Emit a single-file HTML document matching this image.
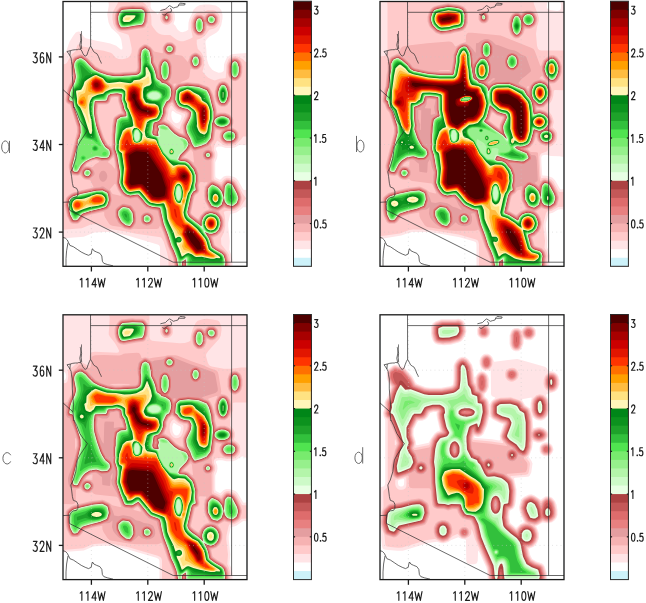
<!DOCTYPE html><html><head><meta charset="utf-8"><style>body{margin:0;background:#fff;width:646px;height:603px;overflow:hidden}svg{display:block;font-family:"Liberation Sans",sans-serif}.grid{stroke:#c8c8c8;stroke-width:0.6;stroke-dasharray:0.8 3.4}.ml polyline{fill:none;stroke:#2a2a2a;stroke-width:0.7}.frame{fill:none;stroke:#1a1a1a;stroke-width:1.3}.tick{stroke:#1a1a1a;stroke-width:1.3}.cbf{fill:none;stroke:#2a2a2a;stroke-width:1}.cbt{stroke:#1a1a1a;stroke-width:1.2}.st path{vector-effect:non-scaling-stroke}</style></head><body><svg width="646" height="603" viewBox="0 0 646 603"><defs><clipPath id="clipa"><rect x="63.0" y="1.5" width="184.0" height="264.8"/></clipPath><clipPath id="clipb"><rect x="380.0" y="1.5" width="184.0" height="264.8"/></clipPath><clipPath id="clipc"><rect x="63.0" y="314.8" width="184.0" height="264.8"/></clipPath><clipPath id="clipd"><rect x="380.0" y="314.8" width="184.0" height="264.8"/></clipPath></defs><rect width="646" height="603" fill="#fff"/><g clip-path="url(#clipa)"><rect x="63.0" y="1.5" width="184.0" height="264.8" fill="#cdf2fa"/>
<g transform="scale(0.25)">
<path fill="#ffffff" d="M987 1065l-734 0 0-1058 734 0z"/>
<path fill="#ffe4e6" d="M929 1065l-289 0 0-72-1-8-4-5-8-3-114-34-66-15-28 0-40 2-10 3-34 14-66 5-16 3 0-740 6-4 6-7 13-37 15-24 10-13 10-4 6 1 4 3 14 19 6 4 42 10 28 5 28 6 24 9 18 15 4 0 2-1 1-6-3-20-2-12-4-10-8-12-27-24-7-12-5-12-5-32 6-34 0-8-2-8 170 0-1 18 3 10 4 4 14 10 8 9 10-15 10-8 14-3 14 2 8 5 6 6 6 12 1 20-6 18 1 2 6 5 7 13 5 6 8 6 8 2 14-4 10-6 1-28 4-16 10-20 6-16 11-11 12-7 20-3 20 0 26 4 14 9 8 10 5 18 0 14-5 28-11 22-9 8-28 16-10 10-5 8 0 8 3 22 2 38 6 22 5 10 11 14 8 5 17 7 11-1 6-3 4-4 1-24 3-10 7-16 9-9 10-6 8-2 54-4 0 369-30-1-18 10-12 2-24 0-18-6-12 0-6 2-4 5 0 4 6 12 1 12-2 12-7 16 0 52 1 8 5 4 12 6 4-2 12-11 10-3 12 0 20 5 8 5 7 8 21 37 4 2 10-1 0 70-14 0-10 9-18 12-10 3-12 2-3 4-7 32 0 14 6 60-2 34 7 18 5 20 1 20zM713 491l6-5 4-7 3-10 0-6-3-3-18-7-12-9-4-1-3 6-1 12 2 12 3 8 5 7 6 4 6 1z"/>
<path fill="#ffcaca" d="M919 1065l-245 0 0-28-5-24-14-46-8-14-4-4-98-14-42-9-68-11-12-4-28-13-8-2-24 2-36 15-74 6 0-662 8-1 6-4 15-27 9-11 11-9 7-23 4-5 12 7 6 2 27 5 19 6 38 6 28 8 6 4 14 16 12 5 14 1 14-3 10-4 7-7 6-12 1-16-9-44-4-12-35-11-7-3-8-8-8-14-3-8-3-18 0-20 4-14 17-30 1-6 99 1 12 10 14 21 8 26 1 34 6 10 14 18 9 7 10 4 12 2 24 0 24 18 8 4 10 3 10 0 10-3 20-8 8-5-8-38 0-20 3-12 4-10 4-6 7-7 6-5 8-3 10-1 10 1 12-6 6-1 18 0 10 2 10 9 6 9 2 6 0 20-5 12-7 8-10 7-20 5-13 18-9 9-10 7-18 6 0 2 0 14 4 20 14 15 6 11 4 12 2 26-3 12-4 14 1 2 13 16 9 8 10 5 16 6 20-7 22-2 2-2 3-54 8-20 9-8 12-4 16 1 21 11 9 10 6 1 0 298-14 0-10 13-18 17-8 5-8 2-22 0-8-1-9-5-21-15-10 16-4 15 0 6 5 12 1 8-1 10-5 10-1 6 0 58 1 13 4 3 24 11 4-3 10-11 10-5 10 1 20 6 9 9 25 48 13 18-2 4-20 30-17 13-14 5-18-2-14 2-4 4 3 12 3 18 0 24-5 26-12 24 1 22 1 4 25 31 5 9 5 24 0 16-1 6zM669 99l-10-1-8-4-7-9-3-10 0-12 5-12 7-7 10-3 10 1 8 4 7 7 3 10 0 16-3 8-9 9zM719 515l7-20 14-30 1-8-2-2-22-7-10-4-11-11-9-11-2 0-4 3-7 12-1 16-5 24 17 15 14 14 10 7 8 3z"/>
<path fill="#f6b2b2" d="M507 123l-20 1-8-2-7-5-6-8-5-12-3-22 2-16 2-8 4-8 11-13 10-5 44-4 12 1 26 0 10 4 7 7 5 8 3 10-3 36-9 20-5 4-6 2-24 3zM669 93l-8 0-6-3-5-7-3-8 0-10 4-10 4-5 8-3 8 0 6 3 6 7 2 6 1 12-3 8-6 7zM803 143l-10 0-8-3-9-9-4-8-4-14 0-16 4-14 5-10 6-7 8-3 14 0 12 7 10-10 6-4 16-2 10 3 10 9 4 7 0 16-4 10-8 8-10 4-10 0-14-4-2 16-6 12-8 9zM913 1065l-215 0-7-32-10-26-9-20-21-62-10-20-2-1-4 9-8 3-72 0-20-1-16 5-18-4-18-8-34-5-9-4-5-6-15-24-3-8 0-12-4-1-46 10-28 9-17 20-9 7-8 2-14-1-6-2-5-4-12-24-9-40 0-10 4-20 3-6 7-7 14-10 34-10 46-11 5-2 2-2-13-26-16-2-8-2-8-7-8-10-12 3-18-2-6-3-5-7-5-20 0-12 33-132-1-22-27-84-1-2-8-4-5-4-3-6-1-6 5-34 7-20 11-22 4-16-7-38 1-18 8-18 6-7 20-8 6-1 6 1 22 14 32 33 17 10 33 11 24 4 22 0 14-2 46-2 7-3 4-14-2-46 4-20 3-8 4-5 12-10 6-3 10 1 16 10 14 18 32 7 3-2-2-12 1-10 7-12 5-5 6-3 12-1 8 2 11 9 5 8 0 14-6 16 1 2 25 3 6 3 20 23 10-25 5-6 7-4 8-3 8 2 8 4 7 7 5 10 1 14-1 10-5 10-9 9-8 3-10 0-12-5-3 1-4 30-3 8-8 6-25 10 5 2 24-3 12 2 32 3 36 13 6 4 4 5 9 16 6 18 5 26 6 24 2 12 2 1 12-2 18 1 14 5 9 7 7 8 3 10-1 14-6 14 14 8 5 4 7 8 2 8 1 12-2 6-4 8-9 9-12 5-24 0-8-3-6-4-7-7-4-8-2-6 1-12 4-14-16-4-4 0-3 10-1 14-3 16-10 16-3 6 3 8 1 10 7 12 2 8-2 10-6 10-2 6 0 74 2 2 11 4 26 14 13-16 7-5 8-1 20 6 7 6 10 16 12 26 5 18 0 10-8 22-4 5-14 9-8 4-6 0-30-8-21 14 1 4 12 16 5 12 2 10-1 18-6 16-5 8-13 13-19 9 6 26 2 4 35 21 9 9 4 6 8 26-1 16-1 6zM941 325l-10-2-9-6-8-12-4-14 0-28 5-14 4-8 4-5 8-4 8-2 12 3 10 9 5 9 4 16-1 24-4 16-12 13zM897 427l-12 0-11-6-10-14-6-18 1-24 6-20 10-15 8-4 6-2 12 2 11 7 8 14 6 20-1 20-6 20-9 14-7 4zM698 345l7-8 1-2-1-1-12 1 2 8zM445 585l2-8-1-40 2-12 0-20 6-32 5-7 12-8 16-7-14-46-1-14-1-2-4-1-8 0-13 3-7 18-3 4-5 3-8 2-26 0-4 1-3 20 0 14 7 38 6 22 12 34 6 13 10 16 8 7zM732 533l0-8-2-12 1-14 16-33 2-11-6-6-16-3-18-8-11-11-7-14-4-2-11 8-7 14-2 5 0 15-10 28 1 2 22 12 25 26 18 12 6 1zM776 649l-4-40-4-6-5-5-24 25-4 4 1 2 17 6 20 14 2 1zM460 673l-2-28-3-14-2-3-12 12-9 7 0 2 15 11 12 15zM372 667l9-10 14-8 2-2-2-2-7-4-5-1-16 3-18 10-6 8 0 2 2 1 10 1 12 3zM794 875l8-14 13-13 8-5 14-6-17-32-4-20 0-20 3-16 3-6 8-10 1-2-2-2-26-1-4 2-3 9 2 20-2 8-4 6-9 6-2 3-3 5-3 10-11 54 3 6 12 10 12 8zM485 781l-15-24-7-18-2-3-2-1-19 22 7 15 4 4 4 1 26 6 2 0z"/>
<path fill="#e49ea0" d="M511 119l-8 1-20 0-6-3-6-6-7-14-2-20 0-16 3-10 4-6 10-13 8-4 44-4 10 1 28 1 8 3 11 12 2 10-2 36-9 18-8 5-24 3zM671 90l-8 0-6-3-4-4-3-8 0-10 2-6 5-6 6-3 6 0 6 3 4 4 3 6 0 16-5 7zM805 140l-10 0-6-1-10-9-5-9-2-12 0-16 2-12 5-10 8-8 10-1 10 1 10 8 2 0 8-11 8-6 16 0 8 3 8 8 3 6 0 14-3 8-8 8-10 3-10 0-14-8-2 3-1 16-2 8-6 10zM687 219l-8 2-10-2-8-5-6-9-1-10 1-8 6-9 8-6 12 0 8 1 9 8 4 6 0 10-1 8-6 9zM909 1065l-208 0-6-32-10-26-11-22-12-40-18-46-13-54-4-3-24-4-18-7-14-14-15-20-7-6-10 0-18 4-20-7-6-4-9-9-12-18-8-24 3-42-10-59-4-13-2 0-13 18-7 5-26 2-18-6-8-1-16 4-20 12-8 10-2 6 16-1 10 2 11 9 4 6 2 6 0 6-4 6-15 12-12 1-10-3-8-8-6-13-8 7-6 1-18-2-6-5-5-12-2-12 0-8 33-128 0-22-28-92-2-3-8-3-4-4-3-6 0-6 4-32 7-18 12-24 2-10 1-10-6-32 0-18 6-16 7-8 22-9 10 2 18 12 32 34 20 11 30 10 30 5 22-1 10-1 48-3 8-4 4-14-1-48 4-24 6-8 11-8 6-3 6 0 17 11 6 8 7 28 1 20 15 31 2-17 5-14 11-12 8-2 10 1 6 3 7 8 4 8 3 12 0 28-3 18-9 16 13 12 7 12 4-1 11-11 5-3 34-4 46 4 36 13 8 8 10 22 15 58 1 18 4 2 12-3 20 0 16 7 8 8 5 10 0 14-3 8-7 10 2 2 11 3 9 5 7 8 3 8 0 12-1 6-4 7-7 7-9 5-8 0-18 0-10-5-10-10-3-10 0-14 8-14-2-2-11-1-16-5-2 4-5 40-7 10-12 15-6 4-18 8-30 9-6-1-12-10-2 1-7 10-22 22-3 6 3 2 9 1 10 3 13 10 22 26 8 22 1 28-3 18 2 22-3 6-10 7-6 9-14 64 1 6 3 4 24 19 6 2 2-1 8-16 16-16 8-3 18-3 3-2-12-8-11-18-5-10-2-18 0-20 2-16 4-6 15-15 6-2 8 1 20 10 10 8 2-1 12-18 6-5 8-1 16 4 6 4 4 5 20 38 5 16 0 8-5 20-6 8-16 11-8 2-22-4-10-5-22 14-6 2-8 0 2 0 12 9 12 15 5 16 0 18-4 16-6 10-13 12-20 8-2 4 8 27 3 5 11 8 24 14 9 8 4 6 6 24 0 16-1 6zM789 276l-12 0-7-3-8-10-4-12 0-12 5-14 6-6 10-5 8 0 8 5 6 6 5 10 0 16-1 8-6 9zM943 322l-8 0-10-6-8-11-3-12 0-30 2-10 9-14 6-4 6-1 11 1 9 7 5 7 4 16 0 24-3 14-4 6-5 6zM899 424l-14 0-10-6-9-15-4-18 0-20 6-20 9-12 12-5 10 0 10 7 9 14 4 18 0 20-5 18-8 13zM448 591l2-14 0-40 1-12 1-20 4-30 5-6 14-10 6-3 10-1 2-2-7-16-3-14-7-18-1-17-2-2-4-1-10 0-12 2-4 2-6 18-4 4-4 3-38 1-2 4-2 20 0 14 6 36 7 26 13 36 16 28 16 12 2 1zM737 537l-3-22 0-14 17-36 2-12-4-4-6-4-14-2-18-8-10-10-10-18-2-1-2 0-14 11-8 16-1 4 0 16-12 30 2 2 23 12 24 25 16 11 14 5 4 1zM835 641l-8 0-6-2-6-6-3-6-1-8 1-8 7-8 6-3 8-1 8 2 8 7 3 7 0 10-3 6-6 7zM415 727l-6 0-6-4-4-6-3-10 1-9 2-5 6-8 6-2 5 0 6 4 5 8 2 7 0 7-4 10-6 6zM311 892l-18 0-8-3-4-4-10-20-9-44 4-26 5-7 14-11 10-5 28-8 58-13 19-2 7-3 6 0 25 17 4 6 2 10 3 22-5 20-9 14-8 5-60 15-26 8-6 5-14 18zM523 916l-8 0-16-4-5-3-21-18-11-22-1-20 1-12 7-8 12-9 8-4 8-1 22 5 4 1 6 6 13 20 3 26-1 16-2 6-10 14zM597 901l-10 2-10-3-8-5-5-10-1-14 1-8 7-8 10-5 10-1 10 3 10 9 3 8 1 10-3 10-7 8z"/>
<path fill="#e88080" d="M507 117l-20 1-6-2-6-5-8-14-2-18 0-16 3-12 9-13 5-5 5-2 44-4 10 1 28 1 8 3 8 11 3 10-3 34-8 16-6 4-24 3zM669 87l-6 0-4-2-5-6-1-6 0-8 2-6 4-4 6-2 6 1 4 2 3 5 1 4-1 14-3 5zM803 137l-8 0-6-2-8-7-4-8-2-11 0-16 2-12 6-10 4-4 4-2 12 0 6 3 10 13 2 0 4-14 8-8 4-2 8-1 8 1 4 2 7 6 3 6 0 14-4 8-8 7-12 1-10-4-10-10-2 0-2 32-7 12zM683 217l-8 1-8-3-6-5-4-8 0-9 2-8 6-7 6-3 16 1 9 7 3 6 0 10-2 8-6 7zM907 1065l-203 0-6-32-11-28-10-20-12-40-18-46-8-34-3-18-3-6-6-3-22-3-18-7-13-13-16-20-9-8-28 4-20-6-13-12-10-14-5-10-4-14-1-10 4-36-5-24-7-42-8-24 1-22-1-40 2-12 1-20 4-28 3-6 15-10 6-2 12-1 2-3-1-4-6-10-3-8-1-10-7-20-1-16-3-4-14-1-16 2-6 5-4 16-6 5-6 2-32 0-3 1-2 4-2 22 0 14 6 36 7 24 13 38 7 14 10 16 15 12 5 8 3 12-3 10-9 12-7 4-24 2-22-7-20 5-19 10-11 12-11 22-9 12-6 2-14-2-4-1-4-3-4-8-2-12 0-10 11-40 14-62 8-26 0-22-7-26-17-50-5-18-2-4-8-3-4-3-2-4-1-6 5-32 7-18 11-22 3-10 1-12-6-34 0-16 6-16 6-6 20-8 8 1 18 12 14 16 20 19 18 10 32 11 30 4 22 0 10-1 50-3 6-3 4-4 3-12 0-20-2-12 0-18 5-22 4-7 12-9 4-2 6 1 15 9 5 8 7 28 0 20 11 20 7 18 5 21 2-1-2-8 1-34 6-18 9-9 8-2 10 2 8 9 4 8 3 12 0 28-4 16-10 16 17 15 6 16 2 1 14-15 6-5 34-5 46 5 34 12 8 8 10 22 7 34 7 24 2 21 4 1 14-4 18 0 16 6 8 8 4 10 0 14-5 8-13 10 1 2 21 3 9 5 7 8 2 8 0 12-4 8-7 8-9 4-12 1-12-1-9-4-6-6-4-6-1-6 0-10 4-10 11-12-21-2-10-2-10-5-2 0-1 3-3 30-2 16-18 23-26 12-26 7-8-2-8-9-2-2-2 1-9 14-24 24-3 8 2 3 14 1 8 2 12 9 21 25 5 10 4 14 1 28-3 16 2 22-4 6-8 5-7 11-14 62 0 6 3 6 14 13 20 13 2 0 2-2 8-18 11-12 7-5 12-3 14 0 16 5 10 8 8 11 4 14 1 16-7 22-16 16-22 7-2 3 9 32 3 5 12 9 24 14 12 12 6 24 0 14-1 8zM787 273l-10 0-6-3-7-9-4-12 1-10 4-12 6-6 10-4 6 0 8 5 6 7 2 8 0 16-1 6-8 10zM941 319l-8-1-7-5-7-10-3-12 1-28 2-10 8-12 6-4 6-1 8 2 9 7 3 6 5 16-1 22-3 14-9 11zM897 421l-11 0-9-5-8-13-4-18 0-20 5-18 8-12 11-4 10 0 8 6 8 12 4 18 0 18-4 18-8 13zM742 543l-5-28 0-12 1-6 16-32 2-10-1-4-10-8-14-2-19-8-9-10-12-25-2 0-7 9-11 8-9 18-1 4 1 10-1 6-4 12-11 22 11 2 18 10 24 25 18 12 20 7zM624 521l1-4-2-4-2 2 0 7 2 1zM837 637l-8 1-6-2-6-6-2-5-1-8 2-6 6-6 5-2 8-1 6 3 6 5 2 5 0 8-2 6-5 6zM355 713l-8 0-8-2-7-6-3-6-1-12 2-6 7-7 6-3 10 0 8 2 7 6 3 8 0 8-3 8-7 7zM871 839l-6 0-22-8-4-4-11-18-3-8-3-18 1-18 3-16 14-16 7-4 6 0 20 10 14 12 2-1 6-13 10-12 8-2 16 4 6 5 8 13 14 30 4 14 0 6-6 21-4 5-18 12-6 0-18-4-12-7-18 14zM309 889l-16 0-6-2-4-4-10-20-9-44 5-22 5-8 13-10 8-4 30-8 58-13 28-1 25 12 2 4 3 10 3 14 0 10-6 18-8 12-11 6-54 13-28 9-5 4-15 19zM521 913l-22-4-16-13-8-9-10-20-1-18 1-10 5-6 19-14 6 0 26 5 5 5 13 20 3 24-1 14-2 6-9 14-5 4zM591 899l-8-1-10-4-4-5-3-8 0-12 2-6 7-7 10-4 8 1 9 4 7 8 3 8-1 8-4 9-6 6z"/>
<path fill="#de6c6c" d="M501 115l-14 0-6-2-5-4-6-14-3-18 1-14 3-12 10-13 8-5 42-4 10 2 28 0 7 4 8 12 1 14-3 26-7 15-6 3-24 2zM671 83l-6 2-4-2-5-8-1-6 1-6 3-5 4-2 8 1 5 6 0 14zM853 98l-8 1-8-2-6-5-5-7-1-6 1-8 4-6 5-4 6-2 12 1 5 3 5 6 2 8-1 10-5 7zM805 133l-10 2-6-3-8-9-3-12-1-16 3-12 6-12 7-4 8 0 6 3 6 7 4 10-1 30-4 10zM685 214l-6 1-8-1-6-4-5-7-1-8 1-6 5-7 6-4 10-1 6 2 6 5 3 5 1 8-1 6-5 7zM905 1065l-167 0-1-14-2 0-1 2 0 12-27 0-7-34-10-26-11-22-12-40-17-46-14-58-9-4-22-3-16-6-12-12-16-20-10-9-12 0-18 4-18-6-13-12-10-14-5-10-4-14 4-44-5-24-7-44-7-18-1-8 1-18-1-40 2-10 0-22 5-28 3-5 14-9 6-2 12 0 3-4-1-8-8-12-3-16-6-18 0-18-3-4-8-2-10 0-18 3-6 5-5 16-3 4-6 2-36 0-3 2-1 4-2 38 6 36 7 24 14 40 7 14 10 16 14 11 5 7 3 12-3 10-8 10-7 4-22 1-16-5-6-1-22 7-19 10-11 10-5 8-11 22-4 4-4 2-14-2-6-4-3-8-3-18 14-50 11-54 4-10 5-16 0-24-30-96-2-3-8-2-4-3-2-8 5-30 6-18 12-24 3-10 1-10-7-36 0-14 5-14 6-8 19-7 8 1 17 12 12 14 21 20 20 11 30 10 30 5 24 0 12-2 48-2 8-4 5-6 3-18-2-44 5-22 4-6 11-8 4-1 4 1 13 8 4 6 7 28 1 20 11 22 5 16 4 20 3 5 6 2 3-1-3-16 0-32 5-14 6-8 5-3 4-1 6 1 4 2 8 11 4 14 0 26-3 14-5 11-10 9 20 15 3 5 5 22-2 18-7 16-4 4-7 4-10 18-3 8 1 12-4 14-9 18-10 12 19-1 14 6 7 5 22 24 15 10 8 4 28 9 0-3-7-16-3-16 0-12 17-36 3-10-1-6-3-4-10-7-14-2-12-4-6-4-10-11-7-16-1-6 2-24 3-14 3-5 14-12 32-5 46 5 36 14 9 15 4 12 7 32 7 24 1 22 2 4 2 1 18-7 16 0 16 6 8 7 4 9-1 14-7 9-10 6-10 3-16 0-12-3-14-9-2 4-2 36-3 14-5 9-12 14-24 11-28 8-6-3-8-11-4-2-11 18-23 24-6 12 4 4 14 0 8 3 12 8 21 25 5 10 4 14 0 26-3 16 3 20-4 6-8 4-8 14-14 62 0 6 4 8 14 12 24 17 2 1 1-2 6-18 5-7 12-12 14-4 14 0 16 5 9 8 6 10 5 14 0 14-2 10-5 12-15 14-14 5-10 2-3 1 0 2 8 20 4 16 3 6 12 8 24 13 12 13 6 22 0 12zM789 269l-8 2-7-2-6-6-4-12-1-10 4-12 5-6 7-3 6 0 6 2 6 6 3 7 0 20-4 8zM943 316l-8 0-7-5-6-10-3-10 0-26 2-10 7-12 5-3 6-1 8 2 7 6 4 8 3 12 0 22-3 12-7 9zM899 418l-6 1-6-1-8-4-7-11-5-18 0-18 5-18 8-12 9-4 10 1 7 5 6 10 5 18 0 18-4 16-7 12zM624 535l5-18-4-12 2-8-2-2-4 2-1 2-4 32 1 4 2 1zM923 569l-20-1-9-7-6-8-1-10 2-8 5-8 11-7 14-1 10 1 10 6 7 9 1 14-3 8-11 10zM839 633l-6 2-6-1-8-7-2-6 1-6 7-8 6-2 6 1 8 7 2 6-1 6zM357 709l-6 2-8-1-7-5-4-6-1-10 1-6 6-6 5-3 8-1 6 1 7 5 4 6 1 6-1 6-4 6zM873 836l-6 0-22-7-5-4-10-18-3-8-2-18 0-16 4-16 14-15 4-2 4 0 22 10 14 15 4 1 4-17 11-14 7-1 16 5 5 4 8 14 12 24 4 16 0 8-5 18-4 5-11 7-9 4-20-5-12-10-2 1-6 9zM303 887l-10 0-6-3-11-23-9-42 5-22 5-7 12-9 6-3 30-8 58-13 28-1 20 9 4 4 4 12 2 12 0 10-6 18-8 11-10 4-52 13-30 10-4 2-18 23-4 2zM523 909l-6 1-16-4-4-2-18-16-11-21-1-20 2-8 13-12 9-5 28 5 5 4 12 18 3 24-1 14-10 18zM595 895l-6 2-10-3-6-4-3-7-1-12 2-6 5-6 7-3 8-1 8 3 6 6 3 7 1 8-2 6-6 7z"/>
<path fill="#c45858" d="M509 111l-10 2-16-1-5-5-6-12-3-18 1-12 3-12 8-12 8-5 42-4 36 1 6 3 9 11 1 10-3 28-7 15-4 2-24 3zM669 82l-7-1-4-8 1-10 2-3 4-2 6 2 3 5 0 10-2 4zM851 96l-8 0-6-2-6-5-3-6-1-6 2-6 4-6 4-3 8-1 8 1 9 9 1 10-2 6-4 5zM803 132l-8 0-6-3-6-8-3-12-1-14 3-12 6-10 5-3 8 0 4 2 5 5 4 10 0 28-4 10zM683 212l-6 1-6-2-5-4-4-6-1-6 2-6 4-6 4-3 6-1 8 1 9 9 1 8-2 6-4 5zM901 1065l-160 0 0-17-2-3-7 4-1 16-22 0-6-34-10-26-11-22-13-41-17-45-8-34-5-25-2-3-30-5-16-6-12-11-16-20-12-12-30 5-16-5-12-10-11-16-4-8-5-16 4-32 0-12-5-24-7-42-7-22-1-14 2-8-2-10 0-26 2-14 0-20 6-30 16-12 6-2 13 0 3-4-1-8-8-14-3-16-7-18-1-10 2-10-2-3-16-3-10 0-14 2-8 6-4 16-4 4-6 2-36 0-3 2-1 2-2 42 8 46 12 37 12 29 12 19 14 12 5 7 2 12-4 10-5 6-6 3-20 2-16-4-8-1-22 6-19 10-11 10-6 8-12 22-4 4-16-1-5-3-2-8-2-16 13-49 9-39 1-16 6-10 4-14 0-26-8-29-17-49-5-20-2-3-11-3-2-4-1-4 5-30 6-16 13-26 4-18-7-38-1-12 3-10 7-11 16-7 8 0 18 12 12 14 21 20 21 12 30 10 30 4 26 0 10-2 50-2 10-6 4-5 2-19-2-44 5-22 5-6 12-7 4 1 13 10 4 8 4 22 1 22 9 16 8 20 5 24 4 4 11 6 5 6 16 5 16 12 5 9 3 14-3 18-4 12-5 7-8 5-13 24-1 4 1 14-4 12-8 16-9 9-15 5-2 2-5 34 1 6 5 4 7 0 2-2 0-8 4-12-4-12 2-6 13-3 12-2 18 9 24 26 14 10 8 4 16 5 13 7 10 16 0 8-8 16-25 26-7 14 0 2 3 3 20 2 8 3 8 6 8 8 13 18 8 22 1 26-3 16 2 20-2 4-9 4-8 14-14 62 0 9 6 11 36 28 6 3 9-27 11-12 8-5 12-3 10 1 16 6 9 9 5 8 4 16-1 12-6 18-15 15-14 4-16 0-1 1 8 16 10 32 14 10 25 14 9 10 7 24-1 12-1 8zM787 268l-8 0-6-3-4-6-3-10 0-8 4-12 5-5 6-2 4 0 6 3 5 6 2 6 0 18-3 6zM665 322l-8 1-8-6-3-4-5-16 1-34 6-14 5-5 6-3 6 1 6 6 5 9 3 12 0 24-3 12-4 10zM941 314l-6-1-6-5-6-9-2-10 0-24 3-10 6-10 9-4 6 1 7 7 6 14 1 6 0 18-3 12-7 10zM897 416l-10 0-7-5-6-10-5-18 1-16 4-16 8-12 9-4 6 1 7 5 6 10 5 18-1 16-4 16-7 11zM783 593l-6 0-3-2-12-18-5-17-13-27-3-16 1-10 17-36 2-10 0-8-6-6-8-5-14-2-18-7-9-10-8-18 1-26 3-16 11-12 6-3 12-1 18-4 44 5 35 13 6 8 8 18 7 34 7 24 1 26 2 4 20-9 18 0 8 2 10 5 5 6 2 6 0 10-3 8-10 7-12 4-14 1-12-3-6-3-10-10-2-1-2 5-3 42-2 12-4 8-9 12-6 5-22 9zM929 566l-22 0-6-2-6-5-5-8-1-8 1-6 6-8 11-7 12-1 8 1 12 7 5 10 0 12-5 8zM837 632l-4 1-6-1-7-7-1-6 1-4 7-7 6-1 4 1 7 7 1 6-1 4zM355 708l-10 0-6-3-5-6-1-6 1-8 9-9 8-1 6 2 5 4 4 6 0 6-2 6zM871 834l-18-4-8-4-13-21-2-6-3-18 0-14 3-16 15-15 6-2 22 11 18 20 2-1 2-5 2-16 10-13 6-2 14 4 4 4 7 11 14 28 4 18-5 20-8 8-8 5-6 2-20-4-14-14-7 13zM309 884l-12 1-7-2-3-4-9-18-9-40 5-22 3-6 12-10 8-3 30-8 56-12 28-2 21 11 4 12 3 20-5 16-7 12-10 5-54 13-31 10-3 3-14 19zM521 907l-4 1-16-4-14-11-7-8-10-20-1-16 1-8 13-12 8-4 27 4 16 22 3 22-1 12-2 6-8 12zM593 893l-6 1-8-3-5-4-2-6 0-14 5-6 8-3 6 0 7 3 6 6 2 6 0 6-2 6-5 5z"/>
<path fill="#ac4242" d="M509 109l-8 2-16-1-4-3-7-12-3-18 1-12 3-12 9-12 7-4 40-3 36 1 6 3 7 11 1 12-3 24-7 14-4 2-23 2zM669 79l-4 1-2-1-3-6 0-8 5-5 4 1 3 4 0 10zM851 94l-6 1-6-2-5-4-4-6-1-4 1-6 4-6 5-3 12 0 6 4 3 5 0 12-4 6zM803 129l-8 1-6-4-5-7-3-12 0-12 3-12 5-8 6-4 6 1 5 3 4 6 3 8-1 26-4 10zM683 210l-4 1-6-1-6-4-3-5-1-4 1-6 4-6 5-3 8-1 4 2 7 8 1 6-2 6-3 4zM899 1065l-156 0 0-21-2-4-11 7-1 18-18 0-6-34-11-28-10-22-13-40-17-46-15-62-30-4-18-7-11-11-27-31-4-1-28 5-14-4-6-4-7-7-10-14-4-8-5-16 4-32 0-12-5-24-7-42-8-22 0-14 2-8-2-14 2-56 5-28 3-4 14-9 18-1 3-2 1-2-2-12-7-12-3-8-1-10-7-18 0-10 2-10-2-3-16-3-12 0-14 2-6 3-4 5-4 14-4 5-41 1-3 1-2 5 0 16-2 8 0 19 8 45 12 38 12 28 12 20 15 12 4 6 2 12-5 12-4 4-6 2-18 1-22-5-8 2-16 5-20 10-12 11-7 8-13 23-4 1-10 0-5-4-4-16 0-6 17-66 4-22 1-14 7-12 4-14 0-28-8-28-17-48-5-22-4-4-10-2-2-6 5-28 6-18 12-24 5-20-8-40 0-10 3-10 7-10 16-7 6 1 16 11 12 14 22 21 22 12 30 10 30 4 26 0 10-2 50-2 14-8 2-4 2-14 0-16-2-18 0-16 3-14 3-8 4-5 10-5 8 3 8 7 3 8 4 20 1 22 11 20 6 16 5 25 2 3 14 8 4 6 18 6 15 10 4 8 3 16-3 16-4 12-5 6-8 4-12 24-2 6 1 14-4 12-7 14-8 9-19 7-5 36 0 6 2 3 4 2 14 1-1-12 4-12-4-14 5-4 20-2 18 9 7 9 19 18 18 12 16 5 10 4 7 7 6 12 0 4-1 4-9 16-24 24-7 16 6 5 20 2 14 8 7 7 14 18 9 22 0 26-3 16 2 20-3 3-7 3-8 14-15 64 0 9 4 9 3 4 37 29 8 4 2-3 1-12 5-14 8-9 8-7 12-4 10 0 16 6 9 8 5 8 4 16 0 12-7 18-13 13-12 4-8 1-14-3-3 1 12 20 11 34 14 10 24 13 10 11 6 24-2 18zM787 265l-6 2-6-3-5-7-3-10 1-6 3-10 4-4 6-3 4 0 6 4 4 5 2 6-1 16-4 6zM665 319l-8 1-6-4-3-5-5-14 1-34 6-14 5-4 4-2 6 2 5 4 4 8 3 12 0 24-3 12-4 10zM941 311l-6 0-4-4-5-8-3-10 0-24 3-8 5-10 8-4 6 2 6 6 6 18 0 18-3 12-6 8zM897 414l-8 0-6-3-7-10-5-18 1-16 4-16 7-10 8-4 8 2 7 8 4 10 3 12 0 14-4 16-6 10zM781 591l-6-2-9-14-7-20-13-24-3-18 1-12 17-34 2-10 0-8-6-6-8-6-16-3-16-6-9-9-8-18 1-26 3-14 5-7 10-8 12-1 18-4 42 4 36 14 4 4 7 16 15 54 2 10 0 26 2 8 8-7 10-4 8-3 12 0 10 3 8 4 5 5 2 6 0 10-4 8-11 7-10 3-14-1-12-3-9-8-5-10-2 0-4 10 0 22-4 32-5 10-13 14-22 9zM929 564l-6 1-16-1-10-6-5-7-1-6 1-6 5-8 10-7 10-1 10 1 11 7 4 8 0 10-4 8zM837 629l-8 1-6-5-1-8 5-6 8-1 6 5 1 8zM355 705l-4 2-6-1-6-4-3-5-1-8 2-4 8-7 6-1 6 2 4 3 3 5 0 4-1 6zM871 831l-4 1-20-7-13-20-2-6-3-18 0-14 4-16 14-14 4 0 4 1 16 8 6 6 11 13 5 13 4-19 1-12 9-14 2-2 4 0 14 4 10 14 11 22 6 18 0 6-5 18-6 5-12 7-20-3-5-3-8-10-3-9-8 21zM309 881l-10 2-8-2-11-20-9-40 5-22 3-5 12-10 6-2 30-8 56-13 28-1 20 11 3 10 3 20-5 16-7 11-8 4-54 13-31 10-5 4zM519 906l-18-5-14-11-6-7-9-18-1-18 2-6 18-14 10 0 16 4 15 20 3 22-1 12-11 18zM591 892l-4 0-8-3-5-8-1-10 2-4 4-4 6-3 6 0 6 2 5 5 2 6 0 6-2 6-5 4z"/>
<path fill="#e8ffe4" d="M503 109l-18 0-4-4-6-12-2-16 0-10 3-12 9-13 6-3 40-3 36 1 6 3 6 9 0 12-2 24-7 12-3 2-24 3zM667 78l-4-2-2-5 2-7 4-2 3 3 1 4-1 6zM851 92l-4 1-6-1-5-3-4-6-1-6 1-4 3-5 4-3 12 0 8 8 0 6-1 6-3 4zM803 127l-6 2-7-4-4-6-3-12 0-12 2-10 4-8 6-4 6 1 4 2 6 13 0 26-4 8zM683 208l-6 1-4-1-4-3-3-4-1-4 1-6 3-5 4-3 10 0 8 8-1 10-3 4zM899 1065l-154 0-1-24-1-4-15 10-1 18-14 0-7-36-11-28-10-20-12-39-18-47-14-63-4-2-28-3-16-6-11-10-16-20-13-13-6 0-26 4-14-4-11-9-11-16-8-22 3-32 0-12-12-68-7-22-1-10 2-10-2-16 3-52 5-30 15-11 20-2 3-3-1-13-8-15-3-16-7-18-1-8 2-12-1-4-18-4-12 1-16 2-9 7-4 14-3 5-6 1-36 1-3 1-2 4-2 26 0 20 8 46 11 36 14 32 12 19 14 10 3 5 2 12-4 10-3 4-6 2-18 1-14-3-10-1-22 7-20 10-12 10-8 9-10 19-4 4-10 0-5-2-3-6-2-16 17-66 5-22 0-14 7-10 5-20-1-28-24-72-7-24-2-3-10-2-2-5 4-28 7-18 12-24 4-20-7-40 0-8 1-8 7-12 14-6 8 0 16 11 10 12 22 22 22 11 32 11 28 5 30 0 10-2 48-3 10-4 7-7 2-16 1-18-2-30 4-22 4-5 10-6 14 9 4 8 4 22 1 20 10 20 6 16 6 26 3 4 11 6 7 8 16 4 16 12 4 8 2 14-2 16-5 12-3 4-8 4-2 2-12 24-1 6 0 14-4 12-7 14-6 7-18 6-3 3-5 36 1 8 3 3 4 2 14 2 3-1-2-14 4-12-4-10 0-4 11-4 12-1 16 8 9 11 18 18 17 11 18 5 10 5 5 5 6 14-1 6-8 14-25 26-7 16 0 2 6 4 22 3 6 2 8 6 20 25 8 22 0 24-3 16 3 18-2 3-8 4-9 15-15 66 1 8 7 13 48 37 2-2 0-16 5-14 4-6 11-10 12-4 8 0 16 5 9 7 6 10 4 14-1 12-7 18-11 11-16 5-8 0-12-4-6-3-1 1 16 26 11 34 14 10 26 15 8 9 6 22 0 10zM787 263l-6 2-5-2-4-6-3-10 0-6 4-10 4-4 4-1 4 0 5 3 3 4 2 6 0 14-3 6zM665 317l-6 2-7-4-3-6-4-14 0-30 6-14 4-4 4-2 6 2 4 4 4 8 2 12 0 20-2 14-4 8zM941 310l-6-1-4-4-4-6-2-10 1-28 5-12 8-4 6 2 4 4 6 18 0 18-2 10-5 8zM893 413l-8-2-5-6-4-10-3-14 0-12 5-18 7-10 6-2 7 2 6 6 4 10 3 14 0 12-5 18-7 10zM783 589l-6 0-9-14-7-20-13-24-3-18 1-12 16-32 3-20-8-8-9-6-15-3-16-6-8-9-8-18 2-24 2-14 5-6 9-8 32-4 44 5 32 13 7 12 5 12 15 62 0 30-6 18-1 24-4 34-16 20-22 10zM895 507l-12 0-8-2-6-2-5-4-5-6-2-6 1-6 4-6 11-7 12-3 14 1 15 7 3 4 2 6 0 6-2 6-8 7zM925 563l-18 0-6-3-6-7-2-6 0-8 4-6 8-6 8-2 12 0 10 5 4 5 2 8-1 8-7 9zM837 627l-6 2-6-4-2-6 4-6 6-2 6 4 2 6zM355 703l-4 2-6-1-5-3-3-4 0-10 8-8 10 1 4 3 3 4 0 8zM931 824l-8-1-14-4-8-10-2-4-3-16 3-40 3-8 9-9 14 4 4 3 19 36 5 16 0 4-6 17zM871 830l-6-1-18-6-14-24-2-28 2-18 10-11 6-4 18 8 9 7 11 14 7 22 0 6-8 24zM305 881l-10 0-3-2-11-20-8-38 4-22 4-5 10-8 6-2 30-9 58-12 26-1 18 9 4 12 2 18-5 16-6 10-7 3-56 14-30 10-4 3-16 21zM519 904l-16-3-15-12-5-6-9-18-1-8 1-14 11-11 6-3 4-1 20 4 4 3 11 16 3 24 0 10-10 16zM593 889l-6 1-6-2-4-3-2-4 0-12 4-5 6-3 4 0 6 2 5 4 3 6 0 4-2 6-4 4z"/>
<path fill="#cdfac8" d="M505 107l-14 1-6-1-4-4-4-10-3-16 0-10 4-12 8-12 7-3 38-3 34 1 7 3 6 10 0 10-3 24-6 11zM667 76l-2-1-2-4 0-4 2-2 2-1 3 5-1 4zM849 91l-8-1-4-2-3-5-1-8 2-4 4-4 6-1 6 1 6 6 1 6-2 6-3 4zM799 128l-6-2-4-5-5-16 0-10 4-12 3-6 6-3 4 1 4 4 5 12-1 24-4 8zM681 207l-8-1-4-3-2-4-1-4 3-6 6-5 8 1 5 4 2 4-1 6-2 4zM897 1065l-151 0 0-26-1-4-2-1-16 12-1 19-12 0-7-36-10-27-10-21-14-42-16-44-15-64-3-2-30-3-16-6-10-9-16-20-14-14-6 0-26 4-14-4-12-10-9-14-8-22 3-32 0-14-5-24-4-32-3-12-7-18 0-8 1-14-1-10 0-28 2-10 0-22 5-26 3-4 11-7 6-2 16-1 3-4-1-12-9-16-3-16-7-18 0-8 1-12 0-4-2-2-12-3-14 0-20 3-10 7-5 15-3 4-40 1-4 2-2 5-3 26 0 20 7 37 6 23 14 40 8 16 11 18 13 10 4 4 2 12-4 9-4 4-4 2-18 1-24-4-22 7-20 9-12 10-9 10-13 22-10 1-4-2-2-5-3-14 18-68 4-22 1-14 6-10 5-20-1-28-25-74-5-22-4-4-8-2-2-4 4-28 5-16 13-26 5-20-8-40 0-8 2-8 7-12 12-5 8 1 15 10 10 12 23 22 22 12 30 10 30 5 30 0 10-2 22 0 10-2 18 0 14-9 3-4 2-16 0-20-2-14 0-14 5-22 4-4 8-5 6 3 8 6 7 28 1 22 9 18 7 18 6 26 14 9 6 8 18 5 14 10 4 8 3 14-3 16-4 10-4 6-8 4-13 26-1 6 1 12-4 12-8 16-7 7-17 5-3 4-5 36 1 8 3 4 4 2 17 3 3-1 1-4-3-12 4-10-4-14 1-2 8-2 12-1 16 8 7 9 19 19 18 12 18 5 8 4 6 6 6 12-4 10-5 10-25 24-8 18 2 4 6 4 20 1 6 2 10 7 19 24 8 22 0 24-3 16 2 18-9 6-9 16-15 66 1 8 4 10 4 4 52 41-1-19 4-16 3-6 12-11 14-4 8 0 16 6 7 7 4 6 4 12 0 10-4 18-5 8-10 9-14 4-8 0-10-3-10-7-2 1 0 2 3 6 14 20 11 34 2 4 15 10 23 13 9 9 6 22 0 10zM783 264l-4-1-4-4-5-14 5-14 6-4 4 1 5 3 2 4 2 6-2 14-4 6zM661 318l-6-2-4-5-5-18 1-28 4-12 4-5 4-2 6 2 3 5 3 6 3 14 0 18-3 14-4 8zM943 307l-6 1-4-3-4-6-3-10 1-26 5-12 3-3 4-2 6 2 4 5 5 16 0 16-3 12-3 6zM895 412l-8-1-6-6-4-10-3-14 0-12 4-16 7-10 6-3 6 2 6 7 5 10 2 12 0 12-4 16-5 8zM785 587l-4 1-4-1-8-13-6-19-14-26-3-16 1-10 16-34 4-20-8-8-10-7-14-2-18-7-7-8-8-18 2-24 3-14 8-9 6-4 30-4 42 5 32 12 4 6 8 18 15 60 0 32-5 18-1 22-4 34-5 8-12 14-20 8zM897 505l-14 1-10-3-6-3-6-7-2-6 1-6 2-4 11-8 12-3 12 1 16 7 5 9-2 10-5 6zM927 561l-18 1-6-3-4-3-4-7-1-6 1-4 4-6 10-6 8-1 8 1 11 6 4 8-1 8-4 7zM833 628l-6-2-3-5 2-6 5-3 6 2 3 5-2 6zM351 704l-8-3-5-6 1-8 4-5 4-2 6 1 4 2 4 6-2 8-4 5zM933 821l-6 1-16-3-4-4-7-10-2-20 2-36 3-6 8-9 12 2 4 3 19 36 5 16 0 4-5 16zM873 827l-6 1-18-5-4-4-11-20-2-20 2-24 4-6 11-9 6 2 17 9 12 14 4 10 4 18-5 20-2 6zM305 880l-8 0-4-2-11-21-8-36 4-20 3-5 11-9 7-3 28-7 58-13 26-1 18 10 3 10 2 18-5 16-6 9-22 8-40 9-31 10-5 4-15 20zM519 902l-16-3-14-11-5-7-9-18-1-14 1-6 16-13 8 0 16 3 14 20 3 30-7 12zM595 887l-6 1-4 0-7-5-2-4 0-8 5-6 6-3 4 1 8 6 3 6-1 4-2 4z"/>
<path fill="#b4f5aa" d="M511 105l-12 2-12-1-4-3-5-10-3-17 0-9 4-12 8-11 6-3 38-2 34 1 6 2 5 9 1 8-3 24-5 11-4 2-22 3zM667 73l-2-2 0-3 2-1zM849 90l-4 0-4-1-6-7-1-7 5-6 10-1 6 5 1 4 0 6-3 4zM801 125l-6 0-5-4-4-16 0-10 2-10 5-8 4-1 4 1 2 2 5 12 0 22-3 8zM681 206l-7-1-6-6 0-4 1-4 6-5 8 1 5 6-1 8zM895 1065l-147 0-1-28-2-5-4 2-6 5-8 5-2 5-1 16-8 0-8-36-10-28-10-20-13-42-17-44-14-64-5-3-14-1-16-2-16-6-10-10-28-33-8 0-26 4-14-4-10-9-10-15-4-9-4-14 3-30 0-14-9-58-10-28 0-8 1-14-1-16 3-52 4-28 4-4 11-7 20-1 4-4-1-14-9-17-3-15-7-18 0-8 1-14-1-4-2-2-12-2-14 0-20 3-11 7-5 16-2 2-42 2-4 4-2 4-2 26 0 20 7 38 6 22 13 40 8 16 11 18 17 14 3 12-4 8-3 4-6 2-16 0-16-3-10 0-22 7-20 10-12 10-8 10-12 20-6 2-7-2-2-6-2-12 17-66 4-24 1-12 7-12 4-20 0-28-25-74-6-22-3-5-8-2-3-3 4-28 6-16 12-24 5-22-8-46 1-8 7-12 14-6 6 1 14 10 9 11 23 23 24 12 30 11 30 4 30 0 10-1 22-1 10-2 18 0 14-8 4-6 2-36-1-14 0-14 4-20 3-4 8-5 4 1 8 6 3 6 4 22 1 22 10 18 7 18 6 26 3 4 11 6 5 7 20 7 14 10 3 6 2 14-2 16-4 10-3 4-6 2-4 4-12 25-2 7 2 12-4 12-7 14-7 7-18 6-3 3-5 36 0 10 3 4 5 3 10 1 10 4 4-1 2-5-3-14 3-10-5-10 0-4 9-3 8-1 17 8 9 12 16 17 18 11 16 4 10 4 4 3 4 5 4 12-6 13-6 7-23 20-8 18 3 6 8 5 20 1 6 2 8 6 20 24 4 8 4 14 0 22-3 18 1 18-8 5-9 17-15 66 0 8 4 9 4 5 31 24 25 23 1-3-3-14 0-12 6-15 10-11 8-4 14-2 16 5 8 7 4 7 4 11 0 12-5 18-7 8-8 6-16 4-16-4-10-8-2 0 0 2 3 10 16 22 12 36 15 11 24 13 8 9 4 11 2 12-1 8zM785 261l-4 1-4-2-5-13 0-6 3-7 6-5 4 0 4 3 3 9 0 12zM663 315l-6 0-4-3-5-17 0-28 5-14 6-5 4 1 4 4 3 6 2 12 0 20-2 12-3 8zM943 305l-4 2-4-2-4-6-3-10 0-26 5-11 6-4 4 1 4 4 5 16 0 16-2 10-2 6zM897 409l-4 2-4-1-6-5-4-8-4-16 0-12 5-16 5-8 6-3 6 2 6 7 6 20 0 12-3 12-3 8zM787 585l-8 1-8-11-7-20-14-26-2-16 0-10 17-34 3-18-1-4-9-8-9-6-14-2-16-6-8-9-8-17 2-22 2-14 4-6 10-7 30-5 42 5 32 13 11 22 15 62 0 30-5 18-1 22-5 34-4 8-11 12-20 9zM628 395l8-4 4-6-1-6-6-6-10-3-12 0-12 5-5 6 1 7 7 5 11 3zM899 504l-6 1-10 0-14-5-5-5-3-6 0-4 2-6 4-5 6-3 12-4 12 1 14 6 5 7 0 10-5 7zM551 563l4-5 2-5 0-18-4-10-6-4-4 2-2 3-4 17 3 12 3 7 4 2zM927 560l-18 0-8-4-4-5-1-6 1-6 2-4 8-6 6-1 10 0 11 5 4 6 0 8-4 8zM835 625l-4 1-4-3-1-4 3-4 4-1 4 3 1 4zM353 701l-4 1-3-1-6-6 1-8 6-5 8 1 5 6-1 6zM933 820l-6 1-16-4-9-12-3-20 3-34 2-8 7-7 12 2 4 3 18 34 5 16 0 4-5 15zM869 827l-12-2-8-3-10-15-4-10-2-20 3-22 4-6 9-7 4 0 14 7 7 6 11 14 5 20 1 6-7 22-7 6zM717 799l4-10 2-18-4-21-2-3-4-2-3 4-3 7-2 17 2 16 2 6 4 5zM307 877l-8 2-6-3-8-15-3-10-7-32 4-18 4-5 10-8 6-3 86-20 26 0 16 8 4 10 2 16-4 16-6 10-8 4-54 13-32 10-4 3zM519 900l-6 0-10-3-13-10-5-6-8-16-1-6 0-14 3-4 12-9 8-1 16 4 13 18 2 22 0 8-2 6zM589 887l-8-3-3-7 1-8 8-5 4 0 5 3 4 8 0 4-3 5-4 2z"/>
<path fill="#96f08c" d="M503 105l-16 0-4-4-5-10-2-16 1-8 4-12 8-10 4-2 24-2 46 0 6 2 5 8 1 8-2 24-6 11zM849 88l-4 0-4-1-5-6 0-6 5-5 8 0 5 5 0 8zM801 123l-4 1-5-3-3-6-2-10 0-8 3-12 3-6 4-2 4 2 2 2 4 10 0 20-2 6zM681 204l-6 0-5-5 0-6 5-5 6 0 5 5 0 6zM891 1065l-139 0-3-6 0-24-2-4-2-1-21 15-2 16-1 3-2 0-9-35-11-28-10-22-13-40-17-45-8-33-5-28-2-4-5-2-14-1-14-2-15-5-12-10-27-33-8-2-28 5-10-3-6-3-7-6-11-16-4-10-3-12 4-30-1-16-9-56-10-28 0-8 1-14-1-16 1-22 2-10 0-20 4-26 3-4 9-6 6-2 16 0 3-2 2-4-2-16-8-16-3-16-7-16 0-8 2-14-3-6-18-3-14 0-16 3-12 7-5 15-3 3-40 2-4 3-3 6-2 24 0 22 7 38 6 24 13 40 7 14 12 19 14 11 3 4 2 10-3 7-4 4-6 1-16 0-14-3-10 0-22 8-20 10-12 9-9 10-13 21-6 1-4-2-3-16 16-66 5-26 0-10 7-10 5-20 0-28-7-24-19-52-6-24-4-5-8-2-1-3 4-26 5-16 13-24 4-20 0-8-7-40 2-10 6-9 10-5 6 0 15 10 10 12 23 23 24 11 30 11 28 5 34 0 8-2 22 0 10-2 18-1 14-7 5-6 3-40-2-12 0-14 4-19 4-5 6-3 4 1 7 6 7 28 1 20 10 18 7 18 3 20 3 8 4 4 10 5 6 8 18 5 14 10 3 6 3 14-2 14-4 10-2 4-11 6-11 24-3 8 1 14-3 12-7 14-6 6-18 6-4 4-6 36 1 10 5 6 14 3 6 5 3 6 5 21 16 30 24 25 4 2 20 3 16 9 18 1 8 3 13 10 15 21 7 21 0 20-3 18 1 16-8 6-9 16-15 68 0 8 4 10 5 6 44 34 12 14 6 14 12 16 4 7 9 31 3 5 16 11 24 14 6 6 3 6 3 18-2 14-2 4zM785 259l-4 1-2-1-6-12 3-12 5-4 6 2 4 8 0 10zM663 313l-4 1-4-3-6-16 0-28 4-12 6-5 4 1 2 2 4 8 2 10 0 22-3 12zM939 305l-4-2-4-7-2-7 0-12 0-10 2-7 4-8 4-2 4 1 4 5 4 11 0 10 0 8-3 12-4 6zM895 409l-6 0-6-6-4-8-3-14 0-12 4-14 5-8 6-3 5 1 6 6 3 8 3 12 0 12-4 14-3 7zM789 583l-8 2-4-4-6-10-5-16-13-24-2-6-2-20 17-34 3-12-1-12-9-9-10-6-14-2-16-7-8-8-6-16 1-22 2-14 5-6 8-6 30-5 45 7 29 12 10 22 13 48 2 12 0 30-5 18-1 22-5 32-4 8-10 12-22 10zM621 399l14-4 7-6 1-9-6-8-12-5-13 0-11 3-8 6-3 7 5 9 14 6zM895 503l-12 0-9-2-5-3-5-5-1-4 0-6 2-5 10-7 12-2 14 2 10 5 4 8-2 9-6 6zM671 519l-8 2-18-5-4-2-3-7 7-4 10 0 14 8 2 4zM551 565l4-4 4-8 0-18-5-12-3-3-4-1-5 2-3 4-3 18 2 12 3 7 4 4zM923 559l-14 0-6-3-4-5-2-6 1-4 3-5 6-5 6-2 10 0 8 4 4 4 2 8-2 6-6 6zM737 595l-2 0 1-10-4-16-11-12 0-2 8 0 12 5 4 5 4 8 0 4-2 6-6 9zM689 619l-8 0-4-4-2-6 2-10 4-4 4-2 4 0 4 4 4 8-1 8-3 4zM835 623l-4 1-2-1-1-4 1-2 4-1 2 1 1 4zM353 699l-6 1-5-5 0-6 5-5 6 0 5 5-1 6zM929 819l-18-4-6-8-2-4-2-22 2-30 3-8 7-6 8 2 4 2 18 34 5 16-1 6-4 13zM718 801l5-12 2-18-4-20-4-7-4-1-4 4-2 4-4 23 4 21 6 8zM871 825l-4 1-10-2-8-4-9-15-4-8-1-18 2-22 3-6 9-8 6 2 15 8 12 14 3 8 5 18-5 18-4 8zM301 877l-7-2-8-16-10-38 5-21 10-9 10-5 84-20 24 0 18 9 3 8 2 18-4 14-7 10-22 7-38 9-32 10-6 4-16 20zM519 898l-4 1-10-2-14-11-4-5-9-18-1-6 1-12 9-9 6-3 6 0 14 3 13 17 3 28-2 6zM849 932l-10 0-14-6-9-9-6-20 0-10 7-16 12-12 14-3 16 4 8 4 7 11 4 14 0 12-7 16-10 10zM591 885l-8-1-3-3-1-4 2-8 6-3 8 3 3 6-1 6z"/>
<path fill="#78eb6e" d="M505 103l-10 1-8-1-7-12-3-16 1-8 3-10 8-10 6-3 36-2 32 1 6 3 4 7 0 6-2 22-5 10-3 2-22 3-18 5zM849 85l-6 1-4-4-1-5 3-5 6-1 5 4 0 6zM799 122l-3-1-3-3-4-15 3-16 3-6 2-1 5 3 3 10 0 18-2 6zM681 201l-4 1-4-3-1-4 3-5 4-1 5 4 0 4zM891 1061l-136 1-2-1-2-4-1-24-1-3-4-1-4 2-8 7-9 5-5 11-13-41-15-33-13-41-18-46-7-32-5-28-2-4-5-3-16-1-14-2-14-5-11-9-29-34-8-2-28 5-10-3-6-3-5-5-11-16-4-8-4-14 4-30-1-16-9-56-9-26-1-10 2-14-2-16 4-30 0-22 4-24 2-4 10-7 4-1 18-1 2-1 2-4-1-16-2-6-7-12-3-16-7-18 2-22-4-6-20-3-12 1-16 2-13 8-6 14-3 4-38 2-5 2-3 6-2 26 0 24 7 38 8 34 10 28 14 26 7 10 14 12 2 8-2 8-4 4-8 1-12-1-14-3-10 0-24 8-16 8-15 11-10 10-11 20-4 2-4-2-3-14 16-64 6-26 0-10 6-12 5-20-1-28-6-24-20-54-6-24-3-4-8-4 0-2 2-22 4-14 15-28 4-20 0-8-7-40 2-10 6-8 10-4 4 1 14 9 8 10 25 24 25 12 30 11 28 5 62-2 12-3 18-1 6-1 10-7 4-6 4-40-2-24 4-20 3-4 5-3 6 3 4 4 6 26 1 20 11 20 6 16 6 28 4 5 10 6 6 8 20 6 12 8 4 7 2 12-2 14-4 10-2 2-10 7-11 21-3 10 1 18-11 24-6 6-18 6-4 4-6 36 1 10 5 6 16 5 4 3 4 8 4 19 17 31 24 26 5 3 20 3 16 7 16 1 8 2 13 10 15 20 4 8 4 14-1 10 1 10-4 18 1 14-7 8-9 16-16 70 2 8 4 10 5 6 42 32 13 16 5 12 16 22 10 32 4 6 14 10 25 14 6 6 3 6 3 16-1 10zM783 258l-2-1-3-2-3-10 4-10 4-2 5 4 1 8-1 8zM661 311l-3 0-3-4-4-14 0-24 4-12 4-5 3 1 3 4 4 16 0 18-2 10-2 6zM941 302l-4-1-2-2-4-12 0-22 4-9 4-4 3 1 3 4 4 14 0 14-2 8-2 5zM895 408l-6 0-6-6-3-9-3-12 1-12 3-12 4-7 6-4 4 0 6 7 6 18-1 12-3 14-3 6zM789 581l-8 1-6-8-7-19-15-30-2-18 17-36 2-12 0-12-9-9-10-6-20-5-12-5-6-7-7-16 1-22 3-14 5-6 8-5 28-5 40 6 30 12 4 4 6 12 9 30 9 32 0 30-5 22-2 22-5 32-4 8-10 11zM631 399l8-4 6-8-1-10-9-8-10-4-16 1-10 3-9 8-1 8 3 6 4 4 15 5 12 1zM897 501l-12 1-14-4-5-5-2-4 0-6 3-4 8-6 12-3 10 1 12 6 4 6-1 8-5 6zM667 516l-4 1-10-1-8-3-3-4 3-3 8-1 12 6 2 2zM549 567l6-4 4-6 1-6 1-14-2-6-4-8-4-4-4-1-4 1-4 4-3 8-2 12 5 18 4 5zM921 557l-12-1-8-6-2-5 1-4 8-8 5-2 8 0 9 4 4 4 1 6-3 6-4 4zM743 583l-2 0-4-6-4-16 4 0 4 2 6 10 0 5zM689 618l-4 0-4-1-3-4-1-4 1-8 3-5 4-2 6 2 5 9-2 8zM351 698l-5-1-3-4 2-6 4-2 5 2 2 4-2 4zM929 817l-16-3-8-11-2-22 2-30 3-6 5-5 8 1 4 4 16 30 5 16-1 6-4 12zM718 803l3-5 3-7 2-20-2-14-3-9-4-5-4-1-4 3-3 4-2 8-2 16 2 16 3 8 4 6 4 1zM871 823l-6 1-14-4-10-15-3-8-2-18 3-22 2-4 8-7 6 1 14 8 12 14 3 8 4 16-4 16-4 8zM301 875l-6-3-8-15-4-10-6-26 5-20 10-10 9-4 86-20 22 0 16 9 3 7 3 16-4 14-6 11-22 7-38 9-32 10-7 5-16 18zM517 896l-12-2-14-11-11-20-1-6 0-10 8-8 6-4 6 0 14 3 11 17 3 26-2 6zM845 931l-16-4-10-8-4-7-4-17 2-13 6-12 10-9 14-4 16 4 8 5 6 9 4 16-1 10-6 16-11 10zM589 883l-6-2-2-4 1-6 5-3 6 2 3 5-2 6z"/>
<path fill="#50e450" d="M509 101l-12 2-8-1-4-4-4-8-2-15 1-8 3-9 8-9 8-3 32-1 30 1 6 3 3 4 0 6-2 22-5 8-22 4-18 6zM847 82l-4-1-1-2 1-4 4 0 2 2 0 3zM799 116l-2 0-2-2-3-11 1-9 2-6 2-2 4 3 1 6 0 14zM679 197l-2 0 0-3 3 1zM889 1057l-8 1-124 0-2-1-1-4-1-20-2-4-4-2-6 2-10 9-12 5-3-4-14-40-9-20-13-42-18-44-5-18-7-42-3-6-6-3-18 0-14-3-12-4-10-8-30-36-8-1-28 5-7-2-7-3-6-5-12-18-7-20 4-32-1-22-8-48-3-10-7-16-1-10 2-14-1-21 4-25 3-36 2-10 11-8 22-2 4-6-2-20-9-16-3-16-6-16-1-8 2-16-3-6-18-4-16 0-16 3-13 7-8 14-3 3-36 3-5 2-4 6-3 28 1 26 16 78 7 22 10 20 1 4-1 2-12-5-20-18-40-11-1-4 2-12 0-12-2-22-18-54-9-21-6-24-2-4-6-5-1-4 1-18 4-14 16-26 5-22 0-8-8-40 2-8 5-7 8-4 4 1 12 8 8 10 24 24 18 6 40 17 22 5 68-2 14-3 20-2 13-7 4-4 6-46-2-20 2-16 3-6 2-2 4 0 4 2 3 6 4 20 1 18 12 22 7 18 3 20 3 8 5 6 8 5 6 8 20 6 10 7 4 6 2 12-1 12-3 8-3 4-9 6-9 18-4 16 1 16-4 12-6 12-6 7-20 6-5 7-5 32 0 12 8 8 14 4 4 2 4 8 5 20 17 32 24 25 4 3 20 4 18 6 16 1 8 2 12 9 16 22 7 20 0 20-4 16 1 14-16 26-16 68 1 10 4 10 5 6 43 34 12 14 7 14 12 15 4 7 9 30 3 6 16 12 24 13 6 6 3 7 2 10-1 10zM783 252l-2-1-2-6 2-6 2-1 2 2 1 5-1 5zM661 306l-2 0-2-3-3-12 0-22 5-11 2 0 2 3 3 14 0 16-3 12zM941 297l-2 0-2-2-3-10 0-18 5-10 2 1 2 3 3 12 0 12-3 10zM791 577l-8 1-5-5-7-20-13-24-2-6-2-16 16-34 2-14-1-12-10-10-10-7-17-3-14-6-7-8-5-14 0-22 3-12 4-6 8-5 28-5 38 7 29 11 4 4 5 9 12 32 9 31 0 28-1 8-5 16-1 20-3 22-5 14-11 14zM895 406l-6 0-5-5-3-8-2-12 0-10 2-10 4-8 6-5 4 1 5 6 5 16 0 10-2 13-3 7zM630 401l9-4 7-8 0-12-9-9-12-4-16 0-12 5-7 6-3 6 0 4 6 10 16 7zM899 499l-14 2-12-4-5-4-1-4 1-8 7-6 10-3 10 0 8 3 6 5 2 7-2 6zM552 567l6-6 3-6 0-20-6-14-4-3-4-1-6 2-4 4-2 8-1 12 2 14 5 8 4 3zM925 553l-8 1-8-1-6-6 1-6 3-4 6-3 8 0 6 3 4 4 1 4-3 5zM387 604l-12 1-7-6-1-4 1-6 7-7 4-1 6 1 7 5 2 6 0 4-3 4zM687 617l-6-1-3-7 2-10 5-4 4 1 3 3 3 8-3 8zM419 623l-8-2-2-4 1-6 7-4 6 1 3 3 1 4-3 6zM333 641l-4 0-4-2-2-4-1-4 3-6 4-2 4-1 4 1 4 2 3 6-3 6zM305 675l-2 1-2-1-2-8 2-6 2-2 2 1 2 5zM349 693l-1-2 1-1 2 1zM716 805l5-4 4-10 2-20-2-15-3-9-5-6-4 0-4 2-4 6-2 8-2 16 2 16 3 8 5 7zM929 814l-14-3-5-6-2-4-2-22 2-26 2-6 5-4 6 3 6 8 12 25 3 12-3 15zM871 821l-4 1-8-1-8-3-8-12-4-9-1-16 1-10 4-14 6-7 6 1 14 7 10 11 4 9 4 15-4 15-4 8zM303 871l-4 0-2-2-8-12-4-10-6-26 4-19 10-10 8-3 86-21 22 0 15 9 3 6 3 16-4 14-6 10-21 7-38 8-32 10-8 5zM513 893l-7-2-13-11-10-19-1-8 1-5 10-9 6-1 11 3 11 14 3 26-6 10zM849 929l-10 0-10-3-4-3-8-10-5-16 1-11 7-15 9-9 14-4 13 3 9 5 7 9 4 14-1 12-5 14-10 10zM589 880l-4-3 0-4 2-1 4 1 1 2-1 4z"/>
<path fill="#32c03c" d="M511 99l-14 2-6-1-4-3-4-7-2-13 0-8 4-10 8-8 8-3 44-1 12 2 6 3 2 7-2 20-2 4-38 14zM885 1053l-122 0-2-1-2-3-2-18-3-4-5-2-6 1-14 11-6 2-4-1-15-39-9-20-13-44-18-42-5-18-5-34-5-15-6-3-12 0-20-3-14-4-10-9-30-35-8-1-28 4-8-2-6-3-6-5-10-15-4-8-3-13 3-32 0-22-8-50-2-8-8-14-2-12 2-14 0-22 12-66 3-4 5-3 22-3 2-2 2-6-3-22-9-17-2-15-7-16 0-8 1-16-2-7-6-3-12-2-18 0-16 3-14 7-12 15-30 4-10 4-4 7-2 10-2 18 1 20 16 92 7 24-4-1-13-9-25-7-12-7-1-24-4-22-18-54-11-24-4-20-7-10-1-6 1-14 3-14 4-6 11-12 4-8 4-20 0-12-7-38 2-7 4-4 6-1 10 6 9 10 23 23 22 5 46 21 14 2 32-2 36 1 16-5 22-2 17-11 2-6 1-26 6-18-2-20 3-12 1-2 2 0 6 22 1 14 11 16 11 26 4 22 4 10 15 19 22 7 8 5 3 5 2 10-3 16-13 12-7 14-3 20 2 18-9 22-4 6-4 2-20 7-7 9-6 30 2 12 9 9 16 4 3 3 4 8 5 18 17 32 25 27 4 3 38 10 16 1 8 2 12 9 15 20 6 20 0 20-3 16 0 12-16 28-15 70 1 10 5 10 5 6 42 34 12 14 7 12 15 21 12 37 12 9 29 17 5 5 4 7 1 8-3 10zM793 571l-8 1-3-3-8-20-13-26-1-16 10-22 3-12 1-18-2-10-11-10-10-6-18-4-12-5-7-7-5-14 1-22 2-12 5-5 8-4 26-6 16 3 22 7 26 11 6 8 5 14 11 19 6 18 3 15 0 30-5 20-5 40-5 13-6 7-11 8zM895 404l-6 0-4-4-3-7-2-12 0-10 3-10 4-7 4-3 4 1 4 4 5 15-2 22-3 7zM629 403l10-3 10-9-1-14-9-10-12-5-18 0-10 4-10 7-3 6 0 6 3 8 4 4 16 6zM889 499l-12-2-6-4-2-4 0-4 4-6 8-4 10-1 8 2 8 5 2 6-3 6-7 4zM554 567l6-6 2-6 1-20-8-15-4-3-6-1-6 3-3 4-3 14 0 8 2 12 4 8 6 4zM919 549l-8-1-2-3 0-2 6-4 8 2 2 2 0 3zM385 601l-8 1-6-5 0-6 6-6 4-1 4 2 5 5 0 6zM689 616l-6 0-3-3-1-4 1-8 5-5 6 3 3 6-1 6zM335 637l-5 0-3-3 0-4 3-3 5 0 4 3 0 3zM719 805l4-6 3-8 2-20-2-16-3-8-4-5-6-2-5 3-4 6-2 8-2 18 2 16 4 8 5 7 4 0zM929 808l-4 0-6-1-4-4-2-4-2-26 2-18 2-4 4 1 4 6 11 21 3 11-2 12zM869 820l-8 0-8-3-8-10-4-10 0-22 6-15 4-4 10 2 8 4 8 9 5 10 3 12-4 15-4 7zM303 865l-2 1-4-3-10-15-7-27 4-18 10-10 9-3 34-7 50-13 22 0 14 9 3 6 2 14-3 13-6 10-22 7-36 8-30 9-8 4zM511 887l-4-2-10-8-9-18 0-8 7-7 12 2 9 11 3 22-4 7zM851 927l-10 1-14-5-8-9-5-15 0-12 6-14 9-9 12-4 10 1 12 5 7 9 4 12 0 12-5 15-8 9z"/>
<path fill="#1ea22a" d="M505 97l-10 2-4-1-4-5-4-8 0-10 1-8 3-6 8-8 8-3 42 0 8 2 6 3 2 4-1 6-3 9-4 5-30 16zM855 1049l-50-4-34-1-2-1-7-14-7-6-4-1-8 2-14 11-8 0-3-4-11-32-10-22-13-44-18-42-5-16-4-34-6-17-6-3-12 1-10-1-14-3-10-3-10-8-30-36-4-2-6 0-28 5-8-2-10-7-12-18-6-18 4-30 0-24-9-56-7-11-4-11 1-36 9-42 7-14 3-12 6-3 18-2 4-6 1-9-4-24-3-8-7-10-1-14-7-16-1-6 2-20-1-4-3-4-6-3-12-1-18 0-14 2-17 8-13 13-30 6-6 2-4 3-6 12-2 24 1 22 7 30 5 40 1 24-2 4-2 1-10 0-15-5-5-4-2-4-7-40-7-22-13-36-11-22-4-22-6-10-1-6 1-16 2-10 4-4 10-7 4-4 12-33 0-10-6-32 0-6 2-1 4 2 30 30 6 1 22 1 30 13 16 11 14 1 34-3 38 4 14-7 24-3 14-9 4-4 1-30 5-10 4-4 2 0 6 4 6 7 13 27 4 26 11 27 8 7 23 8 4 4 1 6-1 10-5 5-2-1-5-10-11-10-10-3-16 0-16 6-6 5-4 6-1 6 2 6 3 6 6 5 14 4 30 2 3 11 2 30-3 12-9 16-5 3-18 6-5 3-5 6-7 30 2 14 2 4 8 6 17 4 4 3 4 7 5 18 17 33 26 28 24 9 18 4 16 0 7 2 11 8 16 22 5 12 1 8 0 18-5 28-14 28-16 68 0 8 5 13 7 9 41 33 13 15 6 10 15 20 5 12 5 22 4 6 16 12 25 14 5 5 3 11-1 4-4 6-4 1-14 0zM795 561l-4 1-3-1-5-14-13-26-2-12 8-28 1-20 0-8-3-8-11-10-10-7-6-2-14-2-11-5-7-8-4-12 0-22 3-12 9-6 18-6 10-1 16 3 32 13 14 9 4 6 5 12 13 18 8 23 2 11 0 28-6 20-5 38-5 12-6 6zM895 402l-4 1-5-4-2-6-2-12 0-10 2-8 3-6 4-3 4 1 3 4 4 12-1 20-2 6zM897 496l-10 1-10-2-5-6 1-6 4-4 6-2 8-1 8 2 6 5 1 4-3 5zM551 569l7-4 4-6 2-8 0-16-9-16-6-4-4 0-6 3-4 5-3 14 0 8 2 12 4 8 6 4zM385 598l-6 1-4-2-1-2 1-4 4-3 5 1 3 4zM689 615l-6 0-4-6 2-8 4-4 5 2 3 6 0 6zM717 807l6-6 4-10 2-20-2-16-3-8-5-7-6-1-6 3-4 7-2 8-2 18 3 16 2 8 7 8zM869 817l-8 1-7-3-7-8-4-10 1-20 5-11 4-4 8 0 8 4 7 7 4 8 2 12-2 12-5 8zM305 860l-6 0-10-13-7-24 0-6 3-12 10-10 8-4 32-5 52-15 22 1 10 6 4 5 4 12 0 6-4 11-5 9-23 7-32 6-32 10-10 5zM925 798l-3-3-2-12 1-4 2 0 2 3 2 7 0 6zM507 871l-4-2-4-6-2-6 2-3 4 1 4 4 1 6zM853 925l-10 2-13-4-9-9-5-11-1-12 4-14 8-10 8-4 12-2 14 5 7 9 4 8 1 14-4 14-8 10z"/>
<path fill="#0c921e" d="M501 95l-6 1-4-2-5-7-1-6 2-15 4-6 6-5 6-2 42 1 6 1 4 3 1 3-1 6-4 6-6 6-24 14zM861 1043l-10 1-46-6-24 0-6-2-11-11-11-6-12 4-12 10-6 0-3-4-10-30-10-22-12-44-18-40-6-16-4-36-7-20-6-2-14 1-10-1-14-2-10-4-8-7-28-33-6-5-8-1-30 5-10-4-7-7-9-14-6-14 4-60-8-56-10-12-2-14 1-14 1-16 11-42 14-18 21-6 3-10 0-12-7-24-3-8-6-10-2-16-7-14 0-8 2-14-1-10-5-5-10-3-24 0-16 2-18 8-14 12-20 3-14 5-6 4-7 16-1 22 1 22 7 30 3 24 1 32-2 6-2 2-6 1-6-1-7-4-3-4-10-40-7-26-17-42-7-10-2-6-3-19-5-19 0-14 1-6 4-4 12-5 3-3 5-10 5-16 15-18 29-6 13-1 29 13 13 12 6 2 46-4 40 5 4-1 8-7 24-3 17-10 3-4 2-4-1-24 3-8 4-4 4 0 8 7 13 27 8 42 0 8-4 12-15 7-10 8-4 9-1 6 6 12 7 5 12 4 20 2 6 3 6 10 4 26-4 12-8 15-5 3-20 6-7 4-4 6-7 30 3 18 3 4 9 4 18 4 4 3 3 5 5 18 18 34 26 29 20 11 14 0 30 3 11 9 15 20 6 16 0 24-5 26-7 16-6 8-3 14-14 60 1 10 4 10 7 10 24 18 21 18 29 38 5 10 7 26 3 6 18 14 24 13 4 5 3 8-3 6-8 2zM821 547l-8 2-16-3-8-7-7-14-6-16 4-30 0-22-1-6-4-8-21-16-7-3-10-1-10-3-6-4-4-5-4-14 0-18 2-10 4-5 28-11 6 1 14 4 10 6 20 7 11 8 5 6 4 12 12 12 5 6 5 13 4 15 0 32-5 20-5 34-7 14zM895 399l-2 1-4-1-3-4-1-6 0-22 2-6 4-3 4 1 2 2 3 10-1 20zM897 493l-8 1-10-1-4-4 1-4 3-4 4-1 8-1 6 1 4 3 2 4-3 4zM553 569l8-6 3-6 1-22-1-4-9-13-6-4-6 0-7 5-4 8-1 14 2 14 3 8 5 5 6 2zM687 615l-4-1-3-5 1-7 4-4 4 1 4 8-2 5zM720 807l4-6 4-10 2-22-3-14-3-10-5-6-6-2-6 4-4 6-3 10-2 18 3 16 5 12 3 4 4 2 4 0zM865 815l-6 0-6-4-5-6-3-10 2-18 6-9 4-2 8 2 7 5 5 7 3 11-4 16-5 6zM305 856l-6-1-10-12-6-22 4-16 10-9 8-3 18-2 14-3 50-15 20 1 10 6 4 5 4 10 0 6-3 10-5 8-16 6-38 7-26 8-16 6zM845 925l-12-2-8-7-5-7-3-14 1-10 6-12 7-7 12-3 12 2 8 5 6 9 2 12 0 10-6 13-8 8zM720 963l3-4-2-5-6-2-4 3-2 4 2 4 4 2z"/>
<path fill="#008618" d="M517 91l-22 2-4-3-3-7-1-4 2-10 4-6 10-6 40 0 6 2 2 2-1 4-8 10-13 10zM857 1039l-16-1-36-6-22 0-6-2-11-9-13-6-12 5-12 10-4 0-2-3-10-30-10-21-12-45-18-38-6-16-4-38-5-16-3-6-4-1-20 2-28-5-6-3-5-5-33-38-6-2-34 5-8-3-8-8-10-16-4-12 3-32 1-28-8-56-10-10-3-14 3-30 13-40 13-13 22-6 4-3 1-4-2-22-12-32-6-10-2-16-7-14 0-8 1-14-1-12-6-6-8-3-26 0-16 2-20 9-6 6-6 3-20 5-16 6-5 4-6 10-3 10-1 20 2 22 7 30 3 40-2 16-3 3-6-1-4-2-4-6-19-64-15-38-11-16-8-50 1-6 2-2 14-3 4-3 7-12 5-17 12-11 20-10 20-5 28 13 12 14 6 3 48-5 42 6 5-2 4-6 3-3 25-3 19-12 3-8-1-26 2-3 4-3 4 1 3 3 13 28 6 39-2 7-4 6-6 4-11 4-4 4-4 20 0 8 6 12 5 5 12 4 19 3 11 8 3 6 5 22-3 10-9 16-28 9-10 9-8 32 3 18 5 7 12 4 18 3 4 3 7 21 18 34 25 30 12 10 8 5 16-3 28 2 11 8 15 20 6 16 0 24-7 30-5 12-5 8-6 20-12 54 2 12 4 10 7 10 24 18 18 16 31 38 5 10 7 28 3 5 18 14 24 13 6 8 0 4-2 1-18 1zM817 543l-14-4-8-4-5-8-6-14-1-8 1-26-1-24-8-14-21-16-7-3-10-1-8-2-6-3-4-5-5-16 1-18 2-7 2-3 28-12 6 1 12 4 10 7 20 8 5 4 9 9 4 13 14 10 6 7 5 11 3 14 0 34-5 18-5 32-8 13zM893 397l-4-2-2-8 0-18 2-6 2-1 4 1 2 8 0 20zM893 491l-11 0-3-4 4-4 12 0 4 4-2 3zM555 569l8-6 3-8 1-14-1-8-8-12-5-5-6-3-6 0-6 4-4 8-1 16 3 16 3 8 5 4 6 2zM689 613l-6 0-2-3 0-7 4-4 4 1 3 5 0 4zM720 809l4-6 5-12 2-22-3-14-3-10-6-7-6-2-6 4-5 7-3 10-2 18 3 16 5 13 6 5 6 1zM867 812l-6 1-6-3-5-7-3-8 2-14 6-8 4-2 6 1 6 5 4 6 2 8-3 14zM305 852l-4-1-10-9-6-21 4-15 10-9 8-3 16 0 14-3 22-7 12-5 16-4 20 1 8 5 5 6 3 8 0 6-2 8-6 9-15 5-37 7-22 6zM847 923l-8 0-10-5-7-9-3-12 0-10 5-12 9-8 10-2 10 1 8 4 6 9 2 10 0 10-4 12-8 9zM719 967l5-4 1-6-5-6-3-1-4 0-6 5 0 6 4 5z"/>
<path fill="#fff6ba" d="M519 87l-6 1-18 0-5-7 3-12 11-8 33 0 6 2-6 10zM857 1035l-14 0-36-8-22 1-6-2-12-9-14-5-8 3-14 10-4 1-11-31-8-16-2-8 1-2 10 1 6-2 4-7-1-6-3-5-6-3-6 1-8 6-2-2-7-23-18-36-7-18-4-36-8-24-4-2-22 3-28-5-10-7-27-33-7-7-4-1-34 5-10-3-6-6-10-15-4-13 5-60-8-58-11-8-3-8 2-32 15-42 14-11 23-5 5-4 0-4-4-25-14-35-6-10-1-14-7-14-1-8 2-14-1-14-8-7-6-3-32 0-16 4-18 8-8 8-22 4-18 8-6 4-7 14-3 14 0 16 2 20 7 30 2 26 1 12-2 10-2 3-2 0-4-2-2-4-19-59-12-30-6-12-7-7-3-5-2-6 0-16-4-28 1-4 2-1 14-2 4-2 8-15 5-16 11-9 18-11 12-6 6-1 27 13 11 14 6 4 8 1 42-5 42 6 9-4 5-8 24-3 22-13 2-8-1-26 3-3 4 1 13 26 5 36-3 6-5 5-12 3-12 6-3 16 1 24 8 16 4 4 12 3 22 1 12 7 3 5 5 20-4 12-8 14-28 8-11 8-9 36 3 18 4 6 3 2 30 6 4 2 3 4 6 18 17 33 28 34 14 13 4 2 18-5 26 1 10 7 15 21 6 14 0 24-9 32-3 8-6 8-6 22-12 54 2 12 3 10 8 11 24 18 18 16 32 39 5 10 9 32 8 7 34 21 3 4 1 2-2 2-14-1zM819 538l-4 0-14-6-7-9-7-18 1-10-3-40-2-6-6-9-22-17-8-3-10 0-8-3-8-6-4-10-1-6 1-18 2-6 2-3 26-11 4 0 10 3 14 10 20 10 10 10 2 9 3 4 15 9 6 7 5 10 4 14 0 32-7 26-4 24-3 6zM893 391l-2 0 0-2 0-21 2 0 1 3zM552 571l8-4 6-6 2-8 2-16-3-6-12-15-8-4-10 0-5 5-3 8 1 18 2 14 3 8 4 4 6 2zM687 613l-4-1-1-3 0-6 3-3 4 1 2 4 0 4zM722 811l8-20 2-22-2-14-5-12-6-7-6-1-6 3-5 7-3 10-3 20 3 18 6 12 6 6 8 1zM307 847l-6 0-8-6-6-20 4-14 8-8 8-3 18 0 12-2 20-7 14-6 16-5 20 2 8 6 4 5 3 8-1 6-2 6-6 8-20 6-34 5-24 8zM865 809l-4 1-6-4-4-5-1-6 2-12 5-6 4-2 4 1 6 5 3 10-2 12zM849 921l-8 1-10-4-6-7-5-12 0-10 5-12 8-8 8-3 8 1 10 4 6 8 3 8 0 12-4 10-7 9z"/>
<path fill="#ffe282" d="M515 80l-12 0-3-1 0-4 3-4 4-1 10-1 6 2-2 4zM573 531l-8-5-12-12-12-5-3-2-7-34-8-18-6-16-5-10-3-16-6-12 0-36-2-5-10-9-16-4-20 1-16 6-10 6-8 4-10 9-20 4-22 7-6 4-3 5-6 18-3 28 0 18 6 30 0 7-2-2-13-35-19-28-8-8-4-6-1-8 2-36 3-2 10-2 6-3 4-8 9-27 8-8 13-10 16-8 6 0 24 12 8 12 8 7 10 2 16 1 32-3 36 1 11-4 5-6 24-2 16-5 10-7 6-7 4 9 1 16-3 5-12 6-12 9-2 20 1 24 9 17 4 4 12 3 24 2 12 6 3 8 3 14-2 8-9 16-27 7-9 5-4 4-11 42zM819 533l-4 1-12-6-4-3-3-6-5-14 0-10-4-42-9-14-21-17-8-3-18-3-6-3-3-4-3-8-1-8 1-18 4-5 24-11 12 3 14 10 20 11 8 8 6 13 18 11 5 6 5 10 3 12 0 32-7 26-3 22-3 5zM853 1033l-32-5-14-4-24 1-16-11-14-6-22 5-15-34 8-6 4-6 2-6-2-6-3-6-6-4-14-2-6-16-20-36-7-18-4-36-9-24-6-2-20 4-28-5-10-7-28-34-8-7-4-1-36 5-8-3-8-10-7-12-4-10 6-56-8-56 0-8-11-7-2-5-1-8 2-26 3-8 12-31 12-10 14-3 8 2 0 10 5 34 4 8 7 5 10-1 12-5 4-5 5-12 3-2 10 7 36 8 26 53 12 14 14 21 14 15 6 2 18-7 24 1 10 6 14 18 7 16 0 24-10 36-8 12-8 36-6 16-4 26 2 12 4 10 7 11 14 9 28 23 32 39 5 10 7 28 3 6 7 6 22 14 6 6 0 2zM687 612l-2 0-2-3 0-5 2-3 2 0 2 2 1 4-1 4zM723 815l2-2 1-8 6-14 1-22-3-16-3-10-6-8-8-2-6 3-6 9-4 10-2 20 3 18 6 14 7 6zM311 843l-8 1-8-4-6-17 0-6 3-8 9-9 8-2 32 0 30-15 16-5 18 2 8 5 5 6 2 6-1 6-2 6-6 7-20 5-40 4zM865 806l-4 1-4-2-3-4-2-6 2-10 3-4 4-2 4 1 4 3 3 8-2 10zM849 919l-8 1-8-3-7-8-4-10 0-10 4-10 7-8 8-3 8 1 9 4 5 6 3 8 0 12-3 8-6 8z"/>
<path fill="#ffbc40" d="M341 436l-8-3-19-16-2-6 0-6 5-17 6-10 12-4 5-3 8-36 6-10 14-12 11-7 6-1 25 12 9 14 6 5 11 7 1 4-26 24-28 6-22 1-8 3-2 4-3 36-3 10zM571 524l-2 1-4-1-10-10-11-5-4-4-7-32-18-44-3-16-7-12 1-38-9-18 0-2 4-2 20-3 22-8 26 1 3 2-5 14 1 10-2 10 0 22 2 6 10 18 9 5 30 4 10 3 4 5 4 15-2 10-8 14-28 7-13 7-4 8-6 26zM817 529l-14-5-5-7-5-14-4-50-10-16-22-17-8-3-18-3-5-3-3-4-3-10 2-22 3-4 16-8 10-2 12 5 8 7 20 14 8 8 6 10 8 6 11 6 7 10 5 18 0 32-6 18-5 28-4 5zM857 1030l-4 1-10-1-24-5-12-3-22 1-6-3-22-15-22-6-7-14 5-18-2-10-6-12-14-10-5-12-13-17-12-20-6-15-5-36-7-20-4-5-6-1-20 4-26-4-10-7-28-33-10-10-4 0-34 6-6-2-7-6-9-14-5-12 6-56-8-56 1-9-2-3-10-4-3-10 2-26 2-8 13-31 10-8 4-2 8-1 4 0 2 2 4 16 4 26 3 6 7 5 10 1 16-5 8-9 4-3 20 7 20 2 4 1 16 30 8 19 12 14 14 22 16 21 6 0 10-7 6-2 24 0 10 5 11 13 5 8 4 10 1 26-9 34-8 12-7 22-3 17-4 7-4 4-2 30 3 14 5 11 6 10 15 9 25 21 28 32 11 17 10 34 7 7 22 15 1 4zM687 610l-2-1 0-2 0-3 2 0 1 3zM728 819l1-2-1-12 6-14-1-8 1-12-2-16-4-12-5-8-4-3-6-2-4 2-4 3-7 12-4 24 2 18 4 14 7 10 14 5zM313 840l-8 1-6-2-4-5-4-9 0-6 1-6 4-6 5-5 10-2 32 6 26-20 18-6 18 3 7 4 4 4 2 6-1 6-3 6-5 5-10 4-22 2-30-3-17 14zM865 804l-4 0-3-1-4-8 1-8 2-3 4-2 6 2 3 7-1 8zM849 917l-8 1-7-3-6-6-4-10 0-10 3-8 6-7 8-4 8 1 8 4 5 6 2 6 0 12-3 8-6 7z"/>
<path fill="#ffa000" d="M385 373l-6 0-22-6-3-2-1-4 1-22 6-14 9-10 14-8 18 7 8 5 7 12 10 12 2 4-17 21zM567 521l-4 0-20-17-7-31-11-24-8-22-2-14-8-14 1-38-2-10 0-4 25-10 14-1 9 1 3 2 6 9 3 9-2 12 0 24 12 22 11 5 38 7 4 4 4 14-1 8-9 15-30 7-8 3-3 3-5 10-6 24zM817 525l-12-4-5-6-3-10-3-16-2-36-3-6-8-11-22-17-10-5-16-2-6-3-3-4-2-10 1-18 2-3 16-9 10-2 10 4 9 8 9 6 26 27 18 11 6 8 5 18 0 32-6 16-5 28-2 2zM339 424l-6 1-10-4-6-4-2-6 0-6 4-9 6-5 8-5 4 0 2 2 5 13-1 14zM855 1028l-10 0-24-5-14-4-20 2-4-1-26-21-17-10-2-4-2-22-7-16-8-12-5-12-19-20-17-28-8-42-11-25-6-2-22 5-26-5-8-5-29-34-9-9-6-1-34 6-6-2-6-6-9-14-3-10 5-56-7-56 1-12-3-2-10-3-2-3-1-6 3-30 13-30 5-6 10-7 4 0 4 1 6 14 4 22 3 10 3 3 6 3 8 1 20-3 12-9 6 1 10 5 22 1 4 2 14 23 10 23 12 15 26 44 6 6 4-1 12-14 6-1 18-1 6 1 6 3 12 14 6 10 3 8-1 24-9 34-7 10-5 18-3 3-2-1-2-4 1-14-2-16-6-16-7-9-4-2-6 0-6 4-5 7-6 16-2 18 4 26 4 8 5 7 14 7 6 6 2 26 2 10 11 24 4 4 13 6 24 20 28 32 11 16 10 36 9 8 17 12 1 4zM399 815l-20 2-12-2-9-4-2-2 0-4 6-10 10-8 13-4 12 0 8 2 6 4 3 4 1 6-1 6-3 4-4 3zM863 802l-4-1-3-6 1-7 4-4 4 1 3 6-1 7zM733 812l-3-3 0-4 3-7 4-1 2 4-1 4-3 6zM309 837l-5 0-4-2-6-8-1-8 4-10 6-5 6-1 12 2 8 4 5 6-4 10-11 9zM849 915l-8 0-6-2-6-6-3-8 0-10 3-7 6-7 6-2 8 0 6 3 4 5 2 6 1 10-2 8-5 6z"/>
<path fill="#ff7000" d="M395 369l-10 2-4-1-16-9-4-6 0-14 3-16 7-8 12-7 16 6 8 4 15 25-2 6-9 14-4 2zM565 518l-4-1-12-10-4-4-7-30-11-25-7-21-3-16-8-12 2-48 4-4 16-7 18 3 13 10 1 4-1 10 0 26 13 24 12 5 20 5 16 2 4 4 4 12-2 8-8 13-30 7-11 4-6 12-5 20zM817 521l-12-4-4-6-4-22-3-38-11-17-14-12-10-6-10-4-16-2-6-5-3-10 2-18 15-10 6-2 4 0 10 5 8 7 7 4 21 24 14 10 10 5 6 7 5 18 0 30-6 18-5 24zM331 419l-6 0-4-2-4-6 2-8 4-4 4-1 7 1 3 4 1 4-1 8zM849 1025l-28-4-12-5-20 2-6-1-34-32-3-4-8-22-12-22 1-14-1-4-24-18-17-26-3-8-6-34-10-22-4-6-9-1-20 4-24-3-9-6-29-34-10-10-4-1-36 6-6-2-4-4-8-13-4-10 5-56-7-56 2-14-2-2-12-3-2-7 3-30 11-26 4-6 10-7 4-1 3 2 7 16 5 28 5 3 10 3 24-1 4-1 10-7 10 7 28 1 4 3 12 20 8 20 12 16 16 28 13 28 3 4 6 0 4-2 8-20 6-3 20 0 6 1 4 3 10 12 6 9 2 8 0 22-9 36-6 6-5 12-6-26-8-18-4-4-6-3-6 0-6 2-9 13-4 16-2 16 4 26 3 8 6 9 14 7 3 6 6 36 11 24 6 5 12 4 25 21 27 31 11 17 10 34 7 8 16 12 1 2zM397 813l-18 1-10-4-6-5 2-8 8-8 12-4 10 0 10 3 4 3 3 4 0 8-5 6zM315 833l-6 1-6-1-4-3-3-5-1-6 1-4 4-6 5-3 6-1 7 2 6 4 2 4-2 10zM847 913l-6 0-5-2-5-6-2-6 0-10 2-6 5-6 5-2 6 0 6 2 4 5 2 5 1 10-2 6-5 7z"/>
<path fill="#ff3400" d="M391 367l-8 0-12-8-3-4-3-12 0-10 2-8 6-6 10-6 14 5 8 4 13 23-2 6-8 12zM561 513l-8-6-5-6-6-28-13-27-9-35-8-10-1-4 1-28 3-16 4-4 12-6 15 4 14 8 0 38 13 24 4 4 8 2 22 7 16 2 2 3 3 10-1 7-5 9-3 3-14 4-24 4-4 3-8 14-5 22zM817 516l-8-1-3-2-2-4-5-22-3-36-4-8-7-11-22-16-12-6-16-1-4-2-3-4-2-8 2-16 13-9 8-3 10 4 8 8 8 4 10 15 10 10 14 9 10 4 5 6 5 16 1 32-10 36zM327 415l-4-1-2-5 2-4 4-1 4 2 1 3-1 4zM839 1020l-18-2-12-4-24 2-6-4-22-25-8-10-20-40 4-18-1-4-26-18-17-23-3-7-7-38-15-26-3-1-6 0-22 4-24-3-8-5-27-33-12-12-5-1-36 6-4-1-4-4-9-14-4-10 6-52-7-58 3-16-3-3-12-3-1-4 3-29 12-27 4-4 8-5 4 3 6 13 4 27 4 4 14 2 24 0 6-1 8-3 4 4 4 1 30 1 4 2 10 16 7 22 11 14 16 29 12 35 2 2 14 1 6-2 2-5 4-18 2-3 4-1 18 0 6 1 16 19 4 10 0 22-9 32-3 4-4 3-2-1-2-8-5-14-5-8-8-6-6-2-8 1-6 4-5 7-5 12-4 24 4 30 3 8 5 8 4 4 9 4 2 2 4 12 5 28 11 24 7 6 12 2 12 9 19 17 22 26 10 16 10 36 13 14 1 2zM397 809l-19 0-8-4-1-2-1-4 6-6 9-4 10-1 10 3 5 4 1 6-4 5zM313 830l-8-1-4-3-2-4 0-4 2-4 6-5 8 1 5 5 0 6-1 4zM845 911l-6-1-4-3-3-4-2-6 1-8 2-6 4-4 6-2 6 1 4 2 3 5 2 6-1 8-2 6-4 4z"/>
<path fill="#e21600" d="M393 363l-8 0-10-6-4-4-2-10-1-8 2-8 5-5 8-5 12 3 8 5 9 18-1 6-6 10zM559 484l-4-1-9-16-11-17-10-25-3-16-6-6-3-6 2-30 5-12 11-7 12 2 12 9 3 36 15 26 12 5 34 9 4 4 1 6-1 7-6 9-12 5-29 3zM815 508l-2 1-4-2-6-13-5-27 0-18-12-26-3-3-26-10-8-2-12-1-7-4-1-10 2-12 12-10 6-2 10 4 7 8 7 4 10 18 8 11 18 7 8 1 6 7 5 16 0 30-7 21zM685 813l-2 2-2-1-18-15-10 1-20 4-26-4-4-3-28-34-12-12-6-1-36 6-4-1-3-4-8-12-3-8 5-58-7-56 4-12 1-6-1-4-8-6 0-2 5-20 5-8 2-1 1 1 7 16 8 5 22 0 34 2 30 4 12 4 4 2 2 5 5 22 28 44 10 26 3 13 6 6 8 2 4 0 12-5 4-8 4-15 2-4 4-2 12-1 6 1 16 15 5 12-2 18-5 13-6 8-4-2-13-13-9-5-16-3-6 1-4 4-5 13-5 34zM707 872l-4-4-3-7-4-22 1-4 4 1 2 4 5 27zM849 907l-4 1-6-1-6-8-1-6 2-6 3-5 4-2 8 1 6 7 0 11zM825 1014l-4 0-12-3-24 3-4-3-22-26-8-10-19-36-1-4 6-20-10-16 0-2 10 3 12 0 3 1 33 28 28 36 14 46z"/>
<path fill="#cc0000" d="M393 358l-6 0-6-2-5-3-3-5-2-7 0-8 4-6 6-4 6-1 9 3 4 4 4 8 2 6-2 6-3 5zM565 465l-4 1-4-1-17-18-11-22-4-16-8-10-1-6 2-24 7-10 8-5 6 0 4 2 7 7 5 14 1 18 15 27 6 3 22 7 16 7 4 6 0 4-3 6-11 8-30 0zM775 408l-6 1-16-3-16-1-4-2-2-4 0-6 5-14 5-4 6-3 4 0 7 3 15 15 3 13zM815 497l-4 1-2-1-5-10-3-20-2-34 0-4 2-2 12-3 4 1 4 4 4 18 0 30-6 16zM639 801l-15 0-17-4-30-35-14-14-6 0-36 6-4-3-10-14-2-8 6-56-8-56 2-4 16-22 24-5 50 5 11 4 11 9 9 21 28 44 11 22 4 16 11 16 0 26-2 20-1 22-1 4-3 2-12-1zM743 730l-12-5-14-8-5-6 5-22 3-4 3-2 8-2 6 1 10 6 7 9 1 10-2 12-4 6zM849 903l-4 2-4-1-5-5-1-4 1-6 5-5 6 0 5 5 1 8zM793 1011l-6 1-4-2-21-25-8-10-19-35-1-5 5-16 2-12 5-4 3-1 4 2 26 22 24 28 9 13 8 34 0 6-3 2-8-1z"/>
<path fill="#a80000" d="M389 353l-4 0-6-2-3-4-2-6 1-8 4-5 4-1 6 0 5 2 4 4 2 6-1 6-2 4zM601 461l-38-5-8-4-12-9-11-20-4-16-7-6-2-4 1-24 2-4 7-6 6-3 4-1 6 6 7 14 1 16 17 30 3 2 26 7 15 11 0 4-2 4-7 7zM767 403l-28-1-4-1-1-4 0-4 6-14 5-4 4-1 8 4 14 15 0 8zM815 492l-4 0-3-3-5-24 2-30 3-6 5-2 4 1 2 3 4 16-1 30-3 10zM635 799l-24-3-4-2-42-48-8-1-36 6-4-4-8-12-1-6 5-56-7-56 3-4 20-15 16-6 46 5 5 2 12 14 15 26 32 50 14 38 5 22-3 38-2 4-2 1zM739 723l-6-1-8-4-4-3-3-6 0-8 3-8 4-4 8-3 6 1 8 5 5 9 0 8-3 8-4 4zM847 900l-6 0-3-3 0-6 3-3 6 0 3 3 0 6zM799 1007l-10 2-5-2-27-33-16-27-4-12 10-28 2-1 4 2 24 19 32 40 7 28 1 8-2 1z"/>
<path fill="#800000" d="M387 349l-6-2-4-8 2-5 6-3 6 1 4 7-2 7zM601 457l-35-6-19-11-11-19-6-18-7-7 0-19 2-5 10-7 4 0 2 2 8 14-1 12 1 4 18 30 4 3 26 7 12 10-2 5zM763 399l-24-1-2-3 6-14 6-3 6 2 11 13 1 4zM815 486l-2 1-2-3-4-19 0-14 2-12 4-7 2 0 1 3 3 12 0 28zM637 795l-12 0-16-4-39-46-5-3-8-1-32 6-4-1-4-5-4-6-2-6 6-52-7-58 2-4 21-12 12-5 44 4 5 3 57 88 18 58-1 24-3 12-8 4zM741 718l-4 1-6-2-6-4-2-4-1-6 3-6 8-6 4 0 6 3 4 3 2 4-1 10-3 4zM845 896l-3-1 1-3 3 1zM793 1005l-5 0-3-2-19-22-7-10-16-27-3-9 9-23 2 0 6 3 18 15 23 27 8 12 7 30-2 2z"/>
<path fill="#4e0000" d="M597 450l-28-5-18-11-10-16-4-17-8-10 0-10 2-5 6-2 4 5 2 4-1 14 21 35 6 4 26 8 4 3 0 2zM753 392l-4 1-2-2 0-2 2-3 4 3zM637 789l-10 0-14-3-38-44-6-5-14-1-28 5-4-2-2-3-4-7 5-50 0-12-6-40 1-6 2-2 18-11 10-3 38 4 6 4 54 83 18 55-2 22-3 10-3 2zM739 711l-6 0-4-4 0-4 4-4 6 0 4 4 0 4zM801 997l-8 2-4-1-24-29-18-32 2-9 4-6 4 1 15 12 27 34 6 22 0 4z"/>
</g></g>
<line x1="91.4" y1="1.5" x2="91.4" y2="266.3" class="grid"/>
<line x1="147.8" y1="1.5" x2="147.8" y2="266.3" class="grid"/>
<line x1="204.2" y1="1.5" x2="204.2" y2="266.3" class="grid"/>
<line x1="63.0" y1="56.9" x2="247.0" y2="56.9" class="grid"/>
<line x1="63.0" y1="144.5" x2="247.0" y2="144.5" class="grid"/>
<line x1="63.0" y1="232.1" x2="247.0" y2="232.1" class="grid"/>
<g class="ml"><polyline points="90.5,1.5 90.6,46.1"/><polyline points="90.6,12.3 247.0,12.3"/><polyline points="231.6,12.3 231.6,262.3"/><polyline points="231.6,1.5 231.6,12.3"/><polyline points="173.2,262.2 247.0,262.2"/><polyline points="69.5,210.2 173.2,262.2"/><polyline points="90.6,46.1 92.3,49.0 93.5,51.5 95.2,52.8 96.8,53.6 98.5,56.5 99.7,59.8 101.0,62.3 101.4,63.5"/><polyline points="90.6,46.1 89.4,48.2 88.1,51.5 86.9,55.2 85.2,56.1 84.0,55.2 82.7,53.2 81.9,51.1 80.7,49.4 78.6,49.2 77.3,49.7 75.3,49.7 72.8,50.0 70.3,50.7 67.0,51.5 68.5,53.5 69.9,55.7 70.3,50.7"/><polyline points="80.7,49.4 79.8,44.9 80.7,40.7 81.1,36.6 81.5,32.4 81.5,31.2"/><polyline points="81.7,49.0 81.2,44.5 81.6,40.0 80.6,35.0 80.2,34.0"/><polyline points="69.9,55.7 71.1,58.1 71.5,61.5 72.3,65.7 72.3,75.6 72.9,83.6 73.5,91.5 72.9,98.5 73.9,107.5 74.1,107.0 76.6,112.0 79.9,120.3 83.2,125.2 87.4,130.2 86.5,131.9 83.2,136.9 79.9,141.8 77.4,146.8 76.6,151.8 75.8,158.4 73.3,166.7 70.8,171.7 71.6,176.7 72.4,183.3 73.3,187.0 76.6,188.3 77.9,191.0 77.9,195.0 76.6,197.0 73.3,197.6 71.3,198.9 69.9,201.6 69.3,205.6 69.5,210.2"/><polyline points="63.0,89.6 72.9,98.5"/><polyline points="63.0,202.3 69.9,201.9"/><polyline points="63.0,237.4 65.3,238.1 67.3,240.0 68.6,242.7 69.9,245.4 73.3,246.7 77.2,249.3 81.2,252.0 85.2,254.0 88.5,255.3 91.2,254.0 91.8,250.7 92.5,248.7 93.8,250.7 96.5,252.0 99.8,253.3 101.8,256.0 102.4,261.3 103.8,263.3 107.7,264.6 113.0,265.8"/><polyline points="68.0,242.7 66.6,250.7 66.0,258.6 66.0,266.3"/><polyline points="160.4,10.5 162.9,9.9 165.4,9.3 167.9,6.8 169.7,5.6 171.6,6.8 173.4,8.0 175.3,7.4 177.8,6.8 179.0,4.3 180.2,3.1 182.7,3.4 185.2,3.7 184.6,5.0 182.1,5.0 179.6,5.0 178.4,5.6"/><polyline points="162.3,14.2 164.1,15.2 166.0,14.2 167.9,12.4 171.0,12.1 171.6,9.9 170.3,8.0"/></g>
<rect x="63.0" y="1.5" width="184.0" height="264.8" class="frame"/>
<line x1="58.8" y1="56.90" x2="63.0" y2="56.90" class="tick"/>
<line x1="58.8" y1="144.50" x2="63.0" y2="144.50" class="tick"/>
<line x1="58.8" y1="232.10" x2="63.0" y2="232.10" class="tick"/>
<line x1="91.40" y1="266.3" x2="91.40" y2="271.5" class="tick"/>
<line x1="147.80" y1="266.3" x2="147.80" y2="271.5" class="tick"/>
<line x1="204.20" y1="266.3" x2="204.20" y2="271.5" class="tick"/>
<g transform="translate(33.12 52.68) scale(0.8800 1.0150)" fill="none" stroke="#1e1e1e" stroke-width="1.15" stroke-linecap="round" stroke-linejoin="round" class="st"><path transform="translate(0.00 0)" d="M0.3 0.15H4.5L2.0 4.1Q4.8 4.1 4.8 7.0Q4.8 10 2.4 10Q0.7 10 0 8.7"/><path transform="translate(7.70 0)" d="M4.1 1.0Q3.5 0 2.4 0Q0.4 0 0.4 5.4Q0.4 10 2.45 10Q4.5 10 4.5 6.9Q4.5 4 2.45 4Q0.7 4 0.4 6.2"/><path transform="translate(15.40 0)" d="M0.1 10V0L4.6 10V0"/></g>
<g transform="translate(33.12 140.27) scale(0.8800 1.0150)" fill="none" stroke="#1e1e1e" stroke-width="1.15" stroke-linecap="round" stroke-linejoin="round" class="st"><path transform="translate(0.00 0)" d="M0.3 0.15H4.5L2.0 4.1Q4.8 4.1 4.8 7.0Q4.8 10 2.4 10Q0.7 10 0 8.7"/><path transform="translate(7.70 0)" d="M3.8 10V0L0 7.3H5"/><path transform="translate(15.40 0)" d="M0.1 10V0L4.6 10V0"/></g>
<g transform="translate(33.12 227.87) scale(0.8800 1.0150)" fill="none" stroke="#1e1e1e" stroke-width="1.15" stroke-linecap="round" stroke-linejoin="round" class="st"><path transform="translate(0.00 0)" d="M0.3 0.15H4.5L2.0 4.1Q4.8 4.1 4.8 7.0Q4.8 10 2.4 10Q0.7 10 0 8.7"/><path transform="translate(7.70 0)" d="M0.2 2.5Q0.5 0 2.4 0Q4.6 0 4.6 2.6Q4.6 4.6 0.1 10H4.8"/><path transform="translate(15.40 0)" d="M0.1 10V0L4.6 10V0"/></g>
<g transform="translate(79.77 278.27) scale(0.8700 0.8750)" fill="none" stroke="#1e1e1e" stroke-width="1.15" stroke-linecap="round" stroke-linejoin="round" class="st"><path transform="translate(0.00 0)" d="M0.5 1.7L2.4 0V10"/><path transform="translate(7.00 0)" d="M0.5 1.7L2.4 0V10"/><path transform="translate(14.00 0)" d="M3.8 10V0L0 7.3H5"/><path transform="translate(21.00 0)" d="M0 0L1.9 10L4.0 1.6L6.1 10L8.0 0"/></g>
<g transform="translate(136.17 278.27) scale(0.8700 0.8750)" fill="none" stroke="#1e1e1e" stroke-width="1.15" stroke-linecap="round" stroke-linejoin="round" class="st"><path transform="translate(0.00 0)" d="M0.5 1.7L2.4 0V10"/><path transform="translate(7.00 0)" d="M0.5 1.7L2.4 0V10"/><path transform="translate(14.00 0)" d="M0.2 2.5Q0.5 0 2.4 0Q4.6 0 4.6 2.6Q4.6 4.6 0.1 10H4.8"/><path transform="translate(21.00 0)" d="M0 0L1.9 10L4.0 1.6L6.1 10L8.0 0"/></g>
<g transform="translate(192.57 278.27) scale(0.8700 0.8750)" fill="none" stroke="#1e1e1e" stroke-width="1.15" stroke-linecap="round" stroke-linejoin="round" class="st"><path transform="translate(0.00 0)" d="M0.5 1.7L2.4 0V10"/><path transform="translate(7.00 0)" d="M0.5 1.7L2.4 0V10"/><path transform="translate(14.00 0)" d="M2.4 0Q0.1 0 0.1 5Q0.1 10 2.4 10Q4.7 10 4.7 5Q4.7 0 2.4 0Z"/><path transform="translate(21.00 0)" d="M0 0L1.9 10L4.0 1.6L6.1 10L8.0 0"/></g>
<g fill="none" stroke="#5a5a5a" stroke-width="0.9"><ellipse cx="5.30" cy="146.95" rx="3.65" ry="6.05"/><line x1="9.50" y1="140.90" x2="9.50" y2="153.00"/></g>
<rect x="293.5" y="1.20" width="17.9" height="265.10" fill="#4e0000"/>
<rect x="293.5" y="9.75" width="17.9" height="256.55" fill="#800000"/>
<rect x="293.5" y="18.30" width="17.9" height="248.00" fill="#a80000"/>
<rect x="293.5" y="26.85" width="17.9" height="239.45" fill="#cc0000"/>
<rect x="293.5" y="35.41" width="17.9" height="230.89" fill="#e21600"/>
<rect x="293.5" y="43.96" width="17.9" height="222.34" fill="#ff3400"/>
<rect x="293.5" y="52.51" width="17.9" height="213.79" fill="#ff7000"/>
<rect x="293.5" y="61.06" width="17.9" height="205.24" fill="#ffa000"/>
<rect x="293.5" y="69.61" width="17.9" height="196.69" fill="#ffbc40"/>
<rect x="293.5" y="78.16" width="17.9" height="188.14" fill="#ffe282"/>
<rect x="293.5" y="86.72" width="17.9" height="179.58" fill="#fff6ba"/>
<rect x="293.5" y="95.27" width="17.9" height="171.03" fill="#008618"/>
<rect x="293.5" y="103.82" width="17.9" height="162.48" fill="#0c921e"/>
<rect x="293.5" y="112.37" width="17.9" height="153.93" fill="#1ea22a"/>
<rect x="293.5" y="120.92" width="17.9" height="145.38" fill="#32c03c"/>
<rect x="293.5" y="129.47" width="17.9" height="136.83" fill="#50e450"/>
<rect x="293.5" y="138.03" width="17.9" height="128.27" fill="#78eb6e"/>
<rect x="293.5" y="146.58" width="17.9" height="119.72" fill="#96f08c"/>
<rect x="293.5" y="155.13" width="17.9" height="111.17" fill="#b4f5aa"/>
<rect x="293.5" y="163.68" width="17.9" height="102.62" fill="#cdfac8"/>
<rect x="293.5" y="172.23" width="17.9" height="94.07" fill="#e8ffe4"/>
<rect x="293.5" y="180.78" width="17.9" height="85.52" fill="#ac4242"/>
<rect x="293.5" y="189.34" width="17.9" height="76.96" fill="#c45858"/>
<rect x="293.5" y="197.89" width="17.9" height="68.41" fill="#de6c6c"/>
<rect x="293.5" y="206.44" width="17.9" height="59.86" fill="#e88080"/>
<rect x="293.5" y="214.99" width="17.9" height="51.31" fill="#e49ea0"/>
<rect x="293.5" y="223.54" width="17.9" height="42.76" fill="#f6b2b2"/>
<rect x="293.5" y="232.09" width="17.9" height="34.21" fill="#ffcaca"/>
<rect x="293.5" y="240.65" width="17.9" height="25.65" fill="#ffe4e6"/>
<rect x="293.5" y="249.20" width="17.9" height="17.10" fill="#ffffff"/>
<rect x="293.5" y="257.75" width="17.9" height="8.55" fill="#cdf2fa"/>
<rect x="293.5" y="1.2" width="17.9" height="265.1" class="cbf"/>
<line x1="293.5" y1="223.54" x2="295.1" y2="223.54" class="cbt"/>
<line x1="309.8" y1="223.54" x2="311.4" y2="223.54" class="cbt"/>
<g transform="translate(314.40 219.92) scale(0.7500 0.8050)" fill="none" stroke="#1e1e1e" stroke-width="1.15" stroke-linecap="round" stroke-linejoin="round" class="st"><path transform="translate(0.00 0)" d="M2.4 0Q0.1 0 0.1 5Q0.1 10 2.4 10Q4.7 10 4.7 5Q4.7 0 2.4 0Z"/><path transform="translate(7.20 0)" d="M0.7 9.2h0.6v0.6h-0.6z"/><path transform="translate(10.90 0)" d="M4.3 0.1H0.9L0.5 4.4Q1.3 3.6 2.5 3.6Q4.8 3.6 4.8 6.8Q4.8 10 2.4 10Q0.7 10 0 8.7"/></g>
<line x1="293.5" y1="180.78" x2="295.1" y2="180.78" class="cbt"/>
<line x1="309.8" y1="180.78" x2="311.4" y2="180.78" class="cbt"/>
<g transform="translate(314.10 177.16) scale(0.7500 0.8050)" fill="none" stroke="#1e1e1e" stroke-width="1.15" stroke-linecap="round" stroke-linejoin="round" class="st"><path transform="translate(0.00 0)" d="M0.5 1.7L2.4 0V10"/></g>
<line x1="293.5" y1="138.03" x2="295.1" y2="138.03" class="cbt"/>
<line x1="309.8" y1="138.03" x2="311.4" y2="138.03" class="cbt"/>
<g transform="translate(314.10 134.40) scale(0.7500 0.8050)" fill="none" stroke="#1e1e1e" stroke-width="1.15" stroke-linecap="round" stroke-linejoin="round" class="st"><path transform="translate(0.00 0)" d="M0.5 1.7L2.4 0V10"/><path transform="translate(7.20 0)" d="M0.7 9.2h0.6v0.6h-0.6z"/><path transform="translate(10.90 0)" d="M4.3 0.1H0.9L0.5 4.4Q1.3 3.6 2.5 3.6Q4.8 3.6 4.8 6.8Q4.8 10 2.4 10Q0.7 10 0 8.7"/></g>
<line x1="293.5" y1="95.27" x2="295.1" y2="95.27" class="cbt"/>
<line x1="309.8" y1="95.27" x2="311.4" y2="95.27" class="cbt"/>
<g transform="translate(314.40 91.64) scale(0.7500 0.8050)" fill="none" stroke="#1e1e1e" stroke-width="1.15" stroke-linecap="round" stroke-linejoin="round" class="st"><path transform="translate(0.00 0)" d="M0.2 2.5Q0.5 0 2.4 0Q4.6 0 4.6 2.6Q4.6 4.6 0.1 10H4.8"/></g>
<line x1="293.5" y1="52.51" x2="295.1" y2="52.51" class="cbt"/>
<line x1="309.8" y1="52.51" x2="311.4" y2="52.51" class="cbt"/>
<g transform="translate(314.40 48.88) scale(0.7500 0.8050)" fill="none" stroke="#1e1e1e" stroke-width="1.15" stroke-linecap="round" stroke-linejoin="round" class="st"><path transform="translate(0.00 0)" d="M0.2 2.5Q0.5 0 2.4 0Q4.6 0 4.6 2.6Q4.6 4.6 0.1 10H4.8"/><path transform="translate(7.20 0)" d="M0.7 9.2h0.6v0.6h-0.6z"/><path transform="translate(10.90 0)" d="M4.3 0.1H0.9L0.5 4.4Q1.3 3.6 2.5 3.6Q4.8 3.6 4.8 6.8Q4.8 10 2.4 10Q0.7 10 0 8.7"/></g>
<line x1="293.5" y1="9.75" x2="295.1" y2="9.75" class="cbt"/>
<line x1="309.8" y1="9.75" x2="311.4" y2="9.75" class="cbt"/>
<g transform="translate(314.47 6.13) scale(0.7500 0.8050)" fill="none" stroke="#1e1e1e" stroke-width="1.15" stroke-linecap="round" stroke-linejoin="round" class="st"><path transform="translate(0.00 0)" d="M0.3 0.15H4.5L2.0 4.1Q4.8 4.1 4.8 7.0Q4.8 10 2.4 10Q0.7 10 0 8.7"/></g>
<g clip-path="url(#clipb)"><rect x="380.0" y="1.5" width="184.0" height="264.8" fill="#cdf2fa"/>
<g transform="scale(0.25)">
<path fill="#ffffff" d="M2255 1065l-734 0 0-1058 734 0z"/>
<path fill="#ffe4e6" d="M2197 1065l-291 0 0-84-1-8-2-4-8-4-56-16-66-12-60-9-64 0-12 3-32 11-84 14 0-949 669 0-3 18 1 6 3 5 10 4 28 4 10-3 4-6 1-12-2-16 13 0 0 621-16-3-36-1-14-4-8-1-12 3-2 3-2 6 1 28 3 42 2 1 16 1 16 5 7 3 10 10 21 36 4 1 10-2 0 82-12-1-10 1-22 13-16 4-3 6-9 34 0 12 6 56-1 26 6 14 6 20z"/>
<path fill="#ffcaca" d="M2187 1065l-271 0 0-88-3-12-4-5-8-3-66-19-120-19-62-1-16 2-38 14-78 11 0-719 14-2 8-3 5-4 2-8 0-182-1-20 585 0 2 10 16 42 3 12 0 14-7 22-4 28 4 48 4 12 5 5 8 2 90 0 0 159-34-1-6 2-2 21-4 14-5 10-10 12-2 6 1 18 14 18 7 20 1 10-5 16 2 4 11 11 5 9 1 10-1 14-4 12-9 10-6 5-15 7-3 12-3 4-23 9-4 5-3 8 4 74 3 12 2 0 8-2 8 0 22 7 9 9 21 39 4 2 16-1 0 60-22 1-28 16-15 1-3 2-3 6-8 32-3 20 7 58-2 28 8 14 5 18-2 14 0 22-1 6z"/>
<path fill="#f6b2b2" d="M1771 139l-8 0-20-7-22-21-5-8-6-18 0-18 5-18 7-12 9-9 8-4 52-12 44 6 20 8 11 11 6 18 0 36-8 20-9 10-14 5-24 5-16 5zM2073 153l-10 1-8-3-12-12-5-12-4-16 0-18 3-16 5-12 7-10 12-6 10-1 14 5 10-7 10-4 16 0 8 2 6 4 5 5 5 8 3 8 1 14-4 14-8 10-12 7-8 2-17-1-5 16-5 8-11 11zM1941 93l-8 1-8-2-7-7-4-8 0-14 2-8 7-7 8-4 8 1 8 4 5 6 4 10 0 10-2 6-5 8zM2181 1065l-215 0-7-32-10-26-10-22-20-58-6-9-8 4-8 1-80 0-34-3-74-12-5-3-5-4-17-26-4-10-1-14-2-1-35 7-33 10-18 22-10 6-22 0-6-3-5-5-10-20-4-14-2-16 0-38 1-6 4-6 18-15 38-11 38-9 48-6 8 2 20 10 12 10 24 6 4-1-14-33-4-6-78-10-6-2-6-6-2 0-12 4-12-1-12-6-10-13-12 4-22-4-7-7-3-10-3-12 0-10 33-127 1-21-7-27-12-35-11-14-7-18-8-12-1-10 2-20 3-12 7-20 4-46 4-20 0-26 2-8 6-12 7-7 29-13 9-20 6-6 14-4 86-10 86-7 8 1 5 2 5 5 7 11 3 1 20-12 20-6 1-25 3-8 6-4 16 0 114 11 124 50 8 5 4 7 22 59 2 1 2-3 7-18 3-4 16-13 10-5 12-1 10 4 8 7 9 12 8 22-1 24-4 14-7 14-11 12-8 4-19 2 6 14 4 16-1 16-7 20-5 7-20 20-14 4-12-2-2 1-1 2 1 4 2 1 14 0 20 7 7 6 11 12 5 10 3 14-6 24 13 12 6 10 2 14-2 10-4 8-11 11-16 6-8 2-16-5-8-6-9-10-5-16-2 1-7 21-6 10-9 10-10 6 0 2 12 11 24 1 4 2 1 2 5 90 4 22 12-7 6-1 20 5 5 3 11 16 14 26 7 22-1 10-6 20-6 7-14 9-8 4-6 0-20-4-10-3-20 13 0 2 11 12 6 12 5 18 0 10-4 16-7 12-13 14-12 7-2 3 9 30 5 4 24 7 9 9 4 6 5 18-2 12 1 20-2 8zM1800 283l-1-2-2-1-43 1 2 2 7 1 32 0zM2180 319l-11-15-2 0-10 9 18 7 4 0zM2113 355l2-6 0-5-4 1-3 4 3 6zM1998 509l1-12 12-26-2-2-22-7-14-11-4-1-2 1-10 32 34 26 4 2 2 0zM1637 667l1-20-1-2-2-1-8 3-9 6-7 8 0 2 2 1zM2066 859l17-15 18-7 2-2-16-32-3-18-1-24-2-2-12 3-8 11-9 6-5 6-4 13-9 41 1 4 2 1 26 15z"/>
<path fill="#e49ea0" d="M1773 135l-10 1-18-7-19-18-6-8-6-18 0-18 4-16 6-12 8-8 7-3 10-4 42-8 44 6 18 7 10 10 5 18 0 34-7 18-10 10-14 5-19 3-17 5zM2073 150l-10 0-7-3-10-10-6-14-2-14 0-16 3-16 6-14 6-6 10-5 10 0 12 6 12-9 8-3 16 0 10 3 5 4 6 8 4 12 0 10-5 14-8 8-12 7-10 0-12-2-2 1-8 24-10 11zM1941 90l-8 0-6-1-5-4-4-6 0-10 0-10 5-7 6-4 8 0 6 3 4 4 5 8 0 8-1 8-4 7zM2177 1065l-208 0-6-32-10-26-11-22-12-40-18-46-11-38-2-6-2-2-6 0-8 2 5 14 0 14-4 12-7 5-16 5-12-1-15-5-11-10-24 22-10 5-6 0-20-6-22-15-13-14-7-10-5-16 2-24-1-3-6 7-6 3-20 3-78 22-6 5-14 18-8 6-20 0-8-5-13-24-4-22 0-40 3-10 5-6 15-11 34-10 48-10 38-4 6 1 20 10 5 4 12 28 5 16 16 3 20-4 28 5 11 6 11 8 15 4 17 8 5 0-13-18-10-21-6-7-4-2-5 0-23 5-14-4-10-7-10-11-9-13-6-12-5-16 0-28 2-10 0-7-8-21-4-21-4-9-8 14-2 36-2 4-29-4-1-4-1-28-5-3-13-11-9-3-14 1-14 7-8 6-10 15 0 2 2 0 12-1 10 1 9 6 6 8 1 8-1 8-6 8-9 8-12 1-10-3-8-8-6-13-8 7-8 1-18-3-4-3-3-5-4-18 0-10 33-128 0-22-18-60-13-18-7-18-7-10 0-8 4-30 7-22 3-30 5-36 1-28 7-16 6-6 20-9 6 0 6 2 18 11 24 22 10 13 10 5 54 12 46 4 40 0 4-2 2-8 1-10 5-26 1-24 10-24 7-9 12-8 10-4 6 0 10 3 10 6 13 14 9 14 2-2 1-36 9-1 11-9 11-5 8-2 8 0 6 2 12 7 14 14 11 2 43 17 22 4 12 6 14 10 17 7 3 3 18 50 1 7-23 20-14 10-13 16 0 2 6 6 21 11 12 15 2-2 7-20 4-6 9-9 14-6 12-2 16 4 9 5 10 10 4 10 4 16 0 16-6 18-6 8-19 18-12 3-17-3-1 2 0 10 2 5 18 0 18 6 7 5 11 12 7 22-7 26 13 10 7 10 1 14-2 12-7 9-10 8-16 4-14-4-8-4-10-11-3-10-1-16-4-2-2 2-9 30-6 12-11 11-15 7 0 2 13 9 10 14 14 1 4 3 2 5 2 12 4 78-2 6-10 6 1 2 13 11 2 0 12-18 7-5 7-1 18 5 6 6 9 14 13 26 5 18 0 10-7 20-4 4-14 10-6 3-6 0-20-4-10-5-27 16-1 2 13 12 4 6 10 24 0 10-4 16-6 12-15 15-12 6-2 5 8 28 2 5 4 3 26 8 9 8 4 6 4 16-2 12 0 22-1 6zM2217 330l-16 0-9-5-17-20-7-22 0-16 9-24 16-15 12-4 12 1 11 8 10 14 6 20 0 20-4 14-9 17-8 8zM1958 335l9-9 13-9 1-3-8-2-2 1-9 8-9 6-2 2 1 2 3 3zM1735 457l6-2 0-2-3-10-1-16 5-26-1-2-4-2-20-2-6 1-3 5-2 16-7 14 2 2 22 1 1 3-1 20 2 2zM1683 519l2-76 0-2-10-1-2 1 0 2 0 32 3 6 1 9 4 7-2 20 2 3zM2000 517l2-18 13-26 0-5-4-3-24-7-14-11-6-3-2 2-9 27-4 8 1 4 26 20 18 12zM2068 863l17-16 27-10-9-10-13-24-2-20 1-36 0-2-2-1-22 6-4 17-4 4-8 5-5 7-5 16-8 40-1 4 3 4 10 4 20 12z"/>
<path fill="#e88080" d="M1769 133l-8-1-16-7-19-18-5-8-4-16 0-16 4-16 7-12 9-8 12-4 44-8 42 6 13 4 5 3 8 9 5 18-1 32-4 13-3 5-9 8-12 4-20 3-16 5zM2071 147l-8 0-6-3-8-9-6-12-2-14 0-16 2-14 6-14 6-6 8-4 10 0 12 7 12-9 8-4 16 0 8 2 5 4 4 6 5 12 0 10-4 12-8 8-12 6-8 0-14-4-2 1-8 27-10 11zM1939 87l-6 0-6-2-4-3-2-5-1-12 2-6 3-5 6-3 6 0 5 2 3 4 4 8 0 8-1 6-5 6zM2175 1065l-203 0-6-32-11-28-10-20-12-40-18-46-12-49-20-8-28-14-13-13-16-20-9-8-28 4-20-6-13-12-10-14-5-10-4-14-1-10 4-36-6-24-7-44-7-22 1-22-1-40 4-50 2-10 3-5 18-13 2-2-3-16 0-40-1-4-2-2-26-3-9 1-7 18-4 5-18 12-12 5-3 4 0 36 4 28-1 16 12 35 6 12 10 16 15 13 5 8 3 14-4 10-9 11-8 4-22 1-24-7-20 3-21 14-9 12-9 20-9 12-6 2-14-2-4-1-4-3-4-8-2-12 0-10 33-128 0-22-18-60-3-6-11-14-6-18-6-8-2-8 5-30 7-22 3-28 5-38 1-28 6-14 6-6 20-8 8 1 18 12 23 21 11 14 10 5 56 12 46 4 42 0 4-2 3-9 6-36 1-24 10-26 6-7 12-8 12-3 10 2 7 6 11 18 4 12 3 38 1 3 2 1 16-21 6-6 9-5-4-16 0-18 5-16 6-7 6-4 6-2 6 1 6 3 7 7 5 10 1 8 0 20-2 8-3 5-11 13 7 16 3 10 0 28-7 20-16 18 12 11 4 2 2-1 10-7 16-6 38 0 12-1 16 5 48 21 4 4 12 19 2-1 2-14 6-18 9-10 7-5 16-5 6 0 18 6 12 12 5 10 4 14-1 16-6 18-19 20-7 4-12 2-8-2-8-5-2 0 1 21 1 4 2 3 18-1 18 5 6 4 10 11 4 8 4 14-4 14-5 12 1 2 12 7 8 9 3 10-2 14-4 8-11 10-16 4-12-3-7-3-9-10-4-12-1-16-3-3-6 0-3 3-9 32-6 11-12 11-20 8 0 2 3 2 13 6 6 6 9 18 0 6-3 4-18 13-8 4-44-5-16 0 16 22 9 26 1 26-3 16 2 18-3 8-10 7-7 11-13 60 2 3 12 5 24 15 4-1 18-18 22-7 10 1 14 4 10 7 6 7 7 12 5 14 1 8-1 6-4 12-6 11-14 13-14 8-1 4 8 32 3 5 6 4 24 7 6 5 6 7 4 16-2 12 0 20-1 8zM2053 282l-12-2-9-5-8-10-4-14 0-10 6-16 9-9 10-4 10 1 11 6 7 10 3 10 0 16-4 12-10 10zM2215 327l-16 0-11-10-11-14-7-22 1-14 8-22 6-7 10-7 10-4 10 0 11 8 10 14 5 18 0 18-4 16-9 16-8 8zM2004 523l1-22 13-28 0-6-5-4-10-2-16-6-18-15-4-1-2 2-5 18-5 16-4 6 0 4 46 35 6 3zM1623 713l-8 0-8-2-7-6-3-6-1-12 2-6 7-7 6-3 10 0 8 2 7 6 3 8 0 8-2 6-8 9zM2139 839l-6 0-22-8-4-4-12-20-2-6-3-20 0-16 4-18 15-16 8-3 6 1 18 10 14 12 2-1 5-13 11-12 8-2 16 4 6 5 8 13 14 30 4 14 0 6-6 22-4 4-18 12-6 0-18-4-12-7-18 14zM1577 889l-16 0-6-2-4-4-10-20-4-24-1-36 2-8 4-6 13-10 6-3 32-9 48-10 38-4 20 9 6 5 4 12 3 22-7 22-5 8-29 12-38 9-28 9-5 4-15 19zM1789 913l-22-4-16-13-7-7-11-22-1-18 1-10 5-6 19-14 6-1 26 6 5 5 13 20 3 22 0 16-4 8-8 12-5 5zM1859 899l-8-1-10-4-4-5-3-8 0-12 2-6 7-7 10-4 8 0 9 5 6 6 4 10 0 8-5 9-6 6z"/>
<path fill="#de6c6c" d="M1779 129l-14 1-16-5-13-12-11-12-5-16-1-16 4-16 6-11 8-7 12-5 44-9 42 7 16 6 7 9 5 16 0 30-7 18-7 6-12 5-20 3-16 5zM2073 143l-8 2-6-3-9-9-4-12-3-12 0-16 3-14 6-14 7-6 10-2 8 3 8 8 2-1 10-11 8-4 16-1 8 3 9 11 3 10-1 8-4 12-7 7-12 5-10-1-14-7-7 30-4 6zM1941 83l-4 2-6-1-4-2-3-5 0-16 3-5 4-2 4-1 5 2 4 4 2 6 0 10zM2173 1065l-167 0-1-14-2 0-1 2 0 12-27 0-7-34-10-26-11-22-12-40-17-46-12-50-3-2-18-5-28-14-12-12-16-20-10-9-12 0-18 4-18-6-13-12-10-14-5-10-4-14 4-44-5-24-8-44-6-18-1-8 1-18-1-40 2-10 0-22 4-26 3-6 19-12 1-4-3-16 0-42-1-4-2-2-27-4-14 1-6 19-4 5-18 12-13 5-3 4 0 40 4 26-2 16 13 36 7 14 10 16 14 11 5 7 3 14-3 8-9 11-6 3-22 1-18-6-6-1-20 3-22 15-10 12-14 28-4 4-4 2-14-2-6-4-3-8-3-18 34-130 0-24-19-60-3-6-10-12-7-20-6-8-1-6 5-30 7-22 4-44 4-20 0-28 6-14 5-6 19-7 8 1 15 10 20 18 15 18 10 5 58 13 46 4 46 0 4-4 6-32 2-14 1-22 10-26 5-7 12-8 10-3 10 4 6 5 10 17 3 12 3 40 4 12 2-2 7-16 11-13 6-6 12-5-6-18 1-24 4-10 5-5 8-4 6-1 5 2 6 6 7 14 0 22-2 10-5 6-11 10 9 18 2 10 1 26-3 12-4 10-11 11-9 5 0 2 21 17 4-1 12-9 14-4 50-2 14 4 48 21 5 4 9 18 8 7 2-3 1-20 4-14 5-7 10-9 16-5 6 0 18 6 10 10 7 17 1 8-1 14-6 18-17 17-6 4-8 3-6-1-6-3-10-8-4-2 0 12 3 22 3 6 18-2 16 4 8 5 12 13 5 14 0 6-4 14-7 12 15 8 9 10 2 6 0 8-4 12-10 10-12 5-6 0-12-4-8-6-5-7-3-10 1-16-8-4-7-1-3 5-9 32-7 12-11 10-14 5-12 3-3 2 6 4 19 8 5 4 8 18 0 4-3 5-18 12-6 3-52-6-18-4 0 2 20 23 6 9 8 22 0 22-3 18 3 18-1 6-3 4-8 4-7 12-14 64 3 4 12 4 28 17 3-1 5-7 12-12 20-7 12 1 12 4 10 6 7 7 6 12 5 16-1 8-3 12-5 10-6 6-9 9-14 6-2 2 0 3 8 34 4 6 6 5 26 9 6 5 3 5 5 14-3 12 1 18zM2055 278l-10 0-10-4-8-9-4-14 1-10 4-14 9-9 8-3 8 1 11 5 6 8 3 10 0 16-2 8-8 9zM2209 325l-10-2-12-11-7-11-6-18-1-6 1-10 7-21 16-14 10-3 10 2 8 7 9 13 4 14 1 6-1 16-9 24-11 12zM2008 527l0-26 13-28 0-8-4-4-28-8-22-18-4-1-3 5-9 32-6 10-1 4 4 4 47 34 10 6 2 0zM2005 637l-6-4-6-2-2 1-2 3 1 2 3 1zM1625 709l-6 2-8-1-7-5-4-6-1-10 1-6 6-6 5-3 8-1 6 1 7 5 4 6 1 6-1 6-4 6zM2141 836l-6 0-22-7-5-4-10-18-2-6-3-18 0-18 4-16 14-15 4-2 4 0 22 10 14 15 4 1 4-17 11-14 7-1 16 5 5 4 8 14 12 24 4 16 0 8-5 18-4 5-11 7-9 4-20-5-12-10-2 1-6 9zM1571 887l-10 0-6-3-11-23-5-24 0-34 2-8 4-5 12-9 6-3 30-8 48-11 38-3 20 9 4 4 4 12 2 20-7 22-4 6-27 11-40 10-29 9-3 2-18 23-4 2zM1791 909l-6 1-16-4-4-2-18-16-11-21-1-20 2-8 13-12 9-5 28 5 5 4 12 18 3 24-1 14-10 18zM1863 895l-6 2-10-3-6-4-3-7-1-12 2-6 5-6 7-3 8-1 8 3 6 6 3 7 1 8-2 6-6 7z"/>
<path fill="#c45858" d="M1771 127l-6 1-16-6-18-17-5-8-4-14 0-16 4-14 7-12 6-5 12-4 42-8 42 6 12 4 4 3 6 8 4 16-1 28-3 12-4 6-6 5-12 4-18 3-18 5zM2071 142l-6 0-6-3-7-8-4-12-3-12 1-14 3-16 5-10 4-4 5-3 8 0 7 5 9 14 5-14 9-9 6-2 8-1 6 1 6 2 8 9 3 10 0 8-4 10-7 7-8 4-6 1-10-3-12-10-2 3-1 14-4 18-5 8zM1939 82l-8 0-3-3-2-4 0-14 3-3 4-2 4 0 3 3 4 8 0 8zM1951 230l-10 1-4-4-6-8-4-12 0-16 3-10 7-10 8-3 6 0 6 5 5 8 3 8 0 20-2 8-4 6zM2169 1065l-160 0 0-16-2-4-7 4-1 16-22 0-6-34-10-26-11-22-13-41-17-45-13-54-20-5-28-14-12-11-16-20-12-12-30 5-18-6-12-11-9-14-4-8-5-16 4-32 0-12-5-24-7-42-7-20-1-8 2-16-2-10 0-30 2-10 0-20 5-28 3-5 18-11 2-3-4-19 0-44-2-6-8-2-20-2-16 0-3 2-5 18-4 6-18 11-14 5-2 4 0 42 4 26-2 12 0 5 12 35 8 15 11 17 13 11 4 5 3 12-2 8-8 10-5 3-22 2-22-7-24 3-22 15-10 13-16 30-4 2-12-1-4-2-3-2-2-8-2-16 33-128 0-26-18-60-4-8-9-10-7-22-6-6-2-6 5-28 7-22 3-30 6-42 0-22 5-12 4-5 18-8 8 2 14 9 20 18 14 17 12 7 56 12 14 0 32 4 49 0 3-1 2-4 8-45 1-24 10-26 5-6 12-7 8-2 6 1 4 2 5 6 8 14 4 12 3 42 9 48 3 6 4 1 1-1-8-22 1-20 6-16 10-14 8-7 6-2 12-1 10 10 7 14 3 12-1 24-6 18-9 10-6 3-10 2-10-1-1 2 1 2 18 6 14 11 6 8 14-12 16-6 48-2 14 4 18 9 30 11 5 5 9 18 18 20 5 18 3 26 2 8 4 2 12-3 10 0 16 6 12 11 5 12 2 10-6 16-9 12 20 8 7 8 3 8-1 8-2 8-9 10-16 5-16-5-8-8-3-10 0-10 4-10-1-2-22-5-2 3-11 38-4 8-7 8-8 5-12 4-14 2-10-1-3 2 5 4 32 13 4 3 9 18-1 4-4 5-16 11-4 1-52-6-48-16-4 1-3 6 0 2 3 3 20 2 6 2 10 7 20 24 9 26-1 10 2 14-3 16 2 20-2 4-9 4-8 14-14 62 1 6 17 7 30 18 2-1 6-10 12-11 18-6 10 0 14 4 8 5 7 8 6 12 5 18-8 22-14 16-18 8-1 4 9 38 4 6 8 6 24 7 9 9 4 14-3 12 1 20-1 8zM2053 276l-8 0-10-5-6-8-3-12 0-8 4-14 7-8 8-3 8 0 9 5 6 8 2 8 1 14-3 10-9 10zM2215 322l-6 1-8-1-10-9-9-12-7-22 1-12 7-20 16-13 8-3 8 2 8 6 8 12 6 18-1 16-4 14-7 14zM2165 419l-6 1-8-2-21-19-7-22 1-16 7-18 10-9 18-6 16 4 10 7 7 10 5 16-1 14-6 18-17 18zM2012 533l-3-20 1-10 14-30-1-10-4-4-14-3-16-6-22-19-5-2-3 5-10 37-8 12 1 4 57 42 10 5 2 1zM1623 708l-10 0-6-3-5-6-1-6 1-8 9-9 8-1 6 2 5 4 4 6 0 6-2 6zM2139 834l-18-4-8-4-13-21-2-6-3-18 0-14 3-16 15-15 6-2 22 11 18 20 2-1 2-5 2-16 10-13 6-2 14 4 4 4 7 11 14 28 4 18-5 20-8 8-8 5-6 2-20-4-14-14-7 13zM1577 884l-12 1-7-2-3-4-9-18-5-26 0-34 1-4 3-4 12-10 8-3 28-8 48-10 36-4 6 2 17 9 4 12 3 18-7 22-3 5-28 12-38 9-31 10-3 3-14 19zM1789 907l-4 1-16-4-14-11-7-8-10-20-1-16 1-8 13-12 8-4 4-1 23 5 16 22 3 22-1 12-2 6-8 12zM1861 893l-6 1-8-3-5-4-2-6 0-14 5-6 8-3 8 0 6 3 5 6 2 6 0 6-2 6-5 6z"/>
<path fill="#ac4242" d="M1773 125l-8 1-16-6-17-17-4-6-5-14 0-14 5-16 6-10 5-5 12-4 42-8 30 3 18 5 8 4 6 7 4 16 0 28-7 16-5 5-14 5-18 2-16 6zM2119 102l-8 0-8-2-9-9-3-6 0-12 2-6 6-7 8-4 12-1 8 3 7 9 2 8 0 8-4 10-5 5zM1937 80l-6-1-4-6 1-10 5-5 6 2 3 7 0 8zM2071 139l-4 2-4-2-9-8-4-10-3-16 1-12 4-18 6-10 9-4 8 3 4 5 5 12 3 14 0 12-4 18-5 8zM1951 227l-6 1-8-4-5-7-3-10 0-16 3-10 6-8 9-4 4 2 5 4 4 6 3 8-1 24-4 8zM2167 1065l-156 0 0-20-2-5-11 7-1 18-18 0-6-34-11-28-10-20-13-41-17-47-13-54-2-1-8 0-12-4-28-14-11-11-27-31-4-1-28 5-12-3-6-3-7-7-12-16-9-22 4-46-5-24-7-42-7-20-1-8 2-16-2-10 0-28 2-10 0-22 4-26 4-6 20-12-4-22 0-46-2-5-10-3-20-2-18 0-3 4-5 18-4 5-16 10-15 5-3 4 0 44 4 26-3 12 1 5 12 35 8 16 12 18 13 10 4 6 2 10-2 8-7 9-6 3-20 1-22-7-24 3-18 11-6 5-10 13-16 30-4 1-10-1-5-4-4-16 0-6 33-128 0-27-18-59-4-8-10-12-5-14-1-8-6-4-2-6 5-28 7-22 2-28 7-46 0-20 5-12 4-4 16-7 8 2 14 10 19 17 13 16 12 7 58 13 14 0 32 4 50 0 4-2 2-4 8-46 0-22 10-26 5-6 11-7 8-2 6 1 7 6 8 14 4 12 3 42 8 48 4 8 12 6 6 8 18 5 14 10 4 5 4 10 5-8 7-7 12-6 10-3 44-1 14 4 48 21 4 4 8 16 11 12 8 12 5 14 2 26 3 12 3 1 16-5 8 1 16 6 11 11 5 12 1 8-6 16-11 12-8 4-12 4-22-6-13 44-4 8-6 6-7 5-14 5-12 1-10-2-8 3 2 4 6 4 36 15 8 17 0 4-2 2-20 13-52-6-50-16-4 1-4 10 6 5 20 2 6 2 8 6 7 7 14 18 8 24-1 10 2 14-3 16 2 20-3 3-7 3-8 14-15 64 0 6 2 2 16 6 34 20 7-12 11-11 18-7 10 0 14 5 8 6 5 5 6 12 5 18-8 22-14 15-18 7-2 4 10 40 4 6 8 7 26 8 8 9 3 12-3 12 2 18-2 10zM2053 274l-8 0-9-5-6-8-3-12 3-14 2-6 7-7 8-3 6 1 8 5 5 8 3 8 0 12-3 8-6 8zM1933 321l-8 1-14-5-7-10-5-18 0-18 7-18 13-15 6-4 6-1 10 3 7 7 6 12 3 14 0 18-5 18-4 6-7 7zM2215 319l-4 2-8-1-11-9-9-12-6-20 0-10 7-20 5-5 10-8 8-3 8 2 7 6 8 12 5 16 0 16-4 12-7 14zM2165 417l-6 1-8-2-15-15-6-8-5-16 0-14 7-18 9-9 18-6 16 4 8 6 7 9 5 16 0 14-6 16-17 18zM2019 543l-5-14-3-24 15-32 0-4-2-8-3-3-16-4-16-6-28-24-4 10-9 33-2 6-7 10 0 4 54 40zM2189 569l-6 1-14-6-7-7-3-10 1-10 5-8 6-4 12-4 8 1 10 4 7 7 3 8 0 8-5 10-7 7zM1623 705l-4 2-6-1-6-4-3-5-1-8 2-4 8-7 6-1 6 2 4 3 3 5 0 8-4 6zM2139 832l-4 0-20-7-13-20-2-6-3-18 0-14 4-16 14-14 4 0 4 1 16 8 6 6 11 13 5 13 4-19 1-12 9-14 2-2 4-1 14 5 9 12 12 24 6 18 0 6-5 18-6 5-12 8-20-4-5-3-8-10-3-9-8 21zM1577 881l-12 2-6-2-11-20-5-26 0-34 4-7 12-10 6-2 30-8 46-10 36-4 6 2 16 9 3 10 3 18-6 20-4 6-26 11-38 9-32 10zM1789 905l-10-1-12-4-17-15-10-20-1-18 2-6 18-14 4-1 22 5 15 20 3 22-1 12-6 12zM1861 891l-6 1-6-2-4-3-3-6-1-10 2-4 4-5 6-2 6 0 6 2 5 5 2 6 0 6-2 6-5 4z"/>
<path fill="#e8ffe4" d="M1783 123l-16 1-14-4-6-4-16-17-6-16-1-12 5-16 5-10 5-5 12-4 42-8 28 3 16 3 10 4 6 7 5 16-1 26-5 16-5 5-12 4-20 4-18 5zM2115 101l-6-1-7-3-6-6-3-8 0-10 2-6 6-7 8-3 10 0 8 3 6 9 2 8-1 8-4 8-7 5zM1937 78l-6-1-2-4 0-10 4-3 4 1 4 6 0 6zM2071 138l-6 1-9-8-4-10-3-16 0-10 5-20 5-9 8-3 6 2 5 6 5 12 2 14 0 10-3 16-4 8zM1951 226l-6 1-8-5-4-7-2-10 0-14 3-10 5-7 8-3 4 1 5 5 4 8 1 6-1 22-2 6zM2167 1065l-154 0-1-22-1-6-15 10-1 18-14 0-7-36-11-28-10-20-12-38-18-48-12-54-4-3-8 0-12-4-28-14-38-42-6 0-26 4-16-5-11-10-9-14-8-22 3-32 0-14-5-24-7-42-6-18-2-10 2-14-1-10 0-28 1-10 1-22 4-26 4-5 10-7 8-3 2-3-5-24 0-44-1-6-10-3-22-2-20 1-2 2-5 18-4 6-17 10-14 5-3 3 0 46 3 26-2 16 13 38 7 14 12 19 14 10 3 5 3 12-3 6-7 8-6 2-18 1-16-6-6-1-25 4-19 12-6 5-10 13-14 27-4 2-8-1-5-2-3-8-2-14 7-24 27-108-1-26-17-54-6-12-8-10-5-14-2-10-6-4-1-4 4-28 7-20 5-46 5-30-1-18 8-16 14-7 8 1 14 9 20 18 14 17 12 7 58 12 46 4 52 0 4-3 1-4 8-46 1-22 10-26 4-5 10-6 6-2 6 0 4 2 4 5 8 14 4 12 3 42 8 46 3 8 14 8 6 8 18 5 14 11 3 4 3 12 2 2 7-14 7-7 8-4 14-4 46 0 56 23 4 4 10 18 9 10 8 12 5 16 3 26 3 13 20-5 6 0 16 6 11 10 4 8 2 10-2 10-4 8-13 12-14 6-6 0-18-6-2 0-12 44-5 10-5 5-6 4-14 5-12 1-12-1-7 2-2 2 3 4 9 6 34 14 8 16-1 4-2 2-16 10-18 0-36-4-52-18-4 4-4 10 0 2 6 4 22 3 6 2 8 6 19 23 9 24-1 10 2 12-4 18 3 18-2 3-8 4-9 15-15 66 1 6 19 8 34 21 2-1 5-12 11-11 16-6 10-1 14 4 8 5 5 5 6 12 5 18-8 22-12 13-20 8-2 3 11 42 3 6 8 8 28 9 6 7 3 12-2 12 1 16zM2055 271l-8 2-9-4-6-8-3-12 0-6 4-12 6-7 8-3 6 1 8 5 4 6 2 8 0 12-2 8zM1935 319l-10 1-10-3-4-3-5-7-6-18 1-16 6-18 13-16 5-3 6-1 8 2 7 6 6 12 4 14-1 18-5 18-9 11zM2211 319l-6 0-4-1-9-9-7-10-7-22 2-10 6-18 13-11 8-3 4 0 6 3 9 11 4 8 4 14-1 12-4 14-7 14-7 7zM2167 415l-8 2-10-5-16-17-6-18 0-14 7-18 9-8 16-6 16 5 7 5 6 8 5 16 0 12-6 18-14 15zM2027 553l-11-22-3-20 1-10 13-28 1-4-3-10-4-3-16-4-14-5-30-26-2 0-13 48-9 14-1 4 35 26 42 29 10 11 2 2zM2191 567l-8 1-10-3-6-5-4-5-2-8 0-8 4-7 6-5 14-4 6 1 10 4 7 9 1 10-3 10-7 7zM1619 705l-4 0-6-3-4-7 0-6 1-4 5-5 4-1 10 2 4 4 2 4 0 4-3 6-5 5zM2199 824l-8-1-14-3-9-11-1-4-1-10-3-6 4-40 3-8 9-9 14 3 4 4 19 36 5 16-1 6-5 16zM2139 830l-6 0-18-7-14-24-2-26 2-20 10-11 6-4 18 8 9 7 11 14 7 22 0 6-7 24zM1573 881l-10 0-4-2-10-20-4-26 0-30 0-4 3-4 11-9 6-2 30-9 48-10 34-3 20 9 4 10 2 16-8 26-26 11-40 10-30 10-4 3-16 21zM1789 903l-8 0-13-4-16-14-10-20-1-8 0-14 12-11 6-3 4-1 20 3 4 4 11 16 3 22 0 10-3 8zM1861 890l-6 0-6-2-4-3-2-4 0-12 4-5 6-3 6 0 6 3 6 9 0 4-2 6-4 5z"/>
<path fill="#cdfac8" d="M1769 123l-8-1-11-5-15-14-5-8-4-14 0-12 5-16 6-10 4-3 12-4 40-7 30 3 16 4 10 5 5 10 2 14 0 22-4 14-3 4-4 3-12 4-18 3-16 5zM2117 99l-6 0-8-3-7-7-2-6 0-10 2-6 6-6 7-3 10 0 6 3 5 6 3 8 0 6-3 10-5 5zM1935 77l-4-2-1-4 0-6 3-4 4 2 3 6-2 6zM2069 137l-6-1-7-7-4-10-2-14 0-10 4-18 5-9 8-4 7 3 4 6 4 10 2 16 0 8-4 18-4 6zM1949 225l-6 0-5-4-4-6-2-10 0-14 3-10 5-6 7-3 4 2 4 4 5 13-1 22-3 6zM2165 1065l-151 0 0-26-1-4-2-1-15 11-2 4 0 16-12 0-7-36-10-26-11-22-13-42-16-44-14-56-2-2-10 0-10-3-28-14-10-9-28-33-6-1-28 4-12-3-6-3-6-6-11-16-8-22 3-32 0-14-5-24-7-42-7-20 0-8 1-14-1-10 0-28 2-10 0-22 4-26 7-7 8-5 8-2 1-2-4-24-1-48 0-4-2-2-10-2-22-2-20 0-4 4-4 18-4 5-16 10-16 5-2 4 0 48 3 24-2 12 0 6 13 36 8 16 12 18 13 10 3 4 2 10-1 6-7 9-6 2-18 1-20-7-10 0-18 4-18 11-7 6-9 12-15 28-9 1-6-2-3-7-1-14 7-24 26-108-1-26-17-56-5-10-10-12-5-14 0-8-6-4-2-4 4-26 7-22 5-46 5-30-1-18 5-11 4-5 12-5 8 1 14 9 20 17 12 16 14 8 58 12 46 4 52 0 4-2 2-4 8-46 1-24 10-26 4-4 9-6 6-2 6 1 7 5 8 14 4 12 3 42 8 46 2 7 2 3 12 6 6 8 18 6 15 10 3 6 4 16 2 0 7-16 7-8 6-3 16-4 46-1 54 23 4 3 10 18 10 10 9 14 4 14 5 40 4 1 18-6 6 0 16 6 10 10 3 5 3 12-3 12-3 5-12 12-16 6-6-1-16-6-2 0-2 2-3 18-8 26-4 8-5 6-8 5-12 4-12 1-12-2-11 4-1 2 4 4 10 7 34 14 7 15-1 4-2 2-16 10-16-1-36-5-52-18-2 1-3 3-5 12 2 4 6 4 20 1 6 2 10 7 18 22 9 24-1 10 1 12-3 18 2 18-1 2-8 4-9 16-14 62-1 6 1 4 2 2 18 7 34 22 4-3 5-12 9-10 6-3 14-4 6 0 8 2 12 6 6 6 6 11 5 18-4 14-4 8-13 13-20 7-1 4 11 43 4 7 8 7 26 8 7 7 3 12-2 12 1 18-2 10zM2051 271l-8-1-6-4-4-7-3-10 0-6 4-12 6-6 7-3 6 1 6 4 4 6 3 10 0 10-3 8-6 7zM1929 319l-14-3-7-7-6-16 0-16 2-12 5-11 12-14 6-3 4-1 4 1 6 3 5 5 4 8 4 14 0 16-2 14-5 11-9 9zM2213 317l-10 0-10-9-7-9-6-22 0-8 8-20 13-11 6-2 9 3 9 11 3 5 4 16 0 12-4 14-7 13zM2163 415l-4 1-7-3-17-16-3-6-4-16 0-12 7-17 8-8 16-6 14 4 10 7 5 8 4 16 0 12-6 16-15 16zM1954 383l1-6-2-5-2 7 2 6zM2030 559l-1-6-12-24-3-18 1-8 14-30 0-4-3-10-4-4-15-3-16-6-32-28-2 3-7 32-5 16-10 14-1 4 37 28 41 28 15 16 2 1zM2185 567l-12-3-6-5-4-6-1-10 2-8 5-6 8-3 10-2 10 3 6 4 4 6 1 8-2 10-5 6-6 4zM1621 703l-4 1-4-1-6-6 0-10 6-6 4-1 6 1 4 3 2 5-1 8zM2201 821l-6 2-16-4-4-3-7-11-2-20 2-36 3-7 8-8 12 2 4 3 20 36 4 16 0 4-5 16zM2141 827l-6 2-18-6-15-24-2-20 2-24 4-6 11-9 6 1 16 9 13 15 4 8 4 20-4 20-3 6zM1575 879l-8 1-6-1-10-20-5-26 0-30 3-7 11-9 7-3 28-8 48-10 34-3 20 10 3 10 2 16-7 20-2 4-26 11-38 9-32 10zM1789 901l-6 1-14-4-15-13-11-20-1-8 1-14 16-13 8 0 16 3 14 18 3 22 0 10-2 6zM1863 887l-6 2-4-1-4-2-3-3-2-4 0-8 5-7 6-2 4 1 5 2 4 4 2 6-1 4-2 5z"/>
<path fill="#b4f5aa" d="M1781 121l-16 1-12-4-6-5-14-15-6-15 0-12 4-16 6-10 5-4 11-4 40-7 28 3 16 4 10 4 4 6 4 14 0 26-6 16-5 4-11 4-20 3-16 5zM2119 97l-6 2-8-3-6-6-3-5-1-10 2-6 4-5 6-4 10-1 6 2 4 4 5 8 1 6-4 10-4 5zM1935 75l-3-2-1-4 1-4 3-2 3 6 0 4zM2069 136l-6-2-6-7-4-10-2-14 2-18 4-10 4-7 6-2 6 2 4 6 4 11 2 14 0 8-5 18-4 6zM1949 224l-6-1-5-4-4-10-1-6 0-12 4-10 4-5 6-2 4 2 4 5 3 6 1 6 0 14-1 6-4 6zM2163 1065l-147 0-1-28-2-5-4 2-15 11-2 20-8 0-8-36-10-28-10-20-14-42-16-44-13-56-4-3-10 0-10-3-28-14-10-10-28-33-8 0-26 4-10-3-6-2-6-6-12-17-4-9-4-14 3-30 0-14-5-24-5-34-9-28 0-8 1-14-1-10 0-28 2-10 0-20 4-26 4-6 10-6 8-3 3-3-5-26 0-46-2-6-12-3-22-2-20 0-4 3-4 16-4 8-17 10-15 5-3 3-1 48 4 26-3 12 1 6 13 36 7 16 12 18 16 14 3 10-2 6-6 8-5 2-18 0-20-6-10 0-18 3-18 11-8 8-10 12-14 27-8 1-5-2-3-6-2-12 34-132-1-28-17-56-5-10-11-14-4-12 0-10-6-3-1-3 3-26 7-22 5-46 5-30-1-18 8-15 13-5 7 1 14 9 18 16 14 17 14 8 58 12 46 5 52-1 4-2 3-5 8-46 1-22 10-26 2-4 10-7 6-2 6 1 4 2 3 4 7 13 4 11 3 42 7 46 3 8 3 3 12 7 4 6 20 7 15 11 5 18-1 12 3 12 2 1 1-21 5-14 4-6 8-7 18-5 42-1 10 3 48 20 4 4 9 16 9 10 10 14 4 14 3 26 3 16 2 1 18-7 6 0 17 6 11 10 5 16-5 16-12 12-16 6-6-1-16-6-4 0-4 19-8 26-4 10-6 6-6 4-14 4-10 1-12-2-14 5 1 4 13 10 35 14 7 14-2 4-16 10-14 0-34-4-20-6-38-15-5 3-6 14 3 6 8 5 20 1 6 2 8 6 20 24 8 22-1 10 1 12-3 18 1 18-8 5-9 15-15 68 0 6 4 3 17 7 35 23 2-1 2-2 6-14 8-8 6-4 14-4 8 0 14 6 8 6 7 12 5 18-8 21-12 13-22 7-1 3 12 46 3 5 10 10 26 8 6 7 3 10-2 12 1 16-3 12zM2053 269l-6 1-8-4-4-5-4-12 4-16 6-7 6-3 6 2 6 4 6 12 0 10-2 8-4 6zM1935 317l-10 1-12-5-6-8-4-16 0-16 5-16 13-15 4-3 6-2 6 2 7 6 6 12 3 14 0 16-4 16-6 8zM2213 316l-4 1-6-1-9-9-7-10-6-20 0-8 7-18 3-4 10-7 6-3 8 3 10 11 6 20 0 12-4 12-7 14zM2165 413l-6 1-6-2-14-13-6-8-4-16 0-12 6-16 10-9 14-4 14 3 8 6 6 8 4 16 0 10-5 16-15 16zM2031 563l1-4-1-5-13-25-3-20 2-8 13-28-2-14-5-5-18-4-14-5-14-12-18-18-3 4-7 32-6 18-9 14-1 4 6 6 30 22 43 30 15 17 2 2zM1819 563l4-5 2-6 0-17-4-10-2-2-4-2-4 2-2 3-4 17 3 12 3 7 4 2zM2189 565l-8 0-10-4-5-6-3-8 0-8 4-6 6-4 12-4 9 2 7 4 5 6 1 6-1 8-3 6-6 5zM1621 702l-4 0-4-1-6-6 1-8 7-6 8 2 5 6-1 6zM2197 821l-18-3-10-13-2-22 2-34 3-6 7-8 12 2 4 4 18 34 5 16 0 4-5 16-10 8zM2137 827l-20-5-11-17-3-8-2-22 2-20 4-6 10-8 15 6 9 6 11 14 5 16 2 12-6 21-4 5zM1985 799l4-10 3-18-5-21-2-3-4-2-3 4-3 7-2 17 2 16 2 6 4 6 2 0zM1575 878l-8 1-6-2-9-18-5-26 0-30 3-6 11-9 6-2 30-9 46-10 34-2 18 8 4 10 2 14-8 24-22 10-42 11-32 10-4 3zM1785 901l-14-3-14-12-4-5-9-18-1-14 1-6 11-9 6-3 8 0 14 3 13 19 3 22 0 8-8 14zM1859 887l-10-2-4-6 1-10 5-4 4-2 4 1 5 3 5 8-3 8z"/>
<path fill="#96f08c" d="M1785 119l-18 2-12-3-6-4-14-15-7-16 0-12 4-16 5-8 4-4 12-5 40-7 28 3 24 7 5 6 4 14 0 26-5 14-4 4-12 5-20 3-16 5zM2115 97l-8-2-4-2-5-6-2-6 1-8 2-5 5-5 7-3 8 1 5 2 5 7 2 7-2 8-3 6zM1935 73l-2-4 2-3 1 3zM2069 134l-4 0-7-7-3-10-3-14 1-8 4-17 4-8 6-3 6 3 4 7 5 24 0 6-5 17-3 5zM1949 222l-4 0-6-4-4-9-1-6 1-12 2-8 4-5 6-3 3 2 4 4 3 7 1 5-1 17-3 7zM2161 1065l-143 0-2-6 0-24-1-3-2-2-19 13-2 4-1 16-1 2-4 0-8-36-11-28-10-21-13-41-17-45-8-33-3-18-3-6-4-2-10 0-10-3-28-15-38-42-8 0-26 4-14-4-10-9-10-15-4-10-3-12 4-30-1-16-9-56-10-28 0-8 1-14-1-12 0-26 2-10 0-20 5-26 2-4 9-6 11-4 2-4-5-26 0-48-3-5-12-3-22-3-22 1-3 4-5 18-4 6-16 9-16 5-2 4-1 50 4 24-3 12 1 8 12 34 8 16 11 18 15 12 3 4 1 8-1 5-6 8-4 1-18 1-20-6-10 0-18 3-18 11-8 7-11 14-13 25-2 1-6 1-5-3-3-17 7-23 26-108 0-28-13-40-7-22-14-18-4-12 0-10-7-6 4-26 6-22 5-46 5-30 0-18 4-10 4-4 12-5 6 2 12 7 20 17 14 18 13 7 59 13 46 4 52-1 5-2 3-6 8-46 1-22 10-26 3-4 9-6 5-2 6 1 6 5 7 14 4 10 3 42 10 54 4 5 10 5 6 8 19 6 15 12 5 18-1 13 6 16 2-4 1-25 5-14 8-8 20-7 42-1 6 1 52 23 3 2 10 18 9 9 9 13 4 14 5 40 1 4 3 0 18-7 6 0 16 5 10 10 6 16-6 16-10 10-16 6-6 0-18-7-3 1-4 20-8 26-5 10-4 5-6 4-12 4-12 1-12-2-12 3-4 3 1 4 15 11 32 13 3 2 5 12 0 2-16 11-14 0-36-5-47-16-3-2-2-4 4-18-4-3-8-2-16 1-1 14-2 6-5 6-8 0-6-4-2-6 3-22-6-8-3-6-26-16-2 0-2 4-1 6 1 10 16 31 24 25 4 2 22 3 14 9 18 1 8 3 10 7 12 14 9 17 4 14-1 8 1 12-3 18 1 16-8 6-9 17-15 67-1 4 2 4 4 3 16 5 36 24 2 0 2-2 6-14 8-9 6-4 12-4 8 0 14 5 8 5 5 7 8 22-6 20-4 6-9 8-10 5-13 3-1 4 12 46 3 6 9 9 26 8 5 3 2 4 3 10-3 12 2 16-3 10zM2053 268l-6 1-7-4-5-6-2-10 3-16 5-5 6-3 4 0 6 4 4 5 2 7 1 10-3 8zM1937 315l-10 2-12-4-7-8-4-16 0-16 5-15 12-15 8-4 8 1 6 6 6 11 3 12 0 16-3 14-4 8zM2211 315l-8-1-14-15-7-22 0-8 7-18 12-10 6-2 8 2 8 10 7 20 0 12-4 12-7 13zM2161 413l-8-2-16-15-5-13-2-10 0-10 7-16 8-8 14-4 14 3 9 7 4 8 4 16 0 10-7 16-14 15zM2030 567l3-4 0-6-14-29-3-19 1-6 14-30-2-14-6-6-18-4-14-6-23-20-9-12-4 8-7 32-4 14-3 6-9 12-1 4 1 2 37 28 42 29 15 21zM1819 565l4-4 4-8 0-18-5-12-3-2-4-1-4 1-4 5-3 17 2 12 3 7 4 4zM2193 563l-8 2-6-1-6-3-6-6-3-8 0-6 3-6 4-4 16-5 10 3 6 6 3 8-2 10-5 7zM1619 701l-6-1-4-5 0-6 6-6 8 2 3 4-1 7zM2199 819l-6 1-12-3-4-3-6-9-3-22 3-34 4-8 6-4 10 2 2 2 18 32 6 18-5 18-3 4zM2139 825l-6 0-15-4-13-22-3-20 3-24 4-6 8-6 8 2 14 8 12 14 3 8 4 18-5 19-4 7zM1986 801l5-11 2-19-4-20-4-7-4-1-4 4-2 4-4 23 2 15 3 8 5 6zM1573 877l-10-1-10-19-5-22 0-12 0-20 4-6 9-7 6-3 30-8 46-10 34-3 18 9 2 8 2 14-6 20-2 4-25 10-37 9-32 10-4 3-16 21zM1785 900l-12-3-16-12-12-22 0-18 14-12 8-1 14 3 14 18 3 22-1 8-8 14zM1861 885l-9 0-5-5 0-9 6-6 4 0 4 1 6 7 0 6z"/>
<path fill="#78eb6e" d="M1779 119l-14 1-10-4-6-4-14-15-6-16 0-10 4-15 6-10 4-3 10-3 40-8 28 3 17 4 8 4 4 6 3 14 0 24-6 15-4 3-10 3-20 4-16 5zM2115 95l-10-3-5-5-2-6 0-6 2-6 5-5 6-2 8 1 4 2 4 5 2 7-1 8-3 5zM2069 132l-4 0-6-7-4-10-2-12 1-6 5-20 4-6 4-2 4 2 4 6 6 24-4 19-3 7zM1949 220l-4 0-4-2-4-9-1-6 0-10 3-10 3-4 5-2 6 6 3 10-1 18-2 5zM2157 1063l-136 0-2-2-1-4 0-24-3-4-2 0-21 14-2 4-1 12-2 1-8-33-10-26-10-20-13-42-18-46-13-56-4-3-12 0-9-3-28-14-9-9-28-33-8-2-28 5-10-3-6-3-5-5-11-16-4-8-4-14 4-30-1-16-9-56-9-26-1-10 2-14-2-12 1-24 2-10 0-22 3-20 1-6 3-3 10-7 8-2 3-4-5-28 0-48-3-6-13-3-22-3-22 1-4 5-4 15-4 8-16 9-16 5-3 3-1 50 4 26-3 14 2 10 10 30 8 16 13 20 16 14 1 8-1 5-6 7-4 1-16 0-20-6-10 0-20 4-18 11-8 8-10 12-14 26-6 1-4-3-2-16 33-130-1-28-7-24-12-36-14-20-5-14 1-8-7-8 3-24 6-20 5-47 5-31 0-16 7-14 8-4 6-1 14 7 23 20 11 15 14 8 58 12 48 5 52 0 6-4 3-4 8-48 1-22 10-26 3-4 11-6 8 0 4 3 8 15 4 12 3 40 7 48 3 8 3 4 11 6 5 6 20 7 12 9 4 6 3 12 0 14 6 22 1 10-10 45-4 11-10 14-1 6 7 6 45 34 4 4-1 1-4 0-36-15-10-3-3 1 1 6-3 4-3 2-6 0-3-2-2-4 0-4 3-4-14-4-16 1-12 4-5 7 1 8 3 8 7 9 16 15 8 19 16 29 23 24 5 3 20 2 16 8 16 1 8 2 13 10 15 20 8 22-1 8 1 12-4 18 1 14 0 2-7 6-9 16-15 68 0 6 4 5 18 7 38 24 3-2 5-14 3-4 8-8 11-4 10-2 9 2 11 6 6 5 6 12 4 13-6 19-4 6-9 9-13 5-10 1-2 4 13 48 3 6 10 10 26 8 6 6 3 10-3 12 1 16-3 8zM2049 267l-6-2-4-3-3-5-2-10 4-14 4-4 5-2 4 0 6 4 4 8 1 6 0 8-3 7-5 5zM1933 315l-10 0-10-5-4-7-4-16 0-14 6-16 12-14 8-3 8 4 6 8 4 9 2 14 0 12-5 16-7 9zM2211 313l-4 1-4-2-12-12-4-8-4-15 1-8 6-18 11-8 6-3 8 3 7 8 3 6 4 14 0 12-4 12-7 12zM2165 411l-6 1-4-1-15-14-5-7-4-15 1-12 6-16 7-6 14-5 13 3 8 6 5 7 4 15 0 10-6 16zM2093 640l-14 0-36-4-42-15-6-4 1-4 3-3 22-1 13-4 5-4 3-8-3-8-6-12 2-12-1-6-4-10-9-16-3-18 1-8 13-28 0-6-2-10-3-4-4-3-20-5-12-5-25-23-8-16 1-30 2-8 5-12 5-5 5-3 15-4 44-1 10 4 46 20 12 19 9 10 9 13 4 13 5 42 1 3 4 1 14-6 10-2 17 6 7 7 4 6 3 11-3 10-4 7-9 9-17 6-22-8-4 1-4 21-8 26-4 9-6 6-19 7-9 1-10-2-6 0-10 3-4 4 2 6 14 10 32 13 4 3 4 10-1 2zM1867 401l10-4 4-4-4-2-15 0-11 4-4 4 4 2zM1817 567l6-4 4-6 1-20-1-6-4-8-4-4-4-1-6 3-3 4-4 18 5 18 4 5zM2189 563l-6 1-10-4-6-7-2-7 1-7 4-6 15-6 8 2 6 3 4 5 2 6-1 8-3 5-6 5zM1951 562l-4 1-4-1-4-5 0-10 2-3 4-3 6 1 5 7 0 6zM1967 585l-10 1-6-3-4-4 1-4 9-9 20-7 14 0 4 1 3 3 1 4-1 4-5 5-12 6zM1957 618l-4 0-4-1-4-6 1-14 1-4 4-4 6 1 3 3 4 12-2 8zM1619 699l-4 0-4-4 0-6 4-4 5 0 4 4 0 6zM2199 818l-6 0-12-3-7-8-2-4-2-20 2-32 3-7 6-5 8 1 4 3 18 34 4 14 0 4-5 14zM1986 803l3-4 3-8 2-20-5-23-4-5-4-1-4 3-3 4-2 8-2 16 2 16 3 9 4 5 4 1zM2139 824l-6 0-14-4-10-15-3-8-2-20 2-20 3-5 8-7 8 2 13 8 11 12 4 10 3 16-4 18-3 6zM1573 875l-8 0-4-4-7-14-4-22 0-32 2-4 9-8 36-11 48-10 32-2 16 8 3 7 2 14-8 22-23 10-38 9-34 11-4 4zM1785 898l-13-3-13-11-12-21-1-8 1-10 12-10 8-1 14 3 12 17 3 27-3 7zM1861 883l-6 1-5-3-2-8 3-5 6-1 7 4 1 6z"/>
<path fill="#50e450" d="M1783 117l-16 2-12-4-6-4-13-14-5-14-1-12 4-14 5-9 4-4 10-3 40-8 28 3 16 4 8 4 4 6 3 13 0 24-6 14-3 3-10 3-20 4-16 5zM2119 91l-4 2-6-1-4-3-4-6 0-10 4-6 4-2 10 0 7 8 1 6-2 6zM2067 129l-4-2-4-7-4-17 0-6 6-18 4-6 2-1 2 1 4 6 6 18 0 6-4 17-4 7zM1947 218l-3-1-3-4-3-14 3-14 3-4 3-1 3 3 3 6 1 10-2 12-2 4zM2157 1060l-134 0-2-2-1-3 0-24-5-4-4 1-11 9-13 7-2-3-14-40-11-22-12-40-18-46-5-18-6-34-3-6-5-3-10 1-8-2-30-15-9-9-29-34-8-1-28 5-12-4-9-8-11-16-7-20 4-32-1-22-8-50-10-24-1-10 2-14-1-18 6-68 4-10 8-5 10-4 2-5-5-28 0-48-1-4-2-3-14-4-22-2-22 0-5 5-5 19-3 5-17 10-16 4-3 4 0 50 3 26-2 14 3 18 9 26 15 26 5 8 16 14 1 6-1 4-6 6-4 1-14 0-18-6-14 0-18 3-20 13-8 7-11 14-11 22-4 2-4-2-1-14 32-130-2-30-12-38-7-22-14-18-4-12 0-10-5-10 2-22 6-20 4-46 6-32 0-14 3-9 4-5 8-4 4 0 14 6 22 18 12 16 14 8 60 13 46 4 52 0 6-3 4-6 9-48 0-22 10-26 7-6 8-3 6 0 3 3 8 14 4 12 2 40 8 48 2 8 5 6 10 6 6 5 22 9 9 8 3 6 3 12 0 12 6 22 2 12-8 36-5 15-12 17-1 6 3 5 23 17 8 8-5 1-16-5-32-6-20 1-10 3-6 4-3 6 1 9 3 7 7 10 17 16 23 46 24 25 6 4 18 2 18 7 16 1 8 2 12 9 14 19 8 23-1 8 2 12-4 16 1 14-16 26-16 68 0 6 4 6 18 6 40 26 4-4 7-16 8-8 8-4 9-3 8 1 11 4 10 8 5 10 4 14 0 6-6 14-12 13-13 5-11 1-1 5 15 54 12 11 26 8 6 7 2 8-3 14-1 14-1 4zM2051 264l-4 0-6-3-4-12 3-14 3-4 4-2 4 1 4 3 5 10 0 8-2 6zM1935 313l-10 1-10-4-4-5-5-16 0-16 5-14 12-13 8-4 6 3 6 6 4 8 3 14 0 14-4 14-4 6zM2209 312l-4-1-4-3-10-10-6-15-1-8 1-8 6-15 10-8 6-2 6 2 9 9 5 12 1 8 0 10-4 12-7 11zM2165 410l-4 1-6-1-14-13-5-8-4-14 1-12 6-15 8-7 12-4 12 3 8 5 5 8 4 14 0 10-5 14-4 6zM2047 587l-4-2-7-12-1-22-12-24-2-16 0-6 7-16 6-16-3-16-8-6-18-4-13-6-24-22-8-16 0-30 5-16 8-9 14-5 48-1 10 3 44 20 31 42 6 24 3 34 4 2 20-8 10 0 10 4 6 4 6 8 3 8 0 6-3 10-6 8-8 6-14 4-9-2-13-6-4 0-2 2-2 17-8 28-5 11-6 6-8 4-11 3-8 1-10-3-8 1-10 3zM1871 401l9-4 3-4-2-2-4-1-16 0-13 5-3 4 1 2 5 1 14 0zM1927 527l-4 1-5-3-1-4 4-5 6 0 3 3 1 4zM1820 567l5-4 4-8 0-20-6-13-4-4-4-1-6 3-4 4-2 7-1 12 2 14 5 8 4 3zM2191 561l-6 2-6-2-5-2-5-5-3-11 2-6 4-4 15-4 8 2 7 6 2 8-2 8-5 5zM1949 561l-6-1-3-5 1-8 2-3 4-2 5 3 3 6-1 6zM1971 583l-6 1-10 0-5-3-1-2 0-4 8-7 14-6 10-2 8 0 4 0 4 3 1 6-5 6-10 5zM1955 617l-6-1-3-7 2-14 5-4 4 1 3 3 3 12-3 8zM2093 637l-12 1-38-5-40-14-2-2 0-2 5-2 17-1 12-4 6-5 6-10 2 0 18 13 33 13 3 10-3 4zM1619 696l-4 0-2-3 1-4 3-2 4 2 1 2zM1985 805l4-4 4-9 3-19-3-17-3-9-5-6-4 0-4 2-4 6-2 8-2 16 4 24 6 8zM2199 815l-6 1-10-2-4-3-5-8-2-20 2-30 2-6 5-5 6 0 4 3 17 32 4 12 0 6-3 12zM2139 821l-4 1-8-1-8-4-8-12-4-8-2-20 4-20 2-4 6-5 6 1 14 8 10 10 4 8 4 18-2 8-5 14zM1571 873l-6-1-6-10-4-13-3-14-1-30 2-4 8-7 10-5 76-17 30-2 14 8 3 7 1 14-5 14-3 5-21 9-39 10-32 10-6 4zM1783 895l-10-2-12-10-4-6-8-16 0-14 12-10 6 0 12 2 12 16 2 26-6 12zM1859 881l-4 0-4-2 0-6 2-3 4-1 5 4 1 4z"/>
<path fill="#32c03c" d="M1771 117l-6 0-12-5-14-13-3-6-4-12 0-10 3-14 6-10 12-5 40-7 28 3 16 3 8 5 5 13 1 22-2 11-5 9-9 4-22 4-16 5zM2117 88l-4 0-4-1-4-6 0-8 6-4 6 0 5 6 0 8zM2067 124l-4-3-4-6-3-12 2-8 7-14 2-2 2 2 7 14 2 8-3 12-4 6zM1947 211l-2-1-2-4-1-7 1-7 2-4 2 0 2 3 1 8-1 8zM2139 1057l-112-1-2-2-1-3 0-20-2-4-5-2-6 1-14 11-8 2-2-1-15-39-9-20-13-42-18-44-5-18-5-34-3-7-6-3-12 0-9-2-28-14-9-8-30-35-8-1-28 4-12-3-8-7-11-16-5-12-1-8 3-32 0-24-8-50-8-16-4-16 2-14-1-16 5-28 1-22 3-20 4-8 14-7 4-7-5-30-1-50-2-6-14-4-24-2-24 0-4 5-4 16-4 8-8 3-8 6-16 4-4 4 0 52 3 26-3 16 3 22 8 22 6 12 13 21 16 15 0 6-4 4-4 1-10 0-20-6-14 0-20 4-20 12-7 7-12 14-9 17-2 3-2 0-1-8 20-82 1-13 8-19 3-14-5-32-11-38-8-22-14-20-4-10 0-12-4-10 2-20 5-20 3-30 7-56 4-11 6-7 8-3 14 5 22 18 12 16 14 8 60 12 46 4 54 0 6-4 4-6 8-48 1-22 9-24 4-5 10-5 4 0 4 3 8 15 3 10 3 40 7 48 3 10 7 8 13 8 21 8 10 10 6 16 1 14 7 30-2 16-9 33-3 7-10 14-2 6 1 6 15 12 2 2 0 2-37-4-18 1-8 2-6 3-5 6-2 6 1 7 4 9 6 8 18 16 24 48 24 25 4 3 14 2 24 8 16 1 8 2 12 9 14 20 7 20-1 8 1 12-3 16 0 12-15 26-2 8-14 64 0 6 3 4 21 8 39 26 4-2 6-16 4-6 7-6 11-4 8-1 12 3 10 6 4 7 7 19-1 8-6 13-11 11-13 5-10 0-2 1-1 4 16 56 13 13 26 8 3 3 3 6 0 6-6 27-4 2zM2051 259l-6 0-4-10 2-10 4-5 4 1 2 2 3 8-1 8zM2211 308l-4 1-4-2-10-8-4-9-3-13 0-8 6-16 4-4 11-5 6 2 7 7 6 18 0 12-3 10-6 10zM1929 313l-10-2-6-5-5-15-1-14 2-9 5-11 11-10 6-2 8 4 5 8 4 14 1 12-2 10-5 12-6 6zM2163 409l-8-1-14-13-4-7-4-15 1-10 6-14 7-7 12-3 12 3 8 5 4 7 4 15-1 10-5 13-12 13zM2049 582l-4 0-2-2-5-7-2-26-10-24-1-16 10-34-3-16-7-7-21-5-11-5-24-21-4-6-3-10 0-30 3-13 3-5 5-5 12-5 8-2 42 0 10 3 43 21 30 40 4 12 5 44 2 5 4 1 10-5 10-4 8 0 10 4 6 3 6 7 4 9 0 6-4 11-8 9-6 3-14 4-22-9-4 1-2 5-2 18-8 26-4 9-6 6-16 6-10 1-16-2zM1867 403l14-6 2-2 0-4-6-2-16 0-14 6-3 4 1 2 4 2zM1822 567l6-6 2-6 0-22-7-12-5-4-5 0-7 4-3 4-2 12 0 8 2 12 4 8 6 4zM1927 526l-4 1-4-2-1-2 1-4 6-2 4 2 1 4zM2187 561l-6 0-8-4-4-6-1-6 1-6 3-4 13-5 6 1 6 3 4 4 1 5-1 8-2 4-6 4zM1949 560l-6-1-2-4 1-8 5-3 4 1 3 6-2 6zM1967 583l-8 0-6-1-3-3 0-4 7-6 14-6 14-3 6 1 4 2 2 6-4 5-12 6zM1957 616l-4 1-3-2-3-6 1-12 2-4 3-1 5 3 4 10-1 6zM2091 633l-10 1-36-4-20-7-8-4-2-2 20-7 12-9 4-1 16 10 30 13 1 6zM1987 805l5-6 3-8 2-18-3-18-3-8-4-5-6-2-5 3-4 6-2 8-2 18 2 16 5 11 6 5zM2197 813l-6 1-8-2-4-5-3-6-1-18 3-30 2-4 3-3 4 1 4 5 16 31 2 10-2 11-3 5zM2137 819l-10 0-6-3-6-7-6-12-2-18 1-8 5-14 6-5 14 5 6 4 8 9 4 9 2 14-2 9-5 11zM1571 868l-4-1-6-10-8-36 1-16 2-4 7-6 8-3 34-7 28-8 14-3 28 0 8 3 5 4 2 6 1 12-3 10-4 6-17 8-40 10-34 10-7 6zM1783 890l-8-1-12-10-10-18-1-6 1-6 8-8 6 0 10 2 10 13 3 23-3 6z"/>
<path fill="#1ea22a" d="M1777 115l-10 1-10-3-6-4-13-14-4-12-1-12 4-14 5-8 11-5 40-8 28 3 16 4 6 3 4 7 2 10 0 24-5 12-3 2-8 3-20 4-16 5zM2069 118l-2 1-4-3-5-11 2-8 3-5 4-2 6 5 3 8-3 10zM2143 1053l-10 2-99-6-3-3-1-11-2-6-5-6-4-1-8 2-14 11-8 0-3-4-11-32-10-22-4-18-9-26-18-42-5-16-4-34-4-9-6-3-18 0-32-15-8-7-28-34-4-3-8-1-26 5-6-1-12-6-13-18-7-18 4-32 0-20-5-40-3-20-9-12-3-16 2-14 0-18 6-26 6-38 3-6 11-8 4-10-1-6-5-26 0-52-2-4-2-2-16-4-22-2-24 1-5 3-5 20-4 6-6 3-8 5-20 6-2 8 0 48 3 28-2 12 0 32 6 16 13 19 6 15 13 14-3 2-4 0-18-5-36 2-20 11-18 13 0-9 8-38-2-18 4-9 9-11 2-12-9-36-18-57-3-5-11-13-4-9-1-6 0-10-4-12 7-36 4-48 6-38 4-8 6-8 10-3 8 2 22 17 14 18 14 7 60 13 46 4 54 0 8-6 3-6 9-48 0-22 3-10 9-17 10-5 4 0 3 2 8 14 3 10 2 40 7 50 3 9 4 7 4 4 31 12 9 8 9 18 9 44-3 16-9 34-15 24-2 10 2 6-1 2-4 1-30 0-14 5-5 4-3 6 0 8 1 6 3 6 8 10 16 14 24 47 26 28 24 9 18 4 16 0 6 2 12 8 15 20 6 18-1 10 2 14-5 28-14 24-4 18-12 54 0 6 3 5 22 8 28 18 10 8 4 1 4-4 7-18 7-7 6-4 12-3 8 1 12 6 6 7 7 20-1 8-5 12-7 8-6 4-10 3-12 0-2 2-1 3 14 54 3 6 12 12 26 8 5 6 1 8-4 15-6 9zM2209 306l-6-2-9-7-6-14-1-8 1-8 5-13 4-4 10-4 6 2 6 6 4 9 2 10 0 10-3 10-7 9zM1931 311l-8 0-7-4-5-10-2-10 0-14 4-12 6-7 10-6 6 2 7 7 5 20-1 12-4 14-5 5zM2163 407l-4 1-4-2-13-13-5-10-2-10 1-10 5-13 6-6 12-4 12 3 6 4 5 8 3 14-1 10-4 12zM2049 579l-6-2-3-6 0-26-10-26 0-12 7-34-3-16-5-6-4-3-20-4-12-6-23-21-6-14-1-30 4-14 7-8 13-5 48-2 10 4 42 21 30 38 6 24 2 32 2 7 4 2 18-9 6-2 6 1 10 3 6 4 5 6 3 8 0 6-3 10-7 8-6 4-14 3-24-10-4 2-2 5-1 16-7 26-5 12-6 6-17 6-8 1-18-4zM1869 403l13-6 3-4-1-2-7-3-16 1-12 4-4 3-2 3 2 3 4 2zM1819 569l7-4 4-6 2-8 0-16-8-14-5-4-4-1-6 2-6 5-2 6-1 14 2 14 4 8 6 4zM1927 525l-6 0-2-4 4-3 4 1 2 2zM2187 559l-6 0-6-3-4-5-2-6 1-6 3-3 12-4 6 0 5 3 4 4 1 4-3 10-4 4zM1949 559l-4 0-3-4 1-8 4-3 4 2 2 5 0 4zM1971 581l-14 1-4-1-2-4 6-7 14-6 14-3 6 1 4 2 1 5-3 4-10 5zM1957 615l-6 0-3-6 1-12 4-4 4 2 4 10 0 6zM2079 625l-32-2-12-4-3-2 11-8 6-2 14 9 15 7 2 2zM1987 807l4-4 3-6 4-22-3-20-3-8-5-7-6-1-6 3-4 7-2 8-2 18 3 18 4 10 5 5 4 0zM2135 817l-8 0-6-4-6-7-4-9-2-16 1-6 7-14 4-3 8 2 8 3 8 8 4 9 1 15-3 11-4 7zM2195 811l-6 0-5-2-3-4-3-6 0-18 3-9 6-10 14 14 4 11 1 8-2 8-5 6zM1571 856l-2-1-2-3-3-11-7-15-2-7 1-14 9-9 14-4 28 0 22-11 20-5 24 2 7 3 4 4 3 10-1 8-3 7-6 5-16 6-34 5-24 7-20 10zM1781 881l-5 0-7-6-4-5-6-14 1-5 3-2 4-1 6 1 7 8 3 20z"/>
<path fill="#0c921e" d="M1779 113l-12 1-10-3-8-7-10-11-4-12 0-10 3-12 5-9 10-5 40-7 28 3 21 6 3 6 2 10 0 24-4 11-10 5-20 3-16 5zM2069 114l-4 0-2-2-2-7 1-6 5-4 4 2 2 6-1 6zM2135 1051l-42-2-38-7-12-4-15-15-7-4-12 4-12 10-6 0-3-4-10-30-10-22-3-12 0-8-4-6-5-18-18-40-5-14-5-38-5-12-6-2-20 0-32-15-7-7-27-32-6-5-8-1-28 5-10-3-8-7-10-15-6-16 5-54-7-54-3-8-9-10-2-14 1-14 1-16 10-38 2-6 14-22 4-20-1-10-5-26 0-52-3-6-7-3-14-3-22-2-24 1-5 5-4 18-3 6-8 3-8 7-16 3-4 2-2 9 0 48 4 28-3 12-3 26-6 12 0 4 4 9 12 6 9 9 3 8 0 8-4 5-10 2-14 0-14-7-12 3-2 1-1-2 0-10-9-11-3-9 5-9 4-3 14-6 0-4-14-32-23-74-13-15-4-7-2-8 1-8-3-12 5-38 3-34 6-40 4-14 8-10 10-4 6 1 20 16 15 19 15 7 60 13 46 4 54-1 4-1 5-4 4-8 8-48 1-20 2-10 5-8 2-6 3-4 8-4 4 0 2 2 7 12 3 10 2 38 4 20 1 16 3 18 4 13 6 8 29 9 9 8 11 20 9 42-2 16-10 36-14 18-7 16-3 2-6 2-22 2-12 5-5 5-3 6 0 8 1 6 4 8 7 8 18 15 24 47 26 29 20 11 14 0 30 3 11 9 15 20 5 16 0 10 1 14-5 26-7 16-6 8-5 20-12 54 0 6 3 6 4 3 18 5 44 29 4-1 8-23 6-6 6-4 10-3 10 1 12 6 5 7 5 11 2 9-3 10-4 8-11 10-12 4-12-1-2 1-1 4 17 62 14 14 24 6 4 3 2 5 1 6-5 12-8 8zM2211 301l-6 1-9-5-3-5-4-15 0-8 5-14 5-4 8-3 6 3 5 4 5 16 0 12-2 8-4 6zM1931 310l-6 0-8-4-4-8-2-11 0-14 4-12 4-5 10-5 6 2 6 6 4 20 0 10-4 12-4 5zM2163 405l-4 1-3-1-12-12-4-6-3-12 0-12 5-12 7-6 10-3 10 2 7 5 4 6 3 12 0 10-4 12zM2051 577l-4 0-3-2-3-8 0-10 3-10-8-24-2-12 5-38-3-16-5-6-5-4-21-5-11-5-22-20-7-14 0-30 3-12 7-9 12-5 48-1 10 4 40 20 22 26 9 13 5 22 3 36 3 9 4 0 14-10 14-3 10 3 6 4 5 5 3 8 0 8-4 9-8 8-10 4-6 0-6-1-18-11-4 0-3 9-1 18-7 24-5 12-6 7-12 5-12 1-18-5zM1871 403l12-6 2-3-1-3-7-3-16 0-13 5-3 2-3 4 3 4 4 1 16 1zM1821 569l8-6 3-6 1-22-1-4-9-12-6-4-4 0-8 4-3 4-2 6-1 16 3 14 5 8 6 3zM1927 524l-4 1-3-2 0-2 5-2 3 2zM2189 557l-8 0-8-5-2-9 4-6 12-4 6 2 4 4 2 6-2 6-3 4zM1949 558l-4 0-2-3 0-6 4-4 3 2 2 4 0 4zM1969 581l-12 1-4-2-1-3 5-6 14-6 16-3 6 1 2 2 0 4-4 4-8 4zM1955 615l-4-1-3-5 2-12 3-3 5 3 3 10-2 5zM1986 809l5-4 4-6 2-8 2-14-4-22-2-8-6-8-6-2-6 4-4 6-3 10-2 18 4 22 3 6 6 6zM2137 813l-8 1-6-2-6-6-4-9 0-20 4-9 6-5 8 1 6 2 7 7 3 8 1 12-1 6-4 10zM2197 807l-4 2-6-1-4-4-2-5 0-16 4-8 4-3 4 1 4 4 5 8 0 14zM1581 837l-6 1-4-1-7-6-5-8-1-6 0-10 9-9 10-3 10 1 8 2 14 7 4-3 7-11 7-6 8-3 14-3 22 3 6 3 5 6 1 8-2 6-4 5-8 5-12 3-12 1-30-4-6 3-7 7-7 6zM1986 963l3-4-2-6-6-1-4 3-1 2 2 4 5 3z"/>
<path fill="#008618" d="M1781 111l-14 1-8-2-6-4-12-13-4-12 0-10 3-12 4-8 9-4 40-7 28 3 16 3 4 3 4 8 1 8-1 22-4 10-8 4-20 3-16 5zM2069 109l-4 0-2-4 1-4 3-2 4 4zM2137 1048l-42-3-34-6-14-7-24-16-4 0-6 2-16 12-4 0-2-3-10-30-9-18-3-14 2-4 2 0 8 4 6 0 4-4 0-6-6-5-6 0-10 2-5-3-6-20-17-36-6-17-4-37-6-14-8-1-18 2-32-15-8-7-27-33-7-5-38 4-8-3-8-8-10-16-4-12 5-54-7-56-3-8-9-8-3-12 2-30 13-39 4-6 16-14 1-3-3-30-6-32-1-56-5-5-18-4-24-2-26 0-4 5-5 18-3 7-8 3-7 6-7 2-10 1-4 2-1 9 0 50 3 29-8 36-2 3-4 1-8-3-10-14-9-16-23-72-14-16-4-12-1-22 9-86 6-32 10-12 10-5 4 1 20 16 14 18 16 7 60 12 46 4 56 0 9-7 4-8 8-48 1-20 2-10 9-16 7-4 5 2 7 12 2 8 3 38 3 20 1 16 3 18 4 16 2 4 5 4 27 7 9 7 6 14 6 8 9 40-8 40-5 14-19 26-4 3-14 5-18 3-10 6-7 11-1 8 1 6 4 8 8 8 20 16 24 46 27 32 18 13 16-3 28 2 11 8 14 18 7 18-1 10 1 14-7 30-5 12-6 8-4 14-13 60 0 6 2 6 3 3 22 7 28 18 12 10 8 4 2-1 2-13 4-12 10-10 10-4 8 0 10 3 8 7 5 10 3 10-2 10-5 10-7 7-6 3-8 2-14-2-2 0-1 4 0 8 17 58 14 14 25 8 3 2 3 4 0 6-3 8-10 9zM2209 299l-6 0-6-4-6-18 0-8 4-12 4-4 8-2 6 2 4 4 4 10 1 6-1 10-2 8-4 5zM1931 308l-6 0-7-3-4-8-2-10 1-14 3-10 5-6 8-3 6 2 4 4 5 19-1 10-4 12-4 5zM2163 403l-6 0-12-11-4-7-2-10 0-10 4-12 6-6 10-4 10 3 6 4 4 7 2 10 0 10-4 12zM2051 576l-4-1-2-2-3-6 1-10 5-8-10-34 2-42-3-18-10-10-22-5-10-4-22-20-6-13 0-30 2-10 6-9 12-5 48-1 8 3 30 15 12 7 6 6 21 26 5 12 4 36 1 20 4 16-4 14-1 24-9 30-6 10-11 5-16 2-18-7-6 6zM1866 405l17-7 2-3 0-4-6-3-18 0-14 5-5 4 0 4 5 3zM2163 510l-8 1-14-6-7-6-7-10 5-10 6-6 5-4 10-4 8 0 12 5 6 7 3 8 0 6-4 8-7 7zM1823 569l6-4 3-6 2-8 0-16-2-6-8-10-5-3-6-1-10 4-3 4-2 16 2 16 4 10 5 4 6 2zM1925 524l-3-1 0-2 4 0zM2187 555l-6 0-6-4-2-8 4-5 10-3 6 3 3 3 1 4-2 6zM1947 558l-2-1-1-4 0-4 3-3 2 1 2 4-1 4zM1615 578l-8 0-6-4-2-5 4-6 8-3 6 3 3 4 0 4-2 4zM1967 581l-10 0-4-2-1-2 6-6 13-6 14-2 6 0 3 2 0 4-4 4-8 4zM1653 599l-12 1-5-3-6-8 0-4 1-4 6-4 8-1 4 0 6 3 5 6 1 6-2 5zM1957 613l-6 0-2-4 1-10 3-4 4 2 3 8 0 4zM1988 811l4-4 4-6 3-10 2-14-5-22-3-10-6-7-6-2-6 4-5 7-3 10-2 18 4 24 3 6 3 4 4 3 4 0zM2133 812l-6-1-6-4-6-12 0-16 4-7 6-5 6 0 6 3 6 7 2 6 0 12-1 6-5 8zM2193 805l-6-1-3-7 1-14 3-4 3-1 6 5 2 6-1 10-2 4zM1653 815l-18-2-9-4-4-6 0-6 2-4 9-7 18-4 14 2 10 5 3 4 1 4-2 8-10 7zM1583 831l-6 1-6-1-5-4-5-6 0-12 2-4 6-4 8-3 10 2 6 3 6 6 1 6-2 6-7 7z"/>
<path fill="#fff6ba" d="M1783 109l-16 1-6-1-6-3-12-13-5-12 0-10 3-10 4-8 8-4 40-8 28 3 18 5 3 6 2 8 0 22-3 10-8 4-20 3-16 6zM2135 1045l-40-2-30-7-8-3-34-20-8 1-8 4-8 7-4 1-11-29-9-20-2-8 2-3 8 2 6-2 3-5 0-6-3-5-4-3-16 0-2-2-5-16-17-36-7-18-3-36-7-16-3-2-26 3-30-14-9-7-27-33-8-7-36 5-10-3-6-6-10-15-4-13 5-56-7-56-3-8-9-6-3-12 3-30 13-38 13-12 12-4 1-2-6-20-10-46-1-60-4-4-20-5-24-2-28 1-5 6-6 22-7 3-8 8-6 2-12 0-4 3-1 8 0 52 3 28-8 32-4 3-6-2-10-11-8-12-23-74-15-16-4-12 1-46 8-62 6-30 11-11 6-4 4 1 18 14 14 17 18 7 60 13 46 4 56 0 4-2 6-6 4-9 9-48 0-20 2-8 9-16 6-4 4 3 6 9 3 8 2 38 4 20 2 34 6 20 3 4 4 3 24 4 6 3 5 4 5 14 7 10 10 38-9 40-5 14-21 25-18 5-16 2-25 20-3 6 3 16 5 8 16 5 20 13 25 48 27 33 14 13 4 2 18-5 25 1 11 7 14 19 6 16-1 10 2 14-9 32-3 8-6 8-7 22-12 54 1 6 3 8 2 2 24 8 28 18 12 11 14 9 2 0-3-14 1-8 4-12 6-7 8-4 10-2 10 3 8 6 6 12 2 8-2 10-5 10-7 6-10 4-6 0-16-4-1 2 3 14 17 60 15 14 24 7 5 5 0 6-3 7-12 9zM2207 297l-6-1-4-3-4-12-1-6 1-6 4-12 4-3 6-1 6 2 3 4 3 8 1 8 0 8-3 8-4 4zM1931 306l-6 0-6-3-4-10-1-6 0-14 4-10 3-4 8-2 6 2 2 2 5 18 0 8-4 12-3 4zM2161 402l-4-1-12-12-4-10-1-6 1-10 4-10 6-5 8-3 8 2 6 4 4 6 3 12-1 10-4 10zM2051 574l-4-1-3-6 1-9 2-3 4-2 1-2-11-36 1-44-3-16-6-7-6-5-20-4-10-4-23-20-5-12-1-28 2-10 5-8 12-6 46-1 15 5 37 21 26 31 4 10 5 36 1 38-1 34-9 30-6 10-12 6-16 1-18-11-4 9zM1868 405l16-8 2-4-1-3-8-3-16 0-15 6-3 2-2 4 2 4 6 2zM2159 509l-8-1-10-5-6-6-3-8 2-8 4-6 7-5 10-3 10 1 8 4 5 7 2 8-2 8-4 6-7 5zM1820 571l8-4 5-4 3-8 1-16-2-8-10-12-6-4-6-1-12 4-3 3-1 6 1 18 3 14 4 8 6 4zM2189 552l-4 0-6-1-3-4 1-5 8-4 7 3 2 6zM1949 555l-2 1-2-2 0-4 2-2 3 3zM1971 579l-12 1-4-1-1-2 5-6 12-5 12-2 6 0 4 1 0 4-4 4zM1611 572l-2 1-4-2-1-2 1-2 2-1 4 0 1 3zM1649 595l-6 0-3-2-2-4 1-4 8-3 7 3 2 6-3 3zM1955 613l-2 0-3-4 1-10 2-3 3 3 3 8-1 4zM1986 817l7-4 5-8 4-12 1-14-9-34-6-8-7-2-6 3-5 7-3 10-3 20 4 28 2 6 7 7 4 2zM2135 808l-6 1-4-2-4-4-4-8 0-10 2-6 4-5 4-3 8 2 4 4 3 6 0 14-3 7zM2193 800l-2 1-2-1-1-5 0-8 3-3 2 1 2 4 0 6zM1651 811l-14-3-6-3-4-6 2-5 7-5 15-3 12 2 10 6 1 5-4 6-7 4zM1585 825l-8 2-10-5-3-7 1-6 2-3 10-4 8 2 5 3 3 5 0 5-2 4z"/>
<path fill="#ffe282" d="M1783 107l-16 2-6-2-6-4-10-10-4-10-1-12 3-10 4-7 6-3 40-8 28 3 14 4 4 2 3 9 0 22-1 7-3 5-7 3-20 3-12 4zM2139 1041l-6 2-36-3-30-6-8-3-36-21-8 0-16 5-3-4-15-36 0-3 8-4 4-5 1-4-1-6-6-8-14-4-3-4-18-46-6-18-1-18-5-18-9-16-6-2-26 3-29-13-7-6-28-34-8-7-4-1-34 6-8-3-6-5-10-15-5-13 6-58-7-54-2-8-11-8-2-10 3-30 13-36 13-11 14-4 3-1 0-2-6-10-4-12-10-46-1-62-6-4-20-5-24-2-28 0-4 2-3 5-4 18-3 5-6 3-4 5-4 3-18 1-4 3-1 62 4 28-9 27-2 3-4-1-10-9-9-12-23-74-14-14-5-12 2-46 10-60 7-25 4-5 6-5 6-1 12 7 20 17 18 6 56 12 50 5 56 0 4-2 6-5 5-8 10-52 0-20 2-8 9-14 2-2 4 1 6 7 3 10 2 36 4 20 2 34 6 22 3 4 6 3 22 3 8 4 3 4 5 14 6 6 4 12 7 26-2 16-10 36-21 26-8 3-12 3-12 0-4 2-26 20-4 6-2 7-2 2-8-5-10-10-6-3-20 3-2 8 5 34 3 7 4 4 6 2 8-1 13-6 7-15 4-3 10 7 26 7 12 8 14 25 10 21 12 14 14 21 14 15 6 2 18-7 24 1 10 6 10 12 5 8 5 14-1 10 2 10-2 12-9 30-6 8-6 13-4 5-2-2-1-8-5-10-3-16-5-12-4-6-4-2-8 1-8 9-4 14-2 16 3 20-1 12 1 6 5 10 6 5 8 1 12-3 0 27 6 14 6 3 18 5 20 12 12 8 28 25 3 7 20 70 17 17 21 5 6 4 1 4-2 6zM2207 295l-4 0-4-3-5-15 1-8 3-10 3-3 4-1 8 3 3 5 2 8 0 10-2 8-3 4zM1931 304l-6 0-4-2-3-5-2-8 0-14 2-8 3-5 6-3 6 1 3 3 4 16 0 8-3 9-2 5zM2163 398l-4 1-10-8-4-6-3-10 0-10 4-10 5-5 8-3 8 2 6 4 3 6 2 8 0 10-3 8-4 6zM2093 569l-12 2-8-3-11-9-10-14-8-30 0-44-2-14-3-6-6-6-6-4-20-4-10-4-16-14-8-10-3-10 0-28 4-10 7-6 12-3 40-1 6 2 44 24 20 22 7 10 4 10 4 34 0 70-7 26-4 11-4 5zM1870 405l15-8 2-4-2-3-6-3-18 0-16 6-4 6 2 4 6 3zM2159 507l-8-1-10-5-4-5-2-7 2-8 4-6 6-4 8-3 7 1 9 4 5 6 2 6-1 8-4 6-6 5zM2051 571l-2 0-2-6 1-6 3-1 2 1 1 4-1 5zM1967 579l-10 0-2-2 4-5 13-5 13-3 6 1 2 2-2 3-4 3zM1955 612l-2-1-1-2 1-9 2 1 2 6zM2133 806l-4 0-4-2-3-3-2-6 0-6 2-6 3-4 4-1 4 0 4 3 3 8-1 10-2 4zM1655 801l-6 1-7-3 0-2 7-2 10 2 1 2zM1581 816l-4 1-3-2 0-2 5-1 2 1zM2115 921l-7 0-13-5-5-7-4-12 1-10 6-12 8-6 10-3 10 2 7 5 7 12 3 8-2 8-5 10-6 6z"/>
<path fill="#ffbc40" d="M1783 105l-16 2-4-1-6-4-11-11-4-10 0-10 2-8 5-8 6-3 38-7 28 3 16 5 3 8 0 18 0 8-3 6-6 3-20 3-12 4zM1631 527l-9-4-9-12-6-14-18-60-2-4-13-12-4-10 3-26 0-22 6-18 8-39 4-11 5-10 3-3 4 0 30 14 78 18 48 4 58-1 10-7 5-7 10-54 1-24 2-5 8-9 4 0 4 4 3 6 2 38 4 22 2 32 7 24 3 4 7 3 20 3 9 4 4 6 3 11 7 7 3 10 7 30-8 36-5 13-19 23-17 5-18 2-28 21-8 10-6-1-10-8-6-3-12 0-8-1-9-11-3-6-13-54 0-58-2-6-7-4-20-5-24-2-30 0-4 3-3 4-7 20-10 12-6 3-16 0-4 3-1 64 3 28-5 18zM2211 292l-6 1-4-2-5-12 0-8 3-9 2-3 4-2 6 2 5 10 0 14-2 6zM1931 301l-4 2-4-2-3-4-2-8 1-20 4-6 4-2 4 1 3 3 4 14-1 12-3 8zM2161 396l-6-2-6-6-4-7-1-8 1-10 3-8 5-4 6-2 6 1 6 4 4 7 1 8 0 8-3 8-6 7zM2093 567l-12 2-8-3-7-7-12-16-8-28 0-44-2-14-3-6-12-11-22-5-8-3-15-13-9-10-3-10 0-26 3-10 6-6 12-3 40-1 6 2 43 24 18 20 9 12 5 20 2 22 0 70-10 34-5 7zM1871 405l15-8 1-4-2-4-8-3-18 1-14 6-3 2-2 4 3 5 6 2 16 1zM2159 505l-6 0-10-5-4-5-2-6 1-6 4-6 5-4 8-3 6 1 8 3 5 5 2 6 0 6-4 6-5 5zM2137 1040l-6 1-36-3-28-7-6-2-36-21-8-3-14-2-4-5-9-19 1-4 5-14-2-10-5-8-13-10-9-20-10-42 2-26-1-4-3-4-18-16-6-4-6 0-26 3-28-13-7-6-27-32-10-10-4 0-34 6-6-2-7-6-9-14-5-12 6-58-6-54-3-10-10-6-3-10 2-26 2-8 13-31 10-8 4-2 8-1 4 0 2 2 8 42 3 6 7 5 10 1 16-5 8-9 4-3 20 7 14 2 10 4 14 24 10 22 12 14 14 22 16 21 6 0 10-7 6-2 24 0 10 5 11 13 4 6 5 14-1 10 2 14-10 36-11 15-4 0-6-7-5-22-4-8-5-6-6-3-6 2-6 6-4 7-5 26 2 24-4 12 1 14 3 14 3 4 14 2 11 16 9 10 8 4 18 4 18 11 14 10 25 23 5 8 20 70 16 16 23 6 4 4 0 4-2 4zM1969 577l-8 1-4-1 3-4 9-4 14-3 8 1-1 2-6 4zM2133 803l-7 0-4-8 1-8 2-4 4-2 6 2 3 8-1 8zM2115 919l-8 0-10-5-6-9-3-10 1-8 5-10 7-6 10-3 8 1 8 5 6 11 3 8-2 8-5 9-6 6z"/>
<path fill="#ffa000" d="M1783 103l-16 2-4-1-14-13-4-8-1-10 2-8 4-8 5-2 38-8 28 3 15 5 2 6 0 20-1 6-2 5-24 5-12 4zM1629 523l-6-2-10-14-22-72-3-4-11-10-4-10 3-20 0-30 8-12 9-40 6-11 4-4 4 0 106 22 46 4 52 0 7-1 9-6 6-8 11-56 1-24 2-4 6-5 4-1 2 1 3 7 2 36 4 22 2 32 7 26 4 4 8 4 20 2 8 4 4 6 2 10 8 10 6 22 3 12-3 16-8 30-8 12-14 15-14 4-16 0-4 2-38 30-4-1-12-8-12-1-6-2-8-7-6-8-12-52-1-62-2-6-9-5-20-4-24-2-32 0-5 3-6 8-4 14-9 15-6 2-16 0-4 3-1 8 0 58 3 28-5 16zM2209 290l-4 0-3-1-3-10 1-12 2-6 3-1 5 1 3 8 0 14-1 4zM1929 300l-4 0-2-2-3-9 1-18 2-5 4-2 4 0 2 3 3 12-2 12-2 6zM2161 393l-4-1-6-5-3-6-2-8 0-8 3-8 4-4 6-2 6 1 4 3 3 6 2 8 0 8-3 7-6 7zM2093 565l-12 2-6-2-8-8-11-14-8-28 0-44-3-16-2-5-12-11-30-8-16-14-8-9-3-9 0-26 3-9 5-5 11-3 44 0 44 25 18 20 8 11 5 19 2 22 0 70-9 32-4 6zM1866 407l9-3 10-6 3-5-2-4-7-3-18 0-14 5-7 6 0 4 5 5 6 1zM2157 503l-6-1-8-5-3-4-1-6 2-6 4-4 6-3 6-2 6 2 6 3 4 4 2 6-2 5-4 5-6 5zM1951 818l-4 0-20-4-24 4-6 0-28-15-31-36-9-9-6-1-36 5-8-5-10-14-3-8-2-6 6-56-6-54-3-12-10-5-2-3-1-10 3-24 1-6 13-29 12-9 8-1 3 3 5 12 6 30 3 4 5 3 10 2 20-3 12-9 6 1 10 5 20 2 6 2 4 4 10 18 10 23 12 15 26 44 6 6 4-1 12-14 6-1 20-1 10 4 14 18 6 14-1 10 2 12-11 39-8 9-2 1-4-1-4-6-1-12-4-10-5-9-4-4-6-2-4 0-5 3-7 9-3 9-4 24 2 20zM2131 802l-4-1-3-6 1-7 4-4 4 1 3 6-1 7zM2137 1037l-6 1-36-3-30-7-60-35-6-12 0-20-3-14-16-20-5-12-8-44 1-6 3-6 4 0 8 1 20 11 23 6 31 20 24 22 6 10 20 69 17 17 21 6 4 2 1 2-1 4zM2115 917l-6 0-10-4-5-6-4-10 1-8 4-10 6-6 8-3 8 1 8 5 6 9 2 8-1 6-5 10-6 6z"/>
<path fill="#ff7000" d="M1783 101l-18 1-5-3-10-10-3-6-1-10 2-8 3-6 4-2 38-7 28 3 13 4 2 6 0 18-1 6-2 3-22 5-14 4zM1835 519l-4 1-12-8-14-3-10-7-5-7-13-54-1-60-1-6-12-7-20-4-26-2-28 0-6 1-11 10-6 20-5 9-4 1-18 1-4 2-2 7 0 62 4 28-6 15-2 1-4 0-8-10-3-8-22-68-13-13-4-9 5-18-1-30 2-4 7-6 6-24 6-18 3-5 4-2 34-1 70 15 46 4 52 0 10-1 10-6 6-8 11-58 1-22 4-6 6-2 2 4 0 14 6 42 3 34 7 27 4 5 8 3 22 3 7 4 3 6 2 10 7 6 2 4 7 28 0 6-2 14-8 30-18 23-6 3-10 2-16 1-4 2zM2207 288l-4-3-2-10 2-10 2-2 2 0 3 4 1 8 0 8-2 4zM1929 296l-2 1-2-1-2-7 0-16 4-6 2 0 2 2 2 10 0 8zM2163 389l-4 2-5-4-4-6-2-6 1-10 2-6 3-4 5-2 4 1 5 3 4 10-2 14zM2093 563l-12 1-6-2-6-6-11-15-7-26-1-44-3-16-2-6-14-13-29-7-15-12-8-10-3-8 0-26 3-8 4-4 10-3 40 0 4 1 42 23 18 20 8 11 4 18 3 22 0 70-9 30-4 7zM1868 407l17-8 3-6-2-4-7-4-18 0-14 5-7 7 0 6 7 4zM2157 501l-12-5-3-5-1-4 2-5 4-4 10-4 10 4 4 4 1 5-1 4-4 5-4 3zM1911 815l-12 1-28-14-32-37-10-10-4-1-28 5-10 1-7-5-11-18-3-8 6-50 0-12-8-62-1-2-11-4-1-10 2-24 2-6 12-26 12-9 4-1 4 4 6 14 5 26 3 4 12 4 22-1 6-1 10-7 10 7 26 1 6 3 12 20 8 20 12 16 16 28 13 28 3 4 6 0 4-2 8-20 3-2 5-1 24 2 4 3 13 18 4 12-1 8 2 13-9 33-3 6-6 5-4-1-2-4-3-16-7-15-4-4-6-2-10 1-4 3-5 7-4 10-4 26 2 20-9 14-6 4-20 1zM2135 1035l-18 0-22-2-30-7-34-20-20-19-5-8-2-14-6-20-17-30-2-30 2-14 6-2 38 10 30 19 25 23 5 8 20 70 18 18 21 6 3 2-3 4zM2113 915l-8-1-6-4-4-7-3-8 2-8 3-7 6-5 8-3 6 1 6 4 6 8 2 8-1 6-5 9-6 5z"/>
<path fill="#ff3400" d="M1783 99l-18 1-13-11-3-6-1-10 1-6 4-7 40-8 28 3 11 4 1 4 0 16 0 6-2 3-20 4-14 5zM1833 518l-4-1-12-6-8-2-14-9-4-7-12-52-1-62-1-6-14-7-20-4-24-2-30 0-6 1-14 10-10 27-4 2-18 0-5 3-2 8 0 64 3 28-4 10-2 1-2-1-8-12-13-42-9-26-3-4-12-10-3-8 1-6 5-12-1-28 1-2 8-3 2-3 6-24 8-20 2-2 22-4 10-1 30 5 40 9 44 4 52 0 14-2 10-6 6-9 6-32 6-28 2-20 2-2 2 0 8 54 3 34 7 28 3 4 9 5 8 2 16 1 6 4 4 14 7 8 3 6 6 30-2 14-8 29-18 23-4 2-10 2-14 1-6 1zM2207 279l-2-1 0-3 0-3 2 0zM1927 287l0-10 2 1 0 3 0 5zM2161 388l-4-1-3-2-2-4-2-6 2-14 3-4 4-2 4 1 4 3 3 8-2 14zM2091 561l-10 1-4-1-7-6-11-16-6-24-1-44-3-16-3-8-13-12-30-8-15-12-7-8-3-8 0-26 3-8 4-3 8-2 40 0 4 1 42 23 24 29 4 18 3 22 0 70-9 30-4 6zM1870 407l15-8 4-6-2-4-8-4-18 0-14 5-5 3-3 4 1 6 7 5 16 0zM2157 499l-10-4-3-4-1-4 2-4 4-4 8-3 6 2 4 2 3 7-1 4-3 4zM1911 813l-12 1-26-13-43-48-5-1-28 5-10 1-6-5-10-16-3-8 6-58-7-58 0-10-2-3-10-3-1-8 3-26 12-26 10-8 4 0 6 10 2 5 4 27 4 3 14 2 24 1 6-1 8-4 6 5 32 2 4 2 10 16 8 22 10 14 16 28 12 36 2 2 14 1 6-1 3-4 4-20 1-2 4-1 23 1 11 12 4 7 4 11-1 8 2 12-9 32-2 4-4 3-2 0-1-9-6-16-3-6-6-6-10-3-10 2-5 5-7 12-5 30 1 20-7 12-7 5zM2113 913l-6-1-6-3-5-8-2-6 1-6 3-8 7-5 6-2 6 1 5 4 7 14-1 6-4 8-5 4zM2135 1031l-16 1-23-1-27-6-28-16-11-8-18-24-12-34-13-28-1-22 1-16 2-1 6-1 28 6 30 19 24 22 6 9 19 68 19 21 18 6-1 3z"/>
<path fill="#e21600" d="M1781 97l-16 1-12-11-2-6-1-10 2-6 3-3 38-8 28 3 9 4 1 8-1 12-2 4-30 10zM1833 515l-4 1-10-6-10-3-12-8-4-6-13-54 0-64-3-5-12-6-22-4-22-2-34 0-9 3-13 8-14 20-16 0-4 1-4 4-2 7-1 20-3 18-4 11-4-1-16-20-14-10-4-6 0-4 2-6 6-10 2-11 4-9 9-6 3-4 3-22 7-21 16-9 10-2 70 13 46 4 48 1 12-1 14-7 7-8 2-6 5-30 4-16 4-6 2 1 4 11 2 14 3 34 8 30 3 5 10 4 8 2 14 1 6 3 4 15 8 8 2 5 5 25 0 14-9 32-7 10-11 12-12 4-16 1-4 1zM2159 385l-3-2-3-4-1-12 3-7 6-2 3 1 3 4 1 12-3 7zM2091 559l-10 1-4-1-6-6-10-14-6-24-1-44-2-16-3-8-16-15-30-7-14-12-7-8-2-6 0-26 2-6 3-3 8-2 40 0 4 1 40 22 18 20 7 10 3 16 3 22 0 70-8 28-4 6zM1865 409l10-3 10-6 4-5-1-6-9-4-18-1-16 6-7 7 1 6 6 5zM2161 496l-6 1-8-5-1-5 3-6 4-2 6 0 8 4 1 6zM1909 811l-10 1-26-13-42-48-6-1-36 6-6-3-10-16-2-8 5-58-7-60 2-12-2-3-6-3-2-4 8-22 8-10 6 7 6 11 4 3 56 1 6 2 22 3 18 7 4 6 4 22 14 20 15 26 12 36 5 5 17 7 1 2-9 24-5 32 1 18-6 12-5 4zM2009 720l-22-13 4-20 4-2 4 1 8 9 4 14-1 8zM2113 911l-6-1-5-3-4-6-1-6 3-12 5-5 6-1 4 0 6 4 6 12-1 6-3 6-5 4zM2103 1027l-10 1-26-7-27-18-11-12-12-18-23-60-1-20 1-6 3-3 10-1 14 2 31 18 24 24 9 21 14 51 14 22 0 2-2 2z"/>
<path fill="#cc0000" d="M1779 95l-14 0-9-8-3-8 0-10 2-4 4-2 34-7 28 3 6 4-1 14-3 6-24 9zM1831 514l-4 0-16-8-12-9-4-6-12-51 0-63-2-7-18-8-20-4-24-3-34 1-28 11-20 4-8-1-4-3-2-4-3-18 3-14 10-14 4-3 6-1 66 12 44 4 50 1 14-2 16-6 5-7 4-10 7-38 2-4 2-2 2 2 4 16 3 34 8 32 3 4 12 6 22 2 4 2 2 4 1 10 9 10 2 4 3 16 1 22-9 32-5 8-12 11-10 5-20 2zM2161 382l-4-1-2-6 0-10 4-5 4 1 2 6 0 10zM2089 557l-8 1-4-2-12-14-2-5-6-22 0-44-3-16-3-8-16-16-30-8-20-18-2-6 0-26 1-4 3-3 46-2 4 1 39 22 23 28 4 16 2 22 0 70-7 28-3 4zM1869 409l10-5 8-5 3-6-3-5-8-4-20 0-14 6-7 7-1 4 2 4 8 5 16 0zM1611 426l-8 0-12-4-7-5-3-6 1-6 5-6 14-11 8-3 2 1 2 4 3 17-1 12zM2161 493l-4 2-6-3-3-3 1-4 6-4 8 2 2 4zM1907 809l-9 0-24-12-41-48-8-1-36 6-4-3-10-14-2-8 6-58-8-60 2-6 10-17 30-7 48 5 8 3 18 13 10 23 27 42 9 20 6 18 12 16 2 28-3 22 1 14-5 14-3 3zM2115 908l-4 1-6-3-4-4-2-5 0-6 2-6 4-4 4-2 6 0 4 3 6 11-4 10zM2097 1024l-8-1-24-7-18-15-13-14-10-18-14-34-9-30 1-10 3-4 6-1 6 1 32 16 24 25 8 15 10 34 4 18 7 16-1 6z"/>
<path fill="#a80000" d="M1785 91l-16 2-6-3-7-9 0-10 1-4 36-8 26 3 4 2 0 9-2 5-3 3-19 9zM1831 511l-4 1-13-7-14-10-3-6-11-50-1-64-2-7-18-9-36-6-42 0-24 7-6 0-18-7-5-6 0-12 5-15 4-2 10 1 34 6 62 6 32 2 30-1 20-6 7-5 7-14 5-32 3-4 3 8 3 34 8 34 4 5 14 6 20 2 4 1 3 14 9 10 1 4 4 36-8 30-9 12-14 11-18 1-6 2zM2161 377l-2 0-1-2 1-10 2 0 1 2zM2093 553l-10 2-4-1-11-13-3-6-5-22-1-42-5-24-19-19-28-7-18-15-2-3-2-6 0-22 2-6 8-2 38 0 4 1 38 22 22 26 3 15 2 22 1 68-7 26zM1867 411l14-7 7-5 2-6-3-6-8-4-20 1-16 6-6 7-1 8 5 5 10 3 12-1zM1601 420l-6 1-4-1-6-7 0-8 6-5 8-1 7 4 1 4 0 6-2 4zM2159 491l-6-1-2-3 2-2 4-1 4 1 1 4zM1903 807l-8-2-20-11-42-48-8-1-36 6-4-4-8-12-1-6 5-58-7-60 3-6 18-13 18-6 50 6 15 17 12 22 34 52 18 42 7 24-2 36-3 12-3 3zM2115 905l-4 1-4-2-5-7 1-10 6-5 7 1 6 8-1 8zM2093 1019l-20-4-8-3-21-23-6-8-22-46-7-32 2-5 6 0 30 13 23 26 7 12 11 34 7 32 0 3z"/>
<path fill="#800000" d="M1779 89l-12 0-5-4-3-6 0-7 2-3 32-7 23 3 3 2-1 8-4 4-17 8zM1831 507l-6 1-8-5-14-10-4-8-10-46 0-66-1-4-3-4-20-9-32-6-48-1-24 6-16-7-3-3-2-8 3-12 2-2 6 0 34 5 60 6 24 1 10 2 30-1 18-4 12-6 5-7 7-21 2 1 11 48 3 6 18 9 18 1 4 2 2 12 10 12 4 36-8 28-7 10-15 12-22 2zM2087 551l-6 0-2-1-9-11-3-8-4-18 0-44-6-24-20-20-28-6-17-14-3-4 0-4 0-22 2-4 44 0 38 21 21 25 3 15 2 23 0 66-6 26-2 3zM1867 419l5-8 13-9 5-5 1-4-1-4-7-5-20-2-12 3-11 6-11 12 0 10 4 6zM1597 416l-6-1-3-4 1-5 4-3 6 2 2 3-1 5zM1907 803l-8 0-22-11-42-49-10-2-34 6-4-3-6-9-2-6 6-58-8-58 1-4 2-2 21-12 12-5 12 1 34 4 4 4 22 36 32 46 6 12 18 47 4 11 0 6-1 8-1 16-2 14-3 2-7 2zM2113 902l-5-1-3-6 1-6 5-4 4 2 4 6-2 6zM2087 1014l-13-3-7-3-24-30-21-41-5-26 1-6 5 0 23 10 25 31 10 27 6 20 2 16 0 4z"/>
<path fill="#4e0000" d="M1779 83l-10 0-2-2-2-4 2-2 4-2 20-4 12 0 5 2 1 2-12 7zM1827 501l-6-2-12-9-4-7-10-46-1-66-1-6-3-4-21-10-32-8-52 1-20 4-4 0-13-7-1-4 2-6 4-1 90 11 66 1 30-8 5-3 5-6 2 0 2 4 6 22 4 7 18 9 18 2 2 2 3 10 9 10 2 14 2 20-9 28-3 5-14 11-18 1-6 2-36 28zM2085 544l-4-2-6-7-6-22-1-46-5-24-22-23-4-2-26-5-14-12-2-4-1-8 1-8 2-4 30-1 8 2 34 19 20 24 5 36 0 62-5 19-2 5zM1871 425l4-4 2-10 11-10 4-6-1-6-6-5-6-2-20 0-12 4-12 7-8 2-4 4-1 6 0 10 3 6 4 4 6 1 24 0zM1907 797l-8-1-18-9-38-45-6-5-14-1-28 5-4-2-4-6-1-6 4-52 0-10-6-42 0-8 3-4 20-12 8-2 8 0 32 4 6 7 50 77 14 31 14 39-2 26-3 10-5 2zM2081 1003l-4 2-6-3-22-27-20-40-4-16 2-4 4 1 12 5 22 28 14 37 2 11z"/>
</g></g>
<line x1="408.4" y1="1.5" x2="408.4" y2="266.3" class="grid"/>
<line x1="464.8" y1="1.5" x2="464.8" y2="266.3" class="grid"/>
<line x1="521.2" y1="1.5" x2="521.2" y2="266.3" class="grid"/>
<line x1="380.0" y1="56.9" x2="564.0" y2="56.9" class="grid"/>
<line x1="380.0" y1="144.5" x2="564.0" y2="144.5" class="grid"/>
<line x1="380.0" y1="232.1" x2="564.0" y2="232.1" class="grid"/>
<g class="ml"><polyline points="407.5,1.5 407.6,46.1"/><polyline points="407.6,12.3 564.0,12.3"/><polyline points="548.6,12.3 548.6,262.3"/><polyline points="548.6,1.5 548.6,12.3"/><polyline points="490.2,262.2 564.0,262.2"/><polyline points="386.5,210.2 490.2,262.2"/><polyline points="407.6,46.1 409.3,49.0 410.5,51.5 412.2,52.8 413.8,53.6 415.5,56.5 416.7,59.8 418.0,62.3 418.4,63.5"/><polyline points="407.6,46.1 406.4,48.2 405.1,51.5 403.9,55.2 402.2,56.1 401.0,55.2 399.7,53.2 398.9,51.1 397.7,49.4 395.6,49.2 394.3,49.7 392.3,49.7 389.8,50.0 387.3,50.7 384.0,51.5 385.5,53.5 386.9,55.7 387.3,50.7"/><polyline points="397.7,49.4 396.8,44.9 397.7,40.7 398.1,36.6 398.5,32.4 398.5,31.2"/><polyline points="398.7,49.0 398.2,44.5 398.6,40.0 397.6,35.0 397.2,34.0"/><polyline points="386.9,55.7 388.1,58.1 388.5,61.5 389.3,65.7 389.3,75.6 389.9,83.6 390.5,91.5 389.9,98.5 390.9,107.5 391.1,107.0 393.6,112.0 396.9,120.3 400.2,125.2 404.4,130.2 403.5,131.9 400.2,136.9 396.9,141.8 394.4,146.8 393.6,151.8 392.8,158.4 390.3,166.7 387.8,171.7 388.6,176.7 389.4,183.3 390.3,187.0 393.6,188.3 394.9,191.0 394.9,195.0 393.6,197.0 390.3,197.6 388.3,198.9 386.9,201.6 386.3,205.6 386.5,210.2"/><polyline points="380.0,89.6 389.9,98.5"/><polyline points="380.0,202.3 386.9,201.9"/><polyline points="380.0,237.4 382.3,238.1 384.3,240.0 385.6,242.7 386.9,245.4 390.3,246.7 394.2,249.3 398.2,252.0 402.2,254.0 405.5,255.3 408.2,254.0 408.8,250.7 409.5,248.7 410.8,250.7 413.5,252.0 416.8,253.3 418.8,256.0 419.4,261.3 420.8,263.3 424.7,264.6 430.0,265.8"/><polyline points="385.0,242.7 383.6,250.7 383.0,258.6 383.0,266.3"/><polyline points="477.4,10.5 479.9,9.9 482.4,9.3 484.9,6.8 486.7,5.6 488.6,6.8 490.4,8.0 492.3,7.4 494.8,6.8 496.0,4.3 497.2,3.1 499.7,3.4 502.2,3.7 501.6,5.0 499.1,5.0 496.6,5.0 495.4,5.6"/><polyline points="479.3,14.2 481.1,15.2 483.0,14.2 484.9,12.4 488.0,12.1 488.6,9.9 487.3,8.0"/></g>
<rect x="380.0" y="1.5" width="184.0" height="264.8" class="frame"/>
<line x1="408.40" y1="266.3" x2="408.40" y2="271.5" class="tick"/>
<line x1="464.80" y1="266.3" x2="464.80" y2="271.5" class="tick"/>
<line x1="521.20" y1="266.3" x2="521.20" y2="271.5" class="tick"/>
<g transform="translate(396.77 278.27) scale(0.8700 0.8750)" fill="none" stroke="#1e1e1e" stroke-width="1.15" stroke-linecap="round" stroke-linejoin="round" class="st"><path transform="translate(0.00 0)" d="M0.5 1.7L2.4 0V10"/><path transform="translate(7.00 0)" d="M0.5 1.7L2.4 0V10"/><path transform="translate(14.00 0)" d="M3.8 10V0L0 7.3H5"/><path transform="translate(21.00 0)" d="M0 0L1.9 10L4.0 1.6L6.1 10L8.0 0"/></g>
<g transform="translate(453.17 278.27) scale(0.8700 0.8750)" fill="none" stroke="#1e1e1e" stroke-width="1.15" stroke-linecap="round" stroke-linejoin="round" class="st"><path transform="translate(0.00 0)" d="M0.5 1.7L2.4 0V10"/><path transform="translate(7.00 0)" d="M0.5 1.7L2.4 0V10"/><path transform="translate(14.00 0)" d="M0.2 2.5Q0.5 0 2.4 0Q4.6 0 4.6 2.6Q4.6 4.6 0.1 10H4.8"/><path transform="translate(21.00 0)" d="M0 0L1.9 10L4.0 1.6L6.1 10L8.0 0"/></g>
<g transform="translate(509.57 278.27) scale(0.8700 0.8750)" fill="none" stroke="#1e1e1e" stroke-width="1.15" stroke-linecap="round" stroke-linejoin="round" class="st"><path transform="translate(0.00 0)" d="M0.5 1.7L2.4 0V10"/><path transform="translate(7.00 0)" d="M0.5 1.7L2.4 0V10"/><path transform="translate(14.00 0)" d="M2.4 0Q0.1 0 0.1 5Q0.1 10 2.4 10Q4.7 10 4.7 5Q4.7 0 2.4 0Z"/><path transform="translate(21.00 0)" d="M0 0L1.9 10L4.0 1.6L6.1 10L8.0 0"/></g>
<g fill="none" stroke="#5a5a5a" stroke-width="0.9"><ellipse cx="360.45" cy="146.10" rx="3.55" ry="5.90"/><line x1="356.50" y1="135.90" x2="356.50" y2="152.00"/></g>
<rect x="610.5" y="1.20" width="17.9" height="265.10" fill="#4e0000"/>
<rect x="610.5" y="9.75" width="17.9" height="256.55" fill="#800000"/>
<rect x="610.5" y="18.30" width="17.9" height="248.00" fill="#a80000"/>
<rect x="610.5" y="26.85" width="17.9" height="239.45" fill="#cc0000"/>
<rect x="610.5" y="35.41" width="17.9" height="230.89" fill="#e21600"/>
<rect x="610.5" y="43.96" width="17.9" height="222.34" fill="#ff3400"/>
<rect x="610.5" y="52.51" width="17.9" height="213.79" fill="#ff7000"/>
<rect x="610.5" y="61.06" width="17.9" height="205.24" fill="#ffa000"/>
<rect x="610.5" y="69.61" width="17.9" height="196.69" fill="#ffbc40"/>
<rect x="610.5" y="78.16" width="17.9" height="188.14" fill="#ffe282"/>
<rect x="610.5" y="86.72" width="17.9" height="179.58" fill="#fff6ba"/>
<rect x="610.5" y="95.27" width="17.9" height="171.03" fill="#008618"/>
<rect x="610.5" y="103.82" width="17.9" height="162.48" fill="#0c921e"/>
<rect x="610.5" y="112.37" width="17.9" height="153.93" fill="#1ea22a"/>
<rect x="610.5" y="120.92" width="17.9" height="145.38" fill="#32c03c"/>
<rect x="610.5" y="129.47" width="17.9" height="136.83" fill="#50e450"/>
<rect x="610.5" y="138.03" width="17.9" height="128.27" fill="#78eb6e"/>
<rect x="610.5" y="146.58" width="17.9" height="119.72" fill="#96f08c"/>
<rect x="610.5" y="155.13" width="17.9" height="111.17" fill="#b4f5aa"/>
<rect x="610.5" y="163.68" width="17.9" height="102.62" fill="#cdfac8"/>
<rect x="610.5" y="172.23" width="17.9" height="94.07" fill="#e8ffe4"/>
<rect x="610.5" y="180.78" width="17.9" height="85.52" fill="#ac4242"/>
<rect x="610.5" y="189.34" width="17.9" height="76.96" fill="#c45858"/>
<rect x="610.5" y="197.89" width="17.9" height="68.41" fill="#de6c6c"/>
<rect x="610.5" y="206.44" width="17.9" height="59.86" fill="#e88080"/>
<rect x="610.5" y="214.99" width="17.9" height="51.31" fill="#e49ea0"/>
<rect x="610.5" y="223.54" width="17.9" height="42.76" fill="#f6b2b2"/>
<rect x="610.5" y="232.09" width="17.9" height="34.21" fill="#ffcaca"/>
<rect x="610.5" y="240.65" width="17.9" height="25.65" fill="#ffe4e6"/>
<rect x="610.5" y="249.20" width="17.9" height="17.10" fill="#ffffff"/>
<rect x="610.5" y="257.75" width="17.9" height="8.55" fill="#cdf2fa"/>
<rect x="610.5" y="1.2" width="17.9" height="265.1" class="cbf"/>
<line x1="610.5" y1="223.54" x2="612.1" y2="223.54" class="cbt"/>
<line x1="626.8" y1="223.54" x2="628.4" y2="223.54" class="cbt"/>
<g transform="translate(631.40 219.92) scale(0.7500 0.8050)" fill="none" stroke="#1e1e1e" stroke-width="1.15" stroke-linecap="round" stroke-linejoin="round" class="st"><path transform="translate(0.00 0)" d="M2.4 0Q0.1 0 0.1 5Q0.1 10 2.4 10Q4.7 10 4.7 5Q4.7 0 2.4 0Z"/><path transform="translate(7.20 0)" d="M0.7 9.2h0.6v0.6h-0.6z"/><path transform="translate(10.90 0)" d="M4.3 0.1H0.9L0.5 4.4Q1.3 3.6 2.5 3.6Q4.8 3.6 4.8 6.8Q4.8 10 2.4 10Q0.7 10 0 8.7"/></g>
<line x1="610.5" y1="180.78" x2="612.1" y2="180.78" class="cbt"/>
<line x1="626.8" y1="180.78" x2="628.4" y2="180.78" class="cbt"/>
<g transform="translate(631.10 177.16) scale(0.7500 0.8050)" fill="none" stroke="#1e1e1e" stroke-width="1.15" stroke-linecap="round" stroke-linejoin="round" class="st"><path transform="translate(0.00 0)" d="M0.5 1.7L2.4 0V10"/></g>
<line x1="610.5" y1="138.03" x2="612.1" y2="138.03" class="cbt"/>
<line x1="626.8" y1="138.03" x2="628.4" y2="138.03" class="cbt"/>
<g transform="translate(631.10 134.40) scale(0.7500 0.8050)" fill="none" stroke="#1e1e1e" stroke-width="1.15" stroke-linecap="round" stroke-linejoin="round" class="st"><path transform="translate(0.00 0)" d="M0.5 1.7L2.4 0V10"/><path transform="translate(7.20 0)" d="M0.7 9.2h0.6v0.6h-0.6z"/><path transform="translate(10.90 0)" d="M4.3 0.1H0.9L0.5 4.4Q1.3 3.6 2.5 3.6Q4.8 3.6 4.8 6.8Q4.8 10 2.4 10Q0.7 10 0 8.7"/></g>
<line x1="610.5" y1="95.27" x2="612.1" y2="95.27" class="cbt"/>
<line x1="626.8" y1="95.27" x2="628.4" y2="95.27" class="cbt"/>
<g transform="translate(631.40 91.64) scale(0.7500 0.8050)" fill="none" stroke="#1e1e1e" stroke-width="1.15" stroke-linecap="round" stroke-linejoin="round" class="st"><path transform="translate(0.00 0)" d="M0.2 2.5Q0.5 0 2.4 0Q4.6 0 4.6 2.6Q4.6 4.6 0.1 10H4.8"/></g>
<line x1="610.5" y1="52.51" x2="612.1" y2="52.51" class="cbt"/>
<line x1="626.8" y1="52.51" x2="628.4" y2="52.51" class="cbt"/>
<g transform="translate(631.40 48.88) scale(0.7500 0.8050)" fill="none" stroke="#1e1e1e" stroke-width="1.15" stroke-linecap="round" stroke-linejoin="round" class="st"><path transform="translate(0.00 0)" d="M0.2 2.5Q0.5 0 2.4 0Q4.6 0 4.6 2.6Q4.6 4.6 0.1 10H4.8"/><path transform="translate(7.20 0)" d="M0.7 9.2h0.6v0.6h-0.6z"/><path transform="translate(10.90 0)" d="M4.3 0.1H0.9L0.5 4.4Q1.3 3.6 2.5 3.6Q4.8 3.6 4.8 6.8Q4.8 10 2.4 10Q0.7 10 0 8.7"/></g>
<line x1="610.5" y1="9.75" x2="612.1" y2="9.75" class="cbt"/>
<line x1="626.8" y1="9.75" x2="628.4" y2="9.75" class="cbt"/>
<g transform="translate(631.48 6.13) scale(0.7500 0.8050)" fill="none" stroke="#1e1e1e" stroke-width="1.15" stroke-linecap="round" stroke-linejoin="round" class="st"><path transform="translate(0.00 0)" d="M0.3 0.15H4.5L2.0 4.1Q4.8 4.1 4.8 7.0Q4.8 10 2.4 10Q0.7 10 0 8.7"/></g>
<g clip-path="url(#clipc)"><rect x="63.0" y="314.8" width="184.0" height="264.8" fill="#cdf2fa"/>
<g transform="scale(0.25)">
<path fill="#ffffff" d="M987 2318l-734 0 0-1058 734 0z"/>
<path fill="#ffe4e6" d="M929 2318l-291 0 0-72-1-6-4-5-8-4-112-33-66-14-28-1-40 2-8 2-36 15-66 5-16 4 0-690 6-1 2-2 3-6 1-8-2-8-2-5-4-3-4 0 0-228 734 0 0 572-18-7-8 4-16 11-12 5-28 0-16-4-14 0-8 2-2 1-2 4 6 14 1 12-2 12-7 16 0 52 1 8 5 4 12 6 4-1 12-11 10-4 12 0 18 5 8 4 8 8 22 37 4 1 10-2 0 76-14-1-28 19-8 3-12 2-3 4-7 32 0 14 6 60-3 38 6 14 5 20 1 20zM707 1742l6-2 6-8 4-11 1-11-3-4-14-7-10-7-2 0-3 4-3 10 1 18 3 8 4 6 4 3z"/>
<path fill="#ffcaca" d="M919 2318l-271 0 0-76-2-8-5-6-10-5-116-34-66-14-30-2-42 3-10 2-34 15-80 7 0-667 10-1 4-3 3-5 3-18-2-24 4-5 14-8 20-17 8-4 10 1 20 11 6 0 3-6 3-32 3-8 5-5 12-2 88 4 6-1 2-2 1-6-7-14-11-18-19-24-4-8 0-8 4-58-2-12 161 0 0 26 1 28-1 34 2 8 3 4 6 3 16 2 94 8 20-1 16-5 6-4 3-23 7-24 12-25 8-8 20-6 16-2 23 3 21 4 4 3 4 5 7 20 0 10-3 22-6 13-44 49-8 12-1 6 1 6 6 22 4 8 4 5 8 3 48 9 28 0 42-5 22 0 0 140-46 0-8 1-2 3 0 28-10 32 0 30 13 14 5 12 0 16-3 12 1 3 15 11 7 10 2 12-1 16-4 8-5 6-8 7-8 4-8 1-20 0-18-4-20 0-6 2-4 3-3 5-1 6 1 6 4 10 1 8-1 10-5 10-1 6 0 62 2 10 27 13 4-2 10-12 8-4 10-1 18 6 6 3 7 7 21 39 4 2 16 0 0 53-20 1-10 10-18 11-8 2-14 0-3 8-8 36-1 14 7 62-3 38 7 16 5 20 0 18-1 8zM669 1352l-10 0-8-5-7-9-3-10 0-12 5-12 7-6 10-4 10 1 8 4 7 7 3 10 0 16-3 8-9 9zM713 1752l10-6 7-12 4-16 0-14-3-4-18-8-16-14-4 0-7 6-6 12-2 16 2 16 5 12 8 9 10 4z"/>
<path fill="#f6b2b2" d="M499 1379l-6 0-10-2-8-4-7-7-7-16-3-14 0-20 4-14 10-14 7-7 6-3 44-5 14 2 26 0 10 4 11 13 3 6 1 6-3 36-9 20-5 5-6 2-24 3zM669 1347l-8-1-6-3-5-7-3-8 0-10 4-10 4-5 8-3 8 0 6 3 6 7 2 6 1 12-3 8-6 7zM805 1396l-10 1-8-2-10-9-5-8-3-14-1-18 4-14 5-10 6-7 8-4 14 1 12 7 12-12 6-3 16-1 8 2 10 9 4 8 0 16-3 10-9 9-10 4-10 0-12-5-2 1-2 15-5 12-7 8zM913 2318l-215 0-7-32-10-26-10-22-20-58-6-9-8 4-8 2-82 0-32-3-72-12-6-3-6-5-17-26-4-10-1-14-2-1-35 7-33 10-18 22-10 6-22 0-6-2-5-6-10-20-4-14-2-16 0-38 1-6 4-6 18-15 10-4 66-16 48-6 8 2 20 10 12 10 30 7 6 0-4-14-8-20-6-7-84-9-8-3-6-6-2 0-12 4-12-1-12-6-10-12-15 4-2 2-1 42-1 6-3 5-4 2-6 2-36-1 0-406 12 0 4-2 16-32 4-18-7-34 0-18 2-8 6-12 7-7 9-7 9-11 6-3 8 1 22 13 8 0 3-4 2-6 1-28 3-6 3-4 10-3 34-1 62 2 8-2 10-5 6-1 46-3 8 1 4 3 3 5 4 12 3 0 12-3 16 5 14-3 46-6 14-4 30 0 10 2 58 23 44 15 26 12 22 7 6 3 4 5 3 10 10 60 1 8-2 8 2 2 16 3 10 6 9 13 5 18 1 20-3 12-4 14-9 12-7 5-6 2-14-1-10-6-11-18-4-14 0-24 5-16 7-18-5 0-30 10-3 2 10 12 8 16 6 18 4 16 0 24 7 23 2 1 12-3 18 0 12 4 13 9 6 8 4 10-1 14-6 14 14 8 6 5 5 7 4 10 0 10-3 8-4 7-8 8-12 6-26-1-8-3-6-5-5-6-5-8-1-6 0-12 6-12-1-2-16-4-4 0-6 38-11 22 2 20 6 12 2 8-2 10-6 10-2 6 1 74 1 2 37 18 13-16 7-5 8-1 20 6 7 6 9 14 13 28 6 18-1 10-6 20-6 7-14 10-8 3-6 0-20-4-10-3-26 15 11 14 6 14 2 10-1 18-7 18-9 10-8 7-18 7-2 2 5 24 3 4 16 12 26 15 12 13 4 8 5 20-1 16-1 6zM943 1578l-10 0-10-6-9-12-4-14 0-30 4-14 4-8 5-5 8-4 6-2 12 2 10 7 6 8 5 18 0 24-4 16-4 6-7 8zM484 1542l11-2 20-1 8-3-50-1-34 1 3 2 14 4zM732 1786l-2-32 17-36 3-12 0-6-3-4-14-2-16-6-6-4-12-13-10-6-2 0-11 7-7 14-2 6 0 14-10 28 22 13 26 27 20 12zM302 1798l5-14 0-18-2-10-4-6-1 8 0 28 1 14zM772 1900l-4-38-2-6-3-3-24 23-3 4 0 2 17 5 14 12zM369 1920l1-20-1-2-2-1-8 3-9 6-7 8 0 2 2 1zM795 2128l9-16 11-12 8-5 14-5-17-30-4-20 0-24 3-16 7-12-1-2-24-1-4 1-2 4 3 20-1 8-4 8-12 6-2 4-14 62-1 6 4 6 17 14 8 5zM564 2044l-8-12-5-4-7 2-11 8 3 2 23 6 4 0z"/>
<path fill="#e49ea0" d="M501 1374l-8 1-12-2-4-2-6-7-7-14-2-14 0-20 4-14 10-14 5-4 6-3 44-4 10 2 30 0 8 4 10 13 1 14-2 30-9 19-8 4-24 3zM671 1343l-8 0-6-2-4-5-3-8 0-10 2-6 5-6 6-3 6 0 6 3 4 4 3 6 0 16-5 7zM805 1393l-10 1-6-2-10-9-5-9-2-12 0-16 2-12 5-10 8-7 10-2 10 2 10 7 2 0 8-11 8-5 16-1 8 3 8 8 3 6 0 14-3 8-8 8-10 4-10-1-14-8-2 3-1 16-2 8-6 10zM909 2318l-208 0-6-32-10-26-11-22-12-40-18-46-12-42-5-24-32-13-12-12-24-32-6-5-4-1-14 8-8 3-28-3-9-7-4-6-19-47-20-35-2-16 4-8 2-21-8 13-2 36-2 4-29-4-1-4-1-28-5-3-13-11-9-3-14 1-14 8-8 6-10 14 0 2 2 1 12-2 10 1 9 6 6 8 1 8-1 8-6 8-9 8-12 2-10-4-8-8-6-12-8 6-6 1-24-1-8-6-3-10-2-12 0-12 4-14 13-33 16-56 6-25 0-20-10-35-8-21-9-20-5-14-2-2-6-1-5-7-2-6-1-10 3-20 22-50 3-10 1-12-6-32 0-18 6-16 7-8 20-9 10 0 21 13 32 34 21 12 28 10 30 5 22 0 10-2 48-3 8-4 2-4 2-16 0-12-2-12-1-20 4-20 3-6 6-5 12-9 6-1 6 1 18 11 4 1 10-4 32-4 16-12 14-1 8 1 14 8 58 23 26 8 64 23 8 6 3 10 9 50 0 8-2 4-8 6-48 15-5 3 5 4 22 11 11 19 10 34 1 24 7 28 3 1 14-4 18 0 18 7 8 8 5 10 0 14-3 8-7 10 19 8 8 8 5 10 0 16-7 11-6 6-6 3-16 2-16-2-6-3-7-7-6-12 0-16 8-14-2-2-27-5-2 3-5 40-6 10-13 16-4 3-20 8-30 9-8-2-10-9-2 1-7 10-22 22-3 6 3 2 11 2 10 4 27 26 6 14 7 28 0 10-2 18 3 20 0 8-4 8-11 5-3 3-15 67 0 7 4 6 11 10 19 12 3-2 8-18 9-9 8-6 12-3 14-2 10 3 6 4 13 13 6 12 2 10 0 16-3 12-5 10-12 12-9 5-14 3-2 4 6 28 2 4 18 13 26 15 12 12 3 6 4 20 0 16-1 6zM943 1575l-8 0-10-6-8-11-3-12 0-30 2-10 8-14 7-4 6-1 11 1 9 7 5 7 4 16 0 24-3 14-3 6-6 6zM899 1677l-12 0-11-5-9-14-5-18 0-22 5-18 9-14 11-5 12 1 10 6 8 12 5 18 0 20-4 18-9 15zM699 1602l4-6 0-2-8-1-2 3 1 6 3 2zM415 1772l2-76 2-9 6-1 30 1 1 3-1 20 2 2 22-4 10 0 4-2-6-22-10-14-2-20-4-4-6-1-10 3-12 1-2 2-4 15-6 6-4 2-18 0-12-4-6 0-3 28 3 27 16 39 6 10zM737 1790l-3-22 0-14 17-36 3-12-1-8-2-4-3-2-13-1-18-7-16-16-12-9-2 0-14 11-8 16-1 4 0 16-12 30 2 2 23 12 24 25 16 11 14 5 4 1zM835 1894l-8 0-6-2-6-6-3-6-1-8 1-8 7-8 6-3 8-1 8 2 8 8 3 6 0 10-3 6-6 7zM873 2095l-8 0-12-2-10-5-7-6-10-18-4-10-2-18 0-18 3-18 16-17 6-4 6 0 6 2 18 9 10 8 2-1 12-17 7-6 7-1 18 6 6 5 8 12 15 30 4 16 0 6-6 22-5 7-20 12-6 0-18-4-12-5zM525 2168l-8 1-22-6-22-15-13-14-7-10-5-16 2-24-1-2-6 6-6 4-20 2-78 22-6 5-14 18-8 6-16 1-8-2-4-4-5-8-7-14-3-12-2-18 0-34 1-8 6-7 12-9 10-5 28-7 48-11 40-4 22 10 7 5 12 28 5 16 16 3 20-4 28 5 11 6 11 9 15 3 18 8 21 3 12 6 5 5 6 14 1 14-4 12-7 6-11 5-14 1-19-6-11-10-21 20z"/>
<path fill="#e88080" d="M497 1372l-14-2-5-2-5-6-6-14-3-14 1-18 4-13 10-14 8-5 44-4 10 1 28 1 4 1 5 3 9 12 1 16-3 26-8 17-6 3-24 3zM669 1340l-6 0-4-2-5-6-1-6 0-8 2-6 4-4 6-2 6 1 4 2 3 5 1 4-1 14-3 5zM803 1390l-8 1-6-2-8-8-4-8-2-11 0-16 2-12 6-10 4-4 4-2 12 0 6 3 10 13 2 0 4-14 8-8 4-2 8 0 8 0 4 2 7 6 3 6 0 14-4 8-8 7-12 2-10-4-10-10-2 0-2 31-7 12zM685 1471l-10 1-8-3-6-5-5-8 0-8 2-8 4-6 7-5 8-1 10 1 9 7 4 6 0 10-2 8-5 6zM907 2318l-203 0-6-32-11-28-10-20-12-40-18-48-8-32-5-28-3-6-10-6-20-7-6-4-11-11-23-29-8-7-4 0-16 9-6 2-26-3-5-2-5-6-25-62-8-24 0-12 4-24 0-12-3-12-7-22 1-22-1-40 2-12 0-20 4-28 4-6 13-9 8-3 12-1 2-3-7-28-7-10-4-12-1-10-3-4-10-2-12 3-12 0-3 3-4 12-5 4-6 1-32 0-4 2-1 3-2 30 2 24 11 42 14 40 6 12 10 16 15 12 5 8 3 14-4 10-9 11-8 4-22 2-24-8-20 3-21 14-9 12-9 20-9 13-6 2-16-2-7-5-4-10-2-18 34-130 0-22-7-26-17-50-5-18-3-4-7-2-4-3-2-5-1-6 5-32 7-18 11-22 3-10 1-12-6-34 0-16 6-16 6-6 20-8 8 1 18 12 14 16 20 19 18 10 32 11 30 5 22-1 10-1 50-3 6-3 4-3 3-13 0-20-2-12 0-18 4-22 5-7 12-9 4-2 6 1 16 10 5 7 6 26 1 22 9 16 8 20 5 22 1-2-1-8 1-32 5-18 10-9 8-2 10 2 9 9 4 8 2 10 0 30-4 18-9 14 16 15 6 16 2 1 14-15 6-5 38-5 42 4 34 14 8 7 10 22 6 26 1 22 7 32 4 1 16-5 18 0 16 6 8 8 4 10 0 14-5 8-13 10 1 2 21 3 9 5 7 8 2 8 0 12-4 8-7 8-7 4-8 1-18-1-8-3-7-7-4-6-1-6-1-8 4-10 12-14-21-2-20-6-3 6-5 42-18 23-26 12-26 7-8-1-8-10-2-1-2 0-9 14-24 24-3 8 2 3 14 1 10 4 25 24 7 16 7 28-2 26 3 22 0 6-4 6-10 4-3 4-16 68 1 10 4 6 12 11 22 15 3-2 4-14 5-8 11-12 9-4 14-2 12 2 9 4 11 12 6 10 2 10 0 16-4 14-5 8-11 11-12 5-12 2-2 2 0 2 8 34 20 15 26 15 12 12 6 24 0 14-1 8zM789 1527l-10 1-8-4-7-8-4-12 0-12 4-12 7-7 8-3 8 0 7 4 6 6 4 8 0 22-5 8zM941 1572l-8-1-7-5-7-10-3-12 1-28 2-10 8-12 6-3 6-1 8 1 9 7 3 6 5 16-1 22-3 14-9 11zM897 1674l-10 0-10-5-8-13-4-18 0-20 5-18 8-12 11-4 10 1 8 5 8 12 4 18 0 18-4 18-8 13zM742 1796l-5-28 0-12 1-6 16-32 2-12 0-8-5-8-16-2-18-7-14-15-8-5-4-10-2 0-7 9-11 8-9 18-1 4 1 10-1 6-4 12-11 22 11 3 18 9 24 25 18 13 20 6zM624 1774l1-4-2-4-2 2 0 8 2 0zM837 1890l-8 1-6-2-6-6-2-5-1-8 2-6 6-6 5-2 8 0 6 2 6 6 2 4 0 8-2 6-5 6zM355 1966l-8 1-8-3-7-6-3-6-1-12 2-6 7-7 6-3 10 0 8 2 7 6 3 8 0 8-2 6-8 9zM871 2092l-6 0-22-7-4-5-11-18-3-8-3-18 1-18 3-16 14-16 7-4 6 1 20 9 14 12 2 0 6-14 10-12 8-2 16 5 6 5 8 12 14 30 4 14 0 6-6 22-4 5-18 11-6 0-18-4-12-7-18 14zM309 2142l-16 1-6-2-4-5-10-20-4-24-1-36 2-8 4-6 13-10 6-3 32-9 48-10 38-4 20 9 6 5 4 12 3 22-7 22-5 8-29 12-38 9-28 9-5 4-15 19zM521 2166l-22-4-16-13-7-7-11-22-1-18 1-10 5-6 19-14 6 0 26 5 5 5 13 20 3 22 0 16-4 8-8 12-5 5zM591 2153l-8-1-10-5-4-5-3-8 0-12 2-6 7-7 10-4 8 1 9 4 6 6 4 10 0 8-5 9-6 6z"/>
<path fill="#de6c6c" d="M505 1368l-10 2-14-3-5-5-6-14-3-14 1-18 3-12 9-12 5-4 4-2 42-3 10 1 28 0 6 3 8 11 2 12-3 30-7 15-6 3-24 3zM671 1337l-6 1-4-1-5-9-1-6 1-6 3-4 4-3 8 1 5 6 0 14zM853 1351l-8 1-7-2-7-5-5-7-1-6 1-8 4-6 5-4 6-2 12 1 5 3 5 6 2 8-1 10-5 7zM805 1387l-10 1-6-3-8-9-3-12-1-16 3-12 6-12 7-4 8 0 6 3 6 7 4 10-1 30-4 10zM679 1468l-6 0-7-4-5-6-2-6 1-8 2-6 5-5 6-3 10 0 4 2 7 6 3 6-1 10-3 7-6 5zM905 2318l-167 0-1-14-2 0-1 2 0 12-27 0-7-34-10-26-11-22-12-40-17-46-8-32-5-28-3-8-5-3-26-10-6-4-11-11-23-28-10-10-4 0-16 10-6 2-26-2-8-8-16-38-15-46-1-10 4-26 0-12-3-12-7-24 1-20-1-40 2-10 0-22 5-28 3-4 14-10 6-2 12 0 3-4-8-32-7-10-3-12-2-10-3-4-12-3-12 3-14 1-4 3-4 12-4 4-38 0-4 2-2 4-2 38 2 20 11 40 14 40 7 14 10 16 14 11 5 7 3 14-3 8-9 11-6 3-22 2-18-7-6-1-20 3-22 15-10 12-14 28-4 4-4 2-14-2-6-4-3-8-3-18 34-130 0-24-8-27-17-49-5-20-2-2-8-2-4-3-2-9 5-30 6-18 12-24 3-10 1-10-7-36 0-14 5-14 6-8 19-7 8 1 17 12 12 14 21 20 20 11 30 10 30 5 24 0 12-2 48-2 8-4 5-6 3-18-2-44 5-22 4-6 11-8 4-1 4 1 13 8 5 6 6 28 1 20 11 22 6 16 3 20 3 5 6 3 3-2-3-16 0-32 4-14 7-8 5-3 4-1 6 1 4 2 8 11 4 14 0 26-2 14-6 11-10 9 19 14 4 6 5 22-2 18-7 16-4 4-7 4-10 18-3 8 1 12-4 14-9 18-10 12 19-1 14 6 7 5 22 24 15 10 8 5 28 8 0-3-7-16-3-16 0-12 17-36 3-12 0-10-4-8-4-3-14-1-14-5-6-4-12-13-8-5-2-11 2-10 0-12 3-14 11-13 8-5 34-3 42 4 32 12 6 4 10 19 7 30 1 24 5 18 1 14 2 4 20-7 18-1 16 6 8 7 4 9-1 14-7 9-10 6-10 3-16 0-12-3-12-7-4 10-5 42-5 9-12 14-24 11-28 8-6-3-8-11-4-2-11 18-23 24-6 12 4 4 14 0 10 4 24 23 3 5 4 10 7 28-2 26 4 26-4 6-10 4-3 4-17 70 0 6 2 6 4 6 12 11 26 18 3-1 4-16 4-10 11-11 6-4 12-3 12 1 11 5 12 12 5 12 2 10-1 14-5 14-8 9-8 7-10 4-14 1-2 3 10 40 22 16 25 14 11 12 6 22 0 12zM783 1524l-8-1-5-5-5-8-2-10 0-8 5-12 5-4 8-4 6 1 7 5 5 6 2 8 0 14-2 6-8 9zM943 1569l-8 0-7-5-6-10-3-10 0-26 2-10 7-12 5-2 6-2 8 2 7 6 4 8 3 12 0 22-3 12-7 9zM899 1671l-6 1-6 0-8-5-7-11-5-18 0-18 5-18 8-12 9-4 10 2 7 4 6 10 5 18 0 18-4 16-7 12zM624 1788l5-18-4-12 2-8-2-2-4 2-1 2-4 32 1 4 2 1zM923 1822l-20-1-9-7-6-8-1-10 2-8 5-8 11-7 14-1 10 1 10 6 7 9 1 14-3 8-11 10zM839 1887l-6 1-6 0-8-8-2-6 1-6 7-8 6-2 6 1 8 7 2 6-1 6zM357 1963l-6 1-8-1-7-5-4-6-1-10 2-6 5-6 5-3 8-1 6 2 7 4 4 6 1 6-1 6-4 6zM873 2089l-6 1-22-7-5-5-10-18-3-8-2-18 0-16 4-16 14-15 4-2 4 0 22 11 14 14 4 2 4-18 11-14 7-1 16 5 5 4 8 14 12 24 4 16 0 8-5 18-4 5-11 7-9 4-20-4-12-10-2 0-6 9zM303 2140l-10 0-6-3-11-23-5-24 0-34 2-8 4-5 12-9 6-3 30-8 48-11 38-3 20 9 4 4 4 12 2 20-7 22-4 6-27 11-40 10-29 9-3 3-18 22-4 3zM523 2163l-6 1-16-4-4-3-18-16-11-21-1-20 2-8 13-12 9-5 28 5 5 4 12 18 3 24-1 14-10 18zM595 2148l-6 2-10-3-6-4-3-7-1-12 2-6 5-6 7-3 8-1 8 4 6 5 3 7 1 8-2 6-6 7z"/>
<path fill="#c45858" d="M499 1367l-6 0-12-3-4-6-5-12-3-12 1-16 3-12 10-13 6-4 42-4 36 2 4 1 4 3 7 9 1 14-3 24-7 15-4 2-24 3zM669 1335l-7-1-4-8 1-10 2-3 4-2 6 2 3 5 0 10-2 4zM851 1349l-8 0-6-2-5-5-4-6-1-6 2-6 4-5 4-3 8-1 8 1 9 8 1 10-2 6-4 6zM803 1385l-8 0-6-3-6-8-3-12-1-14 3-12 6-10 5-3 8 0 4 2 5 5 4 10 0 28-4 10zM683 1465l-6 1-6-2-5-4-4-6-1-6 2-6 4-5 4-3 6-1 8 1 9 8 1 8-2 6-4 6zM901 2318l-160 0 0-16-2-4-7 4-1 16-22 0-6-34-10-26-11-22-13-41-17-45-8-34-5-28-3-8-5-3-32-13-12-12-22-28-11-12-3 0-18 11-6 2-24-2-4-2-5-5-14-36-16-48-1-8 4-26 0-12-2-14-8-22 2-20-2-10 0-30 2-10 0-20 5-28 3-5 14-9 6-1 13-1 3-4 0-6-8-28-7-10-4-12-1-12-4-4-12-4-14 4-16 0-3 2-4 12-3 5-6 1-36 0-4 4 0 16-2 10 0 18 2 19 10 39 14 40 7 14 11 18 14 11 4 5 3 12-2 8-9 12-6 2-20 1-22-7-24 3-22 15-10 13-16 30-4 2-12-1-4-1-2-3-3-8-2-16 33-128 0-26-8-29-17-49-5-20-2-3-11-3-2-4-1-4 5-30 6-16 13-26 4-18-7-38-1-12 2-8 8-13 16-7 8 0 18 12 12 14 20 20 22 12 30 10 30 4 26 0 10-1 22-1 10-1 18-1 10-6 4-5 2-19-2-44 5-22 5-5 12-8 4 2 13 9 4 8 4 22 1 22 9 16 8 20 5 24 4 4 11 6 5 7 16 5 16 11 5 9 3 14-3 18-4 12-5 8-9 4-12 24-1 4 1 14-4 12-8 16-9 9-15 5-2 2-5 34 1 6 5 4 7 0 2-2 0-8 4-12-4-14 2-4 13-3 12-1 18 9 24 25 14 10 8 5 16 4 13 7 10 16 0 8-8 16-25 26-7 14 1 4 4 2 16 1 8 2 24 23 5 10 8 32-1 28 3 24-3 5-10 3-4 6-16 70 0 9 6 11 38 30 6 3 2-3 3-18 3-8 8-10 8-6 12-3 10 0 11 5 11 11 5 9 3 12-1 14-6 14-9 10-8 5-8 3-16-1-3 1 8 24 3 20 3 4 21 16 26 15 9 9 7 24-1 12-1 8zM787 1521l-8 0-6-3-4-6-3-10 0-8 4-12 5-5 6-2 4 0 6 4 5 5 2 6 0 18-4 6zM665 1575l-8 1-8-6-3-4-5-16 1-34 6-14 5-5 6-2 6 1 6 5 5 9 3 12 0 24-3 12-4 10zM941 1567l-6-1-6-5-6-9-2-10 0-24 3-10 6-10 9-3 6 1 7 6 6 14 1 6 0 18-3 12-7 10zM897 1669l-10 0-7-5-6-10-5-18 1-16 4-16 8-12 9-3 8 1 6 6 5 8 5 18-1 16-4 16-7 11zM783 1846l-6 1-3-3-12-18-4-16-14-28-3-16 1-10 17-36 3-18-1-6-4-8-4-3-14-1-18-7-8-7-6-8-7-4-2-4 1-26 3-16 11-12 6-3 34-4 40 4 35 13 4 4 8 16 6 24 3 10 0 20 5 20 1 18 2 4 12-7 10-4 18 0 8 2 10 6 5 5 2 6 0 10-4 8-9 7-12 5-14 0-12-3-16-12-4 17-5 40-6 10-13 15-22 9zM929 1819l-22 0-6-2-6-5-5-8-1-8 1-6 6-8 11-7 12 0 8 0 12 8 5 9 0 12-5 8zM837 1885l-4 1-6-1-7-7 0-6 0-4 7-6 6-1 4 1 7 6 0 6 0 4zM355 1961l-10 0-6-3-5-6-1-6 1-8 9-8 8-1 6 1 5 4 4 6 0 6-1 4-4 6zM871 2087l-18-4-8-3-13-22-2-6-3-18 0-14 3-16 15-15 6-1 22 11 18 19 2-1 2-5 2-16 10-13 6-1 14 4 4 3 7 11 14 28 4 18-5 20-8 8-8 5-6 2-20-4-14-13-7 12zM309 2137l-12 1-7-2-3-4-9-18-5-26 0-34 1-4 3-4 12-9 8-4 28-8 48-10 36-4 6 2 17 9 4 12 3 18-6 20-4 7-28 12-38 9-31 10-3 3-15 19zM521 2161l-4 0-16-4-14-11-7-8-10-20-1-16 1-8 13-11 8-5 27 4 16 22 3 22-1 12-2 6-8 12zM593 2146l-6 1-8-3-5-4-2-6 0-14 5-5 8-4 6 0 7 3 6 6 2 6 0 6-2 6-5 6z"/>
<path fill="#ac4242" d="M501 1364l-8 1-10-2-4-5-5-12-3-12 1-16 3-12 9-12 7-3 40-3 36 1 7 3 6 10 1 12-3 24-7 14-4 2-23 2zM667 1333l-5-3-2-6 1-6 4-4 4 0 3 6 0 8zM851 1347l-6 1-6-2-5-4-4-6 0-4 0-6 4-6 5-3 12 0 6 4 3 5 0 12-5 6zM803 1382l-8 1-6-4-5-7-3-12 0-12 3-12 5-8 6-3 6 0 5 3 4 6 3 8-1 26-5 10zM683 1463l-6 1-4-1-6-4-3-5 0-4 0-6 4-6 5-3 8 0 4 1 7 8 1 6-2 6-4 4zM899 2318l-156 0 0-21-2-4-11 7-1 18-18 0-6-34-11-28-10-22-13-40-17-46-8-32-5-28-4-9-4-4-28-10-6-4-9-9-35-42-4 0-18 11-6 2-22-1-4-2-4-4-15-36-17-48 0-8 4-25 0-15-2-12-7-18-1-6 2-18-2-10 0-28 2-10 0-22 5-28 4-4 13-8 19-2 3-4-1-8-7-28-8-12-4-12 0-10-3-4-15-6-16 4-16 1-4 3-3 12-3 3-41 1-3 2-2 4 0 16-2 10 0 18 2 20 10 38 14 40 8 16 11 18 13 10 5 6 2 10-3 8-6 9-6 3-20 1-22-7-24 3-18 11-6 5-10 13-16 30-4 0-10 0-4-2-3-8-2-16 33-128 0-28-8-28-17-48-5-22-4-4-9-2-2-6 4-28 6-18 12-24 5-20-8-40 0-10 2-8 8-12 16-6 6 1 16 10 12 14 22 21 20 11 32 11 24 4 22 0 70-4 14-8 2-4 2-18-2-46 3-14 3-8 4-4 10-6 8 4 8 6 3 8 4 20 1 22 11 20 6 16 5 25 2 3 14 8 4 6 18 6 14 10 5 8 3 16-3 16-4 12-5 6-8 4-12 24-2 6 1 14-4 12-7 14-8 9-16 5-4 4-4 34 0 6 2 3 4 3 14 0-1-12 4-12-4-14 5-3 20-3 16 8 28 28 18 12 16 5 10 5 7 6 6 12 0 4-1 4-9 16-24 24-7 16 6 6 18 1 8 3 22 21 5 9 9 32-2 28 3 24-3 3-8 2-5 7-17 72 0 9 4 9 3 4 49 37 1-3-1-14 3-12 6-10 11-10 14-3 8 0 10 5 11 10 6 16 1 12-3 12-6 10-9 9-12 5-10 0-14-5-1 1 8 18 5 14 3 18 3 6 22 16 24 13 10 11 6 22-1 12-1 8zM787 1518l-6 2-6-3-5-7-3-10 1-6 3-10 4-4 6-3 4 1 6 3 4 5 2 6-1 16-4 6zM665 1572l-8 1-6-4-3-5-5-14 1-34 6-14 5-4 4-1 6 1 4 4 5 8 3 12 0 24-3 12-5 10zM941 1564l-6 0-4-4-5-8-3-10 0-24 3-8 5-10 8-3 6 1 6 6 6 18 0 18-3 12-6 8zM897 1667l-8 1-6-4-7-10-5-18 1-16 4-16 7-10 8-3 8 2 7 7 4 10 3 12 0 14-4 16-6 10zM781 1845l-4-1-2-2-10-16-6-18-13-24-3-18 1-12 17-34 4-18-2-6-8-13-16-1-18-7-7-7-5-8-8-4-2-4 5-38 5-7 10-8 34-4 42 5 32 12 7 10 6 16 7 26 0 20 6 20 1 28-10 74-5 8-12 14-22 10zM901 1760l-6 2-12 0-16-5-9-9-2-6-1-6 3-6 9-8 16-5 14 0 16 7 4 4 3 6 0 12-7 9zM929 1817l-6 1-16-1-10-6-5-7-1-8 2-6 4-6 10-6 10-1 10 1 11 6 4 8 0 10-4 8zM837 1882l-8 1-6-5-1-8 5-6 8-1 6 5 1 8zM355 1958l-4 2-6-1-6-4-3-5-1-8 2-4 8-7 6 0 6 2 4 3 3 4 0 4-1 6zM871 2084l-6 0-18-6-13-20-2-6-3-18 0-14 4-16 14-14 4 0 4 2 16 8 6 5 11 13 5 13 4-18 1-13 9-14 2-2 4 0 14 4 10 14 11 22 6 18 0 6-6 18-5 5-12 7-20-3-5-3-7-10-4-9-8 21zM309 2134l-10 2-8-2-11-20-5-26 0-34 4-7 12-9 6-2 30-9 48-10 34-3 6 2 16 8 3 10 3 18-7 20-3 6-26 11-38 9-32 10zM519 2159l-18-5-14-11-6-7-9-18-1-18 2-6 18-14 10 1 16 3 15 20 3 22-1 12-9 16zM591 2145l-4 0-8-3-5-8-1-10 2-4 4-4 6-3 6 0 6 3 4 4 3 6 0 6-3 6-4 4z"/>
<path fill="#e8ffe4" d="M507 1362l-12 2-10-2-4-4-6-12-2-12 0-14 3-12 9-12 6-4 40-3 34 1 6 2 7 10 1 10-3 26-6 12-3 2-24 3zM667 1331l-4-2-2-5 2-6 4-2 3 2 1 4-1 6zM851 1345l-4 1-6-1-4-3-5-6-1-6 1-4 3-4 4-3 12 0 7 7 1 6-1 6-3 4zM803 1380l-6 2-6-4-5-6-3-12 0-12 3-10 3-8 6-4 6 1 4 3 6 12 0 24-3 8zM683 1461l-6 1-4-1-4-3-3-4-1-4 1-6 3-4 4-3 10 0 7 7 1 6-1 4-3 4zM897 2318l-152 0 0-22-2-6-15 10-1 18-14 0-7-36-11-28-10-20-12-39-18-47-8-32-5-28-3-10-5-4-29-10-5-4-9-9-36-43-4 0-20 12-4 1-22-1-4-2-4-4-14-36-16-46 0-8 3-24 0-16-2-12-8-24 2-18-1-10 0-28 2-10 0-22 4-26 3-4 13-8 20-2 3-4 0-10-8-30-7-10-4-12-1-12-4-4-15-5-16 4-16 0-5 3-3 12-4 4-40 1-3 1-2 4-3 26 0 20 2 20 11 40 14 40 7 14 12 19 14 11 3 4 2 10-1 6-8 10-4 2-20 1-22-7-26 4-18 11-6 6-10 13-14 27-4 2-10-1-3-2-2-6-2-16 7-24 26-108-1-28-24-72-6-24-3-3-10-2-2-5 5-28 6-18 12-24 5-20-8-40 0-8 1-8 7-12 14-6 8 1 16 11 10 12 22 21 21 11 31 11 26 4 20 1 72-4 11-6 6-6 3-20 0-18-2-12 0-14 5-22 3-4 10-6 14 8 3 8 5 22 1 20 10 20 6 16 6 26 3 4 12 7 5 7 17 5 16 11 3 8 3 14-3 16-4 12-3 4-8 4-2 2-12 25-1 5 0 14-4 12-7 14-6 7-18 6-3 3-5 36 1 6 2 4 3 3 18 2 2-3-3-12 4-12-3-10 0-4 10-3 12-1 16 8 8 10 19 18 17 11 26 9 7 6 6 14-1 6-8 14-25 26-7 16 3 4 5 3 16 1 10 3 21 21 6 14 7 28-1 26 3 22-2 3-10 3-5 8-17 74 1 8 7 13 14 12 16 10 26 23-4-18 0-10 6-16 9-10 9-4 8-2 6 0 12 6 9 8 7 16 0 12-3 12-6 10-9 8-14 5-14-4-12-7 0 2 11 22 5 16 3 18 3 6 22 16 26 15 8 9 6 24-2 18zM787 1516l-6 2-4-2-5-6-3-10 1-6 3-9 4-4 4-2 4 1 4 2 4 4 2 6-1 14-3 6zM665 1570l-6 2-6-4-3-4-5-14 1-32 5-14 4-4 4-2 6 2 4 4 3 8 3 10 0 22-2 12-3 8zM941 1563l-6-1-4-4-3-6-3-10 1-28 6-12 7-4 6 2 4 4 6 18 0 18-3 10-5 8zM893 1666l-8-2-5-6-4-10-3-14 0-12 5-18 7-9 6-3 7 2 6 6 4 10 3 14 0 12-5 18-7 10zM783 1842l-6 0-9-14-7-20-13-24-3-18 1-12 17-34 3-18-1-5-8-15-18-2-16-5-8-8-6-9-6-3-2-3 2-24 2-14 6-7 8-6 34-4 42 4 32 13 8 14 3 10 7 26 1 20 6 26 0 20-2 10-1 18-7 48-15 20-22 10zM895 1760l-12 0-8-1-6-3-5-4-5-6-1-6 1-6 3-6 11-7 12-3 14 1 15 7 3 4 2 6 0 6-2 6-8 7zM923 1816l-18-1-6-5-5-6-1-8 2-6 4-5 8-5 6-2 12 1 10 5 5 6 1 8-2 8-8 8zM837 1880l-6 2-6-4-2-6 4-6 6-2 6 4 2 6zM355 1956l-4 2-4 0-6-4-3-4 0-10 7-7 6-1 4 2 4 2 3 4 1 4-1 4zM931 2077l-8-1-14-4-8-10-2-4-3-16 3-40 4-8 8-8 14 3 4 3 19 36 4 16 0 4-5 17-6 6zM871 2083l-16-3-8-4-14-24-2-20 2-24 4-6 8-8 4-2 20 9 8 7 10 12 7 22 0 6-8 24zM301 2134l-6 0-4-3-9-17-2-10-3-16 0-30 1-6 3-4 10-8 6-3 30-8 48-11 34-3 20 10 3 9 3 18-6 20-4 5-24 10-38 10-32 9-4 3-18 23zM519 2157l-16-3-14-12-6-6-9-18-1-8 1-14 11-10 6-4 4 0 20 3 4 3 11 16 3 22 0 10-8 14zM593 2142l-6 1-6-2-5-7 0-12 3-4 6-3 4-1 6 3 4 3 3 6 1 4-2 6-4 4z"/>
<path fill="#cdfac8" d="M497 1362l-10-1-5-3-6-12-2-12 0-14 3-10 10-14 6-3 38-2 34 1 6 2 6 9 1 11-3 22-6 13-4 2-22 2-26 6zM667 1328l-2 0-2-4 1-4 3-2 2 4 0 4zM847 1344l-8-2-6-8 1-8 3-4 4-2 10 1 4 3 2 4 0 6-2 6zM799 1380l-4 0-6-6-5-16 1-10 3-12 3-6 6-2 4 1 4 3 5 12-1 24-4 8zM679 1460l-8-2-4-8 2-8 6-4 8 1 4 3 2 4 0 4-2 6zM897 2318l-150 0-1-26-1-4-2-1-16 12-2 19-10 0-8-36-10-26-10-22-14-42-16-44-9-34-5-28-4-9-6-4-26-10-6-3-10-10-36-44-4 0-20 13-4 1-22-1-6-5-15-36-16-46 0-8 3-24 0-18-2-10-7-24 1-18-1-10 0-28 2-10 1-22 4-26 3-4 11-7 4-1 18-1 3-5-1-10-8-30-8-12-3-12-1-10-3-4-8-4-9-2-16 3-18 1-4 4-3 10-3 4-40 1-4 2-3 5-2 26 0 22 2 20 10 38 14 40 8 16 12 18 16 14 3 10-2 6-6 8-6 3-18 0-20-6-10 0-18 3-18 11-7 7-10 12-15 28-10 1-4-3-2-6-2-13 7-23 26-110 0-28-25-74-5-22-3-4-10-2-2-4 4-28 7-18 12-24 4-20-7-40-1-8 2-8 7-11 12-5 8 0 14 10 11 12 22 22 23 12 30 10 26 5 32 0 60-4 4-1 9-6 5-6 3-16 0-18-2-30 3-14 2-8 4-4 8-4 6 2 7 6 3 7 4 21 1 20 10 20 7 18 6 26 4 4 10 5 6 8 18 6 14 10 4 7 2 14-2 16-4 10-4 6-9 4-12 26-1 6 1 12-4 12-8 16-7 7-17 5-3 4-5 34 1 10 3 4 4 2 17 3 3-1 1-4-3-12 4-12-4-12 2-2 9-2 10-1 16 9 6 8 20 20 18 11 18 5 8 4 6 6 5 12-1 6-8 14-24 24-8 18 2 4 7 4 17 1 8 2 22 21 5 10 8 32-2 26 3 22-2 2-8 3-6 9-16 70-1 6 1 6 4 10 4 4 42 33 14 15 13 24 6 18 3 20 4 6 22 16 24 13 8 8 3 5 4 18-1 10zM783 1516l-4 0-4-4-4-14 3-12 3-3 4-2 4 0 4 3 3 4 2 6-1 10-1 4-5 6zM661 1570l-4 0-6-6-5-18 1-28 4-12 4-4 4-2 4 1 5 5 3 7 3 13 0 18-3 14-4 8zM941 1561l-4 0-4-3-5-8-2-10 1-24 5-12 7-4 6 2 4 4 5 18-1 16-2 10-4 7zM895 1665l-8-1-6-6-4-10-3-14 0-12 4-16 7-9 6-3 6 1 6 7 5 10 2 12 0 12-4 16-5 8zM783 1841l-4 0-2-2-8-13-6-18-14-26-2-16 0-10 17-34 4-20-2-6-6-12-3-3-18-2-14-5-10-8-4-8-8-6 1-24 3-14 8-9 6-3 32-3 40 3 32 13 6 9 6 15 6 25 2 22 5 22 0 22-1 10-1 18-7 46-4 8-12 14-20 8zM897 1759l-14 0-10-2-6-4-5-5-2-6 0-6 2-6 11-7 12-4 12 1 14 6 4 4 3 6-2 10-5 7zM925 1815l-18-1-6-3-4-5-2-6 0-7 4-6 6-5 6-2 12 0 10 4 4 4 3 8-2 8-5 7zM833 1880l-6-2-2-4 2-6 4-2 6 2 2 4-2 6zM351 1956l-8-2-4-6 0-8 4-4 4-2 4 0 6 2 4 6 0 4-2 4-4 4zM931 2075l-6 0-14-3-4-4-6-10-3-20 3-36 2-6 8-8 12 2 4 3 19 35 5 16 0 4-5 16zM871 2081l-6 0-16-5-3-4-11-20-3-20 3-24 4-6 10-9 18 8 8 7 10 12 5 16 2 12-6 20-3 5zM305 2132l-8 1-4-2-10-19-5-26 0-30 3-6 12-9 6-3 29-8 47-10 34-3 19 9 3 9 3 15-5 16-4 9-26 12-38 8-32 11-4 3-16 21zM519 2155l-6 0-10-3-14-11-5-7-9-18-1-14 2-6 15-12 8 0 16 3 14 19 2 30-6 12zM847 2181l-8 0-6-2-6-2-6-5-7-10-4-16 3-16 5-10 9-8 14-5 12 3 9 6 8 10 4 14 0 12-6 14-10 10zM593 2141l-4 0-6-1-6-6-1-6 1-6 8-6 4 0 6 2 6 8-1 8-3 4z"/>
<path fill="#b4f5aa" d="M505 1360l-10 1-10-2-8-15-2-12 0-12 4-12 8-10 6-3 38-3 34 1 6 3 5 8 0 10-2 22-7 12-24 4zM849 1342l-4 1-4-2-6-7 0-6 5-6 9 0 6 5 0 9-2 4zM799 1379l-4-1-5-6-4-16 0-8 3-10 4-7 4-2 6 3 4 8 1 6-1 22-4 8zM681 1458l-6 0-4-2-2-4 0-6 2-4 4-2 7 0 6 6-2 8zM895 2318l-146 0-2-28-2-5-4 2-15 11-3 20-6 0-9-36-10-28-10-20-13-42-17-44-8-34-5-28-5-10-5-4-28-10-6-4-46-53-4 0-24 13-20 0-4-1-4-5-14-34-16-46 0-8 3-24 1-18-3-12-7-22 1-18-1-12 1-24 2-12 0-20 5-28 14-10 20-2 4-4-1-12-8-30-7-12-4-12-1-10-3-5-8-4-10-2-16 3-18 1-5 3-5 14-42 3-4 2-2 5-3 26 0 22 3 20 10 38 14 40 7 16 12 18 14 12 3 4 2 8-2 6-6 7-4 2-18 0-20-6-10 1-18 3-18 10-8 8-11 13-13 26-8 1-4-1-1-2-4-14 1-4 6-22 27-108-1-30-25-74-5-22-4-6-8-1-2-3 4-28 6-16 12-24 5-22-8-46 1-8 7-12 13-5 6 1 14 10 8 10 24 23 22 12 32 10 24 5 34 0 60-4 4-1 11-7 4-6 3-16 1-20-2-28 4-20 3-4 8-4 6 2 6 5 3 7 4 20 1 22 10 18 7 18 6 26 3 4 10 6 6 8 20 6 13 10 3 6 3 14-3 16-4 10-3 4-5 2-4 3-12 26-2 7 2 12-4 12-7 14-7 8-18 6-3 2-6 36 1 10 3 4 5 3 10 1 10 5 4-2 2-5-3-14 3-10-4-10 0-4 8-3 8 0 16 7 8 11 18 19 18 11 20 5 8 4 4 4 6 12-4 11-6 9-25 22-8 18 3 6 8 5 18 1 8 3 20 19 3 4 3 8 8 30-2 28 2 18 0 2-10 5-5 9-17 74 0 8 4 9 4 5 14 12 30 22 14 16 12 22 6 18 3 20 4 6 23 17 24 14 8 7 2 6 4 18zM783 1515l-6-3-5-14 3-10 3-4 3-1 4 0 4 3 3 8-1 12-4 6zM661 1569l-4-1-4-4-5-18 1-28 4-12 6-4 4 1 4 5 3 6 2 12 0 18-2 12-5 10zM941 1559l-4 0-4-4-4-8-1-7 1-24 4-10 6-4 4 1 4 4 5 17 0 14-3 12-4 6zM897 1663l-4 1-4-1-6-4-4-9-4-16 0-12 5-16 5-7 6-4 6 2 6 7 6 20 0 12-3 12-3 8zM785 1838l-6 0-8-12-6-18-14-26-3-18 1-8 16-34 4-20-1-6-6-12-4-4-5-1-12-1-16-5-8-7-6-10-6-3-1-3 3-34 4-6 10-7 32-3 16 1 24 3 31 12 5 8 6 14 7 26 2 22 5 24-2 46-4 34-3 14-5 8-10 12-20 8zM628 1648l8-4 4-6 0-6-7-6-10-3-12 0-12 5-5 6 1 7 6 5 12 3zM899 1757l-6 1-10 0-14-5-5-5-3-6 0-4 2-6 10-8 12-4 12 1 14 7 5 6 0 10-5 7zM551 1816l4-5 2-5 0-18-4-10-6-4-4 2-2 3-4 17 3 12 3 7 4 2zM927 1812l-16 1-8-3-4-4-3-6 0-6 3-4 6-6 8-3 10 1 10 4 4 6 1 8-5 8zM833 1879l-4-1-2-4 0-4 4-2 4 1 2 3 0 4zM351 1955l-6-2-5-5 1-7 6-5 8 1 4 5 0 4-2 4zM931 2073l-6 0-13-3-10-12-2-22 2-34 5-8 6-5 10 3 3 2 19 36 4 14-4 18-4 5zM873 2079l-6 1-18-6-13-22-3-20 3-24 5-6 8-7 4 1 18 10 12 13 3 7 5 18-1 6-6 20zM717 2052l4-10 2-18-4-21-2-3-4-1-3 3-3 7-2 17 2 16 2 6 4 6zM305 2131l-10-1-11-20-4-24 0-30 3-6 10-8 6-2 30-9 46-10 34-2 13 5 5 4 5 22-4 16-4 8-25 11-38 9-32 10-5 4-15 20zM519 2153l-6 0-10-3-12-10-5-6-9-17 0-19 14-12 8-1 15 3 13 18 3 22 0 8-3 6zM851 2178l-12 2-14-6-9-10-5-16 0-8 2-8 5-10 11-10 12-3 12 2 7 5 7 8 6 14 0 12-6 14-8 10zM593 2139l-8 0-6-5-1-10 3-4 4-2 4 0 4 1 6 7 0 6-2 4z"/>
<path fill="#96f08c" d="M509 1358l-14 2-8-1-3-3-5-10-3-14 0-12 4-12 9-10 6-2 36-2 32 1 6 2 5 7 0 8-2 24-5 10zM847 1341l-6-2-4-5 0-6 4-4 8 0 5 4-1 8zM799 1376l-4-1-4-5-3-14 0-8 3-10 2-4 4-2 3 0 3 4 3 10 0 20-3 6zM679 1457l-6-2-2-5 1-6 5-3 6 2 3 5-2 6zM891 2316l-138 0-3-4-1-24-2-4-2 0-19 12-3 4-2 14-2 0-15-48-15-33-12-41-18-45-8-33-5-28-4-10-7-5-28-10-6-4-46-53-4-1-24 14-20 0-7-5-14-34-16-46 0-6 4-26 0-18-2-10-8-24 1-18-1-12 1-24 2-10 1-22 4-26 4-4 9-6 20-2 3-2 2-4-1-12-8-30-7-12-4-12-1-12-4-4-8-4-10-2-16 3-18 1-6 4-4 10-2 3-40 2-5 3-3 6-3 24 0 24 3 20 6 26 19 56 17 30 18 16 2 8-2 5-6 7-4 1-16 1-20-6-10 0-20 3-18 12-8 7-10 12-14 26-6 1-4-3-3-12 1-4 33-130 0-28-8-26-19-52-6-24-2-3-9-3-1-2 3-24 7-18 12-24 4-20 1-6-8-42 1-8 6-10 12-5 5 1 15 10 8 10 22 22 26 13 30 10 24 4 36 0 58-4 6-2 10-6 5-7 2-16 1-22-1-26 4-20 9-6 4 1 6 5 3 6 4 20 2 22 9 17 7 19 7 28 13 10 5 7 21 7 11 8 4 6 3 14-2 14-3 8-4 6-6 3-4 3-9 20-4 12 1 16-10 24-6 6-18 6-4 4-6 36 1 10 5 6 14 4 6 4 3 6 5 21 16 30 24 25 4 3 20 2 16 9 18 1 6 2 5 3 19 20 5 12 6 26-2 18 1 28-8 5-6 11-17 74 1 10 3 8 5 6 14 12 30 22 12 14 13 22 6 18 3 20 3 6 23 17 26 15 6 6 3 6 3 18-2 11zM783 1512l-4-1-2-3-3-10 3-10 4-3 6 2 3 9-1 10zM661 1566l-4-1-3-3-4-16 0-26 4-12 5-4 4 1 2 3 5 18 0 18-2 12-3 6zM941 1557l-4-1-4-4-3-12 0-22 5-12 4-2 4 1 3 3 4 16 0 14-2 10-3 6zM895 1662l-6 0-6-6-4-8-3-14 0-12 4-14 5-7 6-4 5 1 6 6 3 8 3 12 0 12-4 14-3 7zM785 1836l-4 1-2-1-8-14-5-16-13-24-3-18 1-8 15-32 4-20-1-8-6-12-4-5-4-1-16-1-14-5-8-7-6-11-6-4 3-34 5-6 8-6 22-2 24 0 27 4 29 12 8 14 3 8 7 26 2 20 5 22 0 22-2 10 0 16-5 36-4 14-13 16-21 9zM621 1652l14-3 7-7 2-4-1-6-6-7-12-5-12 0-12 4-8 6-2 4 0 4 5 8 13 6zM895 1757l-12 0-9-3-5-3-5-5-1-4 0-6 2-5 10-6 10-3 11 0 13 6 6 8 0 5-2 5-6 6zM667 1773l-14-1-8-3-4-4-1-5 7-3 10 1 8 4 4 4 1 4zM551 1818l4-4 4-8 0-18-5-12-3-3-4-1-5 2-3 4-3 18 2 12 3 7 4 4zM927 1810l-14 1-8-2-6-7-1-6 1-4 6-6 8-3 10 0 8 4 4 5 1 8-4 6zM739 1845l-2 0 0-7-5-16-7-10 0-2 7 0 9 5 7 11 1 4-2 4zM689 1873l-8-1-4-4-2-6 2-10 4-4 4-2 4 1 4 3 4 8-1 8-3 4zM833 1876l-4-2 2-4 4 2zM351 1953l-4-1-4-4-1-6 5-4 6 0 4 4-1 6zM931 2071l-6 0-12-2-7-9-2-4-2-22 2-30 3-7 6-5 8 1 4 3 18 34 4 14 0 5-4 13zM718 2054l5-12 2-18-4-20-4-6-4-1-4 3-2 4-4 23 4 21 6 8zM869 2078l-12-2-8-4-12-22-2-20 3-20 3-5 8-7 4 0 13 6 7 6 10 12 4 14 2 12-5 18-4 6zM305 2129l-6 0-4-1-9-18-4-24 0-28 1-4 2-3 9-7 5-2 30-9 48-10 32-2 16 8 3 7 2 16-5 18-4 4-24 10-36 8-34 11zM517 2151l-12-2-14-11-4-6-8-16-1-8 1-10 12-10 8-1 14 3 12 16 3 28-3 8zM845 2179l-6 0-8-3-10-8-6-10-3-14 3-13 6-10 10-8 12-3 12 4 8 7 6 10 3 11-1 10-6 14-8 8zM593 2137l-6 0-6-3-1-6 1-4 4-4 6 0 6 6 0 6z"/>
<path fill="#78eb6e" d="M503 1358l-10 1-6-2-4-5-4-9-2-11 1-12 3-10 8-10 6-3 36-1 32 2 5 2 3 6 1 6-3 22-4 9-46 13zM849 1336l-4 2-4-3-1-3 1-4 4-2 5 2 1 4zM799 1372l-3 0-3-4-3-12 3-15 4-6 4 3 3 8-1 18zM681 1452l-4 1-2-1-1-4 1-2 4-2 3 2 1 2zM889 2313l-134 0-3-5-1-22-2-2-4-2-4 2-8 7-8 4-6 8-4-7-14-42-10-21-13-43-17-42-5-18-8-44-5-10-6-5-29-11-6-4-40-48-7-6-6 0-22 13-20 1-6-5-14-35-16-46 4-30 0-18-2-10-6-15-2-11 2-16-2-12 2-22 6-50 2-8 3-4 9-6 20-2 4-6-1-16-8-30-7-10-2-5-3-19-5-5-8-4-10-2-17 3-19 1-5 3-7 12-22 1-14 2-4 1-4 4-3 6-4 22 0 24 2 22 6 26 12 36 8 22 17 30 16 14 2 4 0 6-4 6-6 3-14 0-18-6-14 0-18 3-24 16-14 16-12 24-4 2-3-2-3-10 1-4 32-130 0-30-6-22-12-34-9-21-6-25-2-3-7-3-2-4 3-20 6-16 13-26 4-20 0-8-8-40 1-6 6-10 8-4 6 1 14 9 8 10 22 21 26 12 32 11 24 4 36 1 32-2 26-3 6-1 8-5 5-4 2-4 4-16 2-26-2-20 3-18 3-6 5-2 4 1 4 3 6 26 3 18 9 19 8 21 6 26 4 5 9 7 5 7 21 7 11 8 4 6 2 12-2 14-3 8-3 4-6 3-3 3-6 12-7 20 1 18-11 24-6 6-18 6-4 4-7 34 2 12 2 4 5 4 14 3 4 3 4 8 4 19 17 31 24 26 5 3 22 4 14 6 16 1 8 2 24 24 10 37-2 15 1 26-1 4-6 4-7 10-18 78 2 8 4 10 5 6 14 12 28 20 13 14 13 24 6 18 3 18 4 8 23 16 25 14 6 6 3 8 3 16-3 10zM783 1509l-2-1-2-2-2-8 2-7 4-3 4 4 1 6-1 6zM661 1562l-2 0-2-2-4-10-1-6 1-22 4-12 2-2 2 0 4 6 3 14-1 16-2 12zM941 1553l-2 0-3-3-4-10 1-20 2-8 4-4 2 0 2 2 5 14-1 16-2 8zM895 1661l-6 0-6-6-3-9-3-12 1-12 3-12 4-7 6-4 5 1 5 6 6 18-1 12-3 14-3 6zM791 1832l-8 2-6-6-4-8-5-16-13-26-2-18 15-36 4-22-2-8-7-12-4-4-4-1-14-1-16-5-6-6-6-10-6-6 1-19 2-14 3-4 8-6 24-2 24 0 22 4 26 10 6 4 4 8 9 26 11 54-2 46-5 34-4 14-13 15zM631 1652l9-4 5-8-1-10-9-8-11-4-15 1-12 5-6 6-2 8 3 6 4 4 15 6 12 0zM897 1755l-12 0-14-4-5-5-2-4 1-6 2-4 8-6 12-3 10 1 12 6 4 6-1 8-5 6zM663 1767l-10 0-7-3-1-2 2-2 7 0 8 4zM549 1820l6-3 4-7 1-6 1-14-2-6-4-8-4-4-4-1-4 1-4 4-3 8-2 12 5 18 4 5zM923 1809l-12 0-6-3-4-8 2-6 6-5 6-1 8 0 7 4 3 5 0 5-4 6zM743 1833l-2 0-3-5-1-10 4 2 4 6 0 4zM689 1871l-4 1-4-2-3-4-1-4 1-8 3-4 4-3 6 3 5 8-2 8zM351 1949l-4 0-2-3 1-4 3-2 4 2 1 2zM718 2056l3-4 3-8 2-20-2-14-3-9-4-5-4-1-4 3-3 4-2 8-2 16 2 16 3 8 4 6 4 1zM929 2069l-14-3-8-10-3-22 3-30 2-6 6-3 6 1 7 10 13 26 3 12-3 16-4 4zM869 2076l-12-2-6-2-9-14-4-8-2-16 1-12 4-14 8-7 6 1 14 7 11 11 4 8 4 18-5 18-4 7zM303 2126l-6-1-6-10-4-13-2-14 0-32 8-8 8-4 28-8 48-11 20-2 12 1 10 4 4 3 3 7 2 14-3 13-4 7-22 10-40 8-32 10-6 4zM517 2147l-4 1-7-2-13-10-4-6-8-16 0-14 12-10 6 0 12 2 12 16 2 26-2 6zM849 2176l-10 1-12-5-9-10-4-16 2-14 5-9 10-9 10-2 10 1 8 6 7 9 4 12 0 12-5 11-8 9zM591 2134l-4 1-3-3-1-6 2-2 4-1 5 3 0 4z"/>
<path fill="#50e450" d="M507 1356l-12 2-6-1-4-4-4-9-3-12 1-12 4-10 8-9 8-2 40-1 22 4 4 2 2 4 0 4-2 20-2 6-3 2-37 13zM797 1360l-2-6 2-6 2 6zM889 2309l-4 1-32 0-92-1-4-3-1-14-2-6-3-4-4-2-6 2-10 9-12 5-3-4-14-40-9-19-13-43-18-44-5-18-7-42-5-10-8-7-28-10-6-3-7-8-33-40-8-8-6 0-18 12-6 2-16 0-7-4-14-34-15-44-1-6 4-26 0-20-2-10-5-11-3-13 2-16-1-12 1-14 5-37 6-27 3-4 7-4 18-2 4-3 2-5-1-16-9-32-8-12-3-10-1-12-4-5-8-4-12-4-18 4-18 1-5 2-9 10-22 2-16 5-7 5-6 16-2 16 0 22 2 20 6 26 12 38 12 30 14 22 15 14 2 6-2 4-6 3-10 0-20-6-14 0-20 4-24 15-15 18-9 16-2 2-2-1 0-6 31-127-1-36-16-50-12-24-6-28-7-6-1-4 2-14 7-18 11-24 5-20 0-12-7-38 2-8 4-5 8-2 10 6 26 27 8 6 60 22 24 3 36 1 32-1 26-3 6-2 12-7 5-7 8-46-2-16 3-16 4-5 4 2 2 4 6 29 3 10 9 17 8 21 7 28 11 12 6 9 21 7 9 6 4 6 1 10-3 18-2 3-10 7-5 10-6 24 1 18-4 12-6 12-6 7-20 7-5 6-6 32 1 10 3 6 5 4 14 4 4 2 4 8 5 20 17 32 24 26 4 2 20 4 18 7 16 0 8 3 23 22 10 36-2 16 1 24-2 4-6 6-6 10-18 76 1 10 4 10 7 8 14 12 28 19 12 15 13 22 5 16 4 22 4 6 24 18 24 13 6 6 3 7 2 10-1 8zM941 1543l-2 1-2-6 0-16 2-4 2 1 2 7 0 10zM661 1549l-2 1-2-6 0-18 2-6 2 0 2 8 0 14zM895 1659l-6 0-5-5-3-8-2-12 0-10 2-10 4-8 6-5 4 1 5 6 5 16 0 10-2 13-3 7zM789 1828l-6 0-4-5-6-19-14-28-2-16 11-26 4-18 1-14-3-10-5-10-6-5-20-3-15-6-5-4-5-10-5-6 2-30 2-4 9-6 25-2 22 0 19 4 27 12 4 3 4 6 14 35 9 44-2 46-5 34-6 14-12 12zM630 1654l9-3 6-5 2-4-1-12-9-9-12-5-14 1-12 4-8 7-3 6 0 4 5 10 16 7zM899 1752l-14 2-12-3-5-5-1-4 1-8 7-6 10-3 10 0 8 3 6 5 2 7-2 6zM552 1820l6-6 3-6 0-20-6-14-4-3-4-1-6 2-4 4-2 8-1 12 2 14 5 8 4 3zM921 1805l-8 0-5-3-2-4 1-4 8-4 6 0 4 2 3 2 1 4-3 4zM687 1871l-6-2-3-7 2-10 5-3 4 0 3 3 3 8-3 8zM716 2058l5-4 4-10 2-20-2-14-3-10-5-5-4-1-4 2-4 6-2 8-2 16 2 16 3 8 5 8zM931 2063l-6 1-8-2-6-8-3-28 3-21 4-5 4 1 6 9 11 22 3 10 1 6-3 8zM871 2073l-6 1-13-4-9-13-3-7-2-16 1-10 5-14 7-5 10 3 8 4 10 10 4 8 3 16-2 8-4 12zM301 2121l-4-4-4-9-5-24 1-24 2-4 6-5 34-11 46-12 20-1 10 0 8 3 5 4 3 7 3 11-4 14-5 6-20 9-40 5-32 10-6 4-14 18zM515 2143l-4 0-4-1-11-10-9-16-2-6 0-6 2-4 6-5 6-1 10 3 9 11 3 24-2 6zM849 2175l-10 1-12-6-8-10-4-14 2-12 5-10 9-8 10-3 10 2 7 5 7 9 4 11-1 10-3 11-8 9z"/>
<path fill="#32c03c" d="M499 1356l-7 0-5-3-5-9-2-12 0-10 3-7 10-12 6-2 40 0 10 2 10 5 2 4-2 16-3 6-9 6-24 12zM855 2306l-88-4-3-2-3-10-5-8-7-4-6 1-14 11-6 2-4-1-15-39-9-20-13-44-18-42-5-18-5-34-6-18-9-7-30-11-6-4-40-48-8-8-4 0-4 1-14 9-8 4-16 1-6-5-14-33-15-43 0-6 3-26 1-22-1-8-6-9-4-15 2-16-1-12 1-12 8-38 7-22 2-4 5-3 18-2 4-5 2-8-2-20-8-30-10-16-3-20-5-5-8-4-12-3-18 4-20 0-16 11-18 1-18 8-8 8-9 16-3 10 0 28 3 22 10 40 15 42 15 28 6 8 10 10 0 2-7 1-12-4-8-1-14 0-18 3-20 10-14 11-3 0 0-6 6-28 14-56 1-32-1-12-15-48-12-15-7-15-2-8 0-18-6-10 2-8 5-16 13-26 5-22 0-12-7-36 1-6 2-3 4 0 6 4 30 30 24 4 42 16 26 3 66 2 32-5 16-10 4-7 8-34 4-11 2-3 2 0 6 7 11 17 9 25 7 27 9 14 4 10 6 5 18 6 6 3 3 4 1 8-2 14-10 7-2-3-2-10-3-4-7-7-12-4-16 1-10 3-10 7-4 6-1 6 4 8 3 4 8 4 8 2 14 1 14-2 8-3 1 2-2 32 2 14-3 11-10 19-8 4-14 4-7 6-3 6-5 26 2 14 9 9 16 4 3 3 4 8 5 18 17 32 25 28 4 2 38 10 22 2 8 6 16 18 9 36-1 14-1 24-13 20-17 76 0 8 5 12 6 9 20 16 23 15 12 14 13 23 5 15 4 22 3 6 24 18 26 15 6 7 3 12-2 8-3 5-4 1-16-1zM895 1657l-6 0-4-4-3-7-2-12 0-10 3-10 4-7 4-3 4 1 4 4 5 15-2 22-3 7zM791 1820l-4 0-2-2-6-16-13-24-2-14 10-40 2-18-2-10-6-14-7-6-6-2-14-1-11-3-7-4-4-5-8-15 0-18 2-11 8-6 26-3 18 0 23 6 27 16 12 20 7 16 11 44-3 46-4 32-8 14-7 7-6 4zM889 1752l-12-2-6-4-2-4 0-4 4-6 8-4 10-1 8 2 8 5 2 6-3 6-7 4zM554 1820l6-6 2-6 1-20-8-15-4-3-6-1-6 3-3 4-3 14 0 8 2 12 4 8 6 4zM689 1869l-6 0-3-3-1-4 1-8 5-5 6 3 3 6-1 6zM719 2058l4-6 3-8 2-20-2-16-3-8-4-5-6-2-5 3-4 6-2 8-2 18 2 16 4 8 5 7 4 1zM869 2071l-10-1-6-2-8-11-3-7-2-16 1-8 6-12 4-4 8 1 10 4 8 8 4 7 3 14-1 8-6 14zM927 2056l-6 0-4-6-2-22 2-8 2-3 2 1 6 11 5 15-1 8zM305 2106l-4 1-2-3-4-20 0-20 2-4 4-4 40-11 20-9 16-4 26-1 8 2 7 5 4 10 0 8-2 10-7 6-20 7-16 2-26 0-16 4-16 6zM511 2134l-10-6-4-6-5-12 0-4 3-4 4 0 6 1 7 9 2 18-1 3zM849 2173l-8 1-10-3-8-7-4-10-2-12 3-12 9-10 8-4 8 0 10 4 7 8 4 10 1 10-3 10-7 10z"/>
<path fill="#1ea22a" d="M501 1354l-8 1-4-2-5-9-3-10 3-16 3-5 6-6 4-3 4 0 36 0 8 1 7 5 3 4-1 10-2 4-5 6-24 16zM855 2302l-80-8-6-3-11-13-7-3-8 2-14 12-8 0-3-5-11-32-10-22-13-44-18-42-5-16-4-34-6-18-10-8-36-14-7-8-33-40-10-10-8 1-22 12-14 2-6-3-6-18-8-14-15-44-1-6 4-26 1-28-8-12-3-14 2-16 0-18 10-44 12-19 20-6 3-5 2-8 0-10-12-46-8-12-2-8-1-16-4-4-8-5-12-4-6-1-16 4-22 1-16 7-20 3-19 11-17 18-9 26-3 21-9-17-13-9-6-6-5-9-3-10 8-50 3-10 6-10 4-18 6-16-1-24 4 1 12 10 34 1 28 11 18 5 58 4 32 0 30-5 16-9 5-8 11-38 4-3 2 1 8 7 4 7 10 26 7 28 7 14 4 20-1 2-19 5-14 7-4 4-3 6-1 8 6 10 10 6 8 2 25 0 5 2 3 10 2 30-3 12-9 16-5 4-18 5-5 3-5 6-7 30 2 14 2 4 8 6 17 4 4 3 4 7 5 18 17 33 26 28 24 10 40 5 22 22 10 36-3 36-12 22-18 76 0 8 5 13 7 9 19 16 24 16 12 14 13 22 4 14 4 22 3 6 20 16 31 18 5 6 3 10-1 5-4 5-4 1-14 0zM895 1655l-4 1-5-4-2-6-2-12 0-10 2-8 3-6 4-2 4 1 3 3 4 12-1 20-2 6zM819 1807l-8 1-18-1-12-17-8-16-3-12 8-44 0-12-2-10-6-14-5-6-8-3-14-1-8-2-8-3-6-6-7-17-1-22 2-5 4-3 6-1 28-3 14 1 11 3 11 6 22 15 15 21 9 24 7 24 1 24-2 28-5 30-9 15zM651 1625l-4-4-2-4 2 0 4 1 2 4 0 2zM897 1749l-10 1-10-2-5-6 1-6 4-4 6-2 8 0 8 1 6 5 1 4-3 5zM551 1822l7-4 4-6 2-8 0-16-9-16-6-4-4 0-6 3-4 5-3 14 0 8 2 12 4 8 6 4zM341 1857l-3-1 0-6 14-54 3-26 19 50 12 26-3 2-28 3zM689 1868l-6 0-4-6 2-8 4-4 5 2 3 6 0 6zM717 2060l6-6 4-10 2-20-2-16-3-8-5-6-6-2-6 4-4 6-2 8-2 18 3 16 2 8 7 8zM871 2067l-8 1-8-2-8-10-3-6-1-14 1-8 5-10 4-3 8 0 8 4 6 5 3 6 3 10 0 10-5 12zM313 2081l-4 1-1-2-1-10 2-3 30-10 14-12 16-8 12-2 16-1 8 2 9 4 5 10 0 8-3 8-5 4-10 5-16 3-16 0-28-6zM849 2171l-10 1-8-3-7-7-4-10 0-12 3-10 8-9 8-3 8 1 7 3 7 8 3 8 1 8-2 10-6 10z"/>
<path fill="#0c921e" d="M503 1352l-11 0-3-3-4-8-2-7 0-6 2-8 4-6 8-6 4-1 36 0 8 3 3 4 0 6-2 6-6 8-18 14zM861 2297l-10 1-72-10-21-14-5-2-12 4-12 10-6 0-3-4-10-30-10-22-12-44-18-40-6-16-4-36-6-20-11-7-37-15-46-54-5-4-10 1-20 12-14 1-5-2-5-16-9-16-15-42 0-6 4-26 2-30-9-10-3-14 2-32 11-42 14-18 21-5 3-11 0-14-14-50-3-6-5-6-3-8 0-16-3-4-7-5-20-6-18 3-22 1-20 5-16 1-30 24-12 5-3 14-7 11-6 1-10-4-5-4-5-6-2-6 0-6 4-11 9-11-3-20 2-10 8-12 4-22 12-16 12-5 22-5 30 11 20 6 68 4 24 0 26-6 18-10 5-9 11-32 4-2 4 1 3 3 11 30 12 38 1 18-2 6-1 2-16 7-10 7-5 8 0 8 4 10 7 5 12 4 20 2 6 3 6 10 4 26-4 12-8 15-5 3-20 6-7 4-4 6-7 30 3 18 3 4 9 4 18 4 4 3 3 5 5 18 18 34 26 29 20 12 14-1 28 3 5 3 17 18 10 35-3 35-11 20-1 6-18 76 1 10 4 10 8 11 20 17 22 12 12 14 13 22 5 14 4 24 4 6 14 12 36 22 4 4 3 8-3 6-8 2zM895 1652l-2 2-4-2-3-4-1-6 0-22 2-6 4-3 4 1 2 2 3 10-1 20zM821 1801l-8 1-14-3-8-5-4-6-8-16-3-10 6-48-1-8-3-12-6-14-5-5-10-4-20-2-8-3-6-5-7-15-1-24 4-5 6-1 28-3 12 1 9 2 11 6 22 17 16 20 10 23 8 22 0 22-2 30-4 26-2 5zM897 1746l-8 2-10-2-4-4 1-4 3-4 4-1 8-1 6 1 4 3 2 4-3 4zM553 1822l8-6 3-6 1-22-1-4-9-13-6-3-6 0-7 4-4 8-1 14 2 14 3 8 5 6 6 1zM687 1868l-4 0-3-6 1-7 4-4 4 1 4 8-2 6zM720 2060l4-6 4-10 2-22-2-14-4-10-5-6-6-1-6 3-4 6-3 10-2 18 3 16 5 12 3 4 4 2 4 0zM867 2065l-8-1-4-2-7-8-2-6 0-10 1-8 4-7 4-3 8 0 8 4 4 5 3 7 1 10-2 6-4 9zM391 2074l-20 0-10-3-10-7-1-4 1-4 4-6 5-4 15-6 22-1 10 2 4 4 4 6 1 5-1 6-3 4-5 3zM849 2168l-8 1-8-2-6-5-5-10 0-12 3-8 6-7 8-4 6 0 7 3 7 7 3 7 0 10-1 8-6 8zM720 2216l3-4-2-5-6-2-4 3-2 4 2 4 4 2z"/>
<path fill="#008618" d="M501 1350l-8 0-4-6-3-8 1-13 4-6 10-7 32 0 7 2 2 4-2 8-4 8-10 10-7 5zM857 2292l-16 0-58-11-30-13-12 5-12 11-4 0-2-4-10-30-10-21-12-45-18-38-6-16-4-38-7-20-10-6-39-15-50-58-6-2-7 1-15 10-6 2-12 2-3-2-5-16-9-14-15-42 0-8 7-56-10-8-3-8-1-6 2-30 14-42 13-13 22-5 4-4 1-4-2-20-7-20-9-34-3-6-6-8-2-6 0-18-6-5-8-5-14-5-6 0-16 4-22 0-40 3-3 2-6 10-17 12-6 1-16-4-3-3-3-8-4-18 1-6 1-4 7-8 3-22 8-10 11-8 17-8 6-1 26 10 20 6 34 1 36 5 24-1 24-5 22-13 7-12 9-25 2-2 4 1 16 43 6 25-6 22-18 14-5 6-3 8 1 8 4 8 5 5 12 5 19 2 11 9 3 5 5 22-3 10-9 17-28 9-10 8-8 32 3 18 5 7 12 4 18 3 4 3 7 21 18 34 25 30 12 10 8 6 16-3 28 2 21 21 9 32-2 22-2 16-9 18-8 28-12 54 2 12 4 10 9 12 19 16 21 11 12 14 10 15 4 8 4 12 4 24 3 6 15 13 36 22 6 7 0 4-2 2-18 0zM893 1651l-4-2-2-9 0-18 2-5 2-2 4 2 2 7 0 20zM817 1796l-14-4-8-4-5-8-7-16 0-6 2-48-4-15-7-17-4-4-7-3-8-2-16-1-8-3-6-4-3-5-3-10 0-8-2-14 3-4 33-4 10 0 8 2 9 6 7 8 20 16 14 14 12 24 6 18 1 24-2 12-1 18-4 24-12 13zM335 1679l-4 1-8-1-4-3-4-6-1-4 2-6 3-5 4-3 10-1 4 2 2 3 2 12-2 7zM893 1745l-11-1-3-4 4-4 12 0 4 4-2 3zM555 1822l8-6 3-8 1-14-1-8-8-12-5-5-6-3-6 1-6 3-4 8-1 16 3 16 3 8 5 5 6 1zM689 1867l-6 0-2-4 0-7 4-4 4 1 3 5 0 4zM720 2062l4-6 5-12 2-22-3-14-3-10-6-7-6-2-6 4-5 7-3 10-2 18 3 16 5 13 6 6 6 1zM869 2060l-6 2-6-1-8-11-1-8 2-10 3-5 4-3 6 0 6 2 3 4 3 6 1 12-3 8zM395 2070l-12 2-14-3-6-3-4-4 0-6 6-7 12-5 16-1 10 3 8 6 1 8-5 6zM847 2166l-8 1-6-3-4-4-4-8-1-10 3-8 6-7 6-3 6 0 6 3 6 6 3 7 0 10-2 6-5 7zM719 2220l6-6 0-6-6-5-6 0-6 5 0 6 4 5 4 2z"/>
<path fill="#fff6ba" d="M507 1346l-10 1-4-3-5-12 2-8 2-4 10-6 27 0 6 2 0 4-3 8-9 12-4 4zM857 2288l-14 0-44-9-26-7-18-7-4 0-6 2-14 11-4 1-11-31-8-16-2-8 1-1 10 1 6-2 5-6 0-8-4-6-7-3-6 2-8 5-2-2-7-22-18-36-7-18-4-36-7-22-7-4-38-14-6-3-45-55-5-4-6-1-8 1-14 10-6 2-10 1-4-2-4-13-6-8-4-7-14-41-1-6 4-36 5-22-2-4-10-6-3-12 3-30 14-39 14-12 22-4 4-3 2-4-4-26-8-20-11-38-7-10-2-6 0-18-2-4-14-9-14-4-6 0-16 4-65 1-3 2-6 12-14 10-4 0-10-4-4-3-2-5-4-20 8-6 1-22 1-5 19-19 13-8 4-1 26 10 20 6 34 1 34 6 26-1 22-4 26-14 7-11 9-23 2-1 15 38 4 22-7 20-19 24-7 16 0 4 6 12 5 4 11 3 22 1 12 7 3 5 5 20-4 12-8 14-28 8-11 8-9 36 3 18 4 6 3 3 30 5 4 2 3 4 6 18 17 33 28 35 14 13 6 2 16-5 24 2 4 2 17 16 7 22 2 16-4 30-9 20-18 74-2 10 2 12 5 11 10 12 18 15 22 11 10 13 14 22 4 12 5 26 3 5 15 13 35 22 3 4 1 2-2 2-14-1zM821 1790l-6 1-14-6-4-3-3-6-7-18 0-50-4-14-8-18-4-4-6-3-8-2-18-1-8-3-4-3-6-12 1-10-2-12 3-4 32-3 8 0 8 2 8 7 4 7 22 17 13 12 14 26 6 20 0 20-5 46-4 8zM893 1644l-2 0 0-2 0-20 2 0 1 2zM327 1674l-5-2-3-6 3-6 5-2 6 3 2 5-2 6zM552 1824l8-4 6-6 2-8 2-16-3-6-12-15-8-4-10 0-5 5-3 8 1 18 2 14 3 8 4 4 6 3zM687 1867l-4-2-1-3 0-6 3-3 4 1 2 4 0 4zM722 2064l8-20 2-22-2-14-5-12-6-7-6-1-6 3-5 7-3 10-3 20 3 18 6 12 6 6 8 2zM867 2059l-6 1-4-2-4-4-2-6-1-6 3-8 2-3 4-3 6 1 3 1 5 10 0 10-3 6zM395 2067l-10 1-12-3-6-3-2-4 1-2 5-4 10-4 12 0 7 2 7 5 0 5-4 4zM847 2163l-6 0-4-1-6-5-3-7 0-8 1-6 5-6 7-3 4 1 5 2 3 4 3 6-1 14-4 6z"/>
<path fill="#ffe282" d="M509 1338l-6 1-4-1-2-6 2-6 8-4 12 1 3 1 0 4-5 7-4 3zM573 1785l-8-5-12-13-12-4-3-3-7-34-9-20-11-38-6-8-2-6-1-8 1-10-2-5-12-10-18-4-8 0-14 4-66 0-6 3-8 12-8 3-4 0-7-5-2-10 4-12-1-24 3-6 7-8 8-7 14-8 44 14 34 1 34 9 24-2 28-5 26-9 6-5 6-10 2-2 2 0 7 16 3 18-6 18-13 22-9 18 0 6 8 15 4 4 12 3 24 2 12 6 3 8 3 14-2 9-9 15-27 7-9 5-4 4-11 42zM821 1786l-6 1-12-5-4-3-3-5-6-18-1-48-5-16-7-18-4-4-6-3-10-2-16 0-12-5-4-5-2-7 1-20 1-2 28-5 10 0 6 2 7 5 5 9 32 25 4 4 14 26 5 18 0 20-4 44-3 7zM853 2286l-32-5-20-5-26-8-22-10-8 0-10 6-4 0-11-28 1-3 8-5 4-7 1-7-1-8-4-7-4-3-8-3-8 0-4-2-24-43-9-22-4-36-8-22-51-20-46-55-6-5-15 0-19 12-8 0-4-2-4-12-6-6-4-8-14-40-1-6 4-36 6-24-3-4-10-5-3-11 2-28 3-8 12-31 12-10 14-3 8 2 0 10 5 34 4 8 7 5 10 0 12-6 4-5 5-12 3-2 10 8 36 7 26 53 12 15 14 20 14 15 8 4 18-3 20 1 20 15 6 13 4 20-4 30-9 20-10 44-6 16-4 26 2 12 5 12 9 12 19 15 22 11 10 12 14 22 4 12 5 26 3 6 16 14 22 14 6 6 0 2zM687 1865l-2 0-2-3 0-5 2-3 2 0 2 2 1 4-1 4zM723 2068l2-2 1-8 6-14 1-22-3-16-3-10-6-7-8-3-6 3-6 9-4 10-2 20 3 18 6 14 7 6zM863 2058l-6-2-3-4-2-6 3-10 6-4 6 2 3 4 2 6-3 10zM843 2155l-5-3-3-6 2-6 4-4 5 2 3 6-1 6z"/>
<path fill="#ffbc40" d="M571 1777l-2 1-4-1-10-10-11-5-4-4-6-30-11-25-9-35-9-14 0-22-12-17-4-2-18 1-24 5-56 0-12-1-6 2-10 4-2-2-4-32 2-6 5-8 14-10 7-3 42 13 35 2 33 13 36-8 18-1 30-4 6 2 1 6 0 10-17 44-1 6 1 4 8 15 4 4 14 4 24 2 10 5 4 8 2 12-2 8-8 14-28 7-13 7-4 8-6 26zM823 1782l-8 2-10-4-4-3-3-5-5-16-2-50-13-34-5-6-4-3-28 0-11-5-4-6-1-6 2-14 3-4 23-5 10 0 6 2 5 5 5 8 32 25 4 5 14 24 5 16 0 22-4 44-3 6zM857 2283l-4 1-10-1-24-4-16-6-26-11-18-12-18-8-1-4 2-18-2-12-3-8-3-6-5-4-16-7-4-3-14-17-12-20-8-18-5-37-9-22-51-20-45-54-6-5-6-2-12 1-18 12-6-1-4-2-3-9-7-7-4-7-14-40-1-6 4-36 6-26-3-4-10-4-3-10 2-26 2-8 13-31 10-8 4-2 8-1 4 0 2 2 4 16 4 26 3 6 7 5 10 1 16-5 8-9 4-2 20 6 20 2 4 2 16 29 8 19 12 14 14 23 16 20 10 5 18-2 16 1 16 8 8 9 3 6 2 10-2 22-3 16-15 46-3 16-4 8-4 4-2 30 3 14 8 16 7 9 18 14 20 9 7 6 19 28 4 12 6 30 18 17 22 15 1 4zM687 1863l-2 0 0-3 0-3 2 0 1 3zM728 2072l1-2-1-12 6-14-1-8 1-12-2-16-4-12-5-8-4-3-6-1-4 1-4 3-7 12-4 24 2 18 4 14 7 10 14 6zM863 2057l-6-3-3-8 2-8 5-3 6 2 3 7-2 8z"/>
<path fill="#ffa000" d="M451 1617l-60 0-10-2-10-5-4-4-4-14 1-8 4-6 7-5 8-5 6 0 36 10 36 4 22 12 4 4 0 4-6 6zM567 1775l-4-1-20-17-7-31-11-24-10-36-6-8-2-6 1-20-9-30 3-4 5-3 22-8 40 3 5 2 1 4 0 8-6 20-4 20 2 6 8 16 4 4 6 2 40 8 4 4 4 14-1 8-9 15-30 7-8 3-3 3-5 10-6 24zM821 1780l-6 0-10-3-5-7-4-14-2-16 0-34-15-38-8-10-28 3-6-1-6-4-2-4-2-6 3-10 3-5 7-3 13-2 10 0 6 2 4 4 4 8 34 26 14 22 7 18 0 22-5 46-2 5zM855 2281l-10 0-24-4-18-8-26-14-21-21-10-30-7-14-8-7-16-9-14-13-17-25-6-14-6-36-10-22-45-16-6-4-45-54-7-6-6-1-12 1-16 10-4 1-4-1-5-10-9-8-12-30-5-18 4-38 3-12 4-10 0-6-3-4-11-3-2-3-1-6 3-30 13-30 5-6 10-6 4-1 4 1 6 14 4 22 3 10 3 3 6 3 8 1 20-3 12-9 6 1 10 5 22 2 4 1 14 24 10 22 11 14 27 45 6 7 4 2 4 1 18-2 12 0 16 6 11 7 2 10-3 32-13 48-3 3-2-1-2-4 1-14-2-16-6-16-7-9-4-2-6 0-6 4-5 7-6 16-2 18 4 26 4 8 5 7 14 7 6 6 2 26 2 10 11 24 13 12 14 8 17 8 5 4 21 30 3 10 5 28 2 4 17 17 19 13 1 4zM863 2055l-4-2-3-7 2-6 3-3 4 1 3 6-1 6zM733 2065l-3-3 0-4 3-6 4-2 2 4-1 4-3 6z"/>
<path fill="#ff7000" d="M449 1614l-56 0-8-1-4-3-8-10-4-10 0-6 3-4 9-6 8-2 34 9 14 1 22 3 8 5 9 8 1 4-2 3zM565 1771l-4-1-12-10-4-4-7-30-11-24-9-36-9-14 1-18-2-30 5-5 16-8 6 1 28 7 4 3 0 6-3 14-1 24 12 24 12 5 20 5 16 2 4 4 4 12-2 8-8 13-30 7-11 4-6 12-5 20zM823 1776l-6 1-10-2-4-5-7-30 0-34-13-36-8-19-2-2-6 4-16 5-8 0-6-1-6-5-1-6 3-9 4-4 16-5 9 0 5 2 5 6 3 10 6 0 28 22 14 22 6 16 1 20-3 32-2 15zM849 2278l-30-4-21-12-19-14-15-22-21-43-8-6-16-10-15-11-16-22-6-12-6-36-12-24-51-19-44-53-8-8-6-1-14 0-6 3-10 7-4 2-3-3-4-8-9-7-12-31-5-16 5-38 2-12 5-10 0-8-3-4-12-3-2-7 3-30 11-26 4-6 10-7 4 0 3 1 7 16 5 28 5 4 10 2 24-1 4-1 6-5 4-1 10 6 30 2 4 5 8 13 10 24 12 16 16 28 14 30 6 3 36-1 20 4 6 4 0 6-3 30-7 30-4 10-7-30-4-10-5-7-8-4-8 0-6 4-5 7-4 12-4 24 4 26 3 8 6 9 14 7 3 6 6 36 11 24 4 5 11 7 31 16 5 4 16 22 4 8 3 8 6 32 18 19 16 11 1 2z"/>
<path fill="#ff3400" d="M451 1611l-64-1-6-8-6-16 4-4 10-6 34 9 14 1 20 3 7 5 5 7-3 3zM561 1766l-8-6-5-6-6-28-13-26-9-36-9-12 1-32 2-14 4-4 11-6 4 0 10 3 18 9-1 38 14 26 7 3 26 8 16 2 2 3 3 10-1 7-5 9-3 3-14 4-24 4-4 3-8 14-5 22zM751 1655l-10 0-5-3-2-6 2-6 4-4 9-4 10-1 6 2 4 5-2 8-5 4zM821 1773l-4 0-8-1-2-2-3-4-5-26-1-36-15-50 4 1 20 15 14 20 5 12 2 6 0 22-3 26zM837 2272l-18-2-32-20-4-4-10-19-14-21-12-27-16-13-26-17-17-25-9-40-13-24-47-16-6-3-43-53-9-8-6-1-16 1-16 9-2-1-5-8-9-6-12-30-5-16 5-38 2-12 5-10 1-12-4-4-11-2-2-6 3-27 12-27 4-4 8-4 4 2 6 14 4 26 4 5 14 2 22 0 8 0 8-4 6 5 32 1 4 1 10 17 7 21 11 14 16 29 13 37 7 2 52 0 9 2 0 18-7 37-2 1-1-6-8-20-9-9-8-2-8 1-6 4-5 8-5 12-4 26 4 28 3 8 5 8 4 4 9 4 2 2 4 12 5 28 11 24 3 4 8 5 36 18 6 5 16 22 4 8 8 40 23 24 1 2z"/>
<path fill="#e21600" d="M401 1596l-4 0 0-2zM559 1737l-4-1-9-16-11-16-9-26-4-16-6-6-3-6 2-30 5-12 11-7 12 2 12 9 3 36 15 26 12 5 34 9 4 4 1 6-1 7-6 9-12 5-29 3zM815 1765l-4-1-2-2-8-22 0-34-4-26 2-5 6 2 14 14 6 15 1 24-3 18-2 8zM683 2066l-4-1-12-9-14-2-38-14-44-54-9-8-5-1-16 0-16 6-17-11-11-28-5-16 7-48 7-12 4-16-1-6-7-8-1-4 1-12 5-10 2-1 2 3 4 18 8 6 64 5 30 2 6 0 4 3 8 24 13 20 14 28 11 36 4 5 13 5 3 3-6 21-4 34 1 36zM707 2125l-4-4-3-7-4-22 1-4 4 1 2 4 5 27zM813 2257l-10-2-16-9-12-22-14-21-11-25-13-16-1-4 1-1 18 4 24 11 6 5 16 22 4 7 6 28 0 10 3 10z"/>
<path fill="#cc0000" d="M565 1718l-4 1-4-1-17-18-11-22-4-16-8-10-1-6 2-24 7-10 8-4 6-1 4 2 7 7 5 14 1 18 15 27 6 4 22 6 16 7 4 6 0 4-3 6-11 9-30-1zM815 1752l-2 0-4-2-5-12-1-18 1-26 1-4 4-1 8 3 4 8 2 8 0 24-4 16zM661 2053l-8-1-36-14-43-52-11-10-22-1-16 2-12-4-3-3-14-36-1-10 4-34 3-12 8-8 13-16 6-2 16 1 62 5 6 1 3 3 22 34 15 30 12 35 11 17 4 32-5 30-4 7zM803 2247l-10 0-4-3-12-22-15-22-9-22-6-10 1-4 7 0 26 12 18 24 5 12 5 24-2 7z"/>
<path fill="#a80000" d="M601 1714l-38-4-8-5-12-9-11-20-4-16-7-6-2-4 1-24 2-4 7-6 6-3 4 0 6 5 7 14 1 16 17 30 3 2 26 8 15 10 0 4-2 4-7 7zM815 1745l-4 0-3-5-2-20 2-22 3-4 2 0 5 4 3 12-1 22-3 10zM661 2049l-4 1-4-1-36-14-52-62-6-1-34 1-12-3-3-6-12-36 4-38 3-12 20-11 18-1 62 6 16 14 7 12 15 32 23 54 7 22 1 6-6 22zM795 2244l-4-1-2-3-10-20-14-20-12-32 5 0 22 10 19 26 3 10 4 22-3 5z"/>
<path fill="#800000" d="M601 1710l-35-6-19-11-11-19-6-18-7-7 0-19 2-5 10-6 4 0 2 1 8 14-1 12 1 4 18 30 4 3 26 7 12 10-2 5zM815 1736l-2 2-2-6 0-26 2-4 2 1 2 6 0 21zM657 2046l-14-4-24-9-52-63-6-1-40 0-6-2-14-39 4-37 4-11 16-7 16 0 62 7 14 10 6 12 46 106-4 18-6 18zM799 2239l-4 1-3-2-11-20-12-18-8-18-1-6 1-2 8 2 8 4 18 24 4 10 2 14 0 8z"/>
<path fill="#4e0000" d="M597 1703l-28-5-18-11-10-16-4-17-8-10 0-10 2-5 6-2 4 5 2 4-1 14 21 35 6 4 26 8 4 3 0 2zM653 2037l-8-1-22-8-49-60-5-4-6-1-38 0-6-2-12-33 4-36 4-8 8-3 8-1 48 4 22 3 10 7 5 10 45 104 1 4-3 11zM791 2220l-18-25-2-7 2-1 6 5 10 14 3 8z"/>
</g></g>
<line x1="91.4" y1="314.8" x2="91.4" y2="579.6" class="grid"/>
<line x1="147.8" y1="314.8" x2="147.8" y2="579.6" class="grid"/>
<line x1="204.2" y1="314.8" x2="204.2" y2="579.6" class="grid"/>
<line x1="63.0" y1="370.2" x2="247.0" y2="370.2" class="grid"/>
<line x1="63.0" y1="457.8" x2="247.0" y2="457.8" class="grid"/>
<line x1="63.0" y1="545.4" x2="247.0" y2="545.4" class="grid"/>
<g class="ml"><polyline points="90.5,314.8 90.6,359.4"/><polyline points="90.6,325.6 247.0,325.6"/><polyline points="231.6,325.6 231.6,575.6"/><polyline points="231.6,314.8 231.6,325.6"/><polyline points="173.2,575.5 247.0,575.5"/><polyline points="69.5,523.5 173.2,575.5"/><polyline points="90.6,359.4 92.3,362.3 93.5,364.8 95.2,366.1 96.8,366.9 98.5,369.8 99.7,373.1 101.0,375.6 101.4,376.8"/><polyline points="90.6,359.4 89.4,361.5 88.1,364.8 86.9,368.5 85.2,369.4 84.0,368.5 82.7,366.5 81.9,364.4 80.7,362.7 78.6,362.5 77.3,363.0 75.3,363.0 72.8,363.3 70.3,364.0 67.0,364.8 68.5,366.8 69.9,369.0 70.3,364.0"/><polyline points="80.7,362.7 79.8,358.2 80.7,354.0 81.1,349.9 81.5,345.7 81.5,344.5"/><polyline points="81.7,362.3 81.2,357.8 81.6,353.3 80.6,348.3 80.2,347.3"/><polyline points="69.9,369.0 71.1,371.4 71.5,374.8 72.3,379.0 72.3,388.9 72.9,396.9 73.5,404.8 72.9,411.8 73.9,420.8 74.1,420.3 76.6,425.3 79.9,433.6 83.2,438.5 87.4,443.5 86.5,445.2 83.2,450.2 79.9,455.1 77.4,460.1 76.6,465.1 75.8,471.7 73.3,480.0 70.8,485.0 71.6,490.0 72.4,496.6 73.3,500.3 76.6,501.6 77.9,504.3 77.9,508.3 76.6,510.3 73.3,510.9 71.3,512.2 69.9,514.9 69.3,518.9 69.5,523.5"/><polyline points="63.0,402.9 72.9,411.8"/><polyline points="63.0,515.6 69.9,515.2"/><polyline points="63.0,550.7 65.3,551.4 67.3,553.3 68.6,556.0 69.9,558.7 73.3,560.0 77.2,562.6 81.2,565.3 85.2,567.3 88.5,568.6 91.2,567.3 91.8,564.0 92.5,562.0 93.8,564.0 96.5,565.3 99.8,566.6 101.8,569.3 102.4,574.6 103.8,576.6 107.7,577.9 113.0,579.1"/><polyline points="68.0,556.0 66.6,564.0 66.0,571.9 66.0,579.6"/><polyline points="160.4,323.8 162.9,323.2 165.4,322.6 167.9,320.1 169.7,318.9 171.6,320.1 173.4,321.3 175.3,320.7 177.8,320.1 179.0,317.6 180.2,316.4 182.7,316.7 185.2,317.0 184.6,318.3 182.1,318.3 179.6,318.3 178.4,318.9"/><polyline points="162.3,327.5 164.1,328.5 166.0,327.5 167.9,325.7 171.0,325.4 171.6,323.2 170.3,321.3"/></g>
<rect x="63.0" y="314.8" width="184.0" height="264.8" class="frame"/>
<line x1="58.8" y1="370.20" x2="63.0" y2="370.20" class="tick"/>
<line x1="58.8" y1="457.80" x2="63.0" y2="457.80" class="tick"/>
<line x1="58.8" y1="545.40" x2="63.0" y2="545.40" class="tick"/>
<line x1="91.40" y1="579.6" x2="91.40" y2="584.8" class="tick"/>
<line x1="147.80" y1="579.6" x2="147.80" y2="584.8" class="tick"/>
<line x1="204.20" y1="579.6" x2="204.20" y2="584.8" class="tick"/>
<g transform="translate(33.12 365.98) scale(0.8800 1.0150)" fill="none" stroke="#1e1e1e" stroke-width="1.15" stroke-linecap="round" stroke-linejoin="round" class="st"><path transform="translate(0.00 0)" d="M0.3 0.15H4.5L2.0 4.1Q4.8 4.1 4.8 7.0Q4.8 10 2.4 10Q0.7 10 0 8.7"/><path transform="translate(7.70 0)" d="M4.1 1.0Q3.5 0 2.4 0Q0.4 0 0.4 5.4Q0.4 10 2.45 10Q4.5 10 4.5 6.9Q4.5 4 2.45 4Q0.7 4 0.4 6.2"/><path transform="translate(15.40 0)" d="M0.1 10V0L4.6 10V0"/></g>
<g transform="translate(33.12 453.57) scale(0.8800 1.0150)" fill="none" stroke="#1e1e1e" stroke-width="1.15" stroke-linecap="round" stroke-linejoin="round" class="st"><path transform="translate(0.00 0)" d="M0.3 0.15H4.5L2.0 4.1Q4.8 4.1 4.8 7.0Q4.8 10 2.4 10Q0.7 10 0 8.7"/><path transform="translate(7.70 0)" d="M3.8 10V0L0 7.3H5"/><path transform="translate(15.40 0)" d="M0.1 10V0L4.6 10V0"/></g>
<g transform="translate(33.12 541.18) scale(0.8800 1.0150)" fill="none" stroke="#1e1e1e" stroke-width="1.15" stroke-linecap="round" stroke-linejoin="round" class="st"><path transform="translate(0.00 0)" d="M0.3 0.15H4.5L2.0 4.1Q4.8 4.1 4.8 7.0Q4.8 10 2.4 10Q0.7 10 0 8.7"/><path transform="translate(7.70 0)" d="M0.2 2.5Q0.5 0 2.4 0Q4.6 0 4.6 2.6Q4.6 4.6 0.1 10H4.8"/><path transform="translate(15.40 0)" d="M0.1 10V0L4.6 10V0"/></g>
<g transform="translate(79.77 591.58) scale(0.8700 0.8750)" fill="none" stroke="#1e1e1e" stroke-width="1.15" stroke-linecap="round" stroke-linejoin="round" class="st"><path transform="translate(0.00 0)" d="M0.5 1.7L2.4 0V10"/><path transform="translate(7.00 0)" d="M0.5 1.7L2.4 0V10"/><path transform="translate(14.00 0)" d="M3.8 10V0L0 7.3H5"/><path transform="translate(21.00 0)" d="M0 0L1.9 10L4.0 1.6L6.1 10L8.0 0"/></g>
<g transform="translate(136.17 591.58) scale(0.8700 0.8750)" fill="none" stroke="#1e1e1e" stroke-width="1.15" stroke-linecap="round" stroke-linejoin="round" class="st"><path transform="translate(0.00 0)" d="M0.5 1.7L2.4 0V10"/><path transform="translate(7.00 0)" d="M0.5 1.7L2.4 0V10"/><path transform="translate(14.00 0)" d="M0.2 2.5Q0.5 0 2.4 0Q4.6 0 4.6 2.6Q4.6 4.6 0.1 10H4.8"/><path transform="translate(21.00 0)" d="M0 0L1.9 10L4.0 1.6L6.1 10L8.0 0"/></g>
<g transform="translate(192.57 591.58) scale(0.8700 0.8750)" fill="none" stroke="#1e1e1e" stroke-width="1.15" stroke-linecap="round" stroke-linejoin="round" class="st"><path transform="translate(0.00 0)" d="M0.5 1.7L2.4 0V10"/><path transform="translate(7.00 0)" d="M0.5 1.7L2.4 0V10"/><path transform="translate(14.00 0)" d="M2.4 0Q0.1 0 0.1 5Q0.1 10 2.4 10Q4.7 10 4.7 5Q4.7 0 2.4 0Z"/><path transform="translate(21.00 0)" d="M0 0L1.9 10L4.0 1.6L6.1 10L8.0 0"/></g>
<g fill="none" stroke="#5a5a5a" stroke-width="0.9"><path d="M10.70 455.20A4.25 5.70 0 1 0 10.70 461.40"/></g>
<rect x="293.5" y="314.50" width="17.9" height="265.10" fill="#4e0000"/>
<rect x="293.5" y="323.05" width="17.9" height="256.55" fill="#800000"/>
<rect x="293.5" y="331.60" width="17.9" height="248.00" fill="#a80000"/>
<rect x="293.5" y="340.15" width="17.9" height="239.45" fill="#cc0000"/>
<rect x="293.5" y="348.71" width="17.9" height="230.89" fill="#e21600"/>
<rect x="293.5" y="357.26" width="17.9" height="222.34" fill="#ff3400"/>
<rect x="293.5" y="365.81" width="17.9" height="213.79" fill="#ff7000"/>
<rect x="293.5" y="374.36" width="17.9" height="205.24" fill="#ffa000"/>
<rect x="293.5" y="382.91" width="17.9" height="196.69" fill="#ffbc40"/>
<rect x="293.5" y="391.46" width="17.9" height="188.14" fill="#ffe282"/>
<rect x="293.5" y="400.02" width="17.9" height="179.58" fill="#fff6ba"/>
<rect x="293.5" y="408.57" width="17.9" height="171.03" fill="#008618"/>
<rect x="293.5" y="417.12" width="17.9" height="162.48" fill="#0c921e"/>
<rect x="293.5" y="425.67" width="17.9" height="153.93" fill="#1ea22a"/>
<rect x="293.5" y="434.22" width="17.9" height="145.38" fill="#32c03c"/>
<rect x="293.5" y="442.77" width="17.9" height="136.83" fill="#50e450"/>
<rect x="293.5" y="451.33" width="17.9" height="128.27" fill="#78eb6e"/>
<rect x="293.5" y="459.88" width="17.9" height="119.72" fill="#96f08c"/>
<rect x="293.5" y="468.43" width="17.9" height="111.17" fill="#b4f5aa"/>
<rect x="293.5" y="476.98" width="17.9" height="102.62" fill="#cdfac8"/>
<rect x="293.5" y="485.53" width="17.9" height="94.07" fill="#e8ffe4"/>
<rect x="293.5" y="494.08" width="17.9" height="85.52" fill="#ac4242"/>
<rect x="293.5" y="502.64" width="17.9" height="76.96" fill="#c45858"/>
<rect x="293.5" y="511.19" width="17.9" height="68.41" fill="#de6c6c"/>
<rect x="293.5" y="519.74" width="17.9" height="59.86" fill="#e88080"/>
<rect x="293.5" y="528.29" width="17.9" height="51.31" fill="#e49ea0"/>
<rect x="293.5" y="536.84" width="17.9" height="42.76" fill="#f6b2b2"/>
<rect x="293.5" y="545.39" width="17.9" height="34.21" fill="#ffcaca"/>
<rect x="293.5" y="553.95" width="17.9" height="25.65" fill="#ffe4e6"/>
<rect x="293.5" y="562.50" width="17.9" height="17.10" fill="#ffffff"/>
<rect x="293.5" y="571.05" width="17.9" height="8.55" fill="#cdf2fa"/>
<rect x="293.5" y="314.5" width="17.9" height="265.1" class="cbf"/>
<line x1="293.5" y1="536.84" x2="295.1" y2="536.84" class="cbt"/>
<line x1="309.8" y1="536.84" x2="311.4" y2="536.84" class="cbt"/>
<g transform="translate(314.40 533.22) scale(0.7500 0.8050)" fill="none" stroke="#1e1e1e" stroke-width="1.15" stroke-linecap="round" stroke-linejoin="round" class="st"><path transform="translate(0.00 0)" d="M2.4 0Q0.1 0 0.1 5Q0.1 10 2.4 10Q4.7 10 4.7 5Q4.7 0 2.4 0Z"/><path transform="translate(7.20 0)" d="M0.7 9.2h0.6v0.6h-0.6z"/><path transform="translate(10.90 0)" d="M4.3 0.1H0.9L0.5 4.4Q1.3 3.6 2.5 3.6Q4.8 3.6 4.8 6.8Q4.8 10 2.4 10Q0.7 10 0 8.7"/></g>
<line x1="293.5" y1="494.08" x2="295.1" y2="494.08" class="cbt"/>
<line x1="309.8" y1="494.08" x2="311.4" y2="494.08" class="cbt"/>
<g transform="translate(314.10 490.46) scale(0.7500 0.8050)" fill="none" stroke="#1e1e1e" stroke-width="1.15" stroke-linecap="round" stroke-linejoin="round" class="st"><path transform="translate(0.00 0)" d="M0.5 1.7L2.4 0V10"/></g>
<line x1="293.5" y1="451.33" x2="295.1" y2="451.33" class="cbt"/>
<line x1="309.8" y1="451.33" x2="311.4" y2="451.33" class="cbt"/>
<g transform="translate(314.10 447.70) scale(0.7500 0.8050)" fill="none" stroke="#1e1e1e" stroke-width="1.15" stroke-linecap="round" stroke-linejoin="round" class="st"><path transform="translate(0.00 0)" d="M0.5 1.7L2.4 0V10"/><path transform="translate(7.20 0)" d="M0.7 9.2h0.6v0.6h-0.6z"/><path transform="translate(10.90 0)" d="M4.3 0.1H0.9L0.5 4.4Q1.3 3.6 2.5 3.6Q4.8 3.6 4.8 6.8Q4.8 10 2.4 10Q0.7 10 0 8.7"/></g>
<line x1="293.5" y1="408.57" x2="295.1" y2="408.57" class="cbt"/>
<line x1="309.8" y1="408.57" x2="311.4" y2="408.57" class="cbt"/>
<g transform="translate(314.40 404.94) scale(0.7500 0.8050)" fill="none" stroke="#1e1e1e" stroke-width="1.15" stroke-linecap="round" stroke-linejoin="round" class="st"><path transform="translate(0.00 0)" d="M0.2 2.5Q0.5 0 2.4 0Q4.6 0 4.6 2.6Q4.6 4.6 0.1 10H4.8"/></g>
<line x1="293.5" y1="365.81" x2="295.1" y2="365.81" class="cbt"/>
<line x1="309.8" y1="365.81" x2="311.4" y2="365.81" class="cbt"/>
<g transform="translate(314.40 362.18) scale(0.7500 0.8050)" fill="none" stroke="#1e1e1e" stroke-width="1.15" stroke-linecap="round" stroke-linejoin="round" class="st"><path transform="translate(0.00 0)" d="M0.2 2.5Q0.5 0 2.4 0Q4.6 0 4.6 2.6Q4.6 4.6 0.1 10H4.8"/><path transform="translate(7.20 0)" d="M0.7 9.2h0.6v0.6h-0.6z"/><path transform="translate(10.90 0)" d="M4.3 0.1H0.9L0.5 4.4Q1.3 3.6 2.5 3.6Q4.8 3.6 4.8 6.8Q4.8 10 2.4 10Q0.7 10 0 8.7"/></g>
<line x1="293.5" y1="323.05" x2="295.1" y2="323.05" class="cbt"/>
<line x1="309.8" y1="323.05" x2="311.4" y2="323.05" class="cbt"/>
<g transform="translate(314.47 319.43) scale(0.7500 0.8050)" fill="none" stroke="#1e1e1e" stroke-width="1.15" stroke-linecap="round" stroke-linejoin="round" class="st"><path transform="translate(0.00 0)" d="M0.3 0.15H4.5L2.0 4.1Q4.8 4.1 4.8 7.0Q4.8 10 2.4 10Q0.7 10 0 8.7"/></g>
<g clip-path="url(#clipd)"><rect x="380.0" y="314.8" width="184.0" height="264.8" fill="#cdf2fa"/>
<g transform="scale(0.25)">
<path fill="#ffffff" d="M2255 2318l-734 0 0-1058 734 0z"/>
<path fill="#ffe4e6" d="M1777 1381l-22-2-8-2-8-4-7-9-6-16-2-14 0-24 2-8 4-8 5-4 8-5 22-8 56 0 12-2 10 2 8 5 5 4 4 8 3 12 3 18-4 16-10 18-7 7-10 5-32 9zM1943 1355l-12 0-8-2-9-7-5-8-1-16 2-10 7-9 8-5 14-1 8 2 9 7 5 10 1 12-2 10-7 11zM2073 1405l-12 0-8-3-7-6-6-12-2-10 0-32 6-18 7-8 8-4 14 0 12 6 2 0 12-12 6-4 14-1 10 4 9 7 5 8 1 14-2 10-10 12-9 5-14 0-12-4-2 1-1 16-4 12-7 13zM2185 2318l-234 0-3-36-3-12-28-63-4-5-1 6-1 34-3 10-5 3-8 2-16 0-8-3-4-4-2-8-1-82-3-2-16-3-12-6-28 11-12 8-16 5-10 0-20-6-34 5-102 31-22 0-46-4-8-2-4-3-3-10-3-28 0-28-4-16 0-162 12-4 4-2 3-6 1-8 0-250-7-16-2-12 6-22 0-20 4-10 7-10 13-40 0-4-15-30 0-28 5-10 17-14 8-4 8 0 26 7 8 5 31 34 13 25 6 5 34 13 18 2 44 0 38-7 7-4 2-4 2-20 0-52 4-12 8-12 11-9 12-4 12 2 6 3 7 6 14 20 5 18 3 26 3 9 13-19 7-5 6-2 12 2 9 7 6 8 5 16-1 30-8 18-9 10-1 4 1 7 11 9 4 8 3 11 2 1 7-12 13-10 2-4-12-5-3-3-2-6-1-94-20 1-8-1-11-10-5-14-1-16 4-12 6-8 7-5 6-2 10 0 10 5 8 8 6 16 2 3 2 0 80-10 10-1 12 3 98 28 8 5 6 13 14 0 8 2 8 5 7 6 4 8 4 14 0 18-6 16-6 8-7 5-20 6-14 5-2 2 9 16 6 20 0 26-8 22-11 13-8 4-8 2-14-2-8-4-8-7-2-1-1 1 3 42 4 0 14-4 8-1 8 2 10 4 9 7 6 10 2 8-1 8-8 13-8 7-6 3-16 2-6 0-14-5-2 0-1 2-4 28-13 32 11 16 4 10-5 36-6 12-4 4-6 1-48 4-4 1-1 2 5 20 5 24 0 18-2 26-3 16-3 10-5 7-12 7-2 4-2 22 4 24 22 19 4-1 12-12 16-9 0-4-13-29-5-18-1-10 6-22 6-12 9-7 16-8 12-2 12 4 26 18 2-1 10-8 6-4 8-1 10 1 10 5 11 13 6 14 4 22 0 20-4 12-7 9-10 8-16 4-8 0-14-3-25 14-1 2 5 10 6 18 0 16-2 8-5 12-5 8-9 9-16 7-3 4 5 23 8 15 17 10 21 7 6 4 5 7 10 30 0 18-1 6zM2121 1632l1-20 5-20-2-2-32 6-5 2 1 4 12 19 18 12zM1673 1780l42-9 9-17 14-20 9-7 12-5 0-4-10-42-3-16 1-10-2-2-12 0-12 4-11 18-7 7-14 6-16 1-4 5-14 28-1 19 1 6 8 24 2 14 2 1zM2000 1760l-1-20 14-42-2-2-14-5-24-12-6-4-8-9-2 3-9 35-14 32-9 8-10 4-6 0-10-3-2 1-1 2 1 2 4 2 66 5 30 5zM2193 1825l-12 0-8-2-11-9-3-8-1-14 2-8 7-9 10-5 12-1 10 4 9 7 4 10 2 10-4 10-9 11zM1608 1946l5-2 3-6 1-18-2-4-12 2-10 4-1 2 0 10 2 8 7 4z"/>
<path fill="#ffcaca" d="M1777 1377l-6 0-22-4-8-4-6-7-4-14-3-14 0-24 6-14 9-7 24-8 54 0 12-2 10 3 6 3 4 5 4 10 5 24-3 14-11 18-7 7-10 4-30 8zM1943 1350l-10 1-8-1-8-7-4-7-1-14 1-8 7-8 7-4 12-1 8 3 6 6 4 8 1 12-2 8-6 8zM2073 1400l-10 1-8-2-6-7-6-12-1-8 0-30 3-10 4-8 8-7 12-2 8 3 10 8 9-12 9-7 6-2 8 1 10 4 7 6 3 6 1 14-3 8-8 9-8 4-14-1-14-7-2 1-1 24-3 8-6 13zM1953 1478l-12 1-7-3-7-8-5-12 0-14 3-10 8-9 8-3 10 0 7 2 7 8 5 10 0 16-2 8-7 10zM2181 2318l-226 0-3-36-3-14-49-112-9-29-4-9-2-1 0 15-2 6-8 9-12 6-10 0-6-1-7-6-7-8-4-2-18 8-18 19-18 6-6 0-8-2-20-11-4 0-34 5-94 29-16 1-31-3-14-2-5-3-2-7-3-34-17-45 0-15 2-6 3-26 8-22-1-60 2-6 10-8 3-4 2-6 1-10 0-250-1-6-11-12-3-14 6-22 0-14 1-8 4-8 6-8 14-44-16-32-1-26 5-9 17-15 5-2 6 0 32 10 8 7 24 29 13 24 3 4 36 14 20 3 46 0 38-7 9-4 3-6 3-20 0-50 1-8 4-8 8-11 6-5 10-4 8 0 12 5 6 6 12 17 5 18 4 42 3 10 2 4 2 1 2-1 2-22 4-10 6-7 6-4 6-2 8 2 5 3 8 10 3 12 1 28-3 10-4 10-4 5-7 5-1 4 2 11 11 9 5 10 3 14 2 22 0 12-12 46-13 30-6 7-10 4-6 0-14-3-4 10 0 6 2 3 72 7 40 6 7 0 0-4-7-12-3-12 16-46-1-4-20-7-25-13-7-8-4-14 1-28 5-14 5-6 13-8 16-5 30-1 12-1 38 13 7 6 10 16 15 9 7 9 4 14 4 28 1 34 2 1 20-7 10 0 14 5 10 9 5 10-1 8-4 9-8 8-12 5-10 1-10-2-14-6-2 1-3 12 0 16-2 8-9 22-10 12 2 4 11 14 2 8-4 28-3 10-4 3-6 2-60 5-1 2 11 14 4 14 5 24 0 18-5 44-6 11-14 9-3 8-1 20 4 26 22 20 4 3 4 0 15-17 19-8 1-2-15-30-7-26 1-8 6-22 4-6 5-6 19-9 6-1 6 0 15 6 13 9 8 8 2 0 16-14 6-2 10 1 8 3 12 13 4 12 5 24 0 18-5 12-9 10-7 5-8 2-8 0-18-4-18 12-14 5-1 2 8 12 5 16 1 14-1 8-5 14-7 9-8 8-18 7-2 2 5 26 9 18 18 11 24 9 8 8 9 28 0 18-1 6zM2053 1526l-8 1-8-2-8-5-7-10-2-14 2-10 6-8 9-5 12-2 10 2 9 7 6 10 1 10-3 12-9 9zM2209 1567l-6 0-6-1-11-6-8-10-4-14 1-18 5-14 10-10 13-4 12 2 8 5 7 9 4 14 0 18-5 14-9 10zM2165 1678l-10 0-12-5-11-11-6-18 0-32 5-16 4-5 10-10 14-4 14 3 10 9 6 9 5 18 0 26-6 18-4 6-7 7zM1668 1790l49-10 10-24 13-18 7-6 14-5 3-3-12-50-2-16 1-12-1-2-17 0-14 4-4 4-8 15-8 8-12 4-16 1-4 4-16 32-1 20 1 8 9 24-3 22 4 1zM1581 1782l4-4 2-6-6-15-2 5 0 12 0 6zM2193 1820l-10 1-8-1-8-7-4-7-1-12 1-8 6-7 10-5 10 0 10 4 6 6 4 8 1 8-3 8-7 8zM1614 1958l7-4 4-8 1-18-1-18-6-1-24 8-13 1-1 4 0 16 2 8 4 6 4 4 6 3 10 0z"/>
<path fill="#f6b2b2" d="M1779 1372l-6 2-20-3-8-3-6-6-5-14-3-14 1-24 5-12 8-6 22-7 54 0 12-2 8 2 6 3 4 5 4 11 4 20-4 14-10 16-8 7-34 10zM1943 1347l-8 1-8-1-6-4-5-7-1-10 1-10 5-6 6-4 10-1 7 1 5 4 5 8 1 8-1 8-5 8zM2123 1353l-10 1-8-2-8-6-5-8-1-8 3-8 7-8 6-4 8-1 8 1 8 6 5 6 1 8-1 10-7 8zM2073 1397l-10 1-8-4-6-8-3-12-1-30 2-8 6-12 4-3 6-2 10 1 6 4 3 4 5 14-1 34-7 16zM1953 1475l-10 1-6-2-8-8-3-10 0-12 2-10 7-8 6-3 8 0 6 2 8 7 3 8 0 20-5 8zM2179 2318l-221 0-3-38-2-12-47-110-12-52-10-22-5-3-14-2-16-6-9-9-8-14-3-10-4-3-14 0-18 5-18-5-26-1-12-5-5-5-3-8-2-16-3-36-3-10-4-3-66 0-10-2-3-3-2-6-1-36-2-4-4 0-38 12-10-3-7-5-4-8-3-10-2-16 0-10 15-62 10-22 1-6-8-29-21-49-5-16-2-3-10-7-3-6-2-8 6-24 0-20 3-8 8-10 5-18 9-26-1-4-6-8-10-20 0-26 5-8 14-12 4-2 6-1 30 10 8 7 24 28 15 28 39 16 20 2 48 0 36-6 6-2 5-4 5-6 2-20 1-58 3-8 8-10 6-5 8-4 8 0 10 5 16 21 5 17 5 42 2 12 11 16 3 11 2 1-2-14 1-30 2-8 5-8 8-6 8-1 8 5 6 8 3 12 1 26-3 10-5 10-4 4-8 3-1 3 4 18 11 8 5 10 5 34-1 12-11 44-14 32-5 4-9 3-8-1-10-4-2 0-2 2-4 18 1 10 3 4 72 7 64 9 1-2-19-24-3-12 2-10 14-38 0-6-3-2-20-6-24-12-6-6-4-12 0-30 4-12 6-6 12-7 14-4 30-1 12-1 28 8 10 5 6 6 8 14 16 10 5 8 4 14 4 28 1 36 2 8 11-10 19-5 16 4 10 9 3 10-1 8-6 9-10 6-10 3-10-1-12-5-10-10-1 2-3 22-1 18-6 18-5 10-4 4-13 8 1 4 12 15 3 7-1 18-4 12-4 3-5 1-65 5-5 1 6 8 13 12 5 6 4 14 5 26-1 14-4 40-5 12-4 4-10 4-2 3-4 29 2 14 4 15 28 24 4 2 2-2 6-9 12-11 10-4 18-3-8-5-5-7-12-24-6-22 0-8 6-22 3-6 6-5 18-9 10-1 10 4 14 9 12 15 2 0 6-9 10-9 6-2 8 0 5 1 5 4 6 6 5 8 6 28 0 18-3 12-10 10-10 5-8 1-8-1-12-4-20 13-8 3-6 1-14-3-4 1 12 8 11 12 6 18 0 14-5 18-6 8-8 8-20 7-2 3 6 30 10 19 18 11 24 9 7 7 8 26 1 14zM2053 1521l-8 1-6-2-8-5-5-7-1-12 2-8 4-6 8-5 12 0 8 2 6 5 4 8 1 8-3 10-6 7zM2211 1562l-8 1-12-5-7-8-5-14 1-18 4-12 9-9 10-4 10 2 8 5 6 8 3 12 0 16-3 12-8 10zM2167 1674l-10 1-12-5-10-10-6-18 1-28 4-16 5-6 8-7 12-4 13 3 9 8 5 8 4 16 0 24-4 16-3 6-6 7zM1665 1800l52-10 4-5 9-27 13-18 7-6 15-5 4-3-13-52-2-18 2-12-3-3-20-1-16 5-4 4-10 17-6 6-10 3-18 2-4 3-17 34-1 10 0 18 9 28 0 8-4 12 0 4 5 6zM2193 1817l-8 1-8-1-6-4-5-7-1-10 1-8 5-6 8-4 8-1 8 2 6 5 3 6 2 8-1 6-6 8zM1575 2150l-28-9-6-4-5-9-10-32-1-12 5-36 5-10 10-11 8-8 10-4 38-6 44-11 30-4 6 1 8 2 19 13 4 4 3 8 4 30-1 8-9 26-6 10-4 3-8 3-80 19-4 3-11 14-7 7-8 4zM1779 2164l-6 2-6-1-18-9-9-10-5-16 0-20 7-16 9-8 16-6 14 1 14 6 9 11 5 16 0 18-7 16-11 12zM1863 2149l-10 1-6-2-8-8-3-8-1-6 3-8 6-6 5-3 8-1 8 1 7 5 4 8 1 8-2 8-4 6z"/>
<path fill="#e49ea0" d="M1799 1368l-28 2-18-3-9-5-6-14-3-14 0-24 3-8 4-4 17-8 10-2 54 0 10-2 8 2 5 4 7 16 2 16-3 12-8 14-9 8zM1939 1344l-12-1-5-5-3-4 0-16 4-6 6-3 8-1 6 1 5 5 3 6 0 10-2 6-4 6zM2119 1350l-9 0-7-3-5-5-3-8 0-6 3-6 7-7 4-2 8-1 6 2 6 5 4 5 0 10-1 6-7 8zM2069 1394l-8 0-5-4-5-8-2-10 1-34 6-12 3-3 6-1 6 1 6 4 6 19-1 30-6 14zM1949 1472l-8 0-6-4-4-6-2-8 0-10 3-10 5-5 6-3 6 0 6 3 5 5 3 8 0 14-2 6-6 8zM2175 2318l-213 0-3-38-3-14-47-110-11-50-11-25-6-3-14-2-16-6-7-8-8-14-5-12-2-2-20-1-12 4-6 1-16-5-26-1-8-3-5-5-3-10-4-32-1-16-4-34-2-56-4-24 0-14 5-44 10-34 16-21 6-3 16-5 3-3-7-20-8-34-2-18 3-12-3-5-6-2-18 0-16 4-6 4-9 17-7 7-10 3-16 1-4 1-21 42 0 26 9 28 0 6-5 14 0 6 15 20 9 30 3 1 10-2 6 2 8 3 6 6 3 8 2 8-2 8-3 6-10 9-8 2-8 0-12-4-8-10-14 8-50 18-4 1-6-1-8-6-6-17-2-14 0-10 14-60 11-24 1-6-9-30-26-66-3-4-9-6-5-12 7-24-1-12 1-8 2-6 8-10 4-18 12-30-1-3-8-9-9-18-1-6 0-18 4-7 15-13 7-1 24 7 6 3 28 32 14 27 6 5 38 14 20 3 46 0 42-8 8-4 6-6 2-6 2-20 0-52 3-10 9-11 10-6 8 0 10 5 9 12 5 8 4 14 4 42 3 14 8 12 5 16 4 3 12 2 2 2 5 11 2 14 10 6 4 4 5 18 2 24 0 10-10 40-14 33-6 5-8 2-10-3-8-8-4 6-6 21 4 42 12 22 20 8 6 6 4 10 3 2 3 1 10-7 10-3 10 4 8 7 5 12-2 14-4 8-11 8 16 0 38 10 24 19 7 7 5 14 4 24-2 40-2 16-3 8-5 5-10 4-3 3-4 34 4 26 3 4 20 18 14 10 4-2 6-11 8-8 6-4 10-3 12 0 10 3 6 4 9 9 7 22 0 12-5 14-4 6-9 9-10 4-13 3 0 10 6 28 11 20 20 12 22 7 6 7 8 26 0 14zM2049 1518l-6 0-6-3-5-5-3-6 0-10 2-6 4-5 8-3 9 0 7 3 5 5 3 8-1 6-4 8-5 5zM1931 1566l-10 1-2-2-5-9-3-12 0-26 1-6 7-11 8-5 6 1 7 7 3 6 2 12-1 26-6 14zM2211 1559l-8 1-10-4-6-8-4-12 0-16 4-12 7-8 9-3 9 1 7 4 5 8 3 10 0 16-3 10-5 8zM2161 1672l-12-3-9-9-6-14-1-8 0-24 5-16 10-10 11-4 12 3 7 7 6 10 3 16 0 20-6 18-9 10zM2051 1845l-10-1-9-6-4-8-2-12 2-10 4-6 7-4 12-3 2-1-1-2-21-15-8-7-11-14-3-8 1-10 16-42-1-6-4-3-20-6-24-12-5-5-3-8 0-30 3-12 4-4 11-7 12-5 44-1 34 10 6 6 11 17 13 7 4 4 6 17 4 30 1 50-1 24-2 10 0 16-2 8-8 18-5 6-7 3-6 1-18-7-6 17-8 8zM2159 1760l-8 0-12-5-5-5-3-8 0-8 5-8 5-4 14-4 8 1 10 4 7 7 3 8-1 6-5 8-8 5zM2189 1814l-12-1-5-5-3-4 0-10 1-6 5-5 6-3 8 0 6 3 5 5 3 8-1 6-3 6-5 4zM1819 1800l0-4-2 2 1 2zM2145 2093l-8 1-20-5-7-3-5-6-12-24-6-22 0-6 8-24 5-6 11-6 10-3 6 0 10 4 14 10 4 5 6 13 4 3 7-16 9-9 8-3 10 1 12 13 6 18 2 14 0 12-3 14-10 10-11 4-10 0-14-6-2 0-8 7zM1581 2145l-8 1-24-8-6-4-4-8-10-30 0-8 4-38 3-8 3-4 16-15 6-3 40-7 46-11 32-4 10 4 16 11 3 3 3 8 4 28-4 16-7 18-4 6-3 3-8 3-80 19-6 5-14 18zM1983 2022l0-8-2 1 0 5 0 4 2 0zM1773 2162l-12-3-12-7-7-12-3-12 0-16 7-16 9-8 14-4 12 1 12 6 8 11 4 14 0 16-7 16-9 9zM1859 2146l-6 0-6-2-5-6-3-8 1-6 3-5 5-5 5-2 8 0 5 2 5 6 2 6 0 8-3 6-5 4z"/>
<path fill="#e88080" d="M1775 1366l-20-2-6-2-4-4-7-24 0-22 4-10 7-4 20-7 54 0 10-1 10 4 6 14 3 16-4 12-9 15-6 4-32 9zM1939 1341l-10-1-5-4-2-4 1-14 4-4 4-2 10 0 6 8 0 12-3 6zM2119 1347l-8 0-6-3-4-4-2-6-1-4 3-6 5-6 5-2 6 0 6 2 5 4 2 4-1 12-5 6zM2069 1391l-6 0-5-3-3-6-3-10 1-32 5-12 7-3 6 1 4 4 5 16-1 28-5 12zM1949 1469l-6 0-5-3-3-4-3-10 0-8 3-8 4-4 6-3 6 1 4 3 3 5 2 6 0 10-2 6-4 6zM2171 2318l-205 0-4-40-3-12-46-110-12-51-12-27-7-4-15-2-14-5-6-7-8-14-5-14-3-2-24 0-14 5-16-5-26-1-8-3-4-4-5-20-2-22 0-14-4-34-2-56-4-26 0-12 4-44 10-32 15-21 8-3 16-4 4-4-8-22-7-26-4-24 4-16-5-6-6-2-20-1-20 6-4 3-10 18-6 6-8 3-18 0-4 2-22 43-1 28 10 30-6 18 1 6 4 8 11 16 9 32 2 1 12-3 4 0 10 4 4 4 5 14-4 12-9 7-6 2-8 0-10-4-8-15-2 0-7 8-7 5-22 9-26 9-6 2-4-1-4-2-4-4-5-16-2-14 0-8 15-60 10-24 1-6-9-32-26-66-2-4-11-6-4-10 7-24-1-12 1-6 2-6 7-8 6-22 12-30-1-4-9-10-9-18-1-6 1-18 5-6 11-8 6-2 22 7 7 3 26 30 15 30 6 4 40 15 18 2 50 0 42-8 6-3 8-8 3-6 2-20 0-54 3-8 7-10 9-5 8 0 7 3 9 12 5 8 4 14 4 42 3 13 7 11 7 19 4 3 10 3 5 3 4 10 1 13 10 5 4 4 5 18 2 24 0 6-11 42-13 32-7 4-6 0-9-4-5-11-2-1-4 4-9 30 3 45 12 23 4 3 18 6 4 5 5 10 7 6 2 1 10-9 8-2 10 2 7 6 4 12-2 12-2 4-5 4-14 4-1 4 3 5 4 1 20-2 36 9 12 8 18 17 5 14 4 24-2 36-2 16-3 8-4 4-12 4-3 4-4 36 5 28 4 5 20 18 18 13 3-2 7-14 6-7 6-4 10-4 10 0 10 3 6 3 8 9 6 14 1 8 0 8-5 15-5 7-9 8-10 3-13 1-1 4 1 10 7 28 11 22 17 11 24 8 6 5 9 28 0 12-2 8zM2051 1514l-6 1-4-2-6-4-3-5 1-12 4-6 4-2 8-1 6 2 5 3 3 6 0 6-2 6-4 5zM1931 1563l-6 0-5-3-3-6-3-10 1-30 5-10 7-4 6 2 4 4 5 16-1 24-5 12zM2207 1556l-8-1-7-5-4-8-2-10 0-12 5-12 6-6 8-2 8 2 5 4 4 8 2 10 0 12-4 10-5 7zM2163 1668l-10-1-9-7-4-6-4-14 0-24 4-14 9-11 10-3 10 2 7 6 3 6 5 16 0 22-5 14-7 10zM2095 1820l-10-2-16-10-13-18-25-17-16-19-3-8 1-4 16-44 0-8-4-6-22-6-24-12-4-4-3-8 0-28 2-8 5-6 12-7 12-4 38-1 26 7 11 5 13 20 14 8 4 4 5 16 4 28 0 74-2 10 0 16-3 8-8 19-4 3zM2161 1756l-6 1-8-2-6-3-4-4-3-6 0-6 3-6 4-4 12-4 6-1 12 5 6 6 3 6-3 8-6 6zM2189 1811l-10-1-5-4-2-4 1-12 8-6 6 0 6 2 4 4 2 4 0 4-2 6-4 5zM1821 1812l3-6 0-12-2-6-3-4-2 1-2 2-3 13 4 12 3 2zM2051 1840l-6 0-8-3-4-5-3-10 1-8 3-8 5-4 8-2 10 2 7 4 2 4 2 8-1 6-3 8-7 6zM2141 2090l-20-3-8-3-4-4-10-20-9-28 5-18 4-10 6-5 14-6 6-1 8 3 18 13 14 28 2-2 6-20 6-9 8-5 8 0 4 2 9 10 6 18 2 24-3 12-10 10-10 3-12-2-12-7-10 10-12 8zM1577 2142l-8-1-18-6-5-3-3-6-10-28-1-12 4-34 3-8 5-6 13-13 6-2 40-7 44-11 32-3 10 4 14 10 5 10 4 26-11 32-3 6-11 5-80 19-6 5-14 18-4 3zM1983 2036l4-8 1-14-3-9-2-3-2 0-4 10-1 10 3 12 2 2zM1775 2158l-10-1-13-7-6-10-4-12 0-14 7-16 8-7 12-4 10 1 12 5 7 11 4 12 0 14-7 16-8 8zM1861 2142l-10 0-5-4-3-6 0-4 2-6 4-4 4-2 10 0 6 8 1 6-2 6-3 4z"/>
<path fill="#de6c6c" d="M1793 1362l-20 1-14-1-10-4-5-12-3-14 0-18 4-10 6-3 18-7 64-1 8 3 5 14 3 14-3 10-9 14-8 5-30 9zM1939 1337l-8 0-5-5 0-10 2-4 3-2 8 0 4 4 1 10zM2119 1343l-4 1-6-2-4-3-2-4 0-7 4-5 4-3 8 0 7 6 0 10zM2069 1386l-4 1-4-2-3-5-2-10 0-28 4-10 5-3 4 1 3 2 4 16 0 22-3 10zM1949 1465l-4 0-4-1-3-4-2-8 0-6 2-8 3-3 4-2 4 1 3 2 4 8 0 12-3 6zM2167 2318l-198 0-4-40-3-14-47-110-11-50-12-28-3-2-6-3-14-1-14-6-5-6-8-14-5-14-4-3-26-1-14 5-16-5-26 0-6-2-3-4-5-20-2-20 0-16-4-34-2-56-4-26 4-52 9-32 13-18 6-4 22-6 2-2 2-4-9-22-6-26-4-24 3-14-1-6-5-5-8-3-22 0-20 6-5 4-9 18-4 4-10 4-20 1-4 3-21 42-1 28 10 32-6 16 0 6 4 10 10 14 4 8 6 24-3 10-11 18-8 6-22 10-28 9-6-1-5-4-4-14-3-20 14-60 12-26 0-6-8-32-27-68-3-4-10-6-3-8 6-24-1-12 1-6 3-6 6-6 6-24 13-32-1-4-10-9-8-17-1-6 0-16 5-5 10-8 6 0 19 5 7 4 24 29 15 29 2 2 45 18 20 2 52 0 40-7 8-4 8-7 4-8 2-20 0-52 3-10 9-12 8-3 8 3 10 12 4 8 3 12 5 42 3 14 8 12 7 20 4 3 14 5 3 8 2 16 11 5 3 3 5 18 2 22-11 48-13 30-6 3-8-1-3-4-5-13-6 1-5 6-9 30 0 18 3 30 13 25 4 3 18 6 3 4 5 10 12 13 8-11 8-5 4 0 6 2 6 5 4 12-4 12-4 4-6 2-12-1-2 1 3 8 5 7 6 3 20-3 34 9 12 8 14 12 3 4 4 12 5 24-2 36-3 16-3 8-6 3-8 2-3 3-5 38 5 30 5 8 20 17 22 17 3-2 4-12 5-8 8-7 8-4 10-1 10 3 6 3 8 8 6 20-1 8-4 14-6 8-7 5-10 3-14 0-2 6 2 14 7 28 11 22 18 11 26 10 4 4 8 25 0 10-2 10zM2051 1510l-4 1-4-1-7-6 0-10 5-6 10-1 7 5 1 6 0 4-3 4zM1931 1558l-4 1-4-2-3-5-2-10 0-26 5-9 4-3 4 1 4 5 3 14 0 20-3 8zM2209 1552l-6 1-6-3-5-6-3-10 0-12 3-10 5-6 6-2 6 0 6 4 4 6 2 8 0 12-2 8-4 7zM2165 1664l-8 1-8-4-5-7-5-14 0-24 4-12 8-10 8-3 8 2 6 5 4 6 4 14 0 20-4 12-4 9zM2097 1816l-4 1-6-1-14-9-16-21-24-16-15-18-2-6 0-4 17-44 1-6-3-6-4-4-24-7-21-11-4-4-3-10 1-28 3-6 14-9 10-3 38-1 26 8 10 5 12 19 14 8 3 3 4 14 5 30 0 70-3 30-9 22zM1874 1654l8-2 2-2-1-2-8-3-14-1-8 2-4 2 0 2 1 2 5 2 12 1zM2163 1752l-10 2-12-6-3-4-1-6 4-8 16-5 8 2 6 3 5 6 0 6-5 6zM1821 1818l6-10 0-14-2-8-6-8-4 2-3 4-3 16 4 14 4 5zM2189 1807l-8 0-5-5 0-10 5-4 6-1 7 5 1 8zM2053 1836l-6 1-8-3-3-4-2-6-1-6 3-8 3-4 6-3 6 0 6 3 4 4 3 8 0 6-3 6zM1691 1888l-6 2-6 0-6-2-4-4-4-10 0-6 3-8 5-4 12-3 9 3 5 5 3 9 0 6-5 8zM2143 2086l-10 0-14-3-6-3-13-24-6-20 0-6 7-24 5-4 13-6 6 0 6 1 16 11 5 8 9 22 4 22-1 8-5 8zM1986 2040l5-12 0-16-4-12-2-2-4-2-4 4-2 4-2 10 0 10 3 12 2 4 5 2zM2199 2074l-8 2-10-2-8-8-5-10 1-12 7-28 5-8 8-5 8 2 8 9 5 16 3 14 0 12-3 8-5 7zM1579 2138l-8 0-22-8-4-6-9-30 1-28 3-16 3-6 12-12 6-5 6-2 36-5 44-11 18-3 12-1 6 2 18 11 5 16 3 18-10 30-4 6-8 4-82 19-4 3-15 20zM1777 2154l-8 1-14-7-6-8-4-12 1-14 5-14 7-6 11-4 10 1 10 5 6 9 4 11-1 14-5 14-6 6zM1861 2138l-8 1-5-5-1-8 6-6 8 0 4 4 1 8z"/>
<path fill="#c45858" d="M1799 1358l-26 2-12-1-6-1-4-3-7-23 0-18 4-8 13-6 10-3 62 0 6 2 4 11 2 14-2 8-8 14-6 4zM2117 1333l-2 1-2-1 0-3 2-1 2 1zM2067 1369l-2 1-1-4 1-19 2 0 1 3zM1947 1451l-2-1 0-2 2-1zM2165 2318l-156 0-4-30-2-2-2 3-1 17-3 12-24 0-3-8-2-32-3-14-46-110-13-54-12-26-7-5-18-3-10-3-4-3-11-18-5-14-4-4-28-1-14 5-14-5-26 0-6-2-3-3-4-18-2-22 0-14-4-34-2-56-4-26 4-52 9-30 12-17 6-4 22-6 4-4 2-5-10-23-9-37-1-14 4-10 0-4-2-6-6-5-8-4-24 0-22 6-4 3-11 20-4 4-7 3-20 0-6 4-22 45-1 28 1 6 8 26-5 16-1 6 5 12 13 18 6 24-1 6-10 20-7 6-22 10-26 9-6 0-4-2-5-15-2-18 15-60 11-24 1-6-10-36-26-68-4-5-10-6-2-5 7-24-1-16 2-5 6-5 7-26 14-34 0-4-9-12-7-20 0-10 3-6 6-4 4 0 20 6 24 28 12 17 5 9 11 6 40 15 20 2 52 0 44-8 6-3 9-8 3-8 3-22 0-50 2-10 7-10 8-3 6 2 8 10 5 7 3 12 5 44 3 14 8 12 7 20 5 4 12 4 3 2 2 6 1 17 2 1 10 4 3 2 4 16 2 22-11 47-12 28-6 3-5-2-3-5-2-11-2-2-4 1-6 2-6 7-9 32 0 18 2 10 1 20 14 28 4 3 16 5 3 2 6 12 9 10 13 30 7 10 6 3 22-2 32 8 12 7 16 15 4 11 5 26-2 32-2 16-3 7-4 3-11 2-4 6-4 40 5 30 6 8 20 18 26 19 4-1 3-14 5-9 10-9 8-2 10 0 10 4 6 7 7 19-1 8-4 12-6 8-8 5-8 2-14-2-3 1 2 24 7 30 12 23 20 12 22 8 5 3 8 24 0 10zM2049 1500l-4 0 0-2 2-2 2 1zM2209 1549l-6 0-4-1-4-6-3-8 0-12 3-8 4-5 4-2 6 1 4 2 5 12-2 16-3 8zM1929 1541l-2 1-1-4 1-16 2 1 1 3zM2165 1661l-6 1-8-4-5-6-4-14 0-20 3-12 6-8 8-4 7 2 5 5 7 19 0 16-1 6-5 12zM2097 1813l-8 0-14-9-15-20-27-18-13-16 0-8 15-42 2-8-3-8-5-5-24-7-20-10-5-4-2-8 1-26 3-6 13-8 10-3 36 0 27 7 7 4 12 20 14 7 3 3 4 14 4 28 0 70-3 28-7 18zM1870 1658l15-3 3-3 1-4-2-2-6-3-14-2-14 1-6 3-3 3 0 4 5 4zM2159 1750l-8 0-8-5-2-7 3-6 13-4 8 2 5 4 2 4-2 6-5 4zM1822 1822l4-4 3-8 1-18-1-6-5-8-3-3-4-1-4 3-4 7-3 16 3 12 3 6 5 5zM2053 1833l-6 1-4-1-3-3-3-5-1-7 2-6 3-3 4-2 4-1 5 2 5 4 1 4 1 4-1 6zM1957 1874l-6 0-6-2-2-4-3-8 3-10 5-4 5-2 6 2 4 2 5 10-1 6-2 5-3 3zM1687 1886l-6 1-7-3-3-4-2-8 2-10 6-4 6-2 6 1 5 3 5 10 0 4-2 6-4 4zM1983 2046l5-4 4-6 2-8 0-14-4-16-5-5-4-1-4 3-4 5-3 12 0 10 4 18 5 6zM2143 2083l-8 0-19-5-5-7-10-23-4-16 5-20 5-7 12-6 4 0 6 1 15 10 5 8 8 20 4 24 0 5-4 7zM1579 2135l-8 0-20-8-3-5-10-30 2-26 4-16 3-6 12-12 10-4 34-5 44-11 20-3 14 0 17 11 5 14 3 18-13 33-8 4-82 20-4 2-16 21zM2195 2072l-6 1-8-3-6-6-3-10 0-10 7-23 6-8 6-3 6 3 6 8 4 11 3 14 0 10-3 8-6 6zM1779 2150l-10 2-12-6-4-6-5-12 0-12 6-14 5-5 10-3 8 0 10 5 5 7 4 10 0 12-4 10-5 8z"/>
<path fill="#ac4242" d="M1799 1354l-26 2-14-1-4-2-3-7-4-14 0-16 3-7 14-6 6-2 60 0 5 1 3 8 2 14-1 6-7 12-6 4zM2159 2318l-145 0-5-36-2-6-4-2-4 5-2 7-2 22-3 10-14 0-3-8-3-32-3-16-31-70-16-42-12-52-13-27-8-5-8-2-12-1-11-5-11-18-6-18-2-2-34-1-12 5-14-4-24-1-7-3-4-16-2-22-4-48-2-56-4-26 5-52 7-28 11-16 6-4 23-6 5-6 2-6-10-22-8-38-2-14 5-10-2-10-9-9-8-4-24 0-26 7-6 4-10 19-4 4-6 2-20 0-4 2-3 3-23 46-1 30 0 6 9 26-6 18 0 4 6 14 12 18 6 22-1 6-9 18-5 4-31 14-18 5-5-1-3-12-2-18 14-60 11-24 1-6-10-38-27-68-5-8-9-4-1-4 7-22-1-16 8-8 7-26 16-38 2-14 5-6 4 0 6 4 18 21 66 26 22 2 50 0 40-6 8-2 6-4 11-9 2-4 4-28 0-50 2-8 5-8 6-3 4 1 8 10 4 8 2 10 8 56 9 14 7 22 16 6 4 4 2 22 2 2 10 2 4 4 5 34-11 46-12 26-4 1-2-3-2-14-2-2-4-1-8 3-7 4-4 4-10 36 0 18 3 32 12 24 4 6 22 9 5 11 10 10 15 34 8 10 6 1 22-2 30 7 12 8 15 14 3 8 5 26-2 32-4 20-3 2-12 2-4 8-5 42 5 31 4 7 24 22 32 23 2 0 2-3 2-14 2-8 4-6 6-5 8-3 10 0 8 4 6 6 4 12 1 8-4 12-5 8-6 5-8 2-8-1-10-3-4 0-1 7 4 24 8 32 12 24 25 14 18 6 5 4 6 24-1 8-3 8zM2207 1545l-4 0-3-3-4-10 2-14 3-6 4-1 5 3 4 10-2 14-2 4zM2165 1656l-6 2-6-3-4-6-3-11 0-18 2-8 3-8 4-4 4-1 6 1 4 4 5 16-1 20-3 10zM2095 1809l-6-1-12-8-14-18-26-18-13-16 0-6 16-44 1-8-8-14-26-7-23-13-2-8 1-24 3-4 10-6 9-3 36 0 26 7 6 4 10 18 15 8 3 4 7 38 0 68-3 30-6 16zM1870 1662l13-2 7-4 4-6-2-6-7-4-8-2-16-1-14 3-8 6 0 6 6 6 8 3zM2159 1746l-6 0-5-2-3-4 1-4 11-4 8 3 2 3-1 4zM1823 1826l5-4 5-10 1-20-2-8-5-9-4-4-6-1-6 3-5 7-3 12-1 8 3 14 4 7 6 5zM2051 1829l-4 1-4-2-2-6 1-8 5-3 6 1 4 6-1 6zM1955 1871l-7-3-3-8 2-8 6-3 6 1 4 8-1 8-3 3zM1687 1882l-6 1-4-2-4-7 1-8 7-5 8 1 5 6 0 8-3 4zM1986 2050l6-6 4-8 2-10 0-12-5-18-5-6-5-2-6 1-6 7-5 16 0 10 2 14 4 8 7 6zM2143 2078l-6 2-18-5-4-5-10-22-4-16 5-18 4-6 11-5 8 2 13 9 11 24 4 24 0 4-2 4zM1577 2131l-6 0-17-7-11-32 1-24 3-16 4-6 10-10 8-4 34-5 44-11 20-3 14 1 14 9 4 11 3 18-12 30-7 4-84 20-18 22zM2195 2068l-6 1-6-3-5-6-2-6 1-10 2-8 6-9 6-3 6 3 4 5 5 14-2 14-5 6zM1779 2146l-8 2-9-4-5-4-4-10-1-12 2-8 5-8 8-4 8 0 8 3 4 4 4 9 1 10-2 8-5 10z"/>
<path fill="#e8ffe4" d="M1797 1350l-26 1-10-1-4-2-4-16 0-16 2-4 16-6 58 0 4 1 2 5 2 12-2 6-7 10-3 2zM2155 2318l-137 0-3-24-2-24-4-14-4-2-5 4-6 14-2 16-1 20-3 10-6 0-3-10-3-32-2-14-33-74-16-40-12-52-14-28-7-4-11-3-12-1-9-4-11-18-5-18-3-3-36-1-12 4-14-4-24-1-4-3-3-14-7-68-1-56-4-26 5-52 6-24 12-17 4-3 23-6 5-4 6-10-1-4-7-12-4-10-8-36-1-12 4-6 0-4-2-14-2-4-9-7-8-4-28 0-26 7-7 4-13 23-4 2-24 0-7 7-24 48 0 32 0 6 9 24-7 18 0 4 7 16 12 17 6 21-1 4-9 17-4 4-37 15-7 2-4-1-2-7-2-18 14-59 12-25 1-6-12-42-26-66-5-9-8-4-1-3 6-20-1-14 7-6 7-27 6-17 14-26 4 1 16 18 22-2 54 20 18 3 54 0 46-9 9-5 14-12 4-32 1-54 4-7 4-3 8 8 3 6 3 10 7 58 11 16 4 20 2 2 17 6 3 2 2 25 4 2 9 1 3 2 2 10 2 22-10 45-6 14-2 2-1-1-3-13-4-1-22 9-4 3-3 4-10 36 0 20 1 10 1 22 17 33 23 9 4 10 9 8 2 4 15 32 9 12 8 1 22-2 28 7 12 8 13 12 3 8 4 24-2 32-2 16-3 2-13 2-3 4-2 8-4 42 5 32 3 6 7 8 20 18 24 18 12 16 4 11 9 47 14 30 21 13 22 8 4 3 6 22 0 7-3 9zM2207 1539l-2 1-2-1-2-7 0-10 2-4 2-1 2 1 2 6 0 10zM2161 1653l-4-1-3-4-3-12 0-20 3-8 5-5 4 1 2 3 4 15 0 18-4 10zM2093 1803l-4 0-8-5-15-20-27-18-10-12-1-6 16-42 2-10-7-14-4-4-26-7-18-9-4-4 0-26 12-9 6-1 36-1 24 7 4 3 10 17 14 8 4 4 6 36 0 68-2 28-4 12zM1872 1666l15-3 8-5 4-8 0-4-4-5-8-5-10-3-18 0-14 3-10 8-1 10 7 7 12 4 14 2zM2159 1741l-4 1-3-2 1-2 6 0 1 2zM1825 1830l7-6 5-12 1-6 0-16-2-8-6-10-7-6-6-1-8 4-7 9-4 16 0 8 2 12 7 11 8 6zM2049 1825l-2 0-2-3 0-4 2-2 4 1 1 3zM1957 1865l-4 1-3-4 0-6 3-3 4 2 2 3 0 4zM1685 1878l-6-1-2-5 1-4 5-3 5 1 2 4-1 6zM1988 2054l7-6 5-10 2-10 0-16-6-20-7-7-6-2-8 3-7 8-5 18 0 12 2 14 6 11 8 6zM2141 2074l-8 0-12-3-12-24-4-15 4-14 3-6 9-4 6 1 12 8 10 21 4 26-3 4zM1575 2127l-11-3-7-4-10-28 4-38 2-4 12-12 4-2 36-5 44-12 18-2 12 0 14 9 3 10 2 16-8 24-3 4-8 3-82 19-4 3-14 19zM2193 2064l-4 0-4-2-3-4-1-4 0-8 1-6 5-6 4-1 6 3 4 10-1 12-3 4zM1777 2142l-6 1-7-3-4-4-3-8 0-10 2-8 4-5 6-3 6 0 6 3 6 11 0 14-4 8zM2111 2166l-9 0-7-4-6-6-2-8 0-12 3-8 5-6 8-4 9 0 7 4 5 6 3 10 0 8-4 12-6 6z"/>
<path fill="#cdfac8" d="M1795 1345l-24 0-8-1-2-3-2-9 0-14 4-3 10-3 50 0 4 0 2 2 1 12-7 10zM2149 2312l-124 0-2-2-3-16 0-24-3-14-2-6-4-4-12 2-4 3-7 17-1 10-2 5-2-3-4-22-31-70-17-42-8-34-5-16-17-29-9-5-11-3-12-1-8-3-11-19-4-18-3-3-24-3-16 1-12 3-12-3-20-2-4-2-3-11-5-44-4-58 0-24-2-26 3-14 3-34 6-24 10-14 6-3 20-6 7-7 6-8 1-4-1-6-10-20-10-38 1-6 2-6 1-6-3-20-2-4-12-9-10-4-30 0-28 8-8 5-12 22-28 2-3 2-5 6-25 50-1 38 9 26-6 16 0 6 8 20 11 16 4 14 1 8-7 12-4 4-32 13-5 1-3-2-2-14 8-35 6-25 13-24 1-6-7-28-14-40-13-28-9-26-7-8 3-14 1-12 4-6 8-30 7-18 7-12 4-1 10 11 4 3 6 0 18-3 48 18 20 3 60 0 48-8 20-15 4-6 5-32 1-52 2-3 4 3 4 12 7 56 11 18 4 20 4 6 14 4 4 4 2 22 3 4 11 2 2 2 2 6 2 20-6 30-4 8-8 0-23 10-9 5-4 6-11 39 0 22 3 33 18 33 4 3 17 7 5 8 10 10 18 34 9 12 9 3 24 0 26 7 10 7 12 11 7 32-3 28-2 10-2 2-14 3-2-2-7-19-7-8-8-3-6 0-6 2-10 11-5 18-1 16 3 16 7 13 8 6 12 0 12-9 2 2-1 22 4 26 4 8 29 28 23 18 11 14 5 12 9 48 12 26 4 6 4 3 24 13 17 6 6 18-1 6zM2161 1641l-2 0-2-5 0-16 2-5 2 1 2 6 0 12zM2089 1794l-6-4-12-16-27-18-8-10 0-8 16-42 0-8-8-16-5-5-26-7-19-10-2-6 1-14 8-7 8-1 32-1 18 5 6 4 10 18 12 6 4 4 7 34 0 64-3 28-3 8zM1872 1672l19-4 11-10 3-5 1-5-3-7-4-5-10-5-10-3-22-1-14 3-12 8-3 6 0 10 2 4 5 6 14 7 16 2zM1823 1834l6-2 5-4 8-12 2-8 0-18-3-12-6-10-10-7-8-2-12 5-7 10-5 16-1 12 3 14 7 10 9 7zM2137 2068l-12-3-10-19-3-16 4-12 5-3 6 1 8 6 8 18 2 12 1 10-4 4zM1573 2119l-8-1-4-3-8-25 4-34 10-12 4-2 34-7 46-13 26-2 12 8 4 8 3 16-7 20-4 6-8 4-34 7-48 7-6 4-10 14zM2193 2057l-4 0-2-5 0-7 2-3 2-1 3 3 1 4 0 6zM1775 2136l-4 1-4-2-4-9-1-6 2-6 3-4 4-2 6 2 4 8 0 10-3 6zM2109 2160l-5 0-5-2-4-6-3-8 1-8 4-7 4-4 6-1 4 0 5 4 4 6 1 8-4 13z"/>
<path fill="#b4f5aa" d="M1797 1335l-8 1-18-1-3-5 0-6 3-2 6-2 36 0 6 2 0 3-3 3zM2091 2306l-60 0-3-4-2-8-2-28-3-15-4-7-8-3-10 2-6 3-6 8-2 1-2-1-25-54-22-54-11-44-5-10-19-28-10-4-20-3-8-3-11-18-5-20-4-4-20-4-20 1-12 3-28-5-5-5-9-50-2-24-1-32 2-50 4-18 2-28 5-22 8-14 4-3 16-3 6-3 14-17 2-6-2-6-11-22-8-36 0-4 3-10 2-24-2-6-6-6-10-8-8-5-6-1-36 0-30 9-8 7-9 16-3 3-24 2-8 5-7 10-23 46-2 2-2 0-4-6-9-20-6-18-8-18 2-16 4-10 7-28 8-18 4 0 8 5 6 1 22-3 50 19 20 2 60 0 38-6 14-4 23-18 4-6 3-11 2-1 11 14 4 18 3 6 6 6 12 5 5 17 5 8 12 4 2 2 2 22-6 28-2 3-38 17-7 8-11 38 0 24 2 12 0 20 8 16 12 20 6 5 16 7 14 16 15 30 13 16 8 5 28 3 22 8 10 7 9 9 5 26-2 24-2 5-2 1-2-1-8-15-11-10-9-1-8 2-6 4-10 12-6 19-1 20 1 14 4 12 10 14 6 2 12 0 3 2 6 28 7 14 31 28 23 18 10 14 3 8 6 30 5 21 14 29 6 6 14 8 24 11 3 3 2 6 0 6-1 2-4 1zM1872 1676l11-2 11-4 13-12 3-6 0-6-7-14-14-8-32-6-16 3-14 9-4 8 0 14 2 8 4 5 6 5 12 5 16 2zM2085 1774l-12-10-22-14-5-6 0-6 11-28 4-16-1-10-8-16-5-6-6-4-24-6-12-6-3-4-1-4 1-4 3-2 6-2 28 0 16 5 5 5 7 13 17 11 5 34 0 56zM1827 1836l11-8 10-14 1-6 0-20-4-12-7-12-11-8-10-2-14 6-10 12-5 18-1 14 4 14 8 10 12 8zM1607 1870l-4-2 0-6 10-42 4-8 16 22 3 12 0 4-7 11zM1571 2107l-2 0-2-2-5-17 1-16 3-12 7-8 10-3 45-17 23-6 24-2 6 3 6 5 3 6 3 14-6 18-4 7-8 3-32 6-52 2-7 4zM2135 2057l-4-1-7-12-3-12 2-4 2-1 2 1 6 12 3 12zM2107 2150l-4-2-1-6 1-5 4-3 3 2 2 6-2 6zM1985 2212l2-2 0-4-4-1-2 2 0 3 2 2z"/>
<path fill="#96f08c" d="M1851 1774l-2 0-12-15-8-6-8-2-18 3-1-2 9-14 1-8-12-26-9-38 3-10 2-16 8-12-3-10-10-12 0-2 4-2 34-7 28-20 9 19 9 9 12 7 4 4 1 4-5 0-14-4-7-6-7-1-8 0-12 3-12 6-10 7-5 7 6 10 2 16 2 6 8 8 7 5 10 4 16 2 30-8 6-3 12-11 2 0 1 5-2 10-3 4-38 18-6 6-13 40zM1611 1677l-2 0-3-5-12-34 1-8 4-10 7-28 3-4 18 0 14-3 43 17 1 2-1 2-7 8-8 13-4 2-18 1-6 3-6 5-8 10-12 25zM1913 1640l-2-4 0-5 2 3zM2071 1678l-3-6 1-2 3 2 0 4zM2075 1750l-14-7-2-5 16-45 2 10 0 31 0 12zM2091 2302l-52 1-6-1-5-10 0-24-3-14-5-12-6-4-7 0-12 3-10 7-2-1-28-63-16-40-11-42-23-38-10-4-26-5-6-3-10-18-5-20-5-5-18-6-34 5-24-6-4-2-11-50-3-28 0-28 4-34 2-16 5-12-2-26 3-22 6-14 4-5 23-5-9 28-1 16 3 14 11 12 13 8 18 0 13-10 13-21 21 31 5 5 16 7 10 12 3 4 3 12 14 22 12 14 10 5 28 7 18 10 11 10 2 6 1 10-2 2-8-4-4 0-16 5-10 8-9 13-6 24-2 30 2 14 4 10 4 8 7 6 13 6 10 18 11 16 30 26 23 18 9 12 4 10 6 30 5 20 16 32 5 5 16 9 21 10 4 6-1 3-4 2zM1621 1850l-1-2 1-4 2 2zM1647 2082l-24 1-36-5-10 3-2-3 0-6 2-7 2-3 21-12 28-14 25-7 18-1 8 2 6 6 5 14-1 10-5 12-9 5zM1985 2214l3-2 1-5-2-3-4-1-4 3 0 4 2 4z"/>
<path fill="#78eb6e" d="M1613 1639l-2-1 0-4 7-26 3-4 20-2 16 6 2 2-2 2-14 3-11 5-7 6zM1847 1761l-2 0-16-11-18-4 4-10 0-8-12-24-8-36 3-24 3-4 4-2 4 0 6 4 3 18 5 8 9 8 13 5 22 3 24-7 8-3 8-6 2 0 0 4-3 4-37 17-6 5-3 6-10 34zM2127 2298l-88 2-4-1-4-9 0-22-3-14-2-8-4-6-5-4-8-2-12 3-12 5-4-6-39-92-10-42-6-10-11-14-5-14-15-6-30-6-11-18-5-22-4-5-10-6-6-2-6 0-32 6-18-6-6-3-12-48-4-38 2-20 5-28 8-24-5-24 0-10 4-22 4-10 4-4 10-2 3 0 1 2-6 22 0 16 3 12 10 12 15 10 18 0 12-6 14-16 4-2 18 25 6 4 12 5 4 4 7 10 1 4-2 4 1 4 19 26 13 14 13 9 25 9 13 10 1 4-15 12-8 9-9 17-5 22-3 24-1 24 2 8 10 12 20 15 22 29 56 48 8 12 11 52 14 30 4 6 5 5 38 21 0 2-2 1zM1657 2078l-16 1-18-2-20-6-5-3-2-2 5-6 15-12 18-10 17-5 18-1 6 1 7 5 5 12 0 6-3 10-3 6-4 2zM1988 2214l3-4-1-6-5-3-4 1-4 6 1 6 5 2z"/>
<path fill="#50e450" d="M1843 1752l-24-10-1-16-11-22-8-34 3-22 3-5 4 0 2 2 4 19 12 13 10 6 20 4 4 3-11 32zM2091 2296l-52 0-3-2-1-4 0-24-3-12-3-10-4-6-6-5-8-2-8 0-14 5-4-2-6-14 2-2 6-1 4-3 1-4 0-6-3-3-6-1-10 6-4-6-24-59-9-39-6-10-13-16 0-5 4-5 1-2-2-2-27-6-22-3-6-3-10-18-4-20-2-5-6-6-8-5-10-2-34 7-14-5-6-4-13-44-4-36 3-22 3-16 12-28-1-10-6-20-1-10 4-24 7-10 4 0 1 2-3 20 0 12 2 10 3 6 9 9 16 10 6 2 14 0 12-6 14-14 4-1 18 22 6 4 10 4 4 4 4 6 0 2-6 4-1 4 29 34 22 21 24 13 4 4 0 4-11 18-7 18-10 48-3 24 0 6 7 10 31 24 21 26 31 28 21 16 9 12 3 6 5 30 5 20 15 32 9 10 27 16-1 2-4 1zM1653 2076l-12 0-12-3-14-7-2-4 10-12 16-10 14-4 16 0 6 1 5 5 4 10 0 8-3 7-4 5-4 2z"/>
<path fill="#32c03c" d="M1833 1720l-12-24 0-3 18 7 0 6-4 13zM1907 2056l-6 0-34-6-11-18-2-8-1-12-3-8-5-6-8-6-8-3-4 0-34 8-10-4-6-5-14-42-4-34 3-22 5-16 6-10 8-8 12-2 6-4 14 3 24-1 8-2 12-8 9 10 0 6 4 6 35 29 40 41 17 12 0 4-9 28-7 30-1 10-9 32-5 4zM1669 2072l-20 2-10-2-12-6-3-4 0-4 7-9 12-7 10-2 18 0 4 2 4 5 3 9-1 6-4 6zM2105 2291l-20 1-42-1-2-3-1-22-2-14-4-12-4-6-9-7-8-2-8 0-14 3-4-2-1-4 6-4 3-4 1-6-1-6-6-5-6-1-7 2-3-3-22-55-9-40-9-12-8-8-1-4 7-3 6 1 28 19 12 10 10 11 7 10 13 13 42 36 8 13 5 30 8 28 15 28 6 7 15 9 1 2z"/>
<path fill="#1ea22a" d="M1903 2054l-32-4-4-2-3-8-5-5-2-5-3-20-3-10-10-10-10-6-4 0-30 9-6 1-6-3-6-5-6-14-10-28-4-28 1-8 5-22 4-10 6-7 6-2 58-1 16 3 6 2 20 11 22 18 25 24 13 15 10 9 1 6-11 52-1 10-8 24-5 7zM1667 2070l-16 1-10-2-9-7 0-6 5-6 10-5 10-2 13 1 7 6 2 8-1 6-3 3z"/>
<path fill="#0c921e" d="M1903 2052l-32-3-4-3-2-7-5-5-3-7-2-21-2-8-8-11-10-6-4-2-6 1-32 10-6-2-4-4-6-12-10-28-5-28 0-8 6-18 4-10 4-4 9-4 24-2 30 0 16 4 24 15 26 19 20 18 12 17 8 7 0 6-4 38-4 22-5 8-3 11-6 7zM1667 2068l-14 1-8-2-7-5 0-6 3-4 8-4 12-1 8 1 6 5 2 5-2 6z"/>
<path fill="#008618" d="M1901 2050l-28-3-4-2-3-7-5-5-3-7-3-30-8-12-12-8-4-2-6 1-20 6-10 5-4 0-4-4-18-40-5-26 1-8 7-18 5-9 12-5 18-3 34 0 10 5 36 25 12 7 25 20 9 17 7 7-2 40-4 20-5 8-5 12-7 7zM1663 2066l-10 0-6-1-5-5 1-4 4-3 6-2 10 0 6 1 5 4 0 4-3 4z"/>
<path fill="#fff6ba" d="M1903 2047l-14 0-18-3-3-6-6-6-2-6-2-26-2-6-7-12-13-10-9-1-22 6-10 5-4-2-16-30-4-11-4-23 1-8 6-14 5-9 14-5 16-4 30 0 46 31 16 9 20 16 9 18 6 6-1 36-3 20-9 18-6 7zM1667 2063l-14 0-4-2-2-3 6-3 12 0 5 3 0 2z"/>
<path fill="#ffe282" d="M1901 2043l-10 1-16-1-2-1-3-6-7-5-2-7-1-26-2-6-6-10-13-11-6-3-6 0-30 6-2 0-4-4-13-22-4-10-4-22 1-6 4-12 7-10 29-10 26 2 46 30 18 10 18 15 13 25 0 32-4 20-7 14-6 7z"/>
<path fill="#ffbc40" d="M1895 2038l-18 0-12-8-3-8-1-30-8-12-12-10-6-3-6-2-30 2-4-2-10-11-6-16-4-24 3-14 6-8 27-10 24 1 14 7 32 23 18 10 18 15 11 24 1 26-3 22-5 10-4 5-16 11z"/>
<path fill="#ffa000" d="M1893 2032l-12 1-14-5-3-6 0-24-1-8-8-11-13-11-11-5-30-3-13-10-5-14-4-24 2-10 4-5 26-11 24 2 18 8 26 19 20 12 15 13 6 12 4 12 1 24-2 22-3 6-3 4-18 10z"/>
<path fill="#ff7000" d="M1891 2027l-16 0-6-1-2-4 0-26-2-8-7-10-14-12-11-5-30-7-12-7-4-11-3-26 0-6 3-4 26-11 12 2 20 4 9 5 33 25 10 5 14 12 6 12 2 8 2 28-2 22-4 5-10 3-8 5z"/>
<path fill="#ff3400" d="M1875 2022l-2 0-2-3-1-31-7-10-24-19-36-13-8-4-2-8-4-24 0-4 2-2 22-9 32 5 50 34 12 12 7 12 0 24 2 10-1 18-2 2-14 2-6 5z"/>
<path fill="#e21600" d="M1889 1975l-18-4-18-9-12-12-10-14-4-8 0-4 12-5 10-1 18 3 12 7 10 12 6 14-1 12-2 6z"/>
<path fill="#cc0000" d="M1873 1958l-6 2-6-1-8-9-2-6 0-8 4-5 4-3 6-1 6 1 6 4 2 4 1 14z"/>
<path fill="#a80000" d="M1869 1953l-4 1-3-2-5-8 2-7 6-4 6 1 4 6-1 8z"/>
</g></g>
<line x1="408.4" y1="314.8" x2="408.4" y2="579.6" class="grid"/>
<line x1="464.8" y1="314.8" x2="464.8" y2="579.6" class="grid"/>
<line x1="521.2" y1="314.8" x2="521.2" y2="579.6" class="grid"/>
<line x1="380.0" y1="370.2" x2="564.0" y2="370.2" class="grid"/>
<line x1="380.0" y1="457.8" x2="564.0" y2="457.8" class="grid"/>
<line x1="380.0" y1="545.4" x2="564.0" y2="545.4" class="grid"/>
<g class="ml"><polyline points="407.5,314.8 407.6,359.4"/><polyline points="407.6,325.6 564.0,325.6"/><polyline points="548.6,325.6 548.6,575.6"/><polyline points="548.6,314.8 548.6,325.6"/><polyline points="490.2,575.5 564.0,575.5"/><polyline points="386.5,523.5 490.2,575.5"/><polyline points="407.6,359.4 409.3,362.3 410.5,364.8 412.2,366.1 413.8,366.9 415.5,369.8 416.7,373.1 418.0,375.6 418.4,376.8"/><polyline points="407.6,359.4 406.4,361.5 405.1,364.8 403.9,368.5 402.2,369.4 401.0,368.5 399.7,366.5 398.9,364.4 397.7,362.7 395.6,362.5 394.3,363.0 392.3,363.0 389.8,363.3 387.3,364.0 384.0,364.8 385.5,366.8 386.9,369.0 387.3,364.0"/><polyline points="397.7,362.7 396.8,358.2 397.7,354.0 398.1,349.9 398.5,345.7 398.5,344.5"/><polyline points="398.7,362.3 398.2,357.8 398.6,353.3 397.6,348.3 397.2,347.3"/><polyline points="386.9,369.0 388.1,371.4 388.5,374.8 389.3,379.0 389.3,388.9 389.9,396.9 390.5,404.8 389.9,411.8 390.9,420.8 391.1,420.3 393.6,425.3 396.9,433.6 400.2,438.5 404.4,443.5 403.5,445.2 400.2,450.2 396.9,455.1 394.4,460.1 393.6,465.1 392.8,471.7 390.3,480.0 387.8,485.0 388.6,490.0 389.4,496.6 390.3,500.3 393.6,501.6 394.9,504.3 394.9,508.3 393.6,510.3 390.3,510.9 388.3,512.2 386.9,514.9 386.3,518.9 386.5,523.5"/><polyline points="380.0,402.9 389.9,411.8"/><polyline points="380.0,515.6 386.9,515.2"/><polyline points="380.0,550.7 382.3,551.4 384.3,553.3 385.6,556.0 386.9,558.7 390.3,560.0 394.2,562.6 398.2,565.3 402.2,567.3 405.5,568.6 408.2,567.3 408.8,564.0 409.5,562.0 410.8,564.0 413.5,565.3 416.8,566.6 418.8,569.3 419.4,574.6 420.8,576.6 424.7,577.9 430.0,579.1"/><polyline points="385.0,556.0 383.6,564.0 383.0,571.9 383.0,579.6"/><polyline points="477.4,323.8 479.9,323.2 482.4,322.6 484.9,320.1 486.7,318.9 488.6,320.1 490.4,321.3 492.3,320.7 494.8,320.1 496.0,317.6 497.2,316.4 499.7,316.7 502.2,317.0 501.6,318.3 499.1,318.3 496.6,318.3 495.4,318.9"/><polyline points="479.3,327.5 481.1,328.5 483.0,327.5 484.9,325.7 488.0,325.4 488.6,323.2 487.3,321.3"/></g>
<rect x="380.0" y="314.8" width="184.0" height="264.8" class="frame"/>
<line x1="408.40" y1="579.6" x2="408.40" y2="584.8" class="tick"/>
<line x1="464.80" y1="579.6" x2="464.80" y2="584.8" class="tick"/>
<line x1="521.20" y1="579.6" x2="521.20" y2="584.8" class="tick"/>
<g transform="translate(396.77 591.58) scale(0.8700 0.8750)" fill="none" stroke="#1e1e1e" stroke-width="1.15" stroke-linecap="round" stroke-linejoin="round" class="st"><path transform="translate(0.00 0)" d="M0.5 1.7L2.4 0V10"/><path transform="translate(7.00 0)" d="M0.5 1.7L2.4 0V10"/><path transform="translate(14.00 0)" d="M3.8 10V0L0 7.3H5"/><path transform="translate(21.00 0)" d="M0 0L1.9 10L4.0 1.6L6.1 10L8.0 0"/></g>
<g transform="translate(453.17 591.58) scale(0.8700 0.8750)" fill="none" stroke="#1e1e1e" stroke-width="1.15" stroke-linecap="round" stroke-linejoin="round" class="st"><path transform="translate(0.00 0)" d="M0.5 1.7L2.4 0V10"/><path transform="translate(7.00 0)" d="M0.5 1.7L2.4 0V10"/><path transform="translate(14.00 0)" d="M0.2 2.5Q0.5 0 2.4 0Q4.6 0 4.6 2.6Q4.6 4.6 0.1 10H4.8"/><path transform="translate(21.00 0)" d="M0 0L1.9 10L4.0 1.6L6.1 10L8.0 0"/></g>
<g transform="translate(509.57 591.58) scale(0.8700 0.8750)" fill="none" stroke="#1e1e1e" stroke-width="1.15" stroke-linecap="round" stroke-linejoin="round" class="st"><path transform="translate(0.00 0)" d="M0.5 1.7L2.4 0V10"/><path transform="translate(7.00 0)" d="M0.5 1.7L2.4 0V10"/><path transform="translate(14.00 0)" d="M2.4 0Q0.1 0 0.1 5Q0.1 10 2.4 10Q4.7 10 4.7 5Q4.7 0 2.4 0Z"/><path transform="translate(21.00 0)" d="M0 0L1.9 10L4.0 1.6L6.1 10L8.0 0"/></g>
<g fill="none" stroke="#5a5a5a" stroke-width="0.9"><ellipse cx="358.60" cy="457.85" rx="3.70" ry="5.65"/><line x1="362.70" y1="447.20" x2="362.70" y2="463.50"/></g>
<rect x="610.5" y="314.50" width="17.9" height="265.10" fill="#4e0000"/>
<rect x="610.5" y="323.05" width="17.9" height="256.55" fill="#800000"/>
<rect x="610.5" y="331.60" width="17.9" height="248.00" fill="#a80000"/>
<rect x="610.5" y="340.15" width="17.9" height="239.45" fill="#cc0000"/>
<rect x="610.5" y="348.71" width="17.9" height="230.89" fill="#e21600"/>
<rect x="610.5" y="357.26" width="17.9" height="222.34" fill="#ff3400"/>
<rect x="610.5" y="365.81" width="17.9" height="213.79" fill="#ff7000"/>
<rect x="610.5" y="374.36" width="17.9" height="205.24" fill="#ffa000"/>
<rect x="610.5" y="382.91" width="17.9" height="196.69" fill="#ffbc40"/>
<rect x="610.5" y="391.46" width="17.9" height="188.14" fill="#ffe282"/>
<rect x="610.5" y="400.02" width="17.9" height="179.58" fill="#fff6ba"/>
<rect x="610.5" y="408.57" width="17.9" height="171.03" fill="#008618"/>
<rect x="610.5" y="417.12" width="17.9" height="162.48" fill="#0c921e"/>
<rect x="610.5" y="425.67" width="17.9" height="153.93" fill="#1ea22a"/>
<rect x="610.5" y="434.22" width="17.9" height="145.38" fill="#32c03c"/>
<rect x="610.5" y="442.77" width="17.9" height="136.83" fill="#50e450"/>
<rect x="610.5" y="451.33" width="17.9" height="128.27" fill="#78eb6e"/>
<rect x="610.5" y="459.88" width="17.9" height="119.72" fill="#96f08c"/>
<rect x="610.5" y="468.43" width="17.9" height="111.17" fill="#b4f5aa"/>
<rect x="610.5" y="476.98" width="17.9" height="102.62" fill="#cdfac8"/>
<rect x="610.5" y="485.53" width="17.9" height="94.07" fill="#e8ffe4"/>
<rect x="610.5" y="494.08" width="17.9" height="85.52" fill="#ac4242"/>
<rect x="610.5" y="502.64" width="17.9" height="76.96" fill="#c45858"/>
<rect x="610.5" y="511.19" width="17.9" height="68.41" fill="#de6c6c"/>
<rect x="610.5" y="519.74" width="17.9" height="59.86" fill="#e88080"/>
<rect x="610.5" y="528.29" width="17.9" height="51.31" fill="#e49ea0"/>
<rect x="610.5" y="536.84" width="17.9" height="42.76" fill="#f6b2b2"/>
<rect x="610.5" y="545.39" width="17.9" height="34.21" fill="#ffcaca"/>
<rect x="610.5" y="553.95" width="17.9" height="25.65" fill="#ffe4e6"/>
<rect x="610.5" y="562.50" width="17.9" height="17.10" fill="#ffffff"/>
<rect x="610.5" y="571.05" width="17.9" height="8.55" fill="#cdf2fa"/>
<rect x="610.5" y="314.5" width="17.9" height="265.1" class="cbf"/>
<line x1="610.5" y1="536.84" x2="612.1" y2="536.84" class="cbt"/>
<line x1="626.8" y1="536.84" x2="628.4" y2="536.84" class="cbt"/>
<g transform="translate(631.40 533.22) scale(0.7500 0.8050)" fill="none" stroke="#1e1e1e" stroke-width="1.15" stroke-linecap="round" stroke-linejoin="round" class="st"><path transform="translate(0.00 0)" d="M2.4 0Q0.1 0 0.1 5Q0.1 10 2.4 10Q4.7 10 4.7 5Q4.7 0 2.4 0Z"/><path transform="translate(7.20 0)" d="M0.7 9.2h0.6v0.6h-0.6z"/><path transform="translate(10.90 0)" d="M4.3 0.1H0.9L0.5 4.4Q1.3 3.6 2.5 3.6Q4.8 3.6 4.8 6.8Q4.8 10 2.4 10Q0.7 10 0 8.7"/></g>
<line x1="610.5" y1="494.08" x2="612.1" y2="494.08" class="cbt"/>
<line x1="626.8" y1="494.08" x2="628.4" y2="494.08" class="cbt"/>
<g transform="translate(631.10 490.46) scale(0.7500 0.8050)" fill="none" stroke="#1e1e1e" stroke-width="1.15" stroke-linecap="round" stroke-linejoin="round" class="st"><path transform="translate(0.00 0)" d="M0.5 1.7L2.4 0V10"/></g>
<line x1="610.5" y1="451.33" x2="612.1" y2="451.33" class="cbt"/>
<line x1="626.8" y1="451.33" x2="628.4" y2="451.33" class="cbt"/>
<g transform="translate(631.10 447.70) scale(0.7500 0.8050)" fill="none" stroke="#1e1e1e" stroke-width="1.15" stroke-linecap="round" stroke-linejoin="round" class="st"><path transform="translate(0.00 0)" d="M0.5 1.7L2.4 0V10"/><path transform="translate(7.20 0)" d="M0.7 9.2h0.6v0.6h-0.6z"/><path transform="translate(10.90 0)" d="M4.3 0.1H0.9L0.5 4.4Q1.3 3.6 2.5 3.6Q4.8 3.6 4.8 6.8Q4.8 10 2.4 10Q0.7 10 0 8.7"/></g>
<line x1="610.5" y1="408.57" x2="612.1" y2="408.57" class="cbt"/>
<line x1="626.8" y1="408.57" x2="628.4" y2="408.57" class="cbt"/>
<g transform="translate(631.40 404.94) scale(0.7500 0.8050)" fill="none" stroke="#1e1e1e" stroke-width="1.15" stroke-linecap="round" stroke-linejoin="round" class="st"><path transform="translate(0.00 0)" d="M0.2 2.5Q0.5 0 2.4 0Q4.6 0 4.6 2.6Q4.6 4.6 0.1 10H4.8"/></g>
<line x1="610.5" y1="365.81" x2="612.1" y2="365.81" class="cbt"/>
<line x1="626.8" y1="365.81" x2="628.4" y2="365.81" class="cbt"/>
<g transform="translate(631.40 362.18) scale(0.7500 0.8050)" fill="none" stroke="#1e1e1e" stroke-width="1.15" stroke-linecap="round" stroke-linejoin="round" class="st"><path transform="translate(0.00 0)" d="M0.2 2.5Q0.5 0 2.4 0Q4.6 0 4.6 2.6Q4.6 4.6 0.1 10H4.8"/><path transform="translate(7.20 0)" d="M0.7 9.2h0.6v0.6h-0.6z"/><path transform="translate(10.90 0)" d="M4.3 0.1H0.9L0.5 4.4Q1.3 3.6 2.5 3.6Q4.8 3.6 4.8 6.8Q4.8 10 2.4 10Q0.7 10 0 8.7"/></g>
<line x1="610.5" y1="323.05" x2="612.1" y2="323.05" class="cbt"/>
<line x1="626.8" y1="323.05" x2="628.4" y2="323.05" class="cbt"/>
<g transform="translate(631.48 319.43) scale(0.7500 0.8050)" fill="none" stroke="#1e1e1e" stroke-width="1.15" stroke-linecap="round" stroke-linejoin="round" class="st"><path transform="translate(0.00 0)" d="M0.3 0.15H4.5L2.0 4.1Q4.8 4.1 4.8 7.0Q4.8 10 2.4 10Q0.7 10 0 8.7"/></g></svg></body></html>
